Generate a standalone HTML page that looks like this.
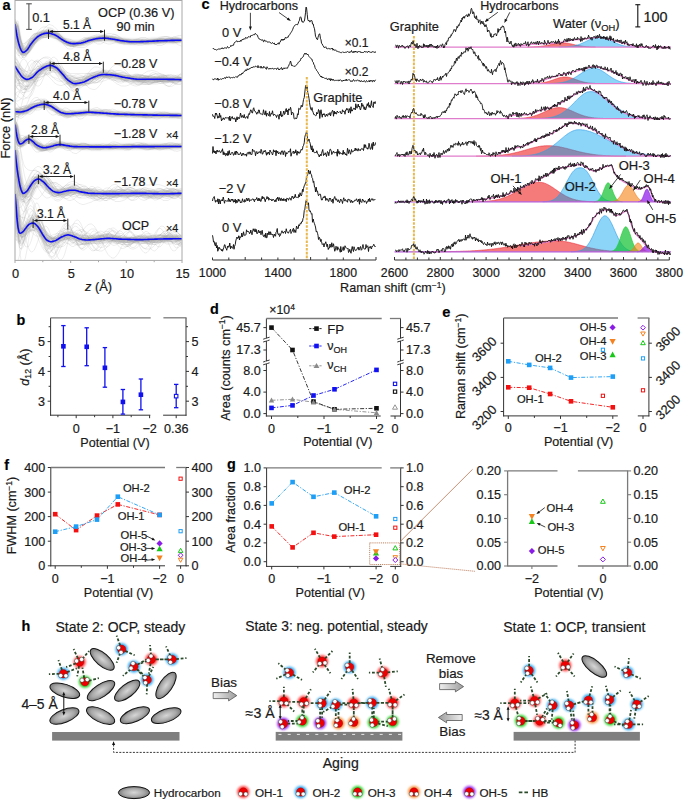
<!DOCTYPE html>
<html><head><meta charset="utf-8"><style>
html,body{margin:0;padding:0;background:#fff;}
svg{display:block;}
text{font-family:"Liberation Sans", sans-serif;stroke:#1a1a1a;stroke-width:0.2px;}
</style></head><body>
<svg width="685" height="802" viewBox="0 0 685 802">
<rect width="685" height="802" fill="#fff"/>
<clipPath id="clipA"><rect x="15.0" y="0.5" width="167.0" height="259.9"/></clipPath>
<filter id="blurA" x="-5%" y="-50%" width="110%" height="200%"><feGaussianBlur stdDeviation="1.2"/></filter>
<g clip-path="url(#clipA)"><g filter="url(#blurA)" fill="none" stroke="#cdcdcd" stroke-width="5" stroke-linejoin="round"><polyline points="15,24 18,40.6 21,49.8 24,52.2 27,50 30,45.4 33,41.5 36,38.2 39,35.9 42,34.2 45,33.4 48,33.1 51,33.6 54,34.6 57,36.1 60,38.2 63,40.1 66,41.8 69,42.9 72,43.5 75,43.6 78,43.4 81,43.1 84,42.2 87,41.2 90,40.2 93,39.4 96,38.8 99,38.4 102,38.2 105,38.1 108,38.4 111,38.9 114,39.3 117,39.9 120,40.5 123,40.9 126,41.3 129,41.6 132,41.8 135,41.8 138,41.7 141,41.6 144,41.5 147,41.4 150,41.3 153,41.1 156,41 159,40.8 162,40.7 165,40.6 168,40.5 171,40.4 174,40.4 177,40.3 180,40.2"/><polyline points="15,66 18,71 21,75.4 24,78.2 27,79.4 30,78.6 33,76.8 36,73.5 39,70.7 42,68.6 45,67 48,65.7 51,65.4 54,66.5 57,68.2 60,71.3 63,74.6 66,78.2 69,80.8 72,82.7 75,83.6 78,83.3 81,82.7 84,81.9 87,80.5 90,78.9 93,77.5 96,76.3 99,75.3 102,74.6 105,74.5 108,74.7 111,74.9 114,75.2 117,75.8 120,76.5 123,77.2 126,77.7 129,78.1 132,78.6 135,79 138,79.2 141,79.3 144,79.3 147,79.3 150,79.3 153,79.3 156,79.3 159,79.3 162,79.3 165,79.3 168,79.4 171,79.4 174,79.4 177,79.5 180,79.6"/><polyline points="15,111.5 18,111.9 21,112 24,111.4 27,110.4 30,108.9 33,107.3 36,105.9 39,105 42,104.4 45,104.2 48,105 51,106.3 54,108.2 57,110.1 60,112 63,113 66,113.7 69,113.8 72,113.6 75,113.4 78,113.2 81,112.9 84,112.6 87,112.3 90,112.3 93,112.4 96,112.6 99,112.8 102,113 105,113.2 108,113.5 111,113.7 114,113.9 117,114.1 120,114.2 123,114.3 126,114.4 129,114.5 132,114.6 135,114.7 138,114.7 141,114.8 144,114.9 147,114.9 150,115 153,115.1 156,115.1 159,115.2 162,115.2 165,115.3 168,115.3 171,115.4 174,115.4 177,115.4 180,115.5"/><polyline points="15,124.5 18,140.5 21,143.8 24,141.9 27,139.6 30,139.3 33,141.6 36,144.5 39,146.2 42,147.4 45,147.7 48,147.2 51,146.5 54,145.5 57,144.9 60,144.6 63,144.9 66,145.5 69,145.9 72,146.4 75,146.6 78,146.7 81,146.7 84,146.8 87,146.8 90,146.9 93,146.9 96,146.9 99,146.9 102,146.9 105,146.9 108,146.9 111,146.9 114,146.8 117,146.8 120,146.8 123,146.7 126,146.7 129,146.7 132,146.6 135,146.6 138,146.6 141,146.6 144,146.6 147,146.6 150,146.6 153,146.6 156,146.5 159,146.5 162,146.5 165,146.5 168,146.5 171,146.5 174,146.5 177,146.5 180,146.5"/><polyline points="15,150 18,174.9 21,189.5 24,193.2 27,191 30,186.5 33,182.3 36,179.7 39,179.1 42,180.8 45,183.4 48,186.8 51,189.6 54,191.6 57,192.4 60,192.5 63,191.8 66,191.1 69,190.4 72,190.3 75,190.3 78,191 81,191.9 84,192.4 87,192.9 90,193.3 93,193.4 96,193.5 99,193.5 102,193.6 105,193.6 108,193.6 111,193.6 114,193.6 117,193.6 120,193.5 123,193.5 126,193.5 129,193.5 132,193.4 135,193.4 138,193.4 141,193.4 144,193.4 147,193.5 150,193.5 153,193.6 156,193.6 159,193.7 162,193.7 165,193.7 168,193.7 171,193.6 174,193.6 177,193.5 180,193.4"/><polyline points="15,194 18,227.3 21,232.9 24,230.5 27,226.5 30,223.9 33,223 36,224.8 39,228.3 42,233.4 45,238 48,240.8 51,241.7 54,241.1 57,239.8 60,237.8 63,236.4 66,235.2 69,235 72,235.8 75,236.9 78,238.3 81,239.2 84,239.8 87,240 90,239.9 93,239.6 96,239.4 99,239.1 102,238.8 105,238.5 108,238.4 111,238.5 114,238.7 117,238.9 120,239.1 123,239.2 126,239.3 129,239.4 132,239.5 135,239.6 138,239.6 141,239.6 144,239.5 147,239.5 150,239.3 153,239.2 156,239.1 159,239 162,239 165,238.9 168,238.9 171,238.9 174,238.8 177,238.8 180,238.8"/></g></g>
<g clip-path="url(#clipA)"><g transform="scale(0.5)" fill="none" stroke="#a8a8a8" stroke-width="1.2" stroke-opacity="0.33"><path d="M30 52l3 17 3 12 3 10 3 6 3 3 3 0 3-2 3-3 3-4 3-4 3-4 3-3 3-3 3-3 3-2 3-1 3-2 3-1 3 0 3 0 3-1 3 1 3 0 3 1 3 1 3 2 3 1 3 2 3 2 3 2 3 2 3 2 3 1 3 2 3 1 3 0 3 1 3 0 3 0 3 0 3-1 3 0 3-1 3 0 3-1 3-2 3-1 3-1 3-1 3-1 3-1 3-1 3-1 3 0 3-1 3 0 3 0 3 0 3 0 3 0 3 0 3 1 3 0 3 1 3 1 3 1 3 0 3 1 3 1 3 1 3 0 3 1 3 0 3 1 3 0 3 1 3 0 3 0 3 0 3 0 3 0 3 0 3 0 3 0 3-1 3 0 3 0 3 0 3-1 3 0 3 0 3-1 3 0 3 0 3-1 3 0 3 0 3 0 3-1 3 0 3 0 3 0 3 0 3 0 3-1 3 0 3 0 3 0 3 0 3 0 3 0"/><path d="M30 64l3 14 3 10 3 6 3 4 3 1 3-1 3-3 3-3 3-4 3-4 3-3 3-2 3-2 3-1 3-1 3-1 3-1 3-1 3 0 3-1 3-1 3 0 3-1 3 0 3 0 3 0 3 0 3 1 3 1 3 2 3 1 3 2 3 2 3 2 3 2 3 2 3 2 3 1 3 1 3 1 3 1 3 1 3 0 3 0 3-1 3-1 3-2 3-2 3-2 3-1 3-2 3-2 3-2 3-1 3-1 3-1 3-1 3 0 3 0 3 1 3 1 3 1 3 1 3 1 3 2 3 1 3 1 3 2 3 0 3 1 3 1 3 0 3 0 3 0 3-1 3 0 3-1 3 0 3-1 3 0 3-1 3 0 3 0 3 0 3 0 3 1 3 0 3 1 3 0 3 1 3 0 3 0 3 1 3 0 3-1 3 0 3 0 3-1 3-1 3-1 3 0 3-1 3-1 3-1 3 0 3-1 3 0 3 0 3 0 3 1 3 0"/><path d="M30 38l3 17 3 17 3 14 3 10 3 8 3 3 3 2 3-1 3-2 3-4 3-4 3-4 3-5 3-5 3-6 3-5 3-5 3-5 3-4 3-4 3-2 3-3 3-1 3 1 3 1 3 2 3 3 3 3 3 5 3 5 3 4 3 5 3 4 3 4 3 3 3 2 3 1 3 1 3 0 3-1 3-2 3-1 3-2 3-2 3-2 3-3 3-2 3-1 3-2 3 0 3 0 3 0 3 1 3 2 3 1 3 2 3 1 3 2 3 1 3 1 3 1 3 1 3 0 3 0 3-1 3-1 3-1 3-1 3-2 3-1 3-1 3-1 3-1 3 0 3 0 3 0 3 1 3 1 3 1 3 1 3 2 3 1 3 1 3 1 3 0 3 1 3 0 3-1 3-1 3-1 3-1 3-2 3-2 3-1 3-2 3-2 3-1 3-1 3 0 3 0 3 0 3 0 3 1 3 2 3 1 3 1 3 2 3 1 3 2 3 1 3 1"/><path d="M30 56l3 0 3 7 3 16 3 11 3 7 3 4 3 0 3-3 3-3 3-4 3-5 3-4 3-2 3-3 3-1 3-2 3 0 3-1 3-1 3 0 3-1 3-1 3-1 3-1 3 0 3 0 3 0 3 1 3 1 3 2 3 2 3 2 3 3 3 2 3 2 3 2 3 2 3 2 3 0 3 1 3 0 3-1 3 0 3-1 3-1 3-2 3-2 3-1 3-2 3-1 3-1 3-1 3 0 3-1 3 1 3 0 3 0 3 0 3 1 3 0 3 0 3 0 3 1 3 0 3 0 3 0 3 0 3 0 3 0 3 0 3 1 3 0 3 1 3 0 3 1 3 1 3 0 3 1 3 0 3 1 3 0 3 0 3 0 3-1 3 0 3 0 3-1 3 0 3-1 3 0 3 0 3-1 3 0 3 0 3 0 3 0 3 0 3 1 3 0 3 0 3 0 3 0 3 0 3 0 3-1 3 0 3 0 3 0 3 0 3-1 3 0"/><path d="M30 48l3 5 3 20 3 15 3 12 3 7 3 4 3 0 3-3 3-3 3-6 3-5 3-5 3-5 3-5 3-4 3-4 3-2 3-3 3-1 3-2 3 0 3 0 3 0 3 1 3 2 3 2 3 1 3 2 3 3 3 2 3 3 3 2 3 2 3 1 3 2 3 0 3 1 3 0 3 0 3 0 3-1 3 0 3 0 3-1 3 0 3-1 3-1 3-1 3 0 3-1 3-1 3 0 3-1 3-1 3 0 3-1 3 0 3 0 3-1 3 0 3 1 3 0 3 0 3 1 3 0 3 1 3 1 3 0 3 1 3 1 3 0 3 1 3 0 3 0 3 0 3 0 3 0 3 0 3-1 3 0 3-1 3 0 3 0 3 0 3 0 3 0 3 0 3 0 3 1 3 0 3 1 3 0 3 1 3 0 3 1 3 0 3 0 3 0 3 0 3-1 3 0 3-1 3 0 3-1 3-1 3-1 3 0 3-1 3 0 3-1 3 0"/><path d="M30 92l3 5 3 2 3 0 3-3 3-4 3-3 3-4 3-4 3-2 3-2 3 0 3-1 3 0 3-1 3 0 3-1 3-1 3-2 3-2 3-1 3-2 3-1 3 0 3 0 3 2 3 1 3 3 3 3 3 4 3 3 3 3 3 3 3 2 3 2 3 0 3 0 3-1 3-1 3-1 3-2 3-1 3-1 3-1 3-1 3 0 3 0 3-1 3 0 3 0 3 0 3 0 3-1 3-1 3-1 3-1 3-2 3-1 3-1 3-1 3 0 3 0 3 1 3 1 3 2 3 1 3 2 3 2 3 1 3 2 3 1 3 0 3 0 3 0 3-1 3 0 3-1 3 0 3-1 3 0 3 1 3 0 3 1 3 1 3 1 3 0 3 1 3 0 3 0 3-1 3-1 3-1 3-1 3-2 3-1 3-1 3-1 3 0 3 0 3 0 3 1 3 1 3 1 3 0 3 1 3 0 3 0 3-1 3 0 3-1 3-1 3-1"/><path d="M30 47l3 1 3 2 3 20 3 16 3 11 3 7 3 4 3-1 3-2 3-4 3-6 3-5 3-5 3-4 3-5 3-3 3-3 3-2 3-1 3-1 3 0 3 0 3 0 3 0 3 2 3 1 3 1 3 1 3 2 3 2 3 1 3 2 3 1 3 2 3 1 3 1 3 1 3 1 3 0 3 1 3 0 3 0 3 0 3 0 3 0 3 0 3-1 3-1 3-1 3-1 3-1 3-1 3-1 3-1 3-1 3-1 3 0 3 0 3 0 3 0 3 0 3 1 3 1 3 0 3 1 3 1 3 0 3 1 3 1 3 0 3 0 3 0 3 0 3 0 3 0 3 0 3 1 3 0 3 0 3 0 3 0 3 0 3 0 3 0 3 1 3 0 3 0 3-1 3 0 3 0 3 0 3-1 3 0 3-1 3 0 3-1 3 0 3 0 3 0 3 0 3 0 3 0 3 1 3 0 3 0 3 0 3 0 3 0 3 0 3 0 3 0"/><path d="M30 56l3 13 3 15 3 11 3 7 3 4 3 0 3-2 3-3 3-5 3-5 3-5 3-4 3-3 3-3 3-3 3-2 3-2 3-2 3-1 3-1 3-1 3-1 3 0 3 1 3 1 3 1 3 2 3 2 3 2 3 3 3 3 3 3 3 3 3 2 3 2 3 2 3 1 3 1 3 0 3 0 3-1 3-1 3-1 3-1 3-2 3-2 3-2 3-2 3-2 3-2 3-1 3 0 3-1 3 0 3 0 3 0 3 1 3 0 3 1 3 1 3 0 3 1 3 1 3 1 3 0 3 1 3 0 3 1 3 0 3 1 3 0 3 0 3 0 3 0 3 0 3 1 3 0 3 0 3 0 3 0 3 0 3-1 3 0 3 0 3-1 3 0 3-1 3 0 3 0 3-1 3 0 3 0 3 0 3 0 3 0 3 1 3 0 3 1 3 0 3 1 3 0 3 1 3 0 3 0 3 0 3 0 3 0 3-1 3 0 3-1 3-1"/><path d="M30 48l3 13 3 10 3 8 3 6 3 2 3 0 3-1 3-2 3-2 3-2 3-2 3-2 3-1 3-1 3-1 3 0 3-1 3 0 3 0 3 0 3 0 3 0 3 1 3 0 3 1 3 1 3 2 3 1 3 2 3 2 3 2 3 2 3 1 3 2 3 1 3 0 3 1 3-1 3 0 3-1 3 0 3-1 3-2 3-1 3-2 3-1 3-2 3-2 3-2 3-2 3-1 3-1 3-1 3-1 3 0 3 0 3 0 3 0 3 1 3 1 3 1 3 2 3 1 3 2 3 1 3 2 3 2 3 1 3 1 3 2 3 0 3 1 3 1 3 0 3 0 3 0 3 0 3-1 3 0 3-1 3-1 3 0 3-1 3-1 3-1 3 0 3-1 3 0 3-1 3 0 3-1 3 0 3-1 3 0 3 0 3 0 3-1 3 0 3 0 3 0 3 0 3-1 3 0 3 0 3 0 3 0 3 0 3 0 3 0 3 1 3 0"/><path d="M30 93l3 5 3 4 3 0 3-2 3-3 3-4 3-4 3-5 3-4 3-4 3-3 3-3 3-2 3-1 3-1 3-1 3 0 3 1 3 0 3 1 3 1 3 1 3 1 3 2 3 1 3 2 3 1 3 2 3 2 3 2 3 1 3 2 3 1 3 0 3 0 3 1 3-1 3 0 3-1 3 0 3-1 3 0 3-1 3-1 3-1 3 0 3-1 3-1 3 0 3-1 3 0 3 0 3 0 3 0 3 0 3 1 3 0 3 0 3 0 3 1 3 0 3 1 3 0 3 0 3 0 3 0 3 0 3 1 3 0 3-1 3 0 3 0 3 0 3-1 3 0 3 0 3 0 3 0 3 0 3 0 3 0 3 0 3 0 3 1 3 0 3 1 3 0 3 1 3 0 3 0 3 1 3 0 3 0 3 0 3 1 3 0 3 0 3-1 3 0 3 0 3-1 3 0 3-1 3 0 3-1 3 0 3-1 3-1 3 0 3 0 3-1"/><path d="M30 54l3-1 3-2 3 18 3 13 3 9 3 6 3 3 3 0 3-2 3-3 3-4 3-3 3-3 3-2 3-3 3-2 3-2 3-2 3-2 3-2 3-1 3-2 3-2 3-1 3 0 3 0 3 1 3 1 3 3 3 2 3 4 3 3 3 3 3 3 3 2 3 2 3 1 3 1 3 0 3-1 3-1 3-1 3-1 3-1 3-1 3-1 3-1 3-1 3-1 3 0 3 0 3 0 3 0 3 0 3 0 3-1 3 0 3-1 3-1 3 0 3-1 3 0 3-1 3 0 3 0 3 1 3 1 3 1 3 1 3 1 3 2 3 1 3 1 3 1 3 0 3 1 3 0 3-1 3 0 3-1 3-1 3 0 3-1 3-1 3 0 3 0 3 0 3 1 3 0 3 1 3 0 3 0 3 1 3 0 3 0 3-1 3 0 3-1 3-1 3 0 3-1 3-1 3 0 3 0 3 0 3 0 3 1 3 0 3 1 3 0 3 1"/><path d="M30 73l3 15 3 11 3 7 3 4 3-1 3-3 3-4 3-6 3-6 3-5 3-5 3-4 3-3 3-2 3-1 3-1 3 0 3 0 3 1 3 1 3 1 3 1 3 0 3 1 3 1 3 1 3 0 3 1 3 1 3 1 3 1 3 0 3 1 3 1 3 1 3 0 3 1 3 1 3 0 3 0 3 1 3 0 3 0 3 0 3-1 3-1 3-1 3-1 3-2 3-1 3-1 3-2 3-1 3-1 3 0 3-1 3 0 3 0 3 1 3 1 3 1 3 1 3 1 3 1 3 1 3 1 3 1 3 0 3 1 3 0 3 0 3 0 3 0 3 0 3 0 3 0 3 0 3 0 3 0 3 0 3 1 3 0 3 1 3 1 3 0 3 0 3 1 3 0 3-1 3 0 3-1 3-1 3-1 3-1 3-1 3-1 3-1 3-1 3 0 3 0 3-1 3 0 3 1 3 0 3 1 3 0 3 1 3 1 3 0 3 1 3 0"/><path d="M30 48l3 17 3 16 3 13 3 8 3 6 3 1 3-1 3-3 3-4 3-5 3-5 3-4 3-4 3-4 3-3 3-3 3-3 3-2 3-1 3-2 3-1 3 0 3 0 3 0 3 1 3 1 3 1 3 2 3 2 3 3 3 2 3 3 3 2 3 2 3 2 3 1 3 1 3 1 3 1 3 0 3 0 3 0 3 0 3-1 3 0 3-1 3-2 3-1 3-1 3-2 3-1 3-1 3-1 3-1 3-1 3-1 3 0 3-1 3 0 3 0 3 0 3 1 3 0 3 1 3 1 3 1 3 0 3 1 3 1 3 1 3 1 3 1 3 0 3 1 3 1 3 0 3 0 3 0 3 0 3 0 3 0 3 0 3 0 3-1 3 0 3-1 3 0 3-1 3 0 3-1 3 0 3 0 3-1 3 0 3 0 3 0 3 0 3 0 3 0 3 0 3 0 3 0 3 1 3 0 3 0 3 0 3 1 3 0 3 0 3 0 3 0"/><path d="M30 45l3-2 3 17 3 13 3 10 3 7 3 5 3 0 3 0 3-1 3-3 3-3 3-3 3-3 3-2 3-3 3-3 3-3 3-3 3-2 3-3 3-1 3-2 3 0 3 0 3 1 3 2 3 2 3 3 3 4 3 4 3 4 3 3 3 3 3 3 3 2 3 1 3 1 3 0 3-1 3-1 3-1 3-1 3-1 3-1 3-1 3-1 3-1 3-1 3 0 3 0 3 0 3 0 3 0 3-1 3 0 3-1 3-1 3-1 3-1 3-1 3-2 3-1 3 0 3-1 3 0 3 0 3 0 3 1 3 1 3 2 3 1 3 1 3 1 3 1 3 1 3 1 3 0 3 0 3 0 3-1 3 0 3-1 3-1 3 0 3 0 3 0 3 0 3 0 3 1 3 1 3 0 3 1 3 1 3 1 3 1 3 0 3 0 3 0 3 0 3-1 3 0 3-1 3-1 3-1 3-1 3 0 3-1 3 0 3 0 3 1 3 0"/><path d="M30 58l3 18 3 13 3 9 3 5 3 2 3-2 3-4 3-5 3-5 3-5 3-4 3-2 3-2 3-1 3 0 3 0 3 0 3 0 3 0 3 0 3-1 3-1 3-1 3-1 3-1 3-1 3-1 3 1 3 0 3 2 3 2 3 2 3 3 3 2 3 3 3 2 3 2 3 1 3 1 3 0 3 0 3-1 3-1 3-1 3-2 3-1 3-2 3-1 3-1 3-1 3 0 3 0 3 1 3 0 3 1 3 1 3 0 3 0 3 0 3 0 3-1 3-1 3-1 3-1 3-1 3 0 3 0 3 0 3 0 3 1 3 1 3 1 3 2 3 1 3 1 3 1 3 1 3 1 3 0 3-1 3 0 3-1 3-1 3-1 3-1 3 0 3 0 3 0 3 0 3 1 3 1 3 0 3 1 3 1 3 1 3 0 3 0 3-1 3 0 3-2 3-1 3-1 3-1 3-2 3-1 3 0 3 0 3 0 3 0 3 1 3 1"/><path d="M30 49l3 13 3 18 3 14 3 10 3 6 3 2 3-1 3-3 3-5 3-7 3-6 3-5 3-6 3-5 3-4 3-3 3-3 3-2 3-1 3-1 3 0 3 1 3 1 3 2 3 2 3 3 3 2 3 3 3 3 3 3 3 2 3 2 3 2 3 1 3 1 3 0 3 0 3 0 3-1 3-1 3-1 3-1 3 0 3-1 3-1 3 0 3-1 3 0 3-1 3 0 3 0 3 0 3 1 3 0 3 0 3 0 3 0 3-1 3 0 3-1 3 0 3-1 3 0 3-1 3 0 3-1 3 0 3 0 3 0 3 0 3 1 3 0 3 1 3 1 3 1 3 1 3 2 3 1 3 1 3 0 3 1 3 0 3 1 3 0 3 0 3-1 3 0 3-1 3-1 3-1 3 0 3-1 3-1 3-1 3 0 3-1 3 0 3 0 3 1 3 0 3 0 3 1 3 1 3 0 3 1 3 0 3 0 3 1 3-1 3 0 3 0"/><path d="M30 58l3 7 3 19 3 13 3 9 3 4 3 1 3-4 3-5 3-6 3-7 3-7 3-6 3-5 3-3 3-2 3-1 3 0 3 0 3 2 3 1 3 2 3 2 3 2 3 1 3 1 3 1 3 0 3 0 3 0 3 0 3 0 3 0 3 0 3 0 3 1 3 0 3 1 3 1 3 2 3 1 3 2 3 1 3 2 3 2 3 0 3 1 3-1 3-1 3-1 3-2 3-2 3-2 3-3 3-2 3-2 3-2 3-1 3-1 3-1 3 0 3 1 3 1 3 2 3 2 3 2 3 2 3 2 3 2 3 2 3 1 3 0 3 0 3 0 3-1 3-1 3-1 3-2 3-1 3-1 3-1 3-1 3 0 3 0 3 1 3 0 3 2 3 1 3 1 3 2 3 1 3 1 3 0 3 1 3-1 3 0 3-1 3-1 3-2 3-2 3-1 3-2 3-1 3-1 3 0 3-1 3 1 3 0 3 1 3 1 3 2 3 1"/><path d="M30 71l3 15 3 11 3 7 3 5 3 0 3-1 3-3 3-4 3-6 3-4 3-5 3-4 3-4 3-3 3-3 3-2 3-2 3-2 3-1 3-1 3-1 3 0 3 0 3 1 3 1 3 1 3 2 3 2 3 3 3 2 3 3 3 2 3 3 3 2 3 2 3 1 3 1 3 1 3 1 3 0 3 0 3-1 3 0 3-1 3-1 3-2 3-1 3-2 3-2 3-1 3-2 3-1 3-1 3-1 3-1 3-1 3 0 3 0 3 0 3 0 3 1 3 1 3 1 3 1 3 1 3 1 3 1 3 1 3 1 3 1 3 1 3 0 3 1 3 0 3 0 3 0 3 0 3 0 3 0 3-1 3 0 3 0 3-1 3 0 3 0 3-1 3 0 3 0 3-1 3 0 3 0 3-1 3 0 3 0 3 0 3 0 3 0 3 0 3 0 3 0 3 1 3 0 3 0 3 1 3 0 3 0 3 1 3 0 3 0 3 0 3 0"/><path d="M30 47l3-3 3 12 3 15 3 11 3 8 3 6 3 2 3 0 3-1 3-3 3-3 3-2 3-2 3-3 3-2 3-2 3-2 3-2 3-3 3-2 3-2 3-2 3-2 3-1 3 0 3 0 3 0 3 1 3 2 3 3 3 3 3 3 3 3 3 3 3 3 3 2 3 2 3 2 3 1 3 0 3 0 3-1 3-1 3-1 3-2 3-2 3-2 3-2 3-2 3-2 3-1 3-1 3 0 3 0 3 0 3 1 3 0 3 1 3 1 3 0 3 1 3 1 3 0 3 1 3 0 3 0 3-1 3 0 3 0 3 0 3-1 3 0 3 0 3 0 3 1 3 0 3 1 3 1 3 1 3 1 3 0 3 1 3 1 3 0 3 0 3 0 3 0 3-1 3 0 3-1 3-1 3-1 3-1 3-1 3-1 3 0 3-1 3 0 3 1 3 0 3 1 3 0 3 1 3 1 3 0 3 1 3 1 3 0 3 0 3 0 3-1"/><path d="M30 79l3 12 3 9 3 6 3 2 3-1 3-2 3-3 3-4 3-6 3-4 3-4 3-4 3-3 3-3 3-2 3-2 3-2 3-1 3-1 3-1 3 0 3 0 3 0 3 1 3 0 3 1 3 2 3 2 3 2 3 2 3 2 3 2 3 2 3 2 3 1 3 1 3 2 3 0 3 1 3 0 3 0 3 0 3 0 3 0 3-1 3-1 3-1 3-1 3-1 3-1 3-1 3-1 3-1 3-1 3 0 3-1 3 0 3-1 3 0 3 0 3 0 3 1 3 0 3 1 3 0 3 0 3 1 3 0 3 1 3 0 3 0 3 1 3 0 3 0 3 0 3 0 3 1 3 0 3 0 3 0 3 0 3 1 3 0 3 0 3 0 3 1 3 0 3 0 3 1 3 0 3 0 3 0 3-1 3 0 3 0 3 0 3-1 3 0 3-1 3 0 3-1 3 0 3 0 3-1 3 0 3 0 3 0 3 0 3 0 3 0 3 0"/><path d="M30 49l3 2 3 2 3 11 3 18 3 14 3 9 3 5 3-1 3-3 3-5 3-6 3-7 3-5 3-5 3-5 3-3 3-2 3-2 3-1 3 0 3 1 3 1 3 0 3 2 3 1 3 2 3 1 3 1 3 2 3 1 3 1 3 2 3 0 3 1 3 1 3 0 3 1 3 0 3 0 3 1 3 0 3 1 3 0 3 1 3 1 3 0 3 0 3-1 3-1 3-1 3-1 3-1 3-1 3-2 3-1 3-1 3-2 3-1 3 0 3-1 3 0 3 1 3 0 3 1 3 2 3 1 3 1 3 2 3 1 3 1 3 1 3 0 3 1 3 0 3 0 3-1 3 0 3-1 3 0 3-1 3-1 3 0 3 0 3 0 3 0 3 0 3 1 3 0 3 1 3 1 3 0 3 0 3 1 3 0 3-1 3 0 3-1 3 0 3-1 3-1 3-1 3 0 3-1 3 0 3 0 3-1 3 1 3 0 3 0 3 1 3 1"/><path d="M30 50l3 1 3 1 3 20 3 15 3 11 3 7 3 3 3-1 3-2 3-3 3-5 3-4 3-4 3-3 3-3 3-2 3-2 3-2 3-1 3-1 3-1 3-1 3-1 3 0 3 0 3 0 3 1 3 1 3 1 3 2 3 2 3 2 3 2 3 2 3 2 3 1 3 0 3 1 3 0 3-1 3 0 3-1 3-1 3-1 3-1 3-1 3-1 3-2 3-1 3-1 3 0 3-1 3-1 3-1 3 0 3-1 3 0 3-1 3 0 3-1 3 0 3 0 3 0 3 1 3 0 3 1 3 1 3 1 3 1 3 1 3 1 3 1 3 1 3 0 3 1 3 0 3 0 3 1 3 0 3 0 3 0 3 0 3 0 3 1 3 0 3 1 3 0 3 0 3 1 3 0 3 0 3 0 3 0 3 0 3-1 3 0 3 0 3-1 3 0 3 0 3 0 3 0 3 0 3 0 3 0 3 0 3 0 3 0 3 0 3 0 3-1"/><path d="M30 47l3 20 3 17 3 13 3 9 3 6 3 0 3-2 3-3 3-6 3-6 3-7 3-5 3-6 3-5 3-3 3-3 3-2 3-2 3 0 3 0 3 1 3 1 3 2 3 2 3 2 3 2 3 2 3 2 3 2 3 2 3 1 3 1 3 1 3 1 3 1 3 0 3 1 3 0 3 0 3 0 3 0 3 1 3 0 3-1 3 0 3-1 3-1 3-2 3-1 3-1 3-1 3-2 3-1 3 0 3-1 3 0 3 0 3 1 3 0 3 1 3 1 3 1 3 1 3 1 3 0 3 0 3 1 3 0 3-1 3 0 3 0 3-1 3 0 3 0 3 0 3 0 3 0 3 1 3 1 3 0 3 1 3 1 3 1 3 0 3 1 3 0 3 0 3 0 3-1 3 0 3-1 3-1 3-1 3-1 3-1 3 0 3 0 3-1 3 0 3 1 3 0 3 0 3 1 3 0 3 0 3 0 3 0 3 0 3 0 3 0 3-1"/><path d="M30 51l3 16 3 12 3 9 3 6 3 4 3 0 3-1 3-1 3-2 3-3 3-2 3-2 3-2 3-3 3-3 3-2 3-3 3-3 3-3 3-2 3-2 3-2 3-1 3 0 3 1 3 2 3 2 3 3 3 4 3 4 3 3 3 3 3 3 3 3 3 1 3 1 3 0 3-1 3-1 3-2 3-1 3-2 3-1 3-1 3 0 3-1 3-1 3 0 3 0 3 1 3 0 3 0 3 0 3 0 3 0 3-1 3-1 3-1 3-1 3-1 3-1 3-1 3 0 3 0 3 0 3 1 3 2 3 1 3 2 3 2 3 1 3 1 3 1 3 1 3 1 3 0 3-1 3 0 3-1 3-1 3-1 3-1 3-1 3-1 3 0 3 0 3 0 3 1 3 1 3 1 3 0 3 1 3 0 3 1 3 0 3-1 3 0 3-1 3-1 3-1 3-1 3-1 3-1 3 0 3 0 3 0 3 1 3 0 3 1 3 1 3 1"/><path d="M30 43l3-1 3 0 3 19 3 16 3 13 3 9 3 6 3 2 3-1 3-3 3-4 3-5 3-5 3-5 3-5 3-5 3-3 3-3 3-3 3-1 3-1 3 0 3 1 3 1 3 2 3 2 3 3 3 1 3 3 3 2 3 1 3 2 3 0 3 1 3 1 3 0 3 0 3 0 3 1 3 0 3 1 3 0 3 1 3 1 3 1 3 0 3-1 3-1 3-1 3-1 3-2 3-2 3-1 3-2 3-2 3-1 3 0 3-1 3 1 3 0 3 1 3 1 3 2 3 1 3 1 3 1 3 1 3 0 3 0 3 0 3 0 3-1 3 0 3-1 3 0 3 0 3 0 3 1 3 1 3 0 3 1 3 1 3 1 3 1 3 0 3 0 3 0 3-1 3-1 3 0 3-2 3-1 3-1 3 0 3-1 3 0 3 0 3 1 3 0 3 1 3 1 3 0 3 1 3 0 3 0 3 0 3 0 3-1 3-1 3 0 3-1"/><path d="M30 59l3 13 3 10 3 8 3 6 3 4 3 1 3 0 3-1 3-2 3-2 3-3 3-3 3-3 3-4 3-4 3-4 3-4 3-4 3-3 3-2 3-2 3-1 3 0 3 2 3 2 3 3 3 3 3 3 3 4 3 3 3 3 3 2 3 2 3 1 3 0 3 0 3 0 3-1 3 0 3-1 3 0 3 0 3 0 3 1 3 0 3 0 3 0 3 0 3-1 3-1 3-1 3-2 3-2 3-2 3-2 3-2 3-1 3-1 3 0 3 0 3 1 3 2 3 1 3 2 3 2 3 2 3 2 3 1 3 1 3 0 3 0 3 0 3-1 3-1 3 0 3-1 3-1 3 0 3 0 3 1 3 0 3 1 3 1 3 0 3 1 3 0 3 0 3-1 3 0 3-1 3-2 3-1 3-1 3-1 3 0 3 0 3 0 3 1 3 1 3 1 3 1 3 1 3 2 3 0 3 1 3 0 3-1 3-1 3-1 3-1 3-2"/><path d="M30 51l3 16 3 19 3 14 3 9 3 6 3 1 3-2 3-4 3-6 3-7 3-6 3-6 3-5 3-5 3-4 3-2 3-2 3-2 3-1 3 0 3-1 3 1 3 0 3 1 3 1 3 1 3 1 3 2 3 2 3 2 3 3 3 2 3 2 3 3 3 2 3 2 3 1 3 1 3 1 3 0 3 0 3-1 3-1 3-1 3-2 3-1 3-2 3-2 3-1 3-1 3-1 3-1 3 0 3 0 3 0 3 0 3 0 3 0 3 0 3 0 3 0 3 0 3 0 3 0 3 0 3 0 3 1 3 0 3 1 3 1 3 1 3 1 3 1 3 0 3 1 3 0 3 1 3-1 3 0 3 0 3 0 3-1 3 0 3 0 3 0 3 0 3 1 3 0 3 0 3 0 3 0 3 0 3 0 3 0 3-1 3-1 3-1 3-1 3-1 3 0 3-1 3 0 3-1 3 1 3 0 3 0 3 1 3 1 3 0 3 1 3 0"/><path d="M30 38l3 19 3 15 3 13 3 9 3 6 3 2 3 1 3-1 3-3 3-3 3-3 3-3 3-4 3-3 3-3 3-3 3-3 3-3 3-2 3-2 3-2 3-1 3 0 3 0 3 1 3 1 3 1 3 2 3 3 3 3 3 2 3 3 3 2 3 2 3 2 3 1 3 0 3 1 3 0 3 0 3-1 3 0 3-1 3 0 3-1 3-1 3-1 3-1 3-1 3 0 3 0 3-1 3 0 3-1 3 0 3 0 3-1 3 0 3-1 3 0 3-1 3 0 3 0 3 0 3 0 3 0 3 0 3 1 3 0 3 1 3 1 3 1 3 1 3 1 3 2 3 1 3 1 3 1 3 0 3 0 3 0 3 0 3 0 3-1 3-1 3-1 3-1 3-1 3-1 3-1 3-1 3 0 3-1 3 0 3 0 3 0 3 1 3 0 3 1 3 1 3 0 3 1 3 1 3 0 3 1 3 0 3 0 3 0 3-1 3 0 3-1"/><path d="M30 77l3-1 3 4 3 16 3 11 3 6 3 3 3-2 3-5 3-6 3-7 3-8 3-8 3-6 3-6 3-4 3-4 3-3 3-2 3-1 3 0 3 0 3 1 3 1 3 1 3 2 3 3 3 2 3 2 3 3 3 3 3 3 3 3 3 3 3 3 3 2 3 2 3 2 3 1 3 2 3 1 3 0 3 1 3 0 3 0 3 0 3 0 3-1 3-2 3-2 3-1 3-2 3-2 3-3 3-2 3-2 3-2 3-2 3-2 3-2 3-1 3-1 3-1 3 0 3 0 3 1 3 0 3 2 3 1 3 2 3 2 3 1 3 2 3 2 3 2 3 1 3 2 3 1 3 1 3 1 3 1 3 0 3 1 3 0 3 0 3 0 3-1 3 0 3 0 3 0 3-1 3 0 3-1 3 0 3-1 3-1 3 0 3-1 3-1 3-1 3-1 3-2 3-1 3-1 3-1 3-1 3-2 3 0 3-1 3-1 3 0 3 0"/><path d="M30 54l3 6 3 17 3 12 3 8 3 4 3 1 3-3 3-4 3-4 3-5 3-4 3-2 3-2 3-1 3 0 3 0 3 0 3-1 3-1 3-1 3-1 3-3 3-2 3-2 3-1 3-1 3 0 3 0 3 2 3 4 3 3 3 4 3 4 3 4 3 3 3 3 3 2 3 0 3 0 3-1 3-2 3-2 3-3 3-2 3-2 3-2 3-1 3-1 3 0 3 1 3 0 3 1 3 1 3 1 3 0 3 1 3-1 3-1 3-1 3-1 3-1 3-1 3-1 3 0 3 0 3 0 3 1 3 1 3 2 3 1 3 2 3 1 3 1 3 1 3 0 3 0 3 0 3 0 3-1 3 0 3-1 3 0 3-1 3 0 3 0 3 0 3 1 3 0 3 0 3 0 3-1 3 0 3 0 3-1 3 0 3 0 3 0 3 0 3 0 3 1 3 0 3 0 3 1 3 0 3 0 3-1 3 0 3-1 3-1 3-1 3-1"/><path d="M30 100l3 6 3 5 3 0 3-2 3-3 3-4 3-6 3-5 3-5 3-5 3-4 3-4 3-4 3-2 3-2 3-2 3 0 3-1 3 0 3 1 3 1 3 1 3 2 3 2 3 2 3 2 3 2 3 3 3 2 3 2 3 2 3 2 3 1 3 1 3 0 3 0 3 0 3 0 3-1 3-1 3 0 3-1 3-1 3 0 3-1 3-1 3-1 3-1 3-1 3 0 3 0 3-1 3 0 3 0 3 0 3 0 3 0 3 0 3 0 3 0 3 0 3 0 3 0 3 0 3 0 3 0 3 1 3 0 3 0 3 0 3 1 3 0 3 0 3 1 3 1 3 0 3 1 3 0 3 1 3 0 3 1 3 0 3 0 3 0 3 0 3 0 3 0 3 0 3 0 3-1 3 0 3-1 3-1 3 0 3-1 3 0 3-1 3 0 3-1 3 0 3 0 3 0 3 0 3 0 3 0 3 1 3 0 3 0 3 1 3 0 3 0"/><path d="M30 58l3 15 3 11 3 9 3 6 3 3 3-1 3-1 3-2 3-4 3-3 3-4 3-3 3-3 3-2 3-3 3-2 3-2 3-2 3-1 3-1 3-1 3 0 3 0 3 1 3 1 3 1 3 1 3 3 3 2 3 2 3 3 3 1 3 2 3 2 3 1 3 1 3 0 3 0 3 0 3-1 3 0 3-1 3-1 3 0 3-1 3-2 3-1 3-1 3-1 3 0 3-1 3 0 3-1 3 0 3 0 3 0 3 0 3-1 3 0 3 0 3 0 3 0 3 0 3 1 3 0 3 0 3 1 3 1 3 0 3 1 3 1 3 1 3 0 3 1 3 1 3 0 3 1 3 0 3 0 3 0 3 0 3 0 3-1 3 0 3 0 3-1 3 0 3 0 3-1 3 0 3 0 3 0 3 0 3 0 3 1 3 0 3 0 3 0 3 0 3 0 3-1 3 0 3 0 3-1 3 0 3 0 3-1 3 0 3-1 3 0 3 0"/><path d="M30 47l3 18 3 13 3 11 3 6 3 4 3 0 3-2 3-2 3-4 3-5 3-3 3-3 3-3 3-2 3-2 3-1 3-2 3-1 3 0 3 0 3-1 3 0 3 0 3 1 3 0 3 1 3 1 3 1 3 2 3 1 3 2 3 2 3 2 3 1 3 2 3 1 3 1 3 1 3 1 3 0 3 1 3 0 3 0 3 0 3-1 3 0 3-2 3-1 3-1 3-2 3-1 3-1 3-1 3-2 3-1 3 0 3-1 3 0 3-1 3 0 3 1 3 0 3 1 3 0 3 1 3 1 3 1 3 0 3 1 3 1 3 1 3 0 3 1 3 0 3 0 3 0 3 0 3 0 3 0 3 0 3 0 3 0 3-1 3 0 3 0 3 0 3 0 3 0 3 0 3 0 3 0 3 0 3 0 3 0 3 1 3 0 3 0 3 0 3 0 3 0 3 0 3 0 3 0 3 0 3 0 3-1 3 0 3-1 3 0 3-1 3 0"/><path d="M30 68l3 16 3 11 3 9 3 5 3 1 3-2 3-3 3-4 3-6 3-5 3-5 3-4 3-5 3-3 3-3 3-2 3-2 3-2 3-1 3 0 3-1 3 0 3 1 3 1 3 1 3 2 3 2 3 2 3 2 3 3 3 2 3 2 3 2 3 2 3 2 3 1 3 1 3 0 3 0 3 0 3 0 3 0 3-1 3 0 3-1 3-1 3-1 3-1 3-1 3-1 3-1 3-1 3-1 3 0 3-1 3 0 3 0 3 0 3 0 3 0 3 0 3 0 3 1 3 0 3 1 3 0 3 1 3 1 3 0 3 1 3 0 3 0 3 0 3 1 3 0 3 0 3 0 3 0 3 0 3 0 3-1 3 0 3 0 3 0 3 0 3 0 3-1 3 0 3 0 3 0 3 0 3 0 3 0 3 0 3 0 3 0 3 0 3 0 3 1 3 0 3 0 3 0 3 0 3 0 3 0 3 0 3 0 3 0 3 0 3 0 3 0"/><path d="M30 63l3 16 3 14 3 10 3 4 3 1 3-4 3-7 3-6 3-7 3-7 3-5 3-3 3-1 3 0 3 0 3 2 3 2 3 2 3 1 3 0 3 0 3 0 3-2 3-1 3-1 3-1 3-1 3 1 3 1 3 2 3 3 3 3 3 3 3 3 3 3 3 1 3 1 3 1 3-1 3-2 3-2 3-3 3-2 3-2 3-2 3-2 3 0 3 0 3 1 3 2 3 2 3 2 3 3 3 1 3 2 3 0 3 0 3-1 3-2 3-3 3-2 3-3 3-3 3-2 3-2 3-1 3 0 3 1 3 2 3 2 3 2 3 3 3 2 3 3 3 2 3 1 3 1 3 0 3 0 3 0 3-1 3-1 3 0 3-1 3 0 3 0 3 0 3 0 3 0 3 0 3-1 3-1 3-1 3-1 3-2 3-1 3-2 3-1 3-1 3-1 3 0 3 1 3 2 3 2 3 2 3 3 3 3 3 2 3 2 3 1 3 1"/><path d="M30 47l3-2 3 15 3 12 3 9 3 7 3 4 3 1 3 1 3-1 3-1 3-2 3-2 3-2 3-3 3-3 3-3 3-4 3-3 3-4 3-4 3-3 3-2 3-1 3 0 3 1 3 2 3 3 3 4 3 5 3 6 3 5 3 5 3 4 3 3 3 3 3 1 3 0 3 0 3-2 3-3 3-2 3-3 3-3 3-2 3-2 3-2 3-1 3-1 3 0 3 1 3 1 3 1 3 1 3 0 3 1 3 0 3 0 3-1 3-1 3-1 3-1 3-2 3-1 3-1 3 0 3 0 3 0 3 2 3 1 3 2 3 1 3 2 3 1 3 1 3 1 3 0 3 0 3-1 3-1 3-2 3-2 3-1 3-2 3-1 3 0 3 0 3 0 3 2 3 1 3 3 3 2 3 2 3 2 3 2 3 2 3 0 3 0 3 0 3-2 3-1 3-3 3-2 3-2 3-2 3-2 3-1 3-1 3 0 3 1 3 1 3 1"/><path d="M30 46l3 15 3 15 3 11 3 8 3 5 3 0 3-1 3-2 3-4 3-4 3-3 3-4 3-2 3-3 3-2 3-2 3-1 3-1 3-1 3-1 3 0 3 0 3 0 3 0 3 1 3 1 3 0 3 2 3 1 3 2 3 2 3 1 3 2 3 1 3 1 3 1 3 1 3 0 3 1 3 0 3 0 3 0 3-1 3 0 3 0 3-1 3 0 3-1 3-1 3-1 3 0 3-1 3 0 3-1 3 0 3-1 3 0 3 0 3-1 3 0 3 0 3 0 3 0 3 0 3 0 3 1 3 0 3 0 3 1 3 0 3 1 3 0 3 1 3 0 3 1 3 0 3 1 3 0 3 1 3 0 3 0 3 1 3 0 3 0 3 0 3 0 3 0 3-1 3 0 3 0 3-1 3 0 3 0 3-1 3 0 3-1 3 0 3 0 3-1 3 0 3 0 3 0 3 0 3-1 3 0 3 1 3 0 3 0 3 0 3 0 3 0"/><path d="M30 85l3 11 3 8 3 4 3 1 3-3 3-4 3-5 3-6 3-6 3-5 3-4 3-3 3-3 3-2 3-1 3-1 3 0 3 0 3 1 3 1 3 1 3 1 3 1 3 1 3 1 3 1 3 1 3 2 3 1 3 1 3 1 3 1 3 1 3 1 3 0 3 1 3 0 3 0 3 1 3 0 3 0 3 1 3 0 3 0 3 0 3 0 3-1 3-1 3-1 3-1 3-1 3-1 3-1 3-1 3-1 3-1 3-1 3-1 3 0 3-1 3 0 3 1 3 1 3 0 3 1 3 2 3 1 3 2 3 1 3 1 3 1 3 1 3 1 3 0 3 1 3 0 3-1 3 0 3-1 3 0 3-1 3-1 3-1 3-1 3-1 3 0 3-1 3 0 3 0 3 0 3 1 3 0 3 1 3 1 3 0 3 1 3 1 3 0 3 1 3 0 3 0 3 0 3-1 3 0 3-1 3-1 3-1 3 0 3-1 3-1 3-1"/><path d="M30 54l3-2 3 10 3 15 3 12 3 8 3 6 3 1 3 0 3-2 3-3 3-4 3-4 3-3 3-3 3-4 3-3 3-3 3-3 3-3 3-2 3-2 3-2 3-1 3-1 3 0 3 0 3 2 3 1 3 2 3 3 3 3 3 3 3 3 3 3 3 2 3 2 3 1 3 1 3 0 3-1 3 0 3-1 3-1 3-1 3-1 3-1 3-1 3-1 3-1 3 0 3 0 3 0 3 0 3 0 3 1 3 0 3 1 3 0 3 0 3 0 3 1 3 0 3-1 3 0 3 0 3 0 3 0 3 0 3 1 3 0 3 1 3 0 3 1 3 1 3 1 3 1 3 0 3 1 3 0 3 1 3-1 3 0 3 0 3-1 3-1 3-1 3-1 3-1 3-1 3-1 3 0 3-1 3 0 3 0 3 0 3 0 3 1 3 0 3 0 3 1 3 0 3 0 3 0 3 0 3-1 3 0 3-1 3-1 3 0 3-1 3 0"/><path d="M30 45l3 1 3 3 3 20 3 16 3 11 3 8 3 3 3-1 3-3 3-4 3-6 3-5 3-5 3-4 3-4 3-3 3-2 3-1 3-1 3-1 3 0 3 0 3 1 3 0 3 1 3 1 3 1 3 0 3 2 3 1 3 2 3 2 3 1 3 2 3 2 3 1 3 1 3 2 3 0 3 1 3 0 3 0 3 0 3-1 3 0 3-1 3-2 3-1 3-2 3-1 3-1 3-1 3 0 3-1 3 0 3 0 3 0 3 0 3 0 3 0 3 0 3 1 3 0 3 0 3 0 3 0 3 0 3 1 3 0 3 1 3 0 3 1 3 1 3 0 3 1 3 1 3 0 3 0 3 0 3 0 3 0 3 0 3 0 3-1 3 0 3-1 3 0 3 0 3 0 3 0 3 0 3 0 3 0 3 0 3 0 3 0 3 0 3 0 3 0 3 0 3-1 3 0 3 0 3-1 3 0 3 0 3 0 3 0 3 0 3 0 3 1"/><path d="M30 76l3 17 3 13 3 8 3 3 3-2 3-5 3-6 3-9 3-8 3-8 3-5 3-5 3-2 3-1 3 1 3 1 3 2 3 2 3 2 3 1 3 0 3-1 3-1 3-2 3-2 3-1 3-1 3 0 3 1 3 3 3 3 3 3 3 4 3 4 3 4 3 2 3 2 3 0 3 0 3-2 3-2 3-2 3-3 3-2 3-2 3-2 3-1 3 0 3 1 3 1 3 1 3 1 3 1 3 1 3-1 3 0 3-2 3-1 3-2 3-2 3-2 3 0 3-1 3 1 3 1 3 2 3 2 3 3 3 2 3 2 3 1 3 1 3 0 3-1 3-1 3-1 3-2 3-1 3-2 3 0 3 0 3 0 3 1 3 2 3 2 3 1 3 1 3 1 3 0 3 0 3-1 3-2 3-2 3-1 3-2 3-1 3-1 3 0 3 0 3 1 3 2 3 2 3 1 3 1 3 1 3 0 3 0 3-1 3-1 3-2 3-2"/><path d="M30 44l3 10 3 16 3 13 3 8 3 6 3 2 3-1 3-2 3-3 3-5 3-4 3-4 3-3 3-3 3-3 3-2 3-1 3-2 3-1 3 0 3 0 3 0 3 0 3 1 3 1 3 2 3 1 3 2 3 2 3 3 3 2 3 2 3 2 3 2 3 2 3 1 3 1 3 1 3 0 3 0 3 0 3 0 3 0 3-1 3 0 3-1 3-2 3-1 3-1 3-1 3-1 3-1 3-1 3-1 3-1 3 0 3-1 3 0 3-1 3 0 3 0 3 0 3 0 3 1 3 0 3 0 3 1 3 0 3 1 3 0 3 0 3 1 3 0 3 0 3 1 3 0 3 0 3 0 3 1 3 0 3 0 3 0 3 0 3 0 3 0 3 0 3 0 3 0 3 0 3 0 3 0 3 0 3 0 3 0 3 0 3 0 3 0 3 0 3 0 3 0 3 0 3 1 3 0 3 0 3 0 3 0 3 0 3 0 3 0 3 0 3 0"/><path d="M30 50l3 9 3 18 3 14 3 9 3 6 3 2 3-1 3-3 3-5 3-6 3-5 3-5 3-4 3-4 3-3 3-3 3-2 3-1 3-1 3 0 3 0 3 0 3 1 3 1 3 2 3 1 3 1 3 2 3 2 3 2 3 2 3 2 3 1 3 2 3 1 3 1 3 0 3 1 3 0 3 0 3 0 3 0 3 0 3 0 3-1 3 0 3-2 3-1 3-1 3-1 3-1 3-1 3-2 3-1 3 0 3-1 3 0 3-1 3 0 3 0 3 1 3 1 3 0 3 1 3 1 3 1 3 1 3 1 3 1 3 1 3 0 3 1 3 0 3 0 3 0 3 0 3 0 3-1 3 0 3 0 3 0 3 0 3 0 3 0 3 0 3 0 3 0 3 0 3 0 3 0 3 0 3-1 3 0 3 0 3-1 3 0 3 0 3 0 3-1 3 0 3 0 3 0 3 0 3 1 3 0 3 0 3 1 3 0 3 0 3 0 3 0"/><path d="M30 50l3 18 3 14 3 11 3 8 3 5 3 0 3-2 3-2 3-4 3-5 3-4 3-3 3-4 3-3 3-3 3-3 3-2 3-2 3-2 3-1 3 0 3-1 3 0 3 1 3 1 3 1 3 2 3 2 3 2 3 2 3 2 3 2 3 2 3 2 3 1 3 0 3 1 3 0 3 0 3 0 3-1 3 0 3 0 3 0 3-1 3 0 3-1 3-1 3-1 3-1 3 0 3-1 3-1 3 0 3-1 3 0 3-1 3 0 3 0 3 0 3 0 3 1 3 1 3 0 3 1 3 1 3 1 3 1 3 0 3 1 3 0 3 1 3 0 3 0 3 0 3 0 3 0 3 0 3 0 3-1 3 0 3 0 3 0 3 0 3 0 3 0 3-1 3 0 3 0 3 0 3-1 3 0 3-1 3 0 3 0 3-1 3 0 3 0 3 0 3 0 3 1 3 0 3 0 3 0 3 1 3 0 3 0 3 1 3 0 3 0 3 0"/><path d="M30 118l3 1 3 4 3 4 3 5 3 5 3 5 3 4 3 4 3 3 3 2 3 1 3 0 3-1 3-3 3-3 3-2 3-3 3-3 3-3 3-3 3-3 3-2 3-1 3 0 3 1 3 2 3 3 3 3 3 3 3 5 3 4 3 5 3 4 3 3 3 3 3 2 3 2 3 0 3 1 3-1 3-1 3-2 3-1 3-1 3-1 3-1 3 0 3-1 3-1 3-1 3-1 3-1 3 0 3-2 3-1 3-1 3-2 3-1 3-1 3-1 3-1 3-1 3 0 3 0 3 0 3 0 3 1 3 1 3 2 3 1 3 2 3 1 3 1 3 1 3 0 3 1 3 0 3 0 3-1 3 0 3 0 3-1 3 0 3 0 3 0 3 0 3 1 3 0 3 1 3 1 3 1 3 1 3 1 3 1 3 0 3 0 3 0 3 0 3-1 3-1 3 0 3-1 3 0 3 0 3 0 3 0 3 1 3 0 3 1 3 1 3 1"/><path d="M30 132l3 1 3 2 3 2 3 3 3 1 3 1 3 1 3 0 3-1 3-1 3 0 3-1 3-1 3-1 3-1 3 0 3 0 3 1 3 1 3 1 3 0 3 1 3 0 3 1 3 1 3 1 3 1 3 1 3 2 3 2 3 2 3 2 3 2 3 2 3 1 3 2 3 0 3 1 3 1 3 0 3-1 3-1 3-1 3-1 3-1 3 0 3-2 3-1 3-1 3-2 3-1 3 0 3-1 3 0 3 0 3 0 3 1 3 0 3 1 3 2 3 1 3 1 3 1 3 0 3 1 3 0 3 0 3 0 3 0 3-1 3 0 3-1 3-1 3 0 3-1 3-1 3 0 3 0 3-1 3 0 3 1 3 0 3 0 3 0 3 1 3 0 3 1 3 0 3 1 3 1 3 0 3 1 3 0 3 1 3 1 3 0 3 1 3 1 3 0 3 1 3 0 3 1 3 0 3 0 3 0 3 0 3 0 3-1 3-1 3 0 3-1"/><path d="M30 169l3 5 3 4 3 2 3 1 3-1 3-2 3-3 3-4 3-5 3-4 3-5 3-6 3-4 3-4 3-3 3-3 3-1 3-2 3-1 3-1 3-1 3-1 3 0 3 1 3 1 3 0 3 2 3 2 3 3 3 3 3 3 3 4 3 3 3 4 3 3 3 3 3 2 3 2 3 2 3 0 3 0 3 0 3-1 3-1 3-1 3-1 3-2 3-1 3-2 3-1 3-1 3-1 3 0 3-1 3 0 3-1 3 0 3 0 3 0 3-1 3 0 3-1 3-1 3 0 3-1 3-1 3 0 3-1 3 0 3 1 3 0 3 1 3 1 3 1 3 1 3 1 3 1 3 1 3 1 3 1 3 0 3 0 3 1 3 0 3-1 3 0 3 0 3 1 3 0 3 0 3 0 3 1 3 0 3 1 3 0 3 0 3 1 3 0 3-1 3 0 3 0 3-1 3 0 3 0 3-1 3 0 3 0 3 0 3 0 3 0 3 0"/><path d="M30 148l3 5 3 4 3 3 3 2 3 0 3 0 3-1 3-1 3-2 3-3 3-2 3-3 3-4 3-3 3-3 3-3 3-3 3-2 3-2 3-2 3-1 3-1 3 0 3 1 3 2 3 2 3 4 3 3 3 5 3 5 3 5 3 4 3 4 3 4 3 2 3 1 3 1 3 0 3-1 3-2 3-2 3-2 3-2 3-1 3-1 3-1 3-1 3 0 3-1 3 0 3 0 3 0 3 1 3-1 3 0 3-1 3-1 3-1 3 0 3-1 3-1 3 0 3 0 3 0 3 0 3 0 3 1 3 1 3 1 3 1 3 1 3 1 3 0 3 0 3 0 3-1 3 0 3-1 3 0 3 0 3 0 3 0 3 0 3 1 3 2 3 1 3 2 3 1 3 2 3 1 3 1 3 1 3-1 3 0 3-1 3-2 3-2 3-2 3-2 3-2 3-1 3-1 3 0 3 0 3 0 3 2 3 1 3 2 3 2 3 2 3 1"/><path d="M30 148l3-2 3-3 3-1 3 3 3 2 3 3 3 1 3 1 3 0 3 0 3-2 3-2 3-2 3-2 3-3 3-3 3-2 3-1 3-1 3-1 3-1 3 0 3 0 3 0 3 0 3 1 3 2 3 2 3 1 3 3 3 3 3 3 3 3 3 3 3 3 3 2 3 2 3 2 3 1 3 1 3 0 3 0 3 0 3-1 3 0 3 0 3-1 3 0 3-1 3-1 3-2 3-1 3 0 3-1 3-1 3-1 3-1 3-1 3 0 3-1 3 0 3 0 3 0 3 0 3 0 3 0 3 0 3 0 3 1 3 1 3 1 3 0 3 1 3 1 3 1 3 0 3 1 3 1 3 0 3 0 3 1 3 0 3 0 3-1 3 0 3-1 3 0 3-1 3-1 3 0 3-1 3 0 3-1 3 0 3 0 3 0 3 0 3 0 3 1 3 0 3 1 3 1 3 1 3 0 3 1 3 1 3 1 3 0 3 1 3 0 3 1"/><path d="M30 131l3 5 3 4 3 4 3 3 3 3 3 1 3 2 3 0 3-1 3-1 3-1 3-2 3-2 3-2 3-3 3-1 3-1 3-1 3-1 3-1 3-1 3-1 3-1 3 0 3 1 3 1 3 1 3 2 3 2 3 4 3 3 3 3 3 4 3 4 3 3 3 3 3 2 3 2 3 2 3 0 3 0 3-1 3-1 3-1 3-1 3-2 3-2 3-2 3-2 3-2 3-2 3-1 3-1 3-1 3-1 3-1 3 0 3 0 3 0 3 0 3 0 3 0 3 0 3 0 3 0 3 0 3 0 3 0 3 1 3 0 3 1 3 1 3 1 3 1 3 1 3 2 3 1 3 1 3 1 3 0 3 1 3 0 3 0 3 0 3-1 3 0 3-1 3 0 3 0 3-1 3 0 3 1 3 0 3 0 3 1 3 0 3 1 3 0 3 0 3 0 3 0 3 0 3-1 3 0 3-1 3-1 3-1 3 0 3-1 3 0 3 0"/><path d="M30 143l3 1 3 2 3 2 3 2 3 1 3 1 3 1 3 0 3 0 3-1 3 0 3-2 3-2 3-2 3-1 3-2 3-1 3-1 3-1 3-1 3-1 3-2 3 0 3 0 3 0 3 0 3 1 3 1 3 2 3 3 3 2 3 3 3 3 3 3 3 2 3 3 3 1 3 2 3 2 3 1 3 0 3 0 3 0 3 0 3 0 3 0 3-1 3-1 3-1 3-1 3-2 3-1 3-1 3-2 3-1 3-2 3-1 3-1 3-1 3-1 3 0 3-1 3 0 3 0 3 0 3 0 3 1 3 1 3 1 3 1 3 1 3 1 3 2 3 1 3 1 3 1 3 1 3 1 3 1 3 0 3 1 3 0 3 0 3-1 3 0 3-1 3-1 3 0 3-1 3-1 3 0 3-1 3 0 3 0 3-1 3 0 3 1 3 0 3 0 3 1 3 0 3 1 3 1 3 0 3 1 3 1 3 0 3 1 3 0 3 0 3 0"/><path d="M30 204l3 3 3 4 3 4 3 2 3 1 3-2 3-3 3-5 3-7 3-8 3-8 3-8 3-8 3-8 3-6 3-4 3-3 3-2 3 1 3 1 3 2 3 2 3 3 3 3 3 3 3 4 3 2 3 2 3 1 3 1 3 0 3-1 3-1 3-1 3-2 3-2 3-3 3-1 3-2 3-1 3 0 3 0 3 1 3 2 3 3 3 3 3 3 3 3 3 3 3 2 3 1 3 1 3 0 3-1 3-2 3-4 3-3 3-5 3-5 3-4 3-5 3-5 3-5 3-4 3-3 3-2 3-2 3 0 3 1 3 1 3 2 3 3 3 3 3 3 3 3 3 3 3 3 3 2 3 2 3 1 3 1 3 0 3-1 3 0 3-2 3-1 3-1 3-1 3 0 3-1 3 1 3 1 3 1 3 2 3 2 3 3 3 3 3 2 3 3 3 2 3 1 3 2 3 0 3 0 3-1 3-2 3-2 3-2 3-3 3-3 3-2"/><path d="M30 158l3 6 3 4 3 5 3 3 3 2 3 1 3 0 3 0 3-2 3-3 3-2 3-3 3-4 3-4 3-4 3-3 3-3 3-3 3-3 3-3 3-3 3-2 3-2 3-2 3 0 3 0 3 0 3 1 3 2 3 2 3 3 3 3 3 3 3 3 3 3 3 1 3 2 3 1 3 1 3 0 3-1 3-1 3-1 3 0 3-1 3-1 3-1 3-1 3-1 3-1 3-1 3-1 3 0 3-1 3 0 3-1 3 0 3 0 3 0 3 0 3 1 3 1 3 1 3 1 3 1 3 1 3 1 3 2 3 1 3 2 3 1 3 1 3 1 3 1 3 1 3 0 3 1 3 1 3 0 3 1 3 0 3 0 3 1 3 0 3 0 3 0 3 0 3 0 3 0 3 0 3 0 3-1 3 0 3-1 3-1 3 0 3-1 3 0 3-1 3 0 3-1 3 0 3 0 3-1 3 0 3-1 3 0 3-1 3 0 3-1 3-1"/><path d="M30 202l3 0 3 0 3-2 3-2 3-4 3-5 3-5 3-7 3-6 3-6 3-5 3-6 3-5 3-3 3-3 3-1 3-2 3 0 3-1 3-1 3-1 3 0 3-1 3 0 3-1 3 0 3 1 3 0 3 2 3 2 3 3 3 3 3 4 3 4 3 3 3 4 3 3 3 3 3 2 3 2 3 0 3 0 3 0 3-1 3-2 3-2 3-2 3-3 3-2 3-3 3-2 3-1 3-1 3-1 3 0 3 0 3 1 3 1 3 1 3 0 3 1 3 0 3 0 3-1 3-1 3-1 3-1 3-1 3 0 3-1 3 1 3 0 3 1 3 1 3 1 3 2 3 2 3 2 3 1 3 1 3 0 3 0 3-1 3-1 3-1 3-2 3-1 3-2 3 0 3-1 3 0 3 1 3 1 3 2 3 2 3 2 3 1 3 2 3 1 3 0 3 0 3-1 3-1 3-2 3-1 3-2 3-1 3-1 3 0 3 0 3 1"/><path d="M30 152l3 4 3 4 3 5 3 5 3 4 3 3 3 2 3 0 3-1 3-3 3-4 3-5 3-6 3-7 3-6 3-6 3-4 3-4 3-3 3-2 3-2 3 0 3 0 3 1 3 2 3 3 3 3 3 3 3 3 3 4 3 4 3 4 3 3 3 4 3 3 3 2 3 2 3 2 3 2 3 0 3-1 3 0 3-2 3-1 3-2 3-2 3-2 3-2 3-3 3-2 3-2 3-2 3-1 3 0 3-1 3 0 3 0 3 1 3 0 3 1 3 1 3 1 3 1 3 0 3 0 3 0 3 1 3 0 3 1 3 0 3 0 3 1 3 0 3 0 3 0 3 0 3 0 3 0 3 0 3 0 3-1 3 0 3 0 3-1 3 1 3 0 3 1 3 1 3 1 3 1 3 1 3 1 3 1 3 1 3 0 3 0 3 0 3-1 3 0 3-1 3-1 3-1 3-1 3-1 3 0 3 0 3 0 3 0 3 0 3 1 3 0"/><path d="M30 125l3-1 3 3 3 3 3 3 3 3 3 3 3 2 3 3 3 1 3 2 3 1 3 1 3 0 3 0 3-1 3 0 3 0 3 0 3 0 3 0 3-1 3-2 3-1 3-1 3-1 3 0 3-1 3-1 3 1 3 0 3 1 3 1 3 2 3 1 3 2 3 1 3 2 3 1 3 2 3 2 3 1 3 1 3 1 3 2 3 1 3 2 3 1 3 1 3 0 3 1 3 0 3-1 3 0 3-1 3-1 3-2 3-2 3-2 3-2 3-1 3-3 3-2 3-2 3-2 3-2 3-1 3-1 3-1 3 0 3 0 3 1 3 1 3 1 3 2 3 2 3 2 3 2 3 3 3 2 3 3 3 2 3 2 3 2 3 1 3 1 3 1 3 0 3 0 3 0 3-1 3-1 3-2 3-1 3-2 3-2 3-2 3-2 3-1 3-2 3-1 3-1 3-1 3 0 3-1 3 1 3 0 3 1 3 1 3 1 3 2 3 1"/><path d="M30 150l3 6 3 3 3 0 3-3 3-5 3-7 3-7 3-6 3-6 3-3 3-2 3 1 3 2 3 3 3 4 3 5 3 5 3 3 3 3 3 0 3-2 3-3 3-4 3-3 3-4 3-2 3-2 3 0 3 3 3 4 3 5 3 7 3 7 3 7 3 6 3 5 3 3 3 3 3 0 3-1 3-2 3-3 3-3 3-2 3-2 3-2 3 0 3 0 3 1 3 1 3 1 3 1 3 1 3 0 3-1 3-2 3-2 3-4 3-4 3-3 3-4 3-3 3-2 3-1 3 0 3 1 3 3 3 3 3 3 3 4 3 3 3 3 3 1 3 1 3-1 3-1 3-2 3-2 3-2 3-3 3-1 3-1 3 0 3 0 3 1 3 2 3 2 3 2 3 2 3 1 3 1 3-1 3 0 3-2 3-1 3-2 3-2 3-1 3 0 3 1 3 1 3 2 3 2 3 3 3 3 3 3 3 2 3 1 3 0 3 0 3-2"/><path d="M30 170l3 0 3 1 3 0 3 2 3 1 3 0 3 0 3-1 3-1 3-2 3-2 3-3 3-3 3-4 3-4 3-3 3-3 3-2 3-3 3-3 3-2 3-3 3-1 3-2 3 0 3 0 3 1 3 1 3 2 3 2 3 3 3 3 3 4 3 3 3 3 3 3 3 2 3 3 3 1 3 1 3 1 3 0 3 0 3 0 3 0 3 0 3-1 3-1 3-2 3-1 3-1 3-1 3-1 3-1 3-1 3-1 3-1 3-1 3 0 3 0 3 0 3 0 3 0 3 0 3 0 3 0 3 0 3 1 3 0 3 1 3 0 3 1 3 0 3 0 3 1 3 0 3 1 3 0 3 1 3 0 3 1 3 0 3 0 3 0 3 0 3-1 3 0 3 0 3 0 3-1 3 0 3 0 3-1 3 0 3 0 3-1 3 0 3 0 3 0 3 0 3 0 3 1 3 0 3 1 3 0 3 1 3 1 3 0 3 1 3 1 3 0"/><path d="M30 135l3 5 3 5 3 5 3 4 3 2 3 2 3 1 3 0 3-1 3-2 3-2 3-4 3-3 3-4 3-2 3-3 3-2 3-2 3-2 3-2 3-1 3 0 3 1 3 1 3 2 3 2 3 3 3 3 3 4 3 4 3 3 3 4 3 3 3 3 3 2 3 2 3 1 3 1 3-1 3 0 3-1 3-2 3-1 3-1 3-1 3-1 3-1 3-2 3-1 3-1 3-1 3 0 3-1 3-1 3 0 3-1 3 0 3 0 3 0 3 0 3 0 3-1 3 0 3 0 3 0 3 0 3 1 3 0 3 0 3 1 3 1 3 0 3 1 3 1 3 1 3 1 3 0 3 1 3 1 3 0 3 1 3 0 3 0 3 0 3-1 3 0 3 0 3-1 3 0 3 0 3 0 3-1 3 0 3 0 3 0 3 1 3 0 3 0 3 1 3 0 3 0 3 1 3 0 3 0 3 1 3 0 3 0 3 0 3-1 3 0 3 0"/><path d="M30 171l3 4 3 4 3 3 3 2 3 1 3 0 3 0 3-2 3-3 3-4 3-4 3-5 3-5 3-5 3-4 3-4 3-4 3-3 3-3 3-2 3-3 3-1 3-1 3-1 3 0 3 1 3 0 3 2 3 1 3 2 3 2 3 2 3 2 3 1 3 1 3 1 3 1 3 0 3 0 3 0 3 0 3 0 3 0 3 0 3 0 3 0 3 0 3 0 3 0 3 0 3 1 3 0 3 0 3 0 3 0 3 0 3 0 3 0 3 0 3 1 3 0 3 1 3 0 3 1 3 0 3 1 3 1 3 2 3 1 3 1 3 2 3 1 3 1 3 2 3 1 3 1 3 1 3 1 3 1 3 0 3 1 3 0 3 0 3 0 3 0 3 0 3 0 3 0 3 0 3 0 3-1 3 0 3 0 3 0 3 0 3-1 3 0 3-1 3-1 3-1 3-1 3-1 3-2 3-1 3-2 3-1 3-1 3-2 3-1 3-1 3-1"/><path d="M30 150l3 5 3 4 3 5 3 4 3 2 3 2 3 0 3 0 3-2 3-3 3-2 3-4 3-4 3-5 3-4 3-3 3-3 3-3 3-2 3-2 3-2 3-1 3-1 3 1 3 1 3 1 3 2 3 2 3 3 3 3 3 4 3 3 3 3 3 4 3 2 3 2 3 2 3 1 3 1 3 0 3-1 3-1 3 0 3-1 3-1 3-1 3-1 3-1 3-1 3-1 3-1 3-1 3 0 3-1 3 0 3-1 3 0 3 0 3 0 3 0 3 0 3 0 3 0 3 0 3-1 3 0 3 0 3-1 3 0 3 0 3 0 3 0 3 0 3 0 3 0 3 0 3 1 3 1 3 0 3 1 3 1 3 1 3 1 3 1 3 2 3 0 3 1 3 1 3 1 3 0 3 1 3 0 3 0 3 0 3-1 3 0 3-1 3-1 3-1 3-1 3-1 3-1 3-1 3 0 3-1 3-1 3 0 3 0 3 0 3 0 3 1"/><path d="M30 144l3 1 3 2 3 2 3 1 3 0 3 1 3-1 3-1 3-1 3-2 3-2 3-2 3-3 3-3 3-3 3-1 3-2 3-1 3-1 3-1 3 0 3 0 3 0 3 1 3 1 3 2 3 3 3 2 3 4 3 4 3 4 3 3 3 4 3 4 3 3 3 2 3 2 3 2 3 1 3 0 3 0 3-1 3-1 3-1 3-1 3-1 3-2 3-2 3-1 3-2 3-2 3-1 3-1 3-1 3-1 3 0 3-1 3 0 3 0 3 0 3 1 3 0 3 1 3 0 3 1 3 0 3 1 3 0 3 1 3 1 3 1 3 0 3 1 3 0 3 0 3 1 3 0 3 0 3 0 3-1 3 0 3 0 3-1 3-1 3 0 3-1 3 0 3-1 3 0 3-1 3 0 3 0 3 0 3 0 3 0 3 0 3 1 3 0 3 1 3 0 3 1 3 0 3 1 3 1 3 0 3 1 3 1 3 1 3 0 3 1 3 1"/><path d="M30 147l3 1 3 1 3 5 3 4 3 3 3 2 3 1 3-1 3-1 3-3 3-3 3-3 3-4 3-4 3-4 3-3 3-2 3-2 3-1 3-1 3 0 3 0 3-1 3 0 3 1 3 1 3 1 3 1 3 2 3 2 3 2 3 3 3 2 3 3 3 3 3 3 3 2 3 2 3 3 3 1 3 2 3 1 3 1 3 0 3 1 3 0 3 0 3-1 3-1 3-1 3-2 3-2 3-2 3-2 3-2 3-3 3-1 3-2 3-1 3-1 3 0 3 0 3 0 3 0 3 1 3 1 3 1 3 1 3 1 3 1 3 1 3 1 3 1 3 0 3 0 3 0 3 0 3 0 3-1 3 0 3 0 3 0 3 0 3 0 3 0 3 0 3 1 3 1 3 1 3 1 3 1 3 0 3 1 3 1 3 1 3 0 3 0 3 0 3 0 3-1 3 0 3-1 3-1 3 0 3-1 3 0 3-1 3 0 3 0 3 0 3 0"/><path d="M30 115l3 5 3 6 3 6 3 7 3 6 3 6 3 6 3 4 3 3 3 1 3 1 3-1 3-3 3-3 3-5 3-4 3-4 3-5 3-4 3-5 3-4 3-3 3-2 3-1 3 1 3 1 3 3 3 3 3 4 3 6 3 5 3 6 3 5 3 5 3 4 3 3 3 3 3 1 3 1 3-1 3-1 3-2 3-2 3-2 3-3 3-2 3-2 3-2 3-2 3-2 3-1 3 0 3-1 3 0 3 1 3 0 3 0 3 1 3 1 3 0 3 1 3 0 3 0 3 0 3-1 3 0 3-1 3 0 3-1 3 0 3 0 3 0 3 0 3 1 3 0 3 1 3 1 3 1 3 1 3 2 3 1 3 1 3 0 3 1 3 0 3 0 3 0 3 0 3 0 3 0 3-1 3 0 3-1 3-1 3 0 3-1 3 0 3-1 3 0 3 0 3 0 3 0 3 1 3 0 3 1 3 0 3 1 3 0 3 1 3 1 3 0"/><path d="M30 124l3 1 3 5 3 5 3 4 3 5 3 4 3 4 3 3 3 2 3 1 3 1 3 1 3-1 3-1 3-2 3-1 3-1 3-1 3-1 3-1 3-2 3-1 3-2 3-1 3 0 3-1 3 0 3 0 3 0 3 2 3 1 3 1 3 2 3 1 3 2 3 1 3 0 3 1 3 1 3 0 3-1 3 0 3 0 3-1 3 0 3 0 3 0 3-1 3 0 3-1 3 0 3 0 3 0 3 0 3 0 3-1 3 0 3 0 3 0 3 1 3 0 3 0 3 0 3 0 3 0 3 0 3 0 3 1 3 0 3 0 3 1 3 0 3 0 3 1 3 0 3 1 3 1 3 1 3 1 3 1 3 1 3 1 3 0 3 1 3 1 3 1 3 0 3 1 3 0 3 0 3 0 3 0 3 0 3-1 3 0 3-1 3-1 3-1 3-1 3-2 3-1 3-1 3-1 3-2 3-1 3-1 3-1 3-1 3 0 3-1 3 0"/><path d="M30 120l3 17 3 16 3 15 3 11 3 6 3 1 3-3 3-7 3-11 3-11 3-10 3-10 3-7 3-4 3-1 3 3 3 4 3 6 3 6 3 5 3 3 3 1 3-2 3-3 3-4 3-5 3-5 3-4 3-1 3 1 3 3 3 6 3 8 3 8 3 9 3 8 3 7 3 4 3 3 3-1 3-3 3-5 3-6 3-6 3-5 3-5 3-4 3-1 3-1 3 2 3 3 3 3 3 3 3 3 3 2 3 0 3-1 3-3 3-3 3-4 3-3 3-4 3-2 3-2 3 1 3 2 3 3 3 4 3 4 3 4 3 3 3 3 3 0 3 0 3-2 3-3 3-3 3-3 3-3 3-2 3 0 3 0 3 2 3 3 3 4 3 4 3 3 3 3 3 2 3 0 3-1 3-2 3-3 3-4 3-3 3-4 3-2 3-1 3 0 3 2 3 2 3 3 3 4 3 3 3 3 3 1 3 1 3-1 3-2 3-3 3-3"/><path d="M30 112l3 4 3 6 3 6 3 6 3 6 3 5 3 4 3 3 3 2 3 0 3 0 3 0 3-2 3-3 3-3 3-3 3-3 3-2 3-3 3-2 3-2 3-2 3-1 3-1 3 1 3 1 3 2 3 3 3 4 3 4 3 5 3 5 3 6 3 5 3 5 3 3 3 4 3 2 3 2 3 1 3 0 3-1 3-2 3-2 3-2 3-2 3-3 3-4 3-3 3-3 3-3 3-3 3-2 3-2 3-1 3-1 3-1 3 0 3 0 3 1 3 1 3 2 3 1 3 1 3 1 3 1 3 0 3 1 3 0 3 1 3-1 3 0 3 0 3-1 3-1 3-1 3-1 3 0 3-1 3 0 3 0 3 0 3 1 3 0 3 1 3 1 3 1 3 1 3 1 3 2 3 1 3 1 3 1 3 1 3 1 3 0 3 1 3 0 3 0 3 0 3-1 3 0 3 0 3-1 3 0 3 0 3-1 3 0 3 0 3 0 3 1"/><path d="M30 186l3 4 3 3 3 2 3 2 3 1 3 0 3-1 3-2 3-3 3-4 3-5 3-4 3-6 3-6 3-6 3-5 3-4 3-5 3-4 3-3 3-4 3-3 3-3 3-2 3 0 3-1 3 0 3 1 3 1 3 3 3 2 3 2 3 3 3 3 3 3 3 2 3 2 3 2 3 1 3 1 3 1 3 0 3 0 3 0 3 0 3 0 3 0 3-1 3 0 3-1 3-1 3 0 3 0 3-1 3 0 3 0 3 0 3 0 3 0 3 1 3 0 3 1 3 1 3 0 3 1 3 1 3 1 3 1 3 0 3 1 3 1 3 1 3 1 3 0 3 1 3 0 3 1 3 0 3 0 3 0 3 0 3 0 3 0 3 0 3 0 3-1 3 0 3 0 3-1 3 0 3 0 3 0 3 0 3-1 3 0 3 0 3 0 3 0 3 0 3 0 3 1 3 0 3 0 3 0 3 0 3 0 3 0 3 0 3 0 3-1 3 0"/><path d="M30 124l3 3 3 4 3 5 3 5 3 5 3 4 3 4 3 3 3 2 3 1 3 0 3 0 3-3 3-3 3-4 3-3 3-4 3-3 3-3 3-2 3-2 3-1 3-1 3 0 3 2 3 2 3 2 3 3 3 3 3 4 3 3 3 3 3 3 3 3 3 2 3 1 3 1 3 1 3 0 3 0 3 0 3 0 3 0 3 0 3-1 3 0 3 0 3-1 3-2 3-1 3-2 3-2 3-2 3-1 3-2 3-2 3-2 3-1 3 0 3 0 3 0 3 1 3 1 3 1 3 2 3 1 3 1 3 1 3 1 3 1 3 1 3 0 3 0 3 0 3 0 3 0 3 1 3 0 3 1 3 0 3 1 3 1 3 1 3 0 3 1 3 0 3 0 3 0 3-1 3 0 3-1 3-1 3 0 3-1 3-1 3 0 3 0 3 0 3 0 3 1 3 0 3 1 3 1 3 0 3 0 3 0 3 0 3 0 3-1 3-1 3 0"/><path d="M30 164l3 2 3 1 3 0 3 0 3-1 3-2 3-2 3-4 3-4 3-5 3-4 3-6 3-5 3-5 3-4 3-3 3-3 3-2 3-2 3-1 3 0 3 0 3 1 3 2 3 3 3 3 3 4 3 4 3 5 3 6 3 5 3 5 3 4 3 5 3 3 3 3 3 2 3 2 3 0 3 0 3-1 3-2 3-1 3-2 3-2 3-3 3-2 3-3 3-3 3-2 3-2 3-1 3-2 3 0 3-1 3 0 3 1 3 1 3 1 3 2 3 3 3 2 3 2 3 3 3 2 3 2 3 3 3 2 3 1 3 2 3 1 3 0 3 0 3 0 3-1 3-1 3-2 3-1 3-3 3-2 3-2 3-3 3-3 3-2 3-3 3-2 3-2 3-2 3-1 3 0 3-1 3 0 3 1 3 1 3 1 3 2 3 2 3 2 3 2 3 2 3 3 3 2 3 2 3 2 3 2 3 1 3 1 3 1 3 0 3 0 3 0"/><path d="M30 255l3-8 3-10 3-11 3-12 3-12 3-13 3-13 3-12 3-11 3-9 3-9 3-7 3-5 3-2 3-1 3 1 3 2 3 3 3 4 3 3 3 5 3 4 3 4 3 4 3 4 3 3 3 2 3 2 3 1 3 1 3-1 3 0 3-1 3-1 3-2 3-2 3-1 3-2 3-1 3-2 3 0 3-1 3 1 3 1 3 1 3 2 3 2 3 1 3 2 3 1 3 2 3 1 3 1 3 1 3 0 3-1 3 0 3-1 3-1 3-1 3-1 3-2 3-1 3-2 3-2 3-1 3-1 3-1 3 0 3 0 3 0 3 0 3 0 3 0 3 1 3 0 3 1 3 1 3 0 3 1 3 0 3 1 3 0 3 1 3 0 3 0 3 1 3 0 3 1 3 0 3 1 3 0 3 1 3 0 3 1 3 0 3 0 3 0 3 0 3 0 3 0 3-1 3-1 3-1 3 0 3-1 3-1 3-1 3 0 3-1 3 0"/><path d="M30 135l3 7 3 5 3 6 3 4 3 3 3 2 3 1 3 0 3-2 3-2 3-2 3-3 3-3 3-4 3-3 3-3 3-2 3-2 3-2 3-1 3-2 3-2 3 0 3-1 3 1 3 1 3 1 3 2 3 3 3 4 3 3 3 4 3 4 3 4 3 4 3 3 3 2 3 2 3 1 3 1 3 0 3-1 3-1 3 0 3-1 3-1 3-2 3-1 3-2 3-2 3-1 3-1 3-2 3-1 3-1 3-2 3-1 3-1 3 0 3-1 3 0 3 0 3 1 3 0 3 0 3 1 3 1 3 1 3 1 3 1 3 1 3 1 3 1 3 0 3 1 3 0 3 1 3 0 3 1 3 0 3 0 3 1 3 0 3 0 3 0 3 0 3 0 3-1 3 0 3 0 3-1 3 0 3 0 3-1 3 0 3 0 3 0 3 0 3 0 3 0 3 0 3 1 3 0 3 1 3 0 3 0 3 0 3 1 3 0 3 0 3 0"/><path d="M30 146l3 5 3 5 3 3 3 2 3 0 3-1 3-2 3-3 3-4 3-4 3-3 3-3 3-3 3-3 3-2 3 0 3 0 3 0 3 1 3 0 3 0 3 0 3 1 3 0 3 1 3 1 3 1 3 1 3 2 3 3 3 3 3 3 3 4 3 4 3 3 3 3 3 3 3 2 3 2 3 0 3 0 3-1 3-2 3-2 3-2 3-2 3-3 3-3 3-2 3-2 3-2 3-1 3-1 3 0 3 0 3 1 3 0 3 1 3 1 3 1 3 0 3 1 3 0 3 0 3 0 3-1 3 0 3 1 3 0 3 1 3 0 3 1 3 1 3 1 3 1 3 1 3 0 3 1 3 0 3 0 3-1 3-1 3-1 3-1 3-1 3-1 3-1 3 0 3 0 3 0 3 1 3 1 3 1 3 1 3 2 3 1 3 1 3 1 3 0 3 0 3 0 3 0 3-1 3 0 3-1 3 0 3 0 3 0 3 0 3 0 3 0"/><path d="M30 142l3 10 3 9 3 8 3 5 3 4 3 1 3-1 3-2 3-4 3-5 3-5 3-6 3-6 3-6 3-5 3-3 3-2 3-2 3 0 3 0 3 0 3 1 3 1 3 2 3 1 3 2 3 2 3 1 3 2 3 2 3 1 3 1 3 1 3 1 3 1 3 0 3 1 3 1 3 2 3 1 3 1 3 1 3 2 3 2 3 2 3 1 3 2 3 0 3 0 3 0 3-1 3-1 3-1 3-2 3-3 3-2 3-3 3-2 3-2 3-1 3-1 3-1 3 0 3 0 3 0 3 1 3 1 3 2 3 1 3 2 3 1 3 1 3 1 3 0 3 0 3 0 3 0 3-1 3-1 3-1 3-1 3-1 3 0 3-1 3 0 3 1 3 0 3 1 3 2 3 1 3 2 3 2 3 2 3 2 3 1 3 1 3 1 3 0 3 0 3 0 3-1 3-1 3-2 3-1 3-2 3-1 3-2 3-1 3 0 3-1 3 0"/><path d="M30 133l3 5 3 5 3 5 3 4 3 3 3 1 3 0 3-1 3-3 3-3 3-5 3-4 3-6 3-5 3-4 3-4 3-2 3-2 3-1 3 0 3 0 3 1 3 2 3 3 3 3 3 4 3 4 3 4 3 4 3 5 3 4 3 4 3 4 3 3 3 3 3 1 3 2 3 2 3 1 3 0 3 0 3 0 3 0 3 0 3 1 3 0 3-1 3 0 3-1 3-1 3-2 3-1 3-2 3-2 3-2 3-2 3-2 3-2 3-2 3-1 3-1 3-1 3-1 3-1 3 0 3 0 3 1 3 0 3 1 3 1 3 1 3 1 3 1 3 0 3 1 3 0 3 0 3 0 3 0 3-1 3 0 3-1 3 0 3 0 3 0 3 0 3 0 3 1 3 1 3 1 3 1 3 2 3 1 3 2 3 1 3 1 3 1 3 1 3 0 3 0 3 0 3 0 3 0 3 0 3-1 3 0 3 0 3-1 3 0 3 1 3 0"/><path d="M30 150l3 7 3 6 3 5 3 4 3 3 3 2 3 0 3 0 3-2 3-3 3-3 3-3 3-5 3-5 3-4 3-4 3-3 3-3 3-2 3-3 3-2 3-1 3-1 3 0 3 1 3 1 3 2 3 2 3 3 3 3 3 4 3 3 3 4 3 3 3 3 3 2 3 2 3 1 3 1 3-1 3 0 3-1 3-2 3-1 3-2 3-2 3-2 3-2 3-3 3-2 3-2 3-2 3-1 3-2 3-1 3-1 3-1 3 0 3 0 3 1 3 1 3 1 3 1 3 1 3 1 3 2 3 2 3 1 3 2 3 2 3 2 3 1 3 2 3 1 3 1 3 2 3 0 3 1 3 1 3 0 3 1 3 0 3-1 3 0 3-1 3 0 3-1 3 0 3-1 3-1 3 0 3-1 3-1 3 0 3-1 3 0 3-1 3 0 3 0 3 0 3-1 3 0 3 0 3 1 3 0 3 0 3 0 3 0 3 0 3 0 3 0"/><path d="M30 132l3 5 3 6 3 6 3 4 3 4 3 3 3 1 3 0 3-1 3-2 3-2 3-3 3-4 3-4 3-4 3-3 3-2 3-2 3-1 3-1 3 0 3 0 3 0 3 1 3 2 3 2 3 2 3 2 3 3 3 3 3 3 3 3 3 2 3 3 3 2 3 1 3 1 3 0 3 1 3-1 3-1 3-1 3 0 3-1 3 0 3-1 3 0 3 0 3 0 3-1 3 0 3 1 3 0 3 0 3 0 3 0 3-1 3 0 3-1 3 0 3-1 3-1 3-1 3-1 3-1 3-2 3-1 3-1 3-1 3 0 3 0 3 0 3 0 3 1 3 1 3 2 3 1 3 2 3 2 3 2 3 3 3 2 3 1 3 2 3 1 3 1 3 0 3 0 3 0 3 0 3-1 3-2 3-1 3-2 3-2 3-2 3-1 3-2 3-2 3-1 3-1 3 0 3 0 3 0 3 1 3 1 3 1 3 1 3 2 3 2 3 2"/><path d="M30 191l3-6 3-2 3 1 3 2 3 3 3 3 3 3 3 1 3 0 3-2 3-3 3-6 3-8 3-8 3-8 3-8 3-7 3-6 3-4 3-4 3-1 3-1 3 2 3 3 3 3 3 4 3 3 3 4 3 3 3 3 3 2 3 1 3 0 3 0 3 0 3-1 3 0 3 1 3 0 3 2 3 1 3 2 3 2 3 2 3 3 3 1 3 0 3 0 3-2 3-3 3-3 3-3 3-4 3-4 3-4 3-3 3-2 3-1 3 0 3 0 3 2 3 2 3 2 3 3 3 2 3 2 3 1 3 1 3 0 3 0 3-1 3-1 3-1 3-1 3-1 3 0 3 0 3 1 3 2 3 1 3 2 3 2 3 2 3 2 3 1 3 0 3 0 3-1 3-2 3-2 3-2 3-2 3-2 3-2 3 0 3-1 3 1 3 1 3 2 3 2 3 2 3 2 3 2 3 1 3 1 3 0 3 0 3-1 3-1 3-2 3-2"/><path d="M30 161l3-3 3 2 3 3 3 3 3 4 3 2 3 1 3 0 3-1 3-3 3-3 3-4 3-4 3-5 3-4 3-4 3-3 3-2 3-2 3-1 3-1 3 0 3 0 3 0 3 1 3 1 3 1 3 1 3 1 3 2 3 2 3 2 3 2 3 3 3 3 3 2 3 3 3 2 3 3 3 2 3 1 3 1 3 1 3 0 3-1 3-1 3-1 3-3 3-3 3-3 3-2 3-3 3-2 3-2 3-1 3-1 3 0 3 0 3 1 3 2 3 1 3 1 3 1 3 1 3 0 3 0 3 0 3-1 3-1 3 0 3-1 3 0 3 0 3 0 3 1 3 1 3 1 3 2 3 2 3 1 3 2 3 1 3 0 3 1 3-1 3 0 3-1 3-2 3-1 3-1 3-1 3-1 3 0 3 0 3 0 3 1 3 1 3 1 3 1 3 2 3 0 3 1 3 0 3 0 3 0 3-1 3-1 3-1 3-1 3-1 3-1"/><path d="M30 164l3-2 3-1 3-1 3 0 3-1 3-1 3-1 3-1 3-2 3-2 3-2 3-2 3-3 3-3 3-2 3-2 3-2 3-1 3-1 3-1 3-1 3 0 3 0 3 1 3 2 3 2 3 3 3 3 3 4 3 4 3 4 3 4 3 4 3 3 3 3 3 2 3 1 3 1 3 0 3-1 3-1 3-2 3-3 3-2 3-3 3-2 3-3 3-3 3-3 3-2 3-2 3-1 3-1 3-1 3 0 3 0 3 1 3 2 3 1 3 3 3 2 3 2 3 2 3 1 3 2 3 1 3 1 3 1 3 0 3 1 3-1 3 0 3-1 3-2 3-1 3-1 3-2 3-1 3-1 3-1 3-1 3 0 3-1 3 0 3 0 3 1 3 1 3 0 3 2 3 1 3 1 3 1 3 2 3 1 3 1 3 1 3 1 3 0 3 1 3 0 3 0 3 0 3-1 3 0 3 0 3-1 3 0 3-1 3 0 3-1 3 0"/><path d="M30 168l3-16 3-11 3-10 3-8 3-4 3-1 3 2 3 5 3 8 3 9 3 9 3 8 3 7 3 5 3 1 3 0 3-3 3-6 3-7 3-8 3-9 3-8 3-8 3-5 3-3 3-1 3 2 3 3 3 6 3 7 3 8 3 8 3 8 3 6 3 6 3 4 3 2 3 1 3 0 3-1 3-3 3-3 3-2 3-3 3-3 3-2 3-2 3-1 3-2 3-1 3-1 3 0 3 0 3 1 3 0 3 0 3 1 3 1 3 1 3 1 3 0 3 0 3 0 3-1 3-1 3-2 3-2 3-2 3-1 3-1 3-1 3 0 3 1 3 1 3 3 3 3 3 3 3 4 3 4 3 3 3 2 3 1 3 0 3-1 3-2 3-4 3-3 3-4 3-4 3-3 3-3 3-1 3 1 3 1 3 3 3 3 3 5 3 4 3 4 3 3 3 2 3 1 3 0 3-2 3-3 3-4 3-4 3-4 3-4 3-3 3-2"/><path d="M30 124l3 4 3 3 3 4 3 3 3 3 3 3 3 3 3 2 3 2 3 2 3 2 3 0 3 0 3 0 3 0 3 0 3-1 3-1 3-1 3-2 3-2 3-2 3-2 3-2 3-1 3 0 3-1 3 1 3 2 3 2 3 2 3 3 3 3 3 2 3 3 3 1 3 2 3 1 3 0 3 0 3-1 3-1 3-2 3-2 3-1 3-2 3-2 3-2 3-1 3-2 3-1 3 0 3 0 3 1 3 0 3 1 3 2 3 1 3 2 3 2 3 2 3 1 3 2 3 1 3 0 3 1 3 0 3 1 3 0 3 0 3 0 3 0 3 0 3-1 3 0 3 0 3 1 3 0 3 0 3 0 3-1 3 0 3-1 3-1 3-1 3-1 3-2 3-1 3-1 3-2 3-1 3-1 3-1 3-1 3 0 3 0 3 0 3 1 3 1 3 1 3 2 3 1 3 2 3 1 3 2 3 2 3 1 3 1 3 1 3 1 3 0"/><path d="M30 122l3 5 3 10 3 9 3 10 3 9 3 8 3 5 3 4 3 1 3-1 3-3 3-5 3-6 3-8 3-8 3-8 3-6 3-6 3-4 3-3 3-2 3-1 3 0 3 1 3 3 3 3 3 3 3 4 3 3 3 4 3 3 3 3 3 3 3 2 3 3 3 1 3 1 3 1 3 2 3 1 3 1 3 1 3 1 3 1 3 1 3 1 3 0 3-1 3-1 3-2 3-2 3-3 3-3 3-4 3-3 3-3 3-3 3-2 3-2 3 0 3 0 3 1 3 1 3 2 3 2 3 2 3 2 3 3 3 2 3 1 3 2 3 0 3 1 3 0 3 0 3-1 3 0 3 0 3 0 3 1 3 0 3 1 3 1 3 1 3 1 3 1 3 1 3 0 3 0 3-1 3 0 3-2 3-1 3-2 3-2 3-2 3-1 3-2 3-1 3 0 3 0 3 0 3 1 3 2 3 1 3 2 3 2 3 1 3 1 3 1 3 1"/><path d="M30 202l3-5 3-6 3-6 3-7 3-8 3-8 3-8 3-8 3-7 3-6 3-5 3-3 3-2 3-1 3 1 3 3 3 4 3 4 3 4 3 4 3 3 3 3 3 2 3 2 3 2 3 1 3 1 3 1 3 1 3 2 3 3 3 2 3 4 3 3 3 3 3 3 3 2 3 2 3 0 3 0 3-2 3-2 3-4 3-4 3-4 3-5 3-5 3-5 3-5 3-4 3-4 3-2 3-2 3 0 3 0 3 1 3 1 3 2 3 3 3 2 3 3 3 2 3 1 3 2 3 0 3 1 3 1 3 1 3 1 3 1 3 1 3 1 3 2 3 2 3 2 3 2 3 2 3 2 3 1 3 1 3 0 3-1 3-1 3-2 3-2 3-3 3-3 3-3 3-2 3-3 3-1 3-2 3 0 3-1 3 1 3 0 3 1 3 2 3 1 3 1 3 1 3 0 3 1 3 0 3 0 3-1 3 0 3 0 3 0 3 0 3 1"/><path d="M30 132l3 7 3 7 3 7 3 6 3 5 3 4 3 3 3 2 3 0 3-1 3-2 3-3 3-4 3-5 3-4 3-4 3-3 3-3 3-3 3-2 3-2 3-2 3-1 3 0 3 1 3 1 3 2 3 1 3 3 3 2 3 3 3 2 3 3 3 2 3 2 3 2 3 1 3 1 3 1 3 0 3 0 3 0 3 0 3 0 3 0 3 0 3-1 3-1 3-1 3-1 3-2 3-1 3-1 3-2 3-1 3-1 3-2 3 0 3-1 3 0 3 1 3 0 3 1 3 0 3 1 3 1 3 1 3 1 3 0 3 1 3 1 3 0 3 1 3 0 3 0 3 0 3 1 3 0 3 1 3 0 3 1 3 1 3 0 3 1 3 1 3 1 3 0 3 1 3 1 3 0 3 0 3 0 3 0 3 0 3 0 3-1 3 0 3-1 3 0 3-1 3 0 3 0 3 0 3 0 3 0 3 0 3 0 3 0 3-1 3 0 3 0"/><path d="M30 145l3-4 3-1 3-2 3-1 3 1 3 1 3 3 3 3 3 4 3 4 3 4 3 4 3 2 3 0 3-1 3-1 3-2 3-3 3-4 3-4 3-4 3-4 3-3 3-2 3-1 3 0 3 1 3 1 3 3 3 2 3 3 3 2 3 2 3 1 3 2 3 0 3 1 3 1 3 1 3 1 3 1 3 1 3 2 3 2 3 3 3 2 3 1 3 0 3 0 3-2 3-2 3-3 3-3 3-4 3-3 3-4 3-2 3-2 3 0 3 0 3 2 3 2 3 3 3 3 3 4 3 3 3 3 3 2 3 1 3 1 3 0 3-1 3-2 3-2 3-3 3-2 3-1 3-2 3-1 3 0 3 0 3 0 3 1 3 1 3 1 3 0 3 1 3 0 3 0 3 0 3-1 3 0 3 0 3 0 3 0 3 1 3 0 3 1 3 1 3 1 3 1 3 1 3 0 3 0 3 0 3-1 3-1 3-1 3-1 3-1 3 0"/><path d="M30 180l3-6 3-5 3-3 3-3 3-2 3-1 3 0 3 0 3 0 3 0 3 0 3-1 3-2 3-3 3-2 3-3 3-3 3-2 3-3 3-2 3-1 3-1 3 0 3 2 3 2 3 3 3 3 3 4 3 4 3 4 3 3 3 2 3 2 3 2 3 0 3-1 3-1 3-1 3-1 3-2 3-2 3-1 3-1 3 0 3 0 3 0 3-1 3 0 3-1 3-1 3-1 3-2 3-1 3-1 3-2 3-1 3-1 3 0 3 0 3 1 3 2 3 1 3 2 3 2 3 1 3 2 3 1 3 1 3 0 3 0 3 0 3 0 3-1 3-1 3-1 3-1 3 0 3 0 3 1 3 0 3 1 3 1 3 1 3 0 3 1 3 0 3 0 3-1 3 0 3-1 3-1 3-1 3-1 3 0 3 0 3 0 3 0 3 1 3 1 3 0 3 1 3 1 3 1 3 0 3 1 3-1 3 0 3-1 3 0 3-1 3 0"/><path d="M30 137l3 1 3 4 3 6 3 4 3 4 3 3 3 2 3 0 3 0 3-2 3-3 3-3 3-3 3-3 3-4 3-3 3-3 3-1 3-1 3-1 3 0 3 0 3 0 3 0 3 2 3 2 3 2 3 2 3 2 3 3 3 3 3 2 3 3 3 2 3 3 3 1 3 1 3 1 3 0 3 0 3 0 3-1 3-1 3 0 3-1 3 0 3-1 3 0 3-1 3-1 3-1 3 0 3-1 3 0 3-1 3-1 3-1 3-1 3 0 3-1 3 0 3-1 3 0 3 0 3-1 3 0 3 0 3 0 3 1 3 1 3 1 3 1 3 1 3 1 3 1 3 2 3 1 3 1 3 1 3 1 3 1 3 0 3 1 3 0 3-1 3 0 3 0 3-1 3-1 3 0 3-1 3-1 3 0 3-1 3 0 3-1 3 0 3 0 3 1 3 0 3 0 3 1 3 0 3 1 3 1 3 0 3 0 3 1 3 0 3 0 3 0"/><path d="M30 225l3 0 3 1 3 1 3 0 3 0 3-1 3-1 3-1 3-2 3-1 3-3 3-1 3-2 3-2 3-1 3-1 3-1 3 0 3-1 3 0 3 1 3 0 3 2 3 1 3 1 3 2 3 2 3 2 3 1 3 2 3 1 3 1 3 1 3 0 3 0 3 0 3 0 3-1 3 0 3 0 3 0 3 0 3 0 3 0 3 0 3 0 3 0 3 0 3 0 3 0 3 1 3 0 3 0 3 1 3 0 3 0 3 0 3 0 3 0 3 0 3 0 3 0 3 0 3 0 3 0 3 1 3 0 3 0 3 1 3 0 3 0 3 0 3 0 3 1 3 0 3 0 3 0 3 0 3 0 3-1 3 0 3 0 3 0 3 0 3 0 3-1 3 0 3 0 3 0 3 0 3 0 3 1 3 0 3 0 3 0 3 1 3 0 3 0 3 1 3 0 3 0 3 1 3 0 3 0 3 0 3 0 3 0 3 0 3 0 3 0 3-1"/><path d="M30 229l3 0 3-1 3-1 3-2 3-2 3-2 3-2 3-3 3-2 3-2 3-2 3-1 3-1 3-1 3 0 3 0 3 1 3 0 3 1 3 0 3 2 3 1 3 1 3 1 3 2 3 1 3 2 3 1 3 2 3 1 3 1 3 1 3 1 3 1 3 1 3 0 3 1 3 0 3 1 3 0 3 0 3 0 3-1 3-1 3 0 3-1 3-1 3-1 3-1 3-1 3 0 3 0 3 0 3 0 3 0 3 1 3 0 3 0 3 1 3 0 3 1 3 0 3 1 3 0 3 0 3 0 3 0 3 0 3 0 3 1 3 0 3 0 3 1 3 0 3 1 3 0 3 1 3 1 3 0 3 0 3 1 3 0 3 0 3-1 3 0 3-1 3 0 3-1 3-1 3 0 3-1 3 0 3 0 3 0 3 0 3 0 3 0 3 1 3 0 3 1 3 0 3 1 3 0 3 0 3 0 3 0 3 0 3 0 3 0 3-1 3 0"/><path d="M30 234l3 0 3-2 3-3 3-4 3-4 3-3 3-3 3-1 3-1 3 1 3 1 3 2 3 1 3 2 3 0 3 0 3-1 3-2 3-3 3-3 3-3 3-2 3-2 3-1 3 1 3 2 3 3 3 4 3 4 3 5 3 4 3 3 3 3 3 1 3 1 3-1 3-1 3-2 3-2 3-2 3-2 3-1 3 0 3 0 3 1 3 1 3 1 3 2 3 2 3 1 3 0 3 0 3-1 3-1 3-2 3-2 3-2 3-2 3-1 3-1 3 0 3 1 3 2 3 2 3 2 3 2 3 2 3 2 3 1 3 0 3 0 3-1 3-1 3-2 3-1 3-1 3 0 3-1 3 1 3 1 3 1 3 2 3 1 3 2 3 1 3 0 3 0 3-1 3-1 3-2 3-2 3-2 3-2 3-1 3 0 3 0 3 0 3 2 3 1 3 2 3 2 3 2 3 1 3 1 3 0 3 0 3-1 3-1 3-1 3-2 3-1"/><path d="M30 217l3 0 3 0 3 1 3 0 3 0 3 0 3 0 3 0 3-1 3 0 3-1 3-1 3-1 3-1 3-1 3 0 3-1 3-1 3 0 3 0 3 0 3 1 3 0 3 1 3 2 3 2 3 2 3 1 3 2 3 2 3 2 3 1 3 1 3 1 3 1 3 0 3 0 3 1 3 0 3 0 3-1 3 0 3 0 3 0 3-1 3-1 3 0 3-1 3-1 3 0 3 0 3-1 3 0 3 0 3 0 3 0 3 0 3 0 3 0 3 1 3 0 3 0 3 1 3 0 3 1 3 0 3 1 3 0 3 0 3 0 3 1 3 0 3 0 3 0 3-1 3 0 3 0 3 0 3 0 3 0 3 0 3 0 3 0 3 0 3 0 3 1 3 0 3 0 3 1 3 0 3 1 3 0 3 1 3 0 3 0 3 0 3 1 3 0 3 0 3 0 3 0 3 0 3-1 3 0 3 0 3 0 3-1 3 0 3 0 3 0 3 0"/><path d="M30 224l3-1 3-2 3-1 3-1 3-1 3-2 3-1 3-1 3-2 3-1 3-2 3-1 3-1 3 0 3-1 3 0 3 0 3 0 3 1 3 1 3 1 3 2 3 1 3 2 3 2 3 3 3 2 3 2 3 2 3 2 3 1 3 1 3 1 3 0 3 0 3 0 3-1 3 0 3-1 3-1 3 0 3-1 3 0 3-1 3 0 3 0 3-1 3 0 3 0 3 0 3 0 3 0 3 0 3 0 3 1 3 0 3 0 3 0 3 1 3 0 3 0 3 0 3 0 3 0 3 0 3 1 3 0 3 0 3 0 3 0 3 0 3 1 3 0 3 0 3 0 3 1 3 0 3 1 3 0 3 0 3 1 3 0 3 1 3 0 3 0 3 1 3 0 3 0 3 0 3 0 3 0 3 0 3-1 3 0 3-1 3 0 3-1 3 0 3-1 3 0 3-1 3 0 3 0 3-1 3 0 3 0 3 0 3 0 3 0 3 0 3 1"/><path d="M30 219l3-4 3-1 3 0 3 1 3 3 3 2 3 4 3 2 3 2 3 1 3-2 3-2 3-4 3-4 3-5 3-5 3-4 3-3 3-2 3 0 3 1 3 3 3 5 3 4 3 5 3 5 3 4 3 4 3 2 3 0 3 0 3-1 3-2 3-2 3-2 3-2 3-1 3 0 3 1 3 1 3 2 3 1 3 2 3 1 3 1 3-1 3 0 3-2 3-1 3-2 3-1 3-1 3-1 3 1 3 0 3 2 3 1 3 2 3 2 3 1 3 1 3 1 3-1 3 0 3-2 3-1 3-2 3-2 3-1 3 0 3 0 3 1 3 1 3 2 3 2 3 2 3 2 3 1 3 1 3 0 3-1 3-1 3-1 3-2 3-2 3-1 3-1 3 0 3 0 3 1 3 1 3 1 3 1 3 2 3 0 3 1 3 0 3 0 3-1 3-1 3-1 3-1 3-1 3 0 3 0 3 1 3 1 3 1 3 1 3 1 3 1"/><path d="M30 228l3 0 3-1 3-1 3-1 3-2 3-1 3-1 3-2 3-2 3-1 3-2 3-1 3-1 3-2 3-1 3-1 3 0 3-1 3 0 3 0 3 0 3 2 3 1 3 2 3 2 3 3 3 2 3 3 3 2 3 2 3 1 3 2 3 0 3 1 3 0 3-1 3 0 3-1 3 0 3-1 3 0 3-1 3 0 3-1 3 0 3-1 3 0 3 0 3 0 3 0 3 0 3 0 3 0 3 0 3 0 3 1 3 0 3 0 3 1 3 0 3 1 3 0 3 1 3 0 3 1 3 0 3 1 3 0 3 0 3 0 3 0 3 0 3 0 3-1 3 0 3 0 3 0 3 0 3 0 3 0 3 0 3 0 3 0 3 0 3 0 3 0 3 0 3 0 3 0 3 0 3 0 3 0 3 1 3 0 3 0 3 1 3 0 3 1 3 0 3 0 3 0 3 0 3 0 3 0 3 0 3 0 3-1 3 0 3 0 3 0 3-1"/><path d="M30 226l3-3 3-2 3-3 3-2 3-2 3-1 3-1 3 0 3 0 3 0 3 0 3 1 3 0 3 1 3 0 3 1 3 0 3 0 3-1 3 0 3 0 3 0 3 0 3 0 3 0 3 1 3 2 3 1 3 1 3 2 3 1 3 1 3 1 3 1 3 1 3 1 3 0 3 0 3 1 3 0 3 0 3 0 3 0 3-1 3 0 3 0 3-1 3 0 3 0 3 0 3 0 3 0 3 0 3-1 3 0 3 0 3 0 3-1 3 0 3 0 3 0 3 0 3 1 3 0 3 1 3 1 3 1 3 1 3 1 3 1 3 0 3 1 3 0 3 0 3 0 3 0 3-1 3-1 3-1 3-1 3 0 3-1 3-1 3 0 3 0 3 0 3 0 3 1 3 1 3 1 3 1 3 1 3 1 3 1 3 1 3 0 3 0 3 0 3 0 3-1 3 0 3-1 3-1 3-1 3-1 3-1 3 0 3-1 3 0 3 0 3 1"/><path d="M30 229l3-1 3-1 3-1 3-1 3-2 3-2 3-3 3-2 3-3 3-3 3-3 3-2 3-2 3-2 3-1 3-1 3-1 3 0 3 1 3 1 3 1 3 2 3 2 3 3 3 3 3 3 3 3 3 3 3 3 3 3 3 2 3 1 3 2 3 0 3 1 3 0 3 0 3-1 3 0 3-1 3 0 3-1 3 0 3-1 3 0 3 0 3-1 3 0 3 0 3 0 3 0 3 0 3 1 3 0 3 0 3 0 3 1 3 0 3 0 3-1 3 0 3 0 3 0 3 0 3-1 3 0 3 0 3-1 3 0 3-1 3 0 3 0 3 0 3 0 3 0 3 0 3 0 3 0 3 0 3 1 3 0 3 0 3 1 3 0 3 0 3 1 3 0 3 0 3 1 3 0 3 0 3 0 3 1 3 0 3 0 3 1 3 0 3 0 3 1 3 0 3 1 3 0 3 1 3 0 3 1 3 0 3 0 3 1 3 0 3 0 3 0"/><path d="M30 224l3 0 3 0 3 0 3 0 3-1 3-1 3-1 3-1 3-1 3-1 3-2 3-2 3-1 3-2 3-1 3-1 3-1 3 0 3 0 3 0 3 0 3 1 3 2 3 1 3 2 3 2 3 2 3 2 3 2 3 2 3 2 3 1 3 0 3 1 3 0 3 0 3-1 3 0 3 0 3-1 3 0 3 0 3 0 3 0 3-1 3 0 3 0 3 0 3 0 3 0 3 0 3 0 3 0 3 1 3 0 3 0 3 0 3 0 3 0 3 0 3 0 3 0 3 1 3 0 3 0 3 0 3 0 3 1 3 0 3 0 3 0 3 0 3 0 3 1 3 0 3 0 3 0 3 0 3 1 3 0 3 0 3 0 3 0 3 1 3 0 3 0 3 0 3 0 3 0 3 0 3-1 3 0 3 0 3 0 3 0 3 0 3 0 3 0 3 0 3 0 3 0 3 0 3 0 3 0 3 1 3 0 3 0 3 0 3 0 3 0 3 0"/><path d="M30 224l3 0 3 0 3 0 3-1 3-1 3-1 3-1 3-1 3-1 3-2 3-1 3-1 3-2 3-1 3 0 3-1 3 0 3-1 3 0 3 1 3 0 3 1 3 2 3 1 3 2 3 1 3 2 3 2 3 1 3 2 3 1 3 0 3 1 3 1 3 0 3 0 3 0 3 0 3 0 3 0 3 0 3 0 3 0 3 0 3-1 3 0 3 0 3 0 3-1 3 0 3 0 3 0 3 0 3 0 3 0 3 0 3 0 3 0 3 0 3 1 3 0 3 0 3 0 3 1 3 0 3 1 3 0 3 0 3 1 3 0 3 0 3 0 3 0 3 1 3 0 3 0 3 0 3 0 3-1 3 0 3 0 3 0 3 0 3 0 3 0 3 0 3 0 3 0 3 1 3 0 3 0 3 0 3 0 3 0 3 0 3 1 3 0 3 0 3 0 3 0 3 0 3 0 3 0 3 0 3 0 3 0 3 0 3 0 3 0 3 0 3 0"/><path d="M30 219l3-1 3 0 3-1 3 0 3 0 3-1 3 0 3-1 3 0 3-1 3-1 3-1 3 0 3-1 3 0 3 0 3 1 3 0 3 0 3 1 3 1 3 1 3 1 3 1 3 2 3 1 3 2 3 1 3 1 3 1 3 1 3 0 3 0 3 0 3 0 3-1 3 0 3-1 3 0 3-1 3 0 3 0 3 0 3 0 3 0 3 0 3 0 3 0 3 1 3 1 3 0 3 1 3 0 3 1 3 1 3 0 3 0 3 1 3 0 3 0 3 0 3 0 3 0 3 0 3 0 3-1 3 0 3 0 3 0 3 0 3 0 3 0 3 0 3 0 3 0 3 0 3 0 3 0 3 0 3 1 3 0 3 0 3 0 3 0 3 1 3 0 3 0 3 0 3 0 3 0 3 0 3 0 3 0 3-1 3 0 3 1 3 0 3 0 3 0 3 0 3 0 3 0 3 1 3 0 3 0 3 1 3 0 3 1 3 0 3 0 3 0"/><path d="M30 216l3 1 3 2 3 1 3 1 3 0 3 0 3 0 3-1 3-2 3-2 3-2 3-2 3-2 3-2 3-2 3 0 3-1 3 0 3 0 3 1 3 1 3 2 3 2 3 3 3 3 3 3 3 3 3 2 3 3 3 2 3 1 3 1 3 0 3 0 3 0 3-1 3-1 3-1 3 0 3-1 3-1 3 0 3 0 3-1 3 0 3 0 3 0 3 0 3 0 3 1 3 0 3 0 3 0 3 0 3 0 3 0 3-1 3 0 3-1 3 0 3-1 3 0 3-1 3 0 3 0 3 0 3 0 3 1 3 0 3 1 3 1 3 0 3 1 3 1 3 0 3 1 3 0 3 0 3 0 3 0 3 0 3 0 3 0 3 0 3 0 3 0 3 0 3 0 3 0 3 0 3 1 3 0 3 1 3 0 3 1 3 1 3 0 3 1 3 0 3 1 3 0 3 0 3 0 3-1 3 0 3 0 3-1 3-1 3 0 3-1 3 0"/><path d="M30 227l3-3 3-2 3-2 3-1 3-1 3-1 3-1 3 0 3 0 3-1 3 0 3 0 3 0 3 0 3 0 3 0 3 0 3-1 3 0 3-1 3-1 3 0 3 0 3-1 3 1 3 0 3 1 3 1 3 1 3 2 3 1 3 2 3 1 3 2 3 2 3 1 3 2 3 1 3 1 3 1 3 1 3 0 3 1 3-1 3 0 3-1 3-1 3-2 3-1 3-2 3-1 3-1 3-1 3-1 3 0 3-1 3 0 3 1 3 0 3 1 3 2 3 1 3 1 3 2 3 1 3 1 3 1 3 1 3 0 3 0 3 0 3 0 3-1 3 0 3-1 3-1 3-1 3-1 3 0 3-1 3 0 3 0 3 0 3 1 3 0 3 1 3 1 3 1 3 1 3 1 3 1 3 0 3 1 3 0 3 0 3 0 3-1 3 0 3-1 3-1 3-1 3-1 3-1 3 0 3-1 3 0 3 0 3 0 3 0 3 1 3 1"/><path d="M30 226l3 1 3 0 3 1 3 0 3-1 3-1 3-2 3-2 3-2 3-3 3-2 3-3 3-2 3-2 3-1 3-1 3-1 3 0 3 0 3 1 3 2 3 1 3 2 3 2 3 3 3 2 3 3 3 2 3 2 3 1 3 1 3 1 3 0 3 0 3 0 3 0 3-1 3 0 3-1 3 0 3 0 3 0 3-1 3 0 3 0 3 0 3 0 3 0 3 0 3 1 3 0 3 0 3 0 3 0 3 0 3 0 3 0 3 0 3 0 3-1 3 0 3 0 3 1 3 0 3 0 3 0 3 1 3 0 3 1 3 0 3 1 3 0 3 1 3 0 3 0 3 0 3 1 3 0 3-1 3 0 3 0 3 0 3 0 3 0 3-1 3 0 3 0 3 0 3 0 3 0 3 1 3 0 3 0 3 0 3 0 3 1 3 0 3 0 3 0 3 0 3 0 3 0 3 0 3-1 3 0 3 0 3 0 3 0 3 0 3 0 3 0"/><path d="M30 219l3 0 3 1 3 0 3 0 3 1 3-1 3 0 3-1 3 0 3-1 3-2 3-1 3-1 3-1 3-1 3-1 3 0 3-1 3 0 3 0 3 1 3 0 3 2 3 1 3 1 3 2 3 2 3 2 3 2 3 2 3 1 3 1 3 1 3 0 3 0 3 0 3 0 3-1 3 0 3-1 3 0 3-1 3 0 3 0 3-1 3 0 3-1 3 0 3 0 3 0 3 0 3 0 3 0 3 1 3 0 3 1 3 0 3 1 3 0 3 1 3 0 3 1 3 0 3 0 3 1 3 0 3 1 3 0 3 0 3 0 3 0 3 0 3 0 3 0 3 0 3 0 3 0 3 0 3 0 3-1 3 0 3 0 3 0 3 0 3 0 3 0 3-1 3 0 3 0 3 0 3 1 3 0 3 0 3 0 3 0 3 0 3 1 3 0 3 0 3 0 3 0 3 1 3 0 3 0 3 0 3 0 3 1 3 0 3 0 3 0 3 0"/><path d="M30 234l3 0 3-1 3-2 3-3 3-3 3-4 3-3 3-4 3-2 3-3 3-1 3-1 3 0 3 0 3 1 3 0 3 1 3 0 3 0 3 0 3-1 3 0 3 0 3 0 3 0 3 2 3 2 3 3 3 3 3 3 3 4 3 3 3 3 3 2 3 1 3 1 3 0 3-1 3-1 3-2 3-2 3-2 3-2 3-1 3-1 3-1 3 0 3 1 3 1 3 2 3 1 3 2 3 1 3 1 3 1 3-1 3-1 3-1 3-2 3-2 3-2 3-2 3-2 3 0 3-1 3 1 3 1 3 2 3 2 3 2 3 2 3 3 3 1 3 1 3 1 3 0 3-1 3-1 3-2 3-1 3-2 3-1 3-1 3 0 3 0 3 1 3 1 3 2 3 2 3 2 3 2 3 1 3 1 3 1 3 0 3-1 3-1 3-2 3-1 3-2 3-1 3-2 3-1 3 0 3 0 3 1 3 0 3 1 3 1 3 1 3 1"/><path d="M30 231l3-6 3-4 3-3 3-3 3-2 3-1 3 0 3 1 3 1 3 0 3 0 3 0 3 0 3-1 3-1 3-2 3-2 3-2 3-2 3-1 3-1 3 0 3 1 3 2 3 2 3 4 3 4 3 4 3 5 3 4 3 3 3 2 3 2 3 1 3 0 3-1 3-2 3-2 3-1 3-2 3-1 3-2 3 0 3 0 3 0 3 0 3 1 3 0 3 1 3 0 3 0 3 0 3 0 3-1 3-1 3-2 3-1 3-2 3-1 3 0 3 0 3 0 3 1 3 2 3 2 3 1 3 2 3 2 3 2 3 1 3 1 3 0 3-1 3 0 3-1 3-1 3-1 3 0 3 0 3 0 3 0 3 1 3 1 3 1 3 2 3 1 3 1 3 0 3 0 3 0 3-1 3-2 3-2 3-1 3-2 3-2 3-1 3-1 3 0 3 0 3 1 3 1 3 1 3 1 3 2 3 1 3 1 3 0 3 0 3 0 3-1"/><path d="M30 226l3-2 3-2 3-1 3-1 3-1 3-1 3-1 3 0 3 0 3 0 3-1 3 0 3-1 3-1 3-1 3-1 3-2 3-1 3-1 3-1 3 0 3 1 3 1 3 2 3 2 3 3 3 3 3 3 3 3 3 2 3 1 3 1 3 0 3 0 3-1 3-1 3-1 3-1 3-1 3 0 3 0 3 0 3 0 3 0 3 1 3 0 3 1 3 0 3 0 3 0 3 0 3 0 3-1 3 0 3 0 3 0 3 0 3 0 3 0 3 1 3 1 3 1 3 1 3 0 3 1 3 0 3 0 3 0 3-1 3 0 3-1 3-1 3 0 3 0 3 0 3 0 3 0 3 1 3 0 3 1 3 1 3 0 3 1 3 0 3 0 3 0 3 0 3-1 3 0 3 0 3-1 3 0 3 0 3 1 3 0 3 1 3 0 3 1 3 0 3 0 3 0 3 0 3 0 3-1 3 0 3-1 3 0 3-1 3 0 3 0 3 0"/><path d="M30 224l3 0 3 1 3 0 3 0 3-1 3 0 3-1 3-1 3-2 3-2 3-1 3-1 3-2 3-1 3-1 3-1 3 0 3-1 3 0 3 0 3 1 3 1 3 1 3 1 3 2 3 2 3 1 3 2 3 2 3 1 3 1 3 1 3 1 3 0 3 0 3 0 3 0 3-1 3 0 3 0 3 0 3-1 3 0 3 0 3-1 3 0 3 0 3 0 3 0 3 0 3 0 3 0 3 0 3 1 3 0 3 0 3 0 3 1 3 0 3 0 3 1 3 0 3 0 3 0 3 1 3 0 3 0 3 1 3 0 3 0 3 0 3 0 3 0 3 1 3 0 3 0 3 0 3 0 3 0 3 0 3 0 3 0 3 0 3 0 3 0 3 0 3 0 3 0 3 0 3 0 3 0 3 0 3 0 3 0 3 0 3 0 3 0 3 0 3 0 3 0 3 0 3 0 3 0 3 0 3 0 3 0 3 0 3 0 3 0 3 0 3 0"/><path d="M30 221l3-1 3 0 3-1 3-1 3-2 3-2 3-1 3-2 3-2 3-2 3-2 3-2 3-1 3-1 3-1 3 0 3 0 3 0 3 1 3 1 3 2 3 2 3 2 3 2 3 2 3 3 3 3 3 2 3 3 3 2 3 2 3 1 3 1 3 0 3 1 3 0 3 0 3 0 3 0 3 0 3 0 3 0 3 0 3 1 3 0 3-1 3 0 3 0 3 0 3 0 3 0 3 0 3 0 3-1 3 0 3 0 3-1 3 0 3-1 3 0 3-1 3 0 3 0 3 0 3 0 3 0 3 0 3 0 3 0 3 1 3 0 3 0 3 0 3 1 3 0 3 0 3 0 3 0 3 0 3 0 3 0 3 0 3 0 3 0 3 0 3 0 3 0 3 0 3 0 3 0 3 0 3 0 3 1 3 0 3 0 3 1 3 0 3 0 3 1 3 0 3 0 3 0 3 0 3 0 3 0 3 0 3 0 3 0 3-1 3 0 3 0"/><path d="M30 227l3 0 3 0 3 0 3-1 3-2 3-1 3-2 3-2 3-2 3-2 3-1 3-2 3-1 3-1 3-1 3 0 3 0 3 0 3 0 3 0 3 1 3 1 3 1 3 1 3 2 3 2 3 2 3 2 3 2 3 1 3 2 3 1 3 1 3 0 3 1 3-1 3 0 3 0 3-1 3 0 3-1 3 0 3-1 3 0 3-1 3 0 3 0 3 0 3 0 3 0 3 1 3 0 3 1 3 0 3 1 3 0 3 0 3 0 3 0 3 0 3 0 3 0 3 0 3 0 3 0 3 0 3 0 3 1 3 0 3 0 3 0 3 1 3 0 3 0 3 0 3 0 3 0 3 0 3 0 3 0 3 0 3 0 3 0 3 1 3 0 3 0 3 0 3 0 3 0 3 1 3 0 3 0 3-1 3 0 3 0 3 0 3 0 3-1 3 0 3 0 3 0 3 1 3 0 3 0 3 1 3 0 3 0 3 1 3 0 3 0 3 0"/><path d="M30 221l3-1 3 0 3 0 3 0 3 0 3 0 3 0 3-1 3 0 3-1 3-1 3 0 3-1 3-1 3-1 3-1 3-1 3 0 3-1 3 0 3-1 3 1 3 1 3 0 3 2 3 1 3 2 3 2 3 2 3 2 3 1 3 1 3 0 3 1 3 0 3 0 3 0 3 0 3 0 3-1 3 0 3 0 3 1 3 0 3 0 3 0 3 0 3 0 3 0 3 0 3 1 3 0 3 0 3 0 3 0 3-1 3 0 3 0 3 0 3 0 3 0 3 0 3 0 3 0 3 1 3 0 3 0 3 0 3 0 3 0 3 1 3 0 3 0 3 0 3 0 3 0 3 1 3 0 3 1 3 0 3 0 3 1 3 0 3 0 3 0 3 0 3 0 3 0 3 0 3 0 3-1 3 0 3 0 3-1 3 0 3 0 3 0 3 0 3 0 3 0 3 1 3 0 3 0 3 0 3 0 3 0 3 1 3 0 3 0 3 0 3 0"/><path d="M30 226l3 0 3 0 3-1 3-1 3-1 3-1 3-2 3-2 3-2 3-2 3-1 3-1 3-2 3 0 3-1 3 0 3 0 3 0 3 0 3 1 3 1 3 1 3 1 3 2 3 2 3 1 3 2 3 2 3 1 3 1 3 1 3 1 3 0 3 1 3 0 3 0 3 0 3 0 3 0 3 0 3 0 3-1 3 0 3 0 3 0 3-1 3 0 3 0 3 0 3 0 3 0 3 0 3 0 3 0 3 1 3 0 3 0 3 1 3 0 3 0 3 0 3 1 3 0 3 0 3 0 3 0 3 0 3 0 3 0 3 0 3 0 3 0 3 0 3 0 3 0 3 0 3 0 3 0 3 1 3 0 3 1 3 0 3 0 3 1 3 0 3 0 3 0 3 0 3 0 3 0 3 0 3 0 3 0 3-1 3 0 3 0 3 0 3 0 3 0 3 0 3 0 3 0 3 0 3 0 3 0 3 0 3 0 3 1 3 0 3 0 3 0"/><path d="M30 228l3 1 3 1 3 0 3 0 3-1 3-1 3-1 3-1 3-2 3-2 3-2 3-2 3-2 3-2 3-2 3-1 3-1 3-1 3-1 3-1 3 1 3 0 3 1 3 1 3 2 3 2 3 1 3 2 3 2 3 2 3 1 3 1 3 1 3 1 3 0 3 0 3 1 3 0 3 0 3 0 3 0 3 0 3 0 3 0 3-1 3 0 3 0 3 0 3 0 3 0 3 0 3 0 3 0 3 0 3 0 3 0 3 1 3 0 3 0 3 0 3 0 3 0 3 1 3 0 3 0 3 1 3 0 3 0 3 1 3 0 3 0 3 1 3 0 3 0 3 1 3 0 3 0 3 0 3 1 3 0 3 0 3 0 3 0 3 0 3 0 3 0 3 0 3 0 3 0 3-1 3 0 3 0 3 0 3-1 3 0 3 0 3 0 3-1 3 0 3 0 3 0 3 0 3 0 3 0 3 0 3 0 3 0 3 0 3 0 3 0 3 0"/><path d="M30 232l3-2 3-2 3-2 3-3 3-2 3-3 3-2 3-2 3-2 3-2 3-1 3 0 3-1 3 1 3 0 3 1 3 1 3 0 3 1 3 1 3 1 3 1 3 1 3 0 3 2 3 1 3 0 3 1 3 1 3 1 3 0 3 1 3 1 3 0 3 1 3 0 3 1 3 1 3 0 3 1 3 0 3 1 3 0 3 0 3 0 3-1 3 0 3-1 3-1 3-1 3-1 3 0 3-1 3 0 3 0 3 0 3 0 3 0 3 1 3 1 3 1 3 1 3 1 3 1 3 1 3 1 3 0 3 0 3 0 3 0 3-1 3 0 3-1 3-1 3-1 3 0 3-1 3 0 3 0 3 0 3 1 3 0 3 1 3 1 3 1 3 1 3 1 3 1 3 0 3 0 3 0 3 0 3-1 3 0 3-1 3-1 3-1 3 0 3-1 3 0 3 0 3 0 3 0 3 1 3 0 3 1 3 1 3 1 3 1 3 0 3 1"/><path d="M30 226l3 0 3 0 3 1 3-1 3 0 3-1 3-1 3-2 3-1 3-2 3-2 3-1 3-1 3-2 3-1 3-1 3 0 3-1 3 0 3 0 3 0 3 0 3 1 3 1 3 1 3 2 3 2 3 1 3 2 3 2 3 2 3 1 3 1 3 1 3 0 3 0 3 0 3 0 3-1 3 0 3-1 3 0 3-1 3 0 3-1 3 0 3 0 3 0 3 0 3 0 3 0 3 0 3 1 3 0 3 0 3 1 3 0 3 0 3 0 3 0 3 0 3 1 3 0 3 0 3 1 3 0 3 1 3 0 3 1 3 0 3 1 3 0 3 0 3 0 3 1 3 0 3 0 3 0 3 0 3 0 3 0 3 0 3 0 3 1 3 0 3 0 3 0 3 0 3 1 3-1 3 0 3 0 3 0 3 0 3 0 3-1 3 0 3 0 3 0 3 0 3 0 3 0 3 0 3 0 3 0 3 0 3-1 3 0 3 0 3 0 3-1"/><path d="M30 221l3 1 3 0 3 0 3 0 3 0 3 0 3-1 3-1 3-1 3-2 3-1 3-1 3-1 3-2 3 0 3-1 3 0 3-1 3 0 3 0 3 1 3 1 3 1 3 1 3 2 3 2 3 2 3 2 3 1 3 2 3 1 3 1 3 0 3 1 3 0 3-1 3 0 3 0 3 0 3-1 3 0 3 0 3-1 3 0 3 0 3-1 3 0 3 0 3 0 3 0 3 0 3 0 3 1 3 0 3 0 3 0 3 0 3 1 3 0 3 0 3 0 3 1 3 0 3 0 3 0 3 1 3 0 3 0 3 0 3 0 3 1 3 0 3 0 3 0 3 0 3 0 3 0 3 1 3 0 3 0 3 0 3 0 3 0 3 0 3 0 3 0 3 0 3 0 3 1 3 0 3 0 3 0 3 0 3 0 3 0 3 0 3 0 3 0 3 0 3 0 3 0 3 0 3 0 3 0 3 0 3-1 3 0 3 0 3 0 3 0 3 0"/><path d="M30 230l3 3 3 2 3 1 3 1 3-2 3-2 3-3 3-5 3-4 3-5 3-5 3-4 3-4 3-2 3-1 3 0 3 1 3 2 3 2 3 3 3 3 3 3 3 3 3 2 3 2 3 2 3 1 3 0 3 0 3 0 3 0 3-1 3 0 3 0 3 0 3 0 3 1 3 1 3 1 3 1 3 2 3 0 3 1 3 0 3-1 3-1 3-1 3-2 3-1 3-2 3-1 3-1 3-1 3 0 3 1 3 1 3 1 3 2 3 2 3 2 3 2 3 2 3 1 3 1 3 0 3 0 3-1 3-1 3-2 3-1 3-2 3-1 3-1 3-1 3 0 3 0 3 1 3 1 3 1 3 1 3 1 3 1 3 1 3 0 3 0 3 0 3 0 3-1 3 0 3-1 3 0 3 0 3 0 3 0 3 1 3 1 3 0 3 1 3 1 3 1 3 0 3 0 3 0 3-1 3-1 3-1 3-1 3-1 3 0 3-1 3-1"/><path d="M30 225l3-1 3 0 3-1 3-1 3-2 3-1 3-1 3-1 3-2 3-1 3-1 3 0 3 0 3 0 3 0 3 0 3 1 3 1 3 1 3 0 3 1 3 1 3 1 3 1 3 1 3 1 3 1 3 1 3 0 3 1 3 0 3-1 3 0 3 0 3-1 3 0 3-1 3 0 3 0 3 0 3 0 3 0 3 0 3 0 3 1 3 0 3 0 3 0 3 1 3 0 3 1 3 0 3 1 3 0 3 1 3 0 3 0 3 0 3 1 3 0 3 0 3 0 3 0 3-1 3 0 3 0 3 0 3 0 3 0 3 0 3 0 3 1 3 0 3 0 3 1 3 1 3 0 3 1 3 1 3 0 3 1 3 1 3 0 3 0 3 0 3 0 3 0 3-1 3-1 3 0 3-1 3-1 3-1 3-1 3-1 3 0 3-1 3 0 3 0 3 0 3 0 3 0 3 1 3 0 3 1 3 1 3 0 3 1 3 1 3 0 3 1"/><path d="M30 224l3 0 3-1 3 0 3 0 3 0 3-1 3-1 3-1 3-1 3-1 3-2 3-1 3-1 3-2 3-1 3-1 3 0 3-1 3-1 3 0 3 0 3 1 3 1 3 1 3 2 3 2 3 2 3 2 3 2 3 2 3 2 3 1 3 1 3 1 3 1 3 0 3 0 3 0 3 0 3-1 3 0 3 0 3-1 3 0 3-1 3-1 3 0 3-1 3 0 3-1 3 0 3 0 3 0 3 0 3 0 3 1 3 0 3 0 3 1 3 1 3 0 3 1 3 1 3 0 3 1 3 1 3 0 3 0 3 1 3 0 3 0 3 0 3-1 3 0 3 0 3 0 3-1 3 0 3-1 3 0 3 0 3 0 3-1 3 0 3 1 3 0 3 0 3 0 3 0 3 1 3 0 3 1 3 0 3 1 3 0 3 0 3 1 3 0 3 0 3 0 3 0 3 0 3 0 3 0 3 0 3 0 3-1 3 0 3 0 3 0 3 0"/><path d="M30 226l3 1 3 0 3-1 3 0 3-1 3-1 3-1 3-1 3-2 3-2 3-2 3-1 3-2 3-1 3-1 3-1 3-1 3-1 3 0 3 0 3 1 3 0 3 1 3 2 3 1 3 2 3 2 3 2 3 2 3 1 3 1 3 1 3 1 3 1 3 0 3 0 3 0 3 0 3 0 3 0 3 0 3-1 3 0 3 0 3 0 3 0 3-1 3 0 3 0 3 0 3 0 3 1 3 0 3 0 3 1 3 0 3 0 3 0 3 1 3 0 3 1 3 0 3 0 3 0 3 1 3 0 3 0 3 0 3 1 3 0 3 0 3 0 3 0 3 0 3 0 3 0 3 0 3 0 3 0 3 0 3 0 3 0 3 0 3 0 3 0 3 0 3 0 3 0 3 0 3 0 3 0 3 0 3 0 3 0 3 0 3 0 3 0 3 0 3 0 3 0 3 0 3 0 3 0 3 0 3 0 3 0 3 0 3 0 3 0 3 0 3 0"/><path d="M30 218l3 1 3 2 3 2 3 1 3 1 3 1 3 0 3-1 3-2 3-2 3-2 3-3 3-2 3-3 3-2 3-1 3-2 3 0 3 0 3 0 3 1 3 2 3 2 3 3 3 2 3 3 3 2 3 2 3 2 3 1 3 1 3 0 3 0 3 0 3-1 3 0 3-1 3 0 3-1 3 0 3 1 3 0 3 0 3 1 3 0 3 0 3 0 3 0 3 0 3 0 3 0 3 0 3-1 3 0 3-1 3 0 3 0 3 0 3 0 3 1 3 0 3 1 3 1 3 1 3 1 3 0 3 1 3 1 3 0 3 0 3-1 3 0 3 0 3-1 3-1 3 0 3-1 3 0 3 0 3 0 3 1 3 0 3 1 3 0 3 1 3 0 3 1 3 0 3 0 3 0 3 0 3 0 3 0 3-1 3 0 3-1 3 0 3 0 3 0 3 0 3 0 3 1 3 0 3 1 3 1 3 0 3 1 3 0 3 0 3 0 3 0"/><path d="M30 222l3 1 3 0 3 1 3 0 3 0 3 0 3-1 3 0 3-2 3-1 3-2 3-1 3-2 3-1 3-1 3-1 3-1 3-1 3 0 3 0 3 0 3 1 3 1 3 1 3 2 3 2 3 2 3 2 3 1 3 2 3 1 3 1 3 1 3 0 3 0 3 0 3 0 3-1 3 0 3 0 3-1 3 0 3 0 3 0 3-1 3 0 3 0 3 0 3 0 3 0 3 0 3 0 3 1 3 0 3 0 3 1 3 0 3 0 3 1 3 0 3 0 3 1 3 0 3 0 3 0 3 0 3 1 3 0 3 0 3 0 3 0 3 0 3 0 3 0 3 1 3 0 3 0 3 0 3 0 3 0 3 0 3 0 3 0 3 0 3 0 3 0 3 0 3-1 3 0 3 0 3 0 3 0 3 0 3 0 3 0 3 0 3 1 3 0 3 0 3 0 3 0 3 0 3 0 3 0 3 1 3 0 3 0 3 0 3 0 3 0 3 0"/><path d="M30 218l3 2 3 3 3 2 3 1 3 2 3 0 3 0 3 0 3-2 3-3 3-2 3-4 3-3 3-3 3-3 3-2 3-2 3-2 3 0 3 0 3 2 3 2 3 3 3 3 3 3 3 4 3 3 3 3 3 3 3 1 3 1 3 0 3 0 3-1 3-1 3-1 3-1 3-1 3-1 3-1 3 0 3 0 3 1 3 0 3 1 3 0 3 1 3 0 3 0 3 1 3 0 3 0 3-1 3 0 3 0 3-1 3 0 3 0 3 0 3 0 3 1 3 0 3 1 3 1 3 0 3 1 3 0 3 1 3 0 3 0 3-1 3 0 3-1 3 0 3-1 3 0 3 0 3 0 3 0 3 1 3 0 3 1 3 1 3 1 3 1 3 1 3 0 3 0 3 0 3 0 3-1 3-1 3-1 3-1 3-1 3-1 3 0 3 0 3 0 3 0 3 1 3 1 3 1 3 1 3 1 3 1 3 1 3 0 3 1 3 0 3-1"/><path d="M30 220l3 0 3-1 3 1 3 0 3 0 3 1 3-1 3 0 3 0 3-2 3-1 3-2 3-1 3-2 3-2 3-1 3-1 3-1 3 0 3-1 3 1 3 0 3 2 3 1 3 2 3 2 3 3 3 2 3 2 3 2 3 1 3 1 3 1 3 1 3 0 3 0 3 0 3 0 3 0 3 0 3 0 3 0 3 0 3 1 3-1 3 0 3 0 3 0 3-1 3 0 3 0 3 0 3 0 3 0 3 0 3 0 3 0 3 0 3 1 3 0 3 1 3 0 3 0 3 1 3 0 3 0 3 0 3 0 3 0 3 0 3 0 3 0 3 0 3 0 3 0 3 0 3 0 3 0 3 0 3 0 3 0 3 0 3 0 3 0 3 0 3 0 3 0 3 0 3-1 3 0 3 0 3 1 3 0 3 0 3 0 3 1 3 0 3 0 3 0 3 0 3 0 3 0 3 0 3 0 3 0 3 0 3 0 3 0 3 0 3 0 3 0"/><path d="M30 220l3-2 3-1 3-2 3-1 3-1 3-1 3 0 3-1 3-1 3-1 3-1 3 0 3-1 3-1 3-1 3 0 3-1 3 0 3 0 3 0 3 1 3 2 3 2 3 2 3 2 3 4 3 3 3 3 3 3 3 2 3 2 3 2 3 1 3 1 3 0 3-1 3 0 3-1 3-1 3-1 3 0 3-1 3-1 3 0 3-1 3 0 3-1 3 0 3 0 3-1 3 0 3 0 3-1 3 0 3-1 3 0 3-1 3 0 3 0 3-1 3 0 3 1 3 0 3 0 3 1 3 1 3 1 3 0 3 1 3 1 3 1 3 0 3 1 3 0 3 0 3 0 3 1 3 0 3 0 3 1 3 0 3 1 3 0 3 1 3 1 3 0 3 1 3 0 3 0 3 0 3 0 3 0 3 0 3-1 3-1 3 0 3-1 3-1 3 0 3-1 3 0 3 0 3 0 3-1 3 0 3 0 3 0 3 0 3-1 3 0 3 0"/><path d="M30 228l3 0 3 0 3-1 3-1 3-1 3-1 3-2 3-2 3-2 3-2 3-2 3-2 3-1 3-2 3 0 3-1 3 0 3 0 3 1 3 1 3 1 3 2 3 2 3 2 3 2 3 3 3 2 3 2 3 1 3 2 3 0 3 1 3 0 3-1 3 0 3-1 3-1 3-1 3-1 3 0 3-1 3-1 3 0 3-1 3 0 3-1 3 0 3 1 3 0 3 0 3 1 3 1 3 0 3 1 3 0 3 1 3 0 3 1 3 0 3 0 3 1 3 0 3 0 3 0 3 0 3 0 3-1 3 0 3 0 3 0 3 0 3 0 3 0 3 0 3 1 3 0 3 0 3 1 3 0 3 1 3 0 3 1 3 0 3 1 3 0 3 1 3 0 3 0 3 0 3 0 3 0 3 0 3 0 3-1 3 0 3-1 3 0 3-1 3 0 3 0 3-1 3 0 3 0 3 0 3 0 3 0 3 0 3 0 3 0 3 1 3 0"/><path d="M30 220l3 0 3 1 3 0 3 0 3 0 3-1 3 0 3-1 3-1 3-1 3-1 3 0 3-1 3-1 3-1 3 0 3-1 3 0 3 0 3 0 3 0 3 1 3 0 3 1 3 2 3 1 3 2 3 1 3 2 3 1 3 1 3 1 3 1 3 0 3 0 3 0 3 0 3 0 3-1 3 0 3 0 3 0 3 0 3-1 3 0 3 0 3 0 3 0 3 1 3 0 3 1 3 0 3 1 3 0 3 0 3 1 3 0 3 0 3 0 3 0 3 0 3 0 3 0 3 0 3 0 3 0 3 0 3 0 3 0 3 0 3 0 3 0 3 0 3 0 3 0 3 0 3 0 3 0 3 0 3 0 3 0 3 0 3 0 3 1 3 0 3 0 3 1 3 0 3 0 3 1 3 0 3 0 3 1 3 0 3 0 3 0 3 0 3 0 3 0 3 0 3 0 3 0 3-1 3 0 3 0 3 0 3 0 3 0 3-1 3 0 3 0"/><path d="M30 222l3 1 3 2 3 1 3 0 3 0 3-1 3-1 3-1 3-3 3-2 3-2 3-2 3-2 3-2 3-1 3-1 3 0 3 0 3 0 3 1 3 1 3 1 3 2 3 1 3 2 3 2 3 2 3 2 3 1 3 1 3 1 3 0 3 0 3 1 3 0 3 0 3 0 3 0 3 0 3 1 3 0 3 0 3 1 3 0 3 0 3-1 3 0 3 0 3-1 3 0 3-1 3 0 3-1 3 0 3 0 3 0 3 0 3 0 3 0 3 1 3 1 3 0 3 1 3 1 3 1 3 0 3 1 3 0 3 0 3 0 3 0 3-1 3 0 3 0 3-1 3 0 3 0 3 0 3 0 3 0 3 1 3 0 3 0 3 1 3 0 3 0 3 1 3 0 3 0 3 0 3 0 3-1 3 0 3 0 3 0 3-1 3 0 3 0 3 1 3 0 3 0 3 1 3 0 3 0 3 1 3 0 3 0 3 0 3 0 3 0 3 0"/><path d="M30 223l3-1 3-1 3-2 3-1 3-1 3-1 3-1 3 0 3 0 3-1 3 0 3 0 3 1 3 0 3 0 3 0 3 1 3 0 3-1 3 0 3 0 3 0 3 0 3-1 3 1 3 0 3 1 3 1 3 1 3 1 3 1 3 1 3 1 3 1 3 1 3 1 3 1 3 0 3 1 3 0 3 0 3 0 3 0 3 0 3 0 3-1 3 0 3 0 3-1 3 0 3 1 3 0 3 0 3 1 3 0 3 0 3 1 3 0 3 0 3 0 3 0 3 0 3-1 3 0 3-1 3 0 3-1 3 0 3 0 3-1 3 1 3 0 3 1 3 0 3 1 3 1 3 1 3 2 3 1 3 0 3 1 3 1 3 0 3 0 3-1 3 0 3-1 3-1 3 0 3-1 3-1 3-1 3 0 3 0 3 0 3 0 3 0 3 0 3 1 3 0 3 1 3 1 3 0 3 0 3 1 3 0 3 0 3-1 3 0 3 0 3 0"/><path d="M30 229l3 0 3 0 3-1 3-1 3-2 3-2 3-3 3-2 3-3 3-2 3-2 3-1 3-1 3-1 3 0 3 0 3 0 3 0 3 0 3 0 3 1 3 1 3 1 3 1 3 2 3 2 3 2 3 2 3 2 3 3 3 1 3 2 3 1 3 1 3 1 3 0 3-1 3 0 3-1 3 0 3-1 3-1 3-1 3-1 3 0 3-1 3 0 3 0 3 0 3 0 3 0 3 1 3 0 3 0 3 0 3 0 3 0 3 0 3 0 3 0 3 0 3 0 3 0 3 1 3 1 3 1 3 0 3 1 3 1 3 0 3 1 3 0 3 0 3 0 3-1 3 0 3 0 3 0 3-1 3 0 3 0 3 1 3 0 3 0 3 0 3 0 3 0 3 0 3 0 3 0 3 0 3-1 3 0 3 0 3-1 3 0 3 0 3 0 3 1 3 0 3 1 3 0 3 1 3 0 3 1 3 0 3 0 3 0 3 0 3 0 3 0"/><path d="M30 225l3 1 3 0 3 0 3 0 3-1 3-1 3-1 3-2 3-2 3-2 3-2 3-2 3-2 3-1 3-1 3 0 3-1 3 0 3 0 3 1 3 1 3 1 3 1 3 2 3 2 3 1 3 2 3 2 3 1 3 2 3 1 3 1 3 0 3 1 3 0 3 0 3 0 3 0 3 0 3 0 3 0 3-1 3 0 3 0 3 0 3-1 3 0 3 0 3 0 3 0 3 0 3 0 3 0 3 0 3 1 3 0 3 0 3 0 3 0 3 0 3 0 3 1 3 0 3 0 3 0 3 1 3 0 3 0 3 1 3 0 3 0 3 0 3 0 3 0 3 0 3 0 3 0 3 0 3 0 3 0 3 0 3 0 3 0 3 0 3 0 3 1 3 0 3 0 3 0 3 1 3 0 3 0 3 0 3 0 3 0 3-1 3 0 3 0 3 0 3 0 3 0 3 0 3 0 3 0 3 0 3 1 3 0 3 0 3 0 3 0 3 0"/><path d="M30 230l3 3 3 1 3 0 3-1 3-2 3-4 3-4 3-5 3-6 3-5 3-5 3-4 3-2 3-1 3 0 3 2 3 4 3 4 3 4 3 5 3 5 3 4 3 3 3 3 3 1 3 0 3-1 3-2 3-2 3-3 3-2 3-2 3-2 3 0 3 1 3 2 3 2 3 3 3 4 3 3 3 3 3 3 3 1 3 0 3-1 3-2 3-3 3-3 3-3 3-4 3-3 3-2 3-1 3-1 3 0 3 2 3 1 3 3 3 2 3 3 3 2 3 2 3 2 3 1 3 0 3 0 3-1 3-1 3-1 3-2 3-1 3-1 3-1 3-1 3 0 3 0 3 1 3 1 3 1 3 1 3 1 3 1 3 1 3 1 3 1 3 1 3 1 3 0 3 0 3 0 3 0 3-1 3-1 3-1 3-1 3-1 3-2 3-1 3-1 3 0 3 0 3 0 3 1 3 1 3 1 3 2 3 2 3 2 3 1 3 1 3 0"/><path d="M30 249l3 2 3 18 3 11 3 5 3-1 3-2 3-3 3-3 3-2 3 0 3 1 3 2 3 3 3 3 3 3 3 2 3 2 3 2 3 1 3 1 3 0 3 0 3 0 3 0 3-1 3 0 3-1 3 0 3 0 3 0 3 0 3 0 3 1 3 1 3 0 3 1 3 0 3 0 3 0 3 0 3 0 3 0 3 0 3 0 3-1 3 0 3 0 3-1 3 0 3 0 3-1 3 0 3 0 3 0 3 0 3 0 3-1 3 0 3 0 3 0 3 1 3 0 3 0 3 0 3 0 3 0 3 1 3 0 3 0 3 1 3 0 3 0 3 0 3 1 3 0 3 0 3 0 3 0 3 0 3 0 3 0 3 0 3 0 3 0 3 0 3 0 3 0 3-1 3 0 3 0 3 0 3-1 3 0 3 0 3 0 3-1 3 0 3 0 3 0 3 0 3-1 3 0 3 0 3 0 3 0 3 0 3 0 3 0 3 1 3 0 3 0"/><path d="M30 259l3 7 3 14 3 7 3 1 3-3 3-4 3-5 3-3 3-3 3-1 3 1 3 2 3 3 3 4 3 3 3 2 3 3 3 2 3 2 3 2 3 1 3 1 3 1 3 0 3 0 3 0 3 0 3-1 3 0 3 0 3 0 3 0 3 0 3-1 3 0 3 0 3-1 3 0 3-1 3 0 3-1 3 0 3-1 3 0 3 0 3 0 3 0 3 1 3 0 3 0 3 1 3 1 3 0 3 1 3 1 3 0 3 1 3 0 3 1 3 0 3 0 3 0 3 0 3 0 3-1 3 0 3-1 3 0 3-1 3 0 3-1 3-1 3 0 3-1 3 0 3 0 3-1 3 0 3 0 3 0 3 1 3 0 3 0 3 1 3 0 3 1 3 1 3 0 3 1 3 0 3 0 3 1 3 0 3 0 3 0 3 0 3-1 3 0 3 0 3-1 3 0 3-1 3-1 3 0 3-1 3-1 3 0 3 0 3-1 3 0 3 0"/><path d="M30 284l3 6 3 0 3-2 3-3 3-4 3-3 3-2 3-1 3 0 3 1 3 2 3 3 3 2 3 3 3 2 3 2 3 2 3 1 3 1 3 0 3 1 3-1 3 0 3-1 3-1 3-1 3-1 3 0 3-1 3 1 3 0 3 1 3 1 3 0 3 1 3 1 3 1 3 0 3 1 3 0 3 0 3-1 3 0 3-1 3 0 3-1 3 0 3 0 3-1 3 0 3 1 3 0 3 0 3 0 3 1 3 0 3 1 3 0 3 0 3 0 3 0 3 0 3-1 3 0 3 0 3-1 3 0 3 0 3 0 3 0 3 0 3 0 3 0 3 0 3 1 3 0 3 0 3-1 3 0 3 0 3-1 3 0 3-1 3 0 3 0 3 0 3 0 3 0 3 0 3 1 3 0 3 1 3 0 3 1 3 0 3 0 3 1 3 0 3 0 3-1 3 0 3 0 3 0 3 0 3 0 3 0 3 0 3 0 3 1 3 0 3 0"/><path d="M30 273l3 11 3 5 3 0 3-2 3-2 3-3 3-2 3-1 3 0 3 2 3 2 3 2 3 3 3 2 3 1 3 2 3 1 3 0 3 0 3 0 3 0 3-1 3-1 3 0 3-1 3-1 3-1 3 0 3 0 3 0 3 0 3 1 3 0 3 1 3 0 3 1 3 1 3 0 3 0 3 1 3 0 3 0 3 0 3 0 3 0 3 0 3 0 3 0 3 0 3 0 3 0 3 0 3 0 3 0 3 0 3 0 3 0 3 0 3 0 3 0 3 0 3 0 3 0 3 0 3-1 3 0 3 0 3 0 3 0 3 0 3 0 3 0 3 0 3 0 3 0 3 0 3 0 3 0 3 0 3 0 3 0 3 0 3 0 3 0 3 0 3 0 3 0 3 0 3 0 3 0 3 0 3 0 3 0 3 1 3 0 3 0 3 0 3 0 3 0 3 0 3 0 3 0 3 0 3 0 3 0 3 0 3 0 3 0 3-1 3 0 3 0"/><path d="M30 268l3 16 3 8 3 2 3-4 3-5 3-6 3-5 3-3 3-1 3 1 3 4 3 4 3 5 3 5 3 5 3 3 3 3 3 1 3 0 3 0 3-2 3-3 3-2 3-3 3-2 3-2 3-1 3-1 3 0 3 1 3 2 3 1 3 2 3 2 3 1 3 1 3 0 3 1 3-1 3 0 3-1 3-1 3 0 3-1 3 0 3 0 3 0 3 0 3 1 3 0 3 0 3 1 3 0 3 0 3 0 3 0 3 0 3 0 3 0 3 0 3 0 3 0 3 0 3 0 3 0 3 0 3 0 3-1 3 0 3 0 3-1 3 0 3 0 3 0 3 0 3 1 3 0 3 1 3 0 3 1 3 0 3 0 3 0 3 0 3-1 3 0 3-1 3-1 3-1 3 0 3 0 3 0 3 0 3 1 3 1 3 0 3 1 3 1 3 1 3 0 3 0 3-1 3 0 3-1 3-1 3-1 3-1 3-1 3 0 3 0 3 0"/><path d="M30 234l3 20 3 14 3 8 3 4 3 2 3-1 3-2 3-2 3-2 3-2 3-1 3 0 3 1 3 2 3 2 3 3 3 4 3 4 3 5 3 4 3 3 3 2 3 2 3 0 3-2 3-2 3-3 3-3 3-2 3-2 3-1 3 1 3 1 3 3 3 2 3 3 3 3 3 3 3 1 3 1 3 0 3-2 3-2 3-2 3-3 3-2 3-2 3-2 3-1 3 0 3 1 3 1 3 2 3 1 3 2 3 0 3 0 3-1 3-1 3-2 3-2 3-3 3-2 3-2 3-1 3 0 3 0 3 1 3 1 3 2 3 2 3 1 3 1 3 1 3 0 3-1 3-1 3-2 3-2 3-1 3-1 3 0 3 0 3 1 3 2 3 2 3 2 3 2 3 2 3 2 3 0 3 1 3-1 3-1 3-1 3-1 3-2 3 0 3-1 3 1 3 1 3 1 3 2 3 2 3 1 3 2 3 0 3 1 3-1 3-1 3-2"/><path d="M30 247l3 13 3 7 3 3 3 1 3 0 3 1 3 2 3 3 3 4 3 5 3 6 3 5 3 4 3 3 3 0 3 0 3-2 3-3 3-3 3-4 3-4 3-3 3-2 3-2 3-1 3 1 3 1 3 2 3 3 3 3 3 3 3 3 3 3 3 1 3 1 3 0 3-1 3-1 3-3 3-2 3-3 3-2 3-2 3-1 3 0 3 0 3 1 3 1 3 2 3 2 3 3 3 2 3 1 3 2 3 0 3 0 3 0 3-2 3-1 3-2 3-2 3-2 3-1 3-1 3-1 3 0 3 1 3 1 3 1 3 2 3 2 3 1 3 1 3 1 3 1 3 0 3-1 3-1 3-2 3-1 3-2 3-2 3-1 3-1 3 0 3 0 3 0 3 1 3 2 3 1 3 2 3 2 3 1 3 1 3 1 3 0 3 0 3-1 3-2 3-1 3-2 3-2 3-2 3-1 3-1 3 0 3 0 3 0 3 2 3 1 3 2"/><path d="M30 273l3 7 3 2 3-1 3-3 3-2 3-2 3-1 3 0 3 2 3 4 3 4 3 5 3 4 3 3 3 3 3 2 3 2 3 1 3-1 3-1 3-1 3-2 3-2 3-3 3-2 3-3 3-2 3-2 3-1 3 0 3 0 3 1 3 1 3 2 3 1 3 2 3 2 3 2 3 1 3 1 3 1 3 1 3 0 3 0 3 0 3 0 3-1 3-1 3-1 3-1 3-1 3-1 3-1 3-1 3 0 3 0 3 1 3 0 3 1 3 1 3 1 3 1 3 1 3 0 3 1 3 0 3 0 3-1 3 0 3-1 3-1 3-1 3-1 3-1 3-1 3-1 3 0 3 0 3 1 3 0 3 1 3 1 3 1 3 2 3 1 3 1 3 1 3 1 3 0 3 0 3-1 3 0 3-2 3-1 3-1 3-2 3-1 3-2 3-1 3-1 3 0 3-1 3 1 3 0 3 1 3 2 3 1 3 2 3 1 3 2 3 1"/><path d="M30 265l3 12 3 5 3 1 3 0 3-1 3-2 3 0 3 1 3 1 3 4 3 3 3 3 3 4 3 2 3 1 3 1 3 1 3 0 3-1 3 0 3-2 3-1 3-1 3-1 3-2 3-1 3-1 3-2 3-1 3-1 3 0 3-1 3 0 3 0 3 0 3 0 3 0 3 1 3 1 3 1 3 1 3 1 3 1 3 1 3 1 3 1 3 0 3 0 3 1 3 0 3 0 3 0 3 0 3 0 3 0 3 0 3 1 3 0 3 1 3 0 3 0 3 0 3 0 3-1 3-1 3-1 3-1 3-1 3-1 3-1 3-1 3-1 3 0 3 0 3 0 3 0 3 1 3 0 3 1 3 0 3 1 3 0 3 0 3 0 3 0 3 0 3 0 3 0 3 1 3 0 3 0 3 1 3 1 3 1 3 0 3 1 3 0 3 1 3 0 3-1 3 0 3-1 3 0 3-1 3-1 3-1 3 0 3-1 3 0 3-1 3 0"/><path d="M30 245l3 18 3 14 3 7 3 1 3 0 3-2 3-1 3-1 3 0 3 1 3 2 3 3 3 2 3 2 3 2 3 0 3 1 3 0 3 0 3-1 3-1 3 0 3-1 3 0 3-1 3 0 3 0 3 0 3 0 3 0 3 1 3 1 3 1 3 0 3 0 3 1 3 0 3 0 3-1 3 0 3 0 3-1 3 0 3 0 3 0 3 0 3 0 3 0 3 1 3 0 3 1 3 0 3 1 3 0 3 0 3 1 3 0 3-1 3 0 3 0 3-1 3 0 3-1 3 0 3-1 3 0 3 0 3 0 3 0 3 1 3 0 3 1 3 0 3 0 3 0 3 0 3 0 3 0 3 0 3 0 3-1 3 0 3-1 3 0 3 0 3 0 3 0 3 1 3 0 3 1 3 0 3 0 3 0 3 0 3 0 3 0 3 0 3-1 3 0 3-1 3 0 3-1 3 0 3 0 3 0 3 1 3 0 3 1 3 1 3 0 3 1"/><path d="M30 274l3 9 3 3 3-2 3-3 3-4 3-3 3-2 3 0 3 2 3 4 3 5 3 5 3 4 3 3 3 2 3 1 3-1 3 0 3-2 3-2 3-2 3-1 3-2 3 0 3-1 3 1 3 1 3 1 3 1 3 1 3 1 3 1 3 0 3 0 3 0 3-1 3-1 3-1 3-1 3 0 3 0 3 0 3 1 3 1 3 2 3 1 3 1 3 1 3 1 3 0 3-1 3-1 3-1 3-1 3-1 3-1 3-1 3 0 3 0 3 0 3 1 3 1 3 2 3 1 3 1 3 0 3 0 3 0 3-1 3-1 3-1 3-2 3-1 3-1 3 0 3 0 3 0 3 1 3 1 3 1 3 1 3 1 3 1 3 0 3 0 3 0 3-1 3-2 3-1 3-1 3-1 3 0 3-1 3 1 3 0 3 1 3 2 3 1 3 1 3 1 3 0 3 0 3 0 3-1 3-1 3-1 3-2 3 0 3-1 3 0 3 0"/><path d="M30 267l3 16 3 9 3 2 3-1 3-3 3-4 3-3 3-3 3-2 3 0 3 2 3 2 3 2 3 2 3 2 3 2 3 2 3 1 3 1 3 1 3 1 3 0 3 0 3 0 3-1 3-1 3 0 3-1 3-1 3 0 3-1 3 0 3 0 3 0 3-1 3 0 3 0 3 0 3-1 3 0 3 0 3 1 3 0 3 0 3 1 3 1 3 1 3 0 3 1 3 1 3 0 3 0 3 1 3 0 3 0 3 0 3-1 3 0 3 0 3-1 3-1 3 0 3 0 3-1 3 0 3 0 3 0 3 0 3 0 3 0 3 1 3 0 3 1 3 0 3 1 3 0 3 1 3 0 3 0 3 0 3 0 3 0 3 0 3-1 3 0 3-1 3 0 3-1 3 0 3-1 3 0 3-1 3 0 3 0 3 0 3 0 3 0 3 1 3 0 3 0 3 1 3 0 3 1 3 0 3 0 3 0 3 0 3 0 3 0 3 0 3-1"/><path d="M30 269l3 13 3 8 3 1 3-1 3-2 3-3 3-2 3-2 3 0 3 1 3 2 3 2 3 2 3 2 3 1 3 1 3 1 3 0 3 0 3 0 3 0 3-1 3 0 3-1 3-1 3 0 3-1 3 0 3 0 3 0 3 1 3 1 3 1 3 0 3 1 3 0 3 1 3 0 3 1 3 0 3 0 3-1 3 0 3 0 3 0 3 0 3 0 3-1 3 0 3 0 3 0 3 0 3 0 3-1 3 0 3 0 3 0 3 1 3 0 3 0 3 0 3 0 3 1 3 0 3 0 3 0 3 1 3 0 3 0 3 0 3 0 3 0 3 0 3 0 3-1 3 0 3 0 3 0 3-1 3 0 3 0 3-1 3 0 3 0 3 0 3 0 3 0 3 0 3 0 3 0 3 0 3 0 3 1 3 0 3 0 3 0 3 0 3 1 3 0 3 0 3 0 3 0 3 0 3 0 3 0 3 0 3 0 3 0 3 0 3 0 3-1"/><path d="M30 253l3-2 3 9 3 15 3 7 3 2 3-1 3-2 3-2 3 0 3 1 3 3 3 4 3 4 3 5 3 4 3 2 3 1 3 0 3-1 3-1 3-3 3-2 3-3 3-2 3-2 3-1 3-1 3 0 3 0 3 1 3 2 3 1 3 2 3 2 3 1 3 0 3 0 3-1 3-1 3-1 3-2 3-1 3-1 3-1 3-1 3 0 3 0 3 1 3 1 3 1 3 1 3 1 3 1 3 1 3 0 3 1 3-1 3 0 3 0 3-1 3-1 3 0 3-1 3 0 3 0 3 0 3 0 3 1 3 0 3 1 3 1 3 0 3 1 3 0 3 0 3 0 3 0 3 1 3 0 3 0 3 0 3 0 3-1 3 0 3 0 3 0 3 0 3 0 3 0 3-1 3 0 3 0 3 0 3 0 3 0 3 0 3 0 3 0 3 1 3 0 3 0 3 0 3 0 3 0 3 0 3 0 3-1 3-1 3-1 3-1 3 0"/><path d="M30 248l3 1 3 19 3 12 3 5 3 0 3-2 3-3 3-3 3-2 3 0 3 1 3 2 3 3 3 3 3 3 3 2 3 1 3 2 3 1 3 1 3 0 3 0 3 0 3 0 3-1 3-1 3 0 3-1 3 0 3 0 3 0 3 0 3 1 3 0 3 1 3 0 3 0 3 1 3 0 3 0 3 0 3 1 3 0 3 0 3 0 3 0 3 0 3 0 3 0 3 0 3 0 3 0 3 0 3 0 3-1 3 0 3 0 3-1 3 0 3 0 3-1 3 0 3 0 3 0 3-1 3 0 3 0 3 0 3 1 3 0 3 0 3 0 3 0 3 1 3 0 3 0 3 0 3 0 3 0 3 0 3 0 3 0 3 0 3 0 3 0 3 0 3 0 3 0 3 0 3 0 3 0 3 0 3 1 3 0 3 0 3 1 3 0 3 0 3 0 3 0 3 0 3 0 3 0 3 0 3 0 3 0 3-1 3 0 3 0 3-1 3 0"/><path d="M30 247l3 9 3 20 3 13 3 5 3 0 3-2 3-4 3-4 3-3 3-1 3 0 3 1 3 1 3 3 3 2 3 2 3 2 3 1 3 2 3 0 3 1 3 0 3-1 3 0 3-1 3-1 3 0 3-1 3-1 3 0 3 0 3 1 3 0 3 1 3 0 3 0 3 0 3 1 3-1 3 0 3 0 3 0 3 0 3 0 3 0 3 0 3 1 3 0 3 1 3 1 3 0 3 1 3 0 3 0 3 0 3 0 3-1 3 0 3-1 3-1 3-1 3 0 3-1 3 0 3 0 3 0 3 1 3 0 3 1 3 1 3 1 3 0 3 1 3 0 3 0 3 0 3 0 3-1 3-1 3-1 3 0 3-1 3-1 3-1 3 0 3 0 3 0 3 1 3 0 3 1 3 1 3 1 3 1 3 1 3 0 3 1 3 0 3-1 3 0 3-1 3-1 3-2 3-1 3-1 3 0 3-1 3 0 3 0 3 1 3 1 3 1"/><path d="M30 273l3 12 3 6 3-1 3-2 3-4 3-3 3-3 3-2 3-1 3 2 3 2 3 3 3 3 3 3 3 3 3 2 3 2 3 2 3 1 3 0 3 0 3-1 3-1 3-1 3-2 3-1 3-1 3-2 3-1 3 0 3 0 3 0 3 1 3 1 3 0 3 1 3 1 3 1 3 1 3 0 3 1 3 0 3 0 3 0 3 0 3-1 3 0 3-1 3 0 3-1 3 0 3 0 3 0 3 0 3 0 3 0 3 1 3 0 3 1 3 0 3 1 3 0 3 0 3 0 3 0 3 0 3 0 3-1 3 0 3-1 3 0 3 0 3-1 3 0 3 0 3 0 3 0 3 1 3 0 3 1 3 0 3 0 3 1 3 0 3 0 3 0 3 0 3-1 3 0 3-1 3 0 3-1 3 0 3-1 3 0 3 0 3 0 3 0 3 1 3 0 3 1 3 0 3 1 3 0 3 0 3 0 3 0 3 0 3 0 3 0 3-1"/><path d="M30 252l3-1 3 11 3 14 3 8 3 0 3-1 3-4 3-3 3-2 3 0 3 1 3 3 3 3 3 4 3 5 3 3 3 2 3 2 3 1 3 1 3 0 3-1 3-1 3-1 3-1 3-2 3-2 3-1 3-1 3-1 3-1 3 1 3 0 3 1 3 1 3 1 3 1 3 1 3 1 3 1 3 0 3 0 3 0 3 0 3 0 3 0 3-1 3 0 3-1 3 0 3-1 3 0 3 0 3 0 3 0 3 0 3 0 3 0 3 1 3 0 3 0 3 1 3 0 3 1 3 0 3 0 3 0 3 0 3-1 3 0 3 0 3 0 3-1 3 0 3 0 3 0 3 0 3 0 3 0 3 0 3 0 3 0 3 1 3 0 3 0 3 0 3 0 3 0 3 1 3-1 3 0 3 0 3 0 3 0 3-1 3 0 3 0 3 0 3-1 3 0 3 0 3 0 3 0 3 0 3 0 3 1 3 0 3 0 3 0 3 0 3 0"/><path d="M30 255l3 16 3 10 3 4 3 1 3-2 3-2 3-2 3-1 3 0 3 1 3 2 3 3 3 2 3 3 3 1 3 2 3 1 3 1 3 0 3 1 3-1 3 0 3 0 3-1 3-1 3-1 3 0 3-1 3-1 3 0 3 0 3 0 3 1 3 0 3 0 3 0 3 1 3 0 3 0 3 0 3 1 3 0 3 0 3 0 3 0 3 0 3 0 3 0 3 0 3 0 3 0 3 0 3 0 3 0 3 0 3 0 3 0 3 1 3 0 3 0 3 0 3 0 3 1 3 0 3 0 3 0 3 0 3-1 3 0 3 0 3 0 3 0 3-1 3 0 3 0 3 0 3 0 3 0 3 0 3 0 3 0 3 0 3 0 3 0 3 0 3 0 3 0 3 0 3-1 3 0 3 0 3 0 3 0 3 0 3 0 3 1 3 0 3 0 3 0 3 0 3 0 3 1 3 0 3 0 3-1 3 0 3 0 3 0 3 0 3 0 3 0"/><path d="M30 245l3 16 3 11 3 5 3 1 3-1 3-1 3-1 3 0 3 1 3 3 3 4 3 3 3 4 3 3 3 2 3 1 3 1 3 0 3 0 3-1 3 0 3-1 3-1 3 0 3-1 3 0 3 0 3 1 3 0 3 1 3 1 3 1 3 0 3 0 3 0 3 0 3-1 3-1 3-1 3-2 3-1 3-1 3-1 3-1 3 0 3 0 3 0 3 1 3 0 3 1 3 1 3 1 3 1 3 1 3 0 3 0 3 0 3 0 3 0 3 0 3-1 3 0 3-1 3 0 3 0 3 0 3 0 3 1 3 0 3 1 3 1 3 0 3 1 3 0 3 0 3 0 3 0 3 0 3-1 3-1 3-1 3-1 3-1 3 0 3-1 3-1 3 0 3 0 3 1 3 0 3 1 3 1 3 1 3 0 3 1 3 1 3 1 3 0 3 0 3 0 3 0 3 0 3-1 3 0 3-1 3 0 3 0 3 0 3 0 3 0 3 0"/><path d="M30 261l3 17 3 11 3 4 3 0 3-2 3-3 3-3 3-3 3-2 3 0 3 0 3 1 3 2 3 2 3 2 3 1 3 2 3 2 3 2 3 1 3 1 3 1 3 1 3 0 3 0 3 0 3-1 3-1 3-1 3-1 3-2 3-1 3-1 3-1 3-1 3-1 3-1 3 0 3 0 3 0 3 0 3 1 3 2 3 1 3 2 3 2 3 1 3 2 3 1 3 1 3 1 3 0 3 0 3-1 3-1 3-1 3-1 3-2 3-1 3-1 3-1 3 0 3-1 3 0 3 1 3 0 3 1 3 1 3 1 3 1 3 0 3 1 3 0 3 0 3 0 3-1 3 0 3-1 3-2 3-1 3-1 3-1 3 0 3-1 3 0 3 1 3 0 3 1 3 1 3 2 3 1 3 2 3 1 3 1 3 1 3 1 3 0 3-1 3 0 3-1 3-2 3-1 3-2 3-1 3-2 3-1 3-1 3-1 3 0 3 0 3 0"/><path d="M30 273l3 13 3 7 3 1 3-1 3-3 3-3 3-3 3-2 3-2 3 1 3 0 3 2 3 1 3 2 3 1 3 1 3 1 3 2 3 1 3 1 3 0 3 1 3 0 3-1 3 0 3-2 3-1 3-1 3-1 3-1 3-1 3 0 3 0 3 1 3 1 3 1 3 1 3 2 3 1 3 2 3 1 3 1 3 1 3 0 3 0 3 0 3 0 3-1 3-1 3-1 3 0 3-1 3 0 3-1 3 0 3 1 3 0 3 0 3 0 3 0 3 0 3 0 3 0 3 0 3 0 3-1 3 0 3-1 3 0 3 0 3 0 3 0 3 0 3 0 3 0 3 0 3 0 3 0 3 0 3 0 3 0 3-1 3 0 3 1 3 0 3 0 3 1 3 0 3 1 3 1 3 0 3 1 3 0 3 0 3 0 3 0 3 0 3-1 3 0 3-1 3-1 3 0 3-1 3 0 3 0 3 0 3 1 3 0 3 1 3 0 3 1"/><path d="M30 276l3 9 3 3 3-1 3-3 3-4 3-3 3-2 3 0 3 1 3 3 3 4 3 4 3 3 3 3 3 2 3 1 3 1 3 0 3-1 3-1 3-1 3-2 3-1 3-1 3-1 3 0 3 0 3 0 3 1 3 0 3 1 3 1 3 1 3 0 3 0 3 0 3 0 3-1 3 0 3 0 3 0 3 0 3 0 3 0 3 1 3 1 3 0 3 1 3 0 3 0 3 0 3 0 3 0 3-1 3 0 3-1 3 0 3-1 3 0 3 0 3 1 3 0 3 1 3 0 3 1 3 0 3 0 3 0 3 0 3-1 3 0 3-1 3 0 3-1 3 0 3 0 3 0 3 0 3 1 3 0 3 1 3 0 3 0 3 1 3 0 3-1 3 0 3 0 3-1 3-1 3 0 3 0 3 0 3 0 3 0 3 0 3 1 3 0 3 1 3 0 3 1 3 0 3-1 3 0 3 0 3-1 3-1 3 0 3 0 3-1 3 0"/><path d="M30 256l3 17 3 12 3 4 3 0 3-2 3-3 3-3 3-2 3-1 3 0 3 2 3 2 3 2 3 3 3 1 3 2 3 1 3 1 3 0 3 1 3 0 3 0 3-1 3 0 3 0 3-1 3 0 3 0 3 0 3 0 3 1 3 0 3 1 3 1 3 0 3 0 3 1 3 0 3 0 3-1 3 0 3 0 3-1 3 0 3 0 3 0 3-1 3 0 3 0 3 0 3 0 3 0 3 1 3 0 3 0 3 0 3 1 3 0 3 0 3 0 3 1 3 0 3 0 3 0 3 0 3 0 3 0 3-1 3 0 3 0 3 0 3-1 3 0 3 0 3-1 3 0 3 0 3 0 3 0 3 0 3 0 3 0 3 0 3 0 3 0 3 0 3 1 3 0 3 0 3 0 3 1 3 0 3 0 3 0 3 0 3 0 3 0 3 0 3 0 3 0 3 0 3 0 3 0 3 0 3-1 3 0 3 0 3 0 3 0 3 0 3 0"/><path d="M30 248l3 12 3 16 3 10 3 3 3 0 3-2 3-2 3-2 3-1 3 0 3 2 3 2 3 2 3 3 3 1 3 1 3 0 3 0 3 0 3 0 3-1 3-1 3-1 3-1 3 0 3-1 3 0 3 0 3 0 3 1 3 1 3 1 3 2 3 1 3 1 3 0 3 1 3 0 3 0 3 0 3-1 3 0 3-1 3-1 3 0 3-1 3 0 3-1 3 0 3 0 3 0 3 0 3 1 3 0 3 0 3 1 3 0 3 1 3 0 3 1 3 0 3 0 3 0 3 0 3 0 3 0 3 0 3 0 3-1 3 0 3 0 3 0 3-1 3 0 3 0 3 0 3 0 3 0 3 0 3 0 3 0 3 0 3 0 3-1 3 0 3 0 3 0 3 0 3 0 3 0 3 0 3 0 3 1 3 0 3 0 3 1 3 0 3 0 3 1 3 0 3 0 3 0 3 0 3 0 3 0 3-1 3 0 3-1 3 0 3-1 3-1"/><path d="M30 246l3 18 3 14 3 7 3 2 3 0 3-1 3-2 3 0 3 0 3 1 3 3 3 2 3 3 3 2 3 1 3 0 3 0 3-1 3-1 3-1 3-1 3-2 3-1 3-1 3-1 3 0 3 0 3 0 3 0 3 1 3 0 3 1 3 1 3 1 3 0 3 1 3 0 3 0 3 1 3 0 3 0 3 1 3 0 3 1 3 1 3 0 3 1 3 0 3 0 3 0 3 0 3 0 3-1 3-1 3-1 3-1 3-1 3-1 3 0 3-1 3 0 3 0 3 0 3 1 3 0 3 1 3 0 3 1 3 0 3 1 3 0 3 0 3 0 3 0 3 0 3 0 3 0 3 0 3 0 3 0 3 0 3 1 3 0 3 0 3 1 3 0 3 0 3-1 3 0 3 0 3-1 3-1 3-1 3 0 3-1 3-1 3 0 3 0 3 0 3 0 3 0 3 1 3 0 3 1 3 1 3 0 3 1 3 0 3 0 3 0 3 0"/><path d="M30 275l3 11 3 5 3 1 3-1 3-2 3-3 3-2 3-1 3 0 3 1 3 1 3 3 3 2 3 2 3 2 3 2 3 2 3 1 3 1 3 1 3 0 3 0 3 0 3-1 3-1 3-2 3-1 3-2 3-2 3-1 3-1 3 0 3-1 3 0 3 0 3 0 3 0 3 1 3 0 3 1 3 0 3 1 3 0 3 1 3 0 3 0 3 0 3 0 3-1 3 0 3-1 3 0 3-1 3 0 3 0 3 0 3 0 3 0 3 1 3 0 3 1 3 1 3 0 3 1 3 0 3 0 3 0 3 0 3 0 3-1 3 0 3-1 3 0 3 0 3 0 3 0 3 0 3 0 3 1 3 1 3 0 3 1 3 1 3 1 3 0 3 1 3 0 3 0 3 0 3-1 3 0 3-1 3 0 3-1 3-1 3 0 3 0 3-1 3 0 3 0 3 1 3 0 3 0 3 0 3 0 3 0 3 0 3 0 3 0 3-1 3 0"/><path d="M30 254l3 10 3 15 3 9 3 1 3-2 3-3 3-4 3-4 3-2 3-1 3 1 3 2 3 2 3 3 3 3 3 2 3 2 3 2 3 2 3 1 3 1 3 1 3 0 3 0 3 0 3-1 3 0 3-1 3 0 3 0 3-1 3 1 3 0 3 0 3 0 3 1 3 0 3 0 3 0 3 1 3 0 3-1 3 0 3 0 3 0 3 0 3-1 3 0 3-1 3 0 3-1 3 0 3 0 3-1 3 0 3 0 3 0 3 1 3 0 3 0 3 1 3 1 3 0 3 1 3 1 3 0 3 1 3 0 3 0 3 1 3 0 3-1 3 0 3 0 3 0 3-1 3 0 3-1 3 0 3 0 3-1 3 0 3 0 3 0 3 0 3 0 3 0 3 0 3-1 3 0 3 0 3 0 3-1 3 0 3 0 3 0 3 0 3 0 3 0 3 0 3 0 3 0 3 1 3 0 3 1 3 0 3 1 3 1 3 0 3 1 3 0"/><path d="M30 267l3 13 3 6 3 2 3 1 3-1 3-1 3-1 3 0 3 1 3 2 3 2 3 1 3 2 3 0 3 0 3 0 3-1 3-1 3-1 3-1 3-2 3-1 3 0 3-1 3 0 3 0 3 0 3 1 3 1 3 2 3 1 3 2 3 2 3 1 3 1 3 1 3 0 3 0 3 0 3-1 3-1 3-1 3-1 3-1 3-1 3-1 3-1 3-1 3 0 3 0 3 0 3 0 3 1 3 1 3 1 3 1 3 1 3 1 3 1 3 0 3 1 3 1 3 0 3 0 3 0 3-1 3 0 3-1 3-1 3-1 3-1 3-1 3 0 3-1 3-1 3 0 3 0 3 0 3 0 3 1 3 0 3 1 3 0 3 1 3 1 3 0 3 1 3 0 3 1 3 0 3 0 3-1 3 0 3 0 3-1 3 0 3-1 3 0 3-1 3 0 3 0 3-1 3 0 3 0 3 1 3 0 3 0 3 0 3 1 3 0 3 0"/><path d="M30 243l3 17 3 16 3 9 3 2 3 1 3-2 3-2 3-1 3-1 3 1 3 2 3 3 3 3 3 3 3 2 3 1 3 2 3 1 3 0 3 0 3 0 3-1 3-1 3 0 3-2 3-1 3-1 3-1 3-1 3-1 3 0 3 0 3-1 3 0 3 0 3 0 3-1 3 0 3 0 3 0 3-1 3 0 3 0 3 0 3 1 3 0 3 0 3 1 3 0 3 1 3 0 3 1 3 0 3 1 3 0 3 1 3 0 3 0 3 1 3 0 3 0 3 0 3 1 3 0 3 0 3 0 3 0 3 1 3 0 3 0 3 0 3 0 3 0 3 0 3 0 3 0 3 0 3 0 3-1 3 0 3-1 3-1 3 0 3-1 3-1 3 0 3-1 3 0 3-1 3 0 3-1 3 0 3 0 3 0 3 0 3 0 3 0 3 0 3 1 3 0 3 0 3 1 3 0 3 0 3 0 3 1 3 0 3 0 3 1 3 0 3 0"/><path d="M30 246l3-1 3 8 3 16 3 9 3 2 3 0 3-1 3-1 3 0 3 1 3 3 3 4 3 5 3 4 3 3 3 2 3 0 3 0 3-1 3-2 3-3 3-2 3-3 3-3 3-2 3-1 3-1 3 0 3 1 3 1 3 1 3 2 3 2 3 2 3 2 3 1 3 1 3 1 3 0 3 1 3 0 3 0 3 0 3 0 3 0 3 0 3 0 3 0 3 0 3-1 3-1 3-1 3-1 3-1 3-1 3-1 3-1 3-1 3 0 3 1 3 0 3 1 3 2 3 1 3 1 3 2 3 1 3 1 3 0 3 0 3 0 3-1 3-1 3-1 3-2 3-1 3-1 3-1 3 0 3 0 3 0 3 0 3 0 3 1 3 0 3 1 3 0 3 1 3 0 3 1 3 0 3 0 3 0 3 1 3 0 3 1 3 0 3 1 3 0 3 0 3 1 3-1 3 0 3-1 3-1 3-1 3-2 3-1 3-2 3-1 3-1"/><path d="M30 252l3 16 3 10 3 5 3 0 3-1 3-2 3-1 3 0 3 0 3 2 3 3 3 4 3 3 3 3 3 2 3 1 3 1 3 0 3 0 3-1 3-1 3-2 3-2 3-1 3-2 3-2 3-1 3-1 3 0 3 0 3 1 3 2 3 1 3 2 3 1 3 2 3 1 3 1 3 1 3 0 3 0 3 0 3 0 3-1 3-1 3-1 3-1 3-1 3-1 3 0 3-1 3 0 3 0 3 0 3 1 3 0 3 1 3 1 3 1 3 1 3 1 3 0 3 1 3 0 3 0 3 0 3-1 3 0 3-1 3-1 3 0 3-1 3-1 3 0 3-1 3 0 3 0 3 0 3 0 3 0 3 1 3 0 3 1 3 0 3 1 3 0 3 1 3 0 3 0 3 0 3 0 3 0 3 0 3 0 3-1 3 0 3-1 3 0 3 0 3-1 3 0 3-1 3 0 3 0 3 0 3 0 3 0 3 0 3 1 3 0 3 1"/><path d="M30 246l3 13 3 18 3 11 3 4 3 0 3-2 3-3 3-3 3-3 3-2 3 0 3 1 3 1 3 2 3 2 3 2 3 2 3 2 3 2 3 2 3 1 3 1 3 0 3 0 3-1 3-1 3-1 3-1 3-2 3-1 3 0 3-1 3 0 3 0 3 1 3 0 3 1 3 0 3 1 3 0 3 1 3 0 3 0 3 0 3 0 3 0 3 0 3 0 3 0 3 0 3 1 3 0 3 0 3 1 3 0 3 0 3 0 3 0 3 0 3 0 3-1 3 0 3-1 3 0 3 0 3 0 3 0 3 0 3 0 3 0 3 1 3 0 3 0 3 0 3 0 3 0 3 0 3-1 3-1 3 0 3 0 3-1 3 0 3 0 3 1 3 1 3 0 3 1 3 1 3 1 3 0 3 0 3 0 3 0 3-1 3-1 3-1 3-1 3-1 3-1 3 0 3 0 3 0 3 0 3 1 3 1 3 1 3 1 3 0 3 1 3 0"/><path d="M30 250l3 20 3 14 3 7 3 1 3-1 3-2 3-3 3-2 3-2 3 0 3 1 3 1 3 2 3 2 3 1 3 0 3 1 3 1 3 1 3 0 3 0 3 0 3 0 3 0 3-1 3 0 3-1 3 0 3-1 3 0 3 0 3 0 3 0 3 1 3 0 3 1 3 0 3 1 3 1 3 0 3 1 3 1 3 0 3 1 3 0 3 0 3 0 3 0 3 0 3-1 3 0 3-1 3 0 3 0 3-1 3 0 3 0 3 0 3 0 3 0 3 1 3 0 3 0 3 0 3 0 3 0 3 0 3 0 3-1 3 0 3 0 3-1 3 0 3 0 3 0 3 0 3 0 3 0 3 1 3 0 3 0 3 1 3 0 3 0 3 0 3 0 3 0 3 0 3-1 3 0 3 0 3-1 3 0 3 0 3 0 3 0 3 0 3 1 3 0 3 0 3 1 3 0 3 0 3 0 3 0 3 0 3 0 3-1 3 0 3 0 3 0"/><path d="M30 268l3 13 3 8 3 1 3-1 3-2 3-3 3-2 3-2 3 0 3 1 3 2 3 3 3 2 3 2 3 2 3 1 3 1 3 1 3 0 3 0 3-1 3 0 3-1 3 0 3-1 3-1 3 0 3 0 3 0 3 0 3 1 3 1 3 0 3 1 3 1 3 1 3 0 3 1 3 0 3 0 3 0 3 0 3 0 3 0 3 0 3-1 3 0 3 0 3-1 3 0 3 0 3-1 3 0 3-1 3 0 3 0 3-1 3 0 3-1 3 0 3 0 3-1 3 0 3 0 3 0 3-1 3 0 3 0 3 1 3 0 3 0 3 0 3 0 3 1 3 0 3 0 3 0 3 1 3 0 3 0 3 1 3 0 3 0 3 1 3 0 3 0 3 1 3 0 3 0 3 0 3 0 3 0 3 0 3 0 3 0 3 0 3 0 3 0 3-1 3 0 3 0 3 0 3 0 3 0 3 0 3 0 3-1 3 0 3 0 3 0 3 0"/><path d="M30 258l3 0 3 19 3 12 3 5 3-2 3-3 3-5 3-3 3-3 3 0 3 2 3 3 3 4 3 4 3 4 3 3 3 2 3 1 3 0 3 0 3-1 3-2 3-3 3-2 3-2 3-3 3-1 3-1 3-1 3 0 3 1 3 2 3 1 3 2 3 1 3 1 3 0 3 1 3-1 3-1 3-1 3-1 3-1 3-1 3 0 3 0 3 0 3 1 3 1 3 1 3 2 3 2 3 1 3 2 3 1 3 0 3 0 3 0 3-1 3-2 3-1 3-1 3-2 3-1 3 0 3 0 3 0 3 1 3 2 3 1 3 2 3 1 3 2 3 0 3 0 3 0 3-1 3-2 3-1 3-3 3-2 3-2 3-1 3-2 3 0 3 0 3 1 3 1 3 2 3 2 3 2 3 1 3 2 3 0 3 0 3 0 3-1 3-2 3-2 3-2 3-2 3-2 3-1 3 0 3 0 3 1 3 2 3 2 3 3 3 2 3 3"/><path d="M30 252l3 17 3 11 3 5 3-1 3-1 3-2 3-2 3-1 3 0 3 2 3 3 3 3 3 4 3 3 3 2 3 1 3 2 3 0 3 0 3-1 3-1 3-2 3-2 3-1 3-2 3-1 3-1 3-1 3 0 3 0 3 1 3 1 3 2 3 1 3 1 3 1 3 1 3 1 3 1 3 0 3 0 3-1 3 0 3-1 3 0 3-1 3 0 3 0 3 0 3-1 3 1 3 0 3 0 3 0 3 0 3 1 3 0 3 0 3 0 3 0 3 0 3 0 3 0 3 0 3-1 3 0 3 0 3 0 3 0 3 0 3 0 3 0 3 0 3 0 3 1 3 0 3 0 3 0 3 0 3 1 3 0 3 0 3-1 3 0 3 0 3 0 3-1 3 0 3 0 3-1 3 0 3 0 3 0 3 0 3 0 3 0 3 0 3 0 3 0 3 1 3 0 3 0 3 1 3 0 3 0 3 0 3 1 3 0 3 0 3-1 3 0"/><path d="M30 249l3 14 3 14 3 7 3 1 3-2 3-3 3-3 3-2 3-1 3 0 3 3 3 2 3 4 3 3 3 3 3 2 3 2 3 1 3 2 3 0 3 0 3 0 3 0 3 0 3-1 3-1 3-1 3 0 3-1 3 0 3 0 3 0 3 0 3 0 3 0 3 0 3 0 3 0 3 0 3 0 3 0 3 0 3-1 3 0 3 0 3 0 3 0 3 0 3 1 3 0 3 0 3 0 3 1 3 0 3 1 3 0 3 0 3 1 3 0 3 0 3 0 3 1 3 0 3 0 3 0 3 0 3 0 3-1 3 0 3 0 3 0 3-1 3 0 3 0 3-1 3 0 3 0 3-1 3 0 3 0 3 0 3-1 3 0 3 0 3 0 3 0 3 1 3 0 3 0 3 0 3 1 3 0 3 0 3 0 3 1 3 0 3 0 3 0 3 1 3 0 3 0 3 0 3 0 3 0 3 0 3-1 3 0 3 0 3 0 3-1 3 0"/><path d="M30 253l3 16 3 11 3 4 3 0 3-1 3-2 3-2 3-2 3 0 3 1 3 2 3 2 3 3 3 2 3 2 3 2 3 1 3 1 3 1 3 0 3 0 3 0 3 0 3 0 3-1 3 0 3-1 3 0 3 0 3 0 3 0 3 1 3 0 3 1 3 0 3 0 3 0 3 0 3 0 3 0 3 0 3 0 3 0 3 0 3 0 3 0 3 0 3 0 3 0 3 0 3 0 3 0 3 0 3 0 3 0 3 0 3-1 3 0 3 0 3-1 3 0 3 0 3-1 3 0 3 0 3 0 3 0 3 0 3 1 3 0 3 0 3 0 3 1 3 0 3 0 3 0 3 0 3 0 3 0 3 0 3 0 3 0 3 0 3 0 3 0 3 0 3 0 3 0 3 0 3 1 3 0 3 0 3 1 3 0 3 0 3 0 3 0 3 0 3 0 3 0 3 0 3 0 3 0 3-1 3 0 3 0 3-1 3 0 3 0 3-1 3 0"/><path d="M30 242l3 2 3 11 3 19 3 11 3 5 3 1 3-1 3-2 3-3 3-2 3-1 3 0 3 1 3 1 3 1 3 1 3 1 3 1 3 2 3 2 3 1 3 1 3 1 3 1 3 1 3 0 3-1 3-1 3-1 3-2 3-1 3-2 3-1 3 0 3-1 3 0 3 1 3 0 3 2 3 1 3 2 3 1 3 2 3 1 3 1 3 0 3 0 3-1 3-1 3-1 3-1 3-2 3-1 3-1 3 0 3 0 3 0 3 1 3 1 3 1 3 1 3 2 3 1 3 0 3 1 3 0 3-1 3-1 3-1 3-1 3-1 3-2 3-1 3 0 3 0 3 0 3 0 3 1 3 1 3 1 3 2 3 1 3 0 3 1 3 0 3-1 3 0 3-1 3-1 3-1 3-2 3 0 3-1 3 0 3 0 3 0 3 1 3 1 3 1 3 1 3 1 3 1 3 0 3 0 3 0 3-1 3-1 3-1 3 0 3-1 3-1"/><path d="M30 236l3 12 3 15 3 9 3 3 3 2 3 0 3 1 3 1 3 1 3 2 3 4 3 3 3 3 3 3 3 1 3 0 3 0 3-1 3 0 3-1 3-1 3-1 3-1 3 0 3 0 3 0 3 0 3 1 3 0 3 1 3 0 3 0 3 0 3 0 3-1 3 0 3-1 3-1 3 0 3-1 3 0 3 0 3 1 3 1 3 2 3 1 3 1 3 2 3 1 3 0 3 1 3 0 3-1 3-1 3-1 3-1 3-1 3-2 3-1 3 0 3-1 3 0 3 0 3 1 3 0 3 1 3 1 3 1 3 0 3 1 3 0 3-1 3 0 3-1 3-1 3 0 3-1 3-1 3 0 3 0 3 1 3 0 3 1 3 1 3 1 3 2 3 1 3 0 3 1 3 0 3 0 3-1 3-1 3-1 3-1 3-1 3-1 3-1 3-1 3 0 3 0 3 0 3 0 3 1 3 1 3 1 3 1 3 1 3 0 3 0 3 0"/><path d="M30 282l3 11 3 4 3 0 3-2 3-3 3-4 3-4 3-3 3-2 3 0 3 0 3 0 3 2 3 1 3 2 3 2 3 2 3 3 3 2 3 2 3 2 3 1 3 1 3 0 3 0 3-1 3-1 3-1 3-2 3-2 3-1 3-1 3-2 3-1 3 0 3 0 3 0 3 1 3 0 3 1 3 2 3 1 3 1 3 1 3 1 3 1 3 0 3 0 3 0 3-1 3 0 3-1 3 0 3 0 3-1 3 0 3 0 3 1 3 0 3 1 3 0 3 1 3 0 3 1 3 0 3-1 3 0 3-1 3-1 3-1 3-2 3-1 3-1 3-1 3 0 3-1 3 1 3 0 3 1 3 2 3 1 3 2 3 2 3 1 3 1 3 1 3 1 3 0 3 0 3-1 3-1 3-1 3-2 3-1 3-2 3-1 3-2 3-1 3 0 3-1 3 1 3 0 3 1 3 1 3 1 3 1 3 1 3 1 3 0 3 1 3 0"/><path d="M30 248l3 13 3 14 3 7 3 1 3-2 3-3 3-3 3-2 3-1 3 1 3 2 3 4 3 3 3 4 3 3 3 3 3 2 3 2 3 1 3 1 3 1 3-1 3 0 3 0 3-1 3-1 3-1 3-1 3-1 3-1 3-1 3 0 3 0 3 0 3-1 3 0 3 0 3 0 3 0 3 0 3 0 3 0 3 0 3 0 3 1 3 0 3 0 3 1 3 1 3 0 3 1 3 0 3 1 3 1 3 0 3 0 3 1 3 0 3 0 3 0 3 0 3-1 3 0 3 0 3-1 3 0 3-1 3 0 3-1 3 0 3-1 3 0 3-1 3 0 3 0 3 0 3 0 3 0 3 0 3 0 3 0 3 1 3 0 3 1 3 0 3 0 3 1 3 0 3 1 3 0 3 0 3 1 3 0 3 0 3 0 3 0 3-1 3 0 3 0 3-1 3 0 3-1 3 0 3-1 3 0 3-1 3 0 3 0 3 0 3-1 3 0"/><path d="M30 262l3 15 3 9 3 3 3-1 3-2 3-3 3-2 3-1 3 0 3 2 3 3 3 3 3 4 3 3 3 2 3 2 3 1 3 1 3 0 3 0 3-1 3-1 3-1 3-2 3-1 3-2 3-1 3 0 3-1 3 0 3 1 3 0 3 1 3 0 3 0 3 0 3 0 3 0 3 0 3-1 3 0 3-1 3 0 3 0 3 0 3 0 3 0 3 0 3 0 3 0 3 0 3 1 3 0 3 0 3 0 3 0 3-1 3 0 3 0 3 0 3 0 3 0 3 0 3 1 3 0 3 0 3 1 3 0 3 1 3 0 3 0 3 0 3 0 3 0 3 0 3 0 3 0 3 0 3 0 3 0 3 0 3 1 3 0 3 0 3 0 3 1 3 0 3 0 3 0 3 0 3 0 3-1 3 0 3 0 3-1 3 0 3 0 3 0 3 0 3 0 3 0 3 0 3 0 3 0 3 0 3 0 3-1 3 0 3 0 3-1 3 0"/><path d="M30 314l3 19 3 24 3 18 3 13 3 7 3 1 3-3 3-5 3-6 3-6 3-7 3-6 3-5 3-4 3-2 3-2 3 1 3 1 3 3 3 3 3 4 3 4 3 4 3 4 3 4 3 3 3 2 3 2 3 2 3 1 3 1 3 0 3 0 3-1 3 0 3-1 3 0 3-1 3 0 3-1 3-1 3 0 3 0 3 0 3 0 3-1 3 0 3-1 3 0 3 0 3 0 3 0 3 0 3 0 3 0 3 1 3 1 3 0 3 1 3 1 3 1 3 1 3 1 3 1 3 0 3 1 3 0 3 0 3 1 3 0 3-1 3 0 3 0 3-1 3-1 3 0 3-1 3-1 3-1 3 0 3-1 3-1 3 0 3-1 3 0 3 0 3 0 3 0 3 0 3 1 3 0 3 1 3 0 3 1 3 1 3 0 3 1 3 1 3 0 3 1 3 0 3 1 3 0 3 0 3 0 3 0 3-1 3 0 3-1 3 0 3-1"/><path d="M30 281l3-5 3 26 3 25 3 23 3 18 3 14 3 8 3 4 3 1 3-2 3-6 3-7 3-8 3-9 3-6 3-6 3-2 3 0 3 3 3 5 3 6 3 8 3 7 3 7 3 5 3 3 3 0 3-1 3-3 3-4 3-4 3-4 3-4 3-2 3 0 3 1 3 3 3 4 3 5 3 4 3 3 3 3 3 1 3 0 3-3 3-3 3-4 3-4 3-4 3-3 3-1 3 0 3 2 3 4 3 4 3 5 3 5 3 4 3 3 3 1 3 0 3-2 3-4 3-5 3-5 3-4 3-4 3-3 3-1 3 1 3 2 3 4 3 4 3 5 3 5 3 3 3 3 3 0 3-1 3-2 3-3 3-5 3-4 3-4 3-4 3-2 3 0 3 1 3 2 3 4 3 3 3 4 3 4 3 3 3 1 3 0 3-1 3-2 3-3 3-3 3-3 3-3 3-2 3-1 3 1 3 1 3 2 3 2 3 3 3 2 3 2"/><path d="M30 291l3 6 3 28 3 23 3 18 3 12 3 6 3 1 3-1 3-2 3-4 3-4 3-4 3-3 3-3 3-1 3-1 3 1 3 1 3 2 3 2 3 3 3 3 3 3 3 2 3 2 3 2 3 1 3 0 3 0 3 0 3 0 3-1 3-1 3-1 3 0 3-1 3 0 3 0 3 0 3 1 3 0 3 2 3 1 3 1 3 1 3 1 3 1 3 0 3 1 3 0 3 0 3 0 3 0 3 0 3 0 3 0 3-1 3 0 3-1 3 0 3-1 3 0 3-1 3 0 3-1 3 0 3-1 3 0 3 0 3-1 3 0 3 0 3 0 3 0 3 1 3 0 3 0 3 1 3 0 3 1 3 0 3 1 3 1 3 0 3 1 3 1 3 0 3 1 3 0 3 1 3 0 3 1 3 0 3 0 3 0 3 0 3 0 3 0 3-1 3 0 3 0 3-1 3 0 3-1 3 0 3-1 3 0 3-1 3-1 3 0 3-1"/><path d="M30 317l3 27 3 23 3 18 3 12 3 6 3 1 3-1 3-4 3-5 3-6 3-7 3-6 3-5 3-4 3-3 3-1 3 0 3 2 3 2 3 4 3 4 3 4 3 4 3 4 3 4 3 2 3 1 3 1 3-1 3-1 3-2 3-3 3-3 3-3 3-3 3-2 3-2 3-2 3-1 3 0 3 0 3 1 3 2 3 2 3 3 3 2 3 2 3 2 3 3 3 1 3 1 3 1 3 1 3 0 3-1 3 0 3-1 3-1 3-1 3 0 3-1 3 0 3 0 3 0 3 1 3 1 3 1 3 1 3 0 3 1 3 1 3 0 3 0 3-1 3 0 3-1 3-2 3-2 3-1 3-2 3-2 3-1 3-1 3-1 3-1 3 0 3 1 3 1 3 1 3 1 3 2 3 1 3 1 3 2 3 1 3 1 3 0 3 1 3 0 3-1 3 0 3-1 3 0 3-1 3 0 3-1 3 0 3 0 3 1 3 0 3 1"/><path d="M30 342l3 19 3 20 3 14 3 8 3 2 3-3 3-6 3-7 3-6 3-7 3-4 3-4 3-1 3-1 3 1 3 1 3 2 3 2 3 2 3 1 3 1 3 1 3 0 3 1 3 0 3 1 3 1 3 1 3 2 3 1 3 2 3 1 3 1 3 0 3 0 3-1 3-2 3-1 3-2 3-2 3-1 3-1 3 0 3 1 3 1 3 2 3 2 3 2 3 2 3 2 3 1 3 1 3-1 3 0 3-2 3-1 3-2 3-1 3-2 3 0 3 0 3 1 3 1 3 1 3 2 3 1 3 2 3 0 3 0 3 0 3-1 3-1 3-2 3-2 3-1 3-1 3 0 3 0 3 1 3 1 3 2 3 1 3 2 3 1 3 0 3 0 3-1 3-1 3-1 3-2 3-1 3-2 3 0 3 0 3 0 3 1 3 2 3 2 3 2 3 1 3 1 3 0 3 0 3-1 3-2 3-2 3-2 3-1 3-2 3-1 3 0"/><path d="M30 251l3-5 3 12 3 24 3 21 3 16 3 11 3 5 3 3 3 2 3 1 3 0 3 0 3 0 3 1 3 1 3 1 3 2 3 3 3 2 3 2 3 3 3 3 3 2 3 2 3 2 3 2 3 2 3 1 3 2 3 2 3 2 3 2 3 2 3 3 3 3 3 3 3 3 3 3 3 3 3 2 3 3 3 2 3 2 3 1 3 1 3 0 3-1 3-1 3-1 3-1 3-1 3-2 3-1 3-1 3-1 3-1 3 0 3 0 3-1 3 0 3 0 3 0 3 0 3-1 3-1 3-1 3-1 3-1 3-2 3-2 3-2 3-2 3-2 3-2 3-2 3-1 3-2 3-1 3-1 3-1 3-1 3 0 3 0 3 0 3-1 3 0 3 0 3 0 3 0 3 0 3-1 3 0 3 0 3 0 3 0 3 0 3 1 3 1 3 1 3 1 3 2 3 2 3 3 3 2 3 3 3 2 3 3 3 2 3 2 3 2 3 2"/><path d="M30 405l3 13 3 8 3 5 3 0 3-3 3-3 3-5 3-7 3-7 3-7 3-8 3-6 3-6 3-6 3-3 3-2 3-1 3 0 3 1 3 3 3 3 3 3 3 4 3 3 3 2 3 2 3 1 3 1 3-1 3-1 3-3 3-2 3-2 3-3 3-2 3-1 3-1 3 0 3 0 3 1 3 2 3 2 3 3 3 2 3 3 3 2 3 1 3 1 3 1 3 0 3-1 3-1 3-1 3-1 3-1 3 0 3-1 3 0 3 0 3 1 3 1 3 1 3 1 3 1 3 1 3 1 3 0 3 1 3-1 3 0 3-1 3-2 3-1 3-2 3-1 3-1 3-1 3-1 3 0 3 0 3 1 3 1 3 0 3 1 3 1 3 1 3 0 3 0 3 0 3-1 3-1 3-1 3-1 3-1 3-1 3 0 3-1 3 0 3 1 3 0 3 1 3 2 3 1 3 1 3 1 3 1 3 1 3 0 3 0 3 0 3-1"/><path d="M30 348l3-7 3 0 3 19 3 13 3 8 3 3 3-2 3-5 3-4 3-3 3-3 3-1 3 1 3 3 3 4 3 5 3 4 3 5 3 4 3 2 3 2 3 0 3-1 3-2 3-3 3-2 3-3 3-3 3-2 3-1 3 0 3 0 3 1 3 1 3 1 3 2 3 0 3 1 3 0 3-1 3-1 3-1 3-1 3-1 3-1 3 0 3 1 3 1 3 3 3 3 3 3 3 3 3 4 3 2 3 2 3 1 3 0 3-1 3-2 3-3 3-4 3-4 3-4 3-4 3-3 3-2 3-1 3-1 3 1 3 1 3 2 3 2 3 2 3 2 3 2 3 1 3 0 3 0 3 0 3-1 3-1 3-1 3 0 3 0 3 0 3 2 3 1 3 3 3 2 3 3 3 2 3 2 3 2 3 0 3-1 3-1 3-2 3-3 3-4 3-3 3-3 3-3 3-2 3-1 3 0 3 0 3 2 3 2 3 2 3 3 3 2"/><path d="M30 320l3 9 3 23 3 20 3 15 3 11 3 6 3 1 3-1 3-2 3-4 3-6 3-6 3-6 3-6 3-5 3-5 3-2 3-2 3-1 3 1 3 2 3 3 3 3 3 3 3 3 3 2 3 2 3 1 3 1 3 0 3-1 3-1 3-1 3-1 3-1 3 0 3 0 3 1 3 1 3 1 3 2 3 2 3 2 3 2 3 1 3 1 3 0 3 1 3-1 3 0 3 0 3 0 3 0 3 0 3 1 3 1 3 2 3 1 3 2 3 1 3 1 3 0 3 0 3-1 3-1 3-2 3-2 3-2 3-2 3-2 3-2 3-1 3-1 3 0 3 0 3 1 3 1 3 1 3 1 3 1 3 0 3 0 3 0 3 0 3-1 3-1 3-1 3-2 3 0 3-1 3 0 3 0 3 1 3 1 3 1 3 2 3 1 3 1 3 1 3 1 3 1 3 0 3 1 3 0 3 0 3 0 3 0 3 0 3 0 3 1 3 0"/><path d="M30 332l3-1 3 8 3 20 3 13 3 6 3 1 3-5 3-6 3-6 3-5 3-3 3-1 3 1 3 2 3 4 3 4 3 5 3 4 3 3 3 2 3 1 3 0 3-1 3-1 3-2 3-1 3-1 3 0 3 1 3 2 3 2 3 2 3 3 3 3 3 2 3 1 3 1 3 0 3-1 3-2 3-2 3-2 3-2 3-2 3-1 3-1 3 1 3 1 3 2 3 2 3 3 3 3 3 2 3 2 3 1 3 0 3-1 3-2 3-2 3-2 3-3 3-2 3-1 3-1 3 0 3 1 3 1 3 3 3 2 3 3 3 2 3 2 3 1 3 0 3-1 3-1 3-2 3-3 3-3 3-3 3-2 3-1 3 0 3 0 3 2 3 2 3 3 3 3 3 2 3 3 3 1 3 1 3 0 3-2 3-2 3-3 3-3 3-3 3-3 3-2 3-1 3 0 3 1 3 2 3 3 3 3 3 3 3 4 3 2 3 2 3 0"/><path d="M30 316l3 28 3 21 3 14 3 8 3 1 3-4 3-6 3-6 3-6 3-6 3-4 3-2 3 0 3 2 3 3 3 4 3 6 3 5 3 4 3 4 3 3 3 2 3 0 3 0 3-1 3-2 3-3 3-1 3-2 3-1 3-1 3 0 3 1 3 1 3 1 3 2 3 2 3 1 3 0 3 0 3 0 3-1 3-1 3-1 3-1 3-2 3 0 3 0 3 0 3 2 3 2 3 2 3 3 3 3 3 3 3 2 3 1 3 1 3 0 3-1 3-1 3-2 3-3 3-2 3-3 3-1 3-2 3 0 3 0 3 1 3 1 3 2 3 1 3 2 3 1 3 1 3 0 3-1 3-1 3-2 3-2 3-2 3-2 3-2 3-1 3 0 3 0 3 2 3 2 3 2 3 3 3 3 3 2 3 2 3 2 3 0 3 0 3-1 3-1 3-2 3-2 3-2 3-2 3-2 3-1 3 0 3 1 3 1 3 1 3 2 3 1"/><path d="M30 280l3 4 3 32 3 26 3 22 3 15 3 10 3 4 3 1 3 0 3-3 3-4 3-5 3-4 3-5 3-3 3-4 3-2 3-1 3 0 3 0 3 1 3 2 3 3 3 2 3 3 3 3 3 2 3 3 3 3 3 2 3 1 3 2 3 1 3 0 3 1 3-1 3 0 3-1 3-1 3-1 3-2 3-1 3-1 3-2 3-1 3-1 3-1 3-1 3 0 3 0 3 0 3 1 3 1 3 1 3 2 3 1 3 2 3 2 3 1 3 1 3 1 3 0 3 0 3-1 3-1 3-1 3-1 3-2 3-2 3-1 3-2 3-1 3 0 3-1 3 0 3 1 3 1 3 1 3 2 3 1 3 2 3 2 3 2 3 2 3 2 3 1 3 1 3 0 3 0 3 0 3-1 3-1 3-2 3-1 3-1 3-2 3-1 3-1 3-1 3 0 3 0 3 0 3 1 3 1 3 1 3 2 3 1 3 1 3 1 3 1 3 1"/><path d="M30 303l3-1 3-1 3 6 3 28 3 22 3 16 3 10 3 3 3-2 3-4 3-5 3-6 3-6 3-5 3-4 3-2 3-1 3 1 3 3 3 4 3 4 3 5 3 5 3 5 3 3 3 3 3 2 3 0 3 0 3 0 3 0 3-1 3-1 3 0 3 0 3 0 3 0 3 1 3 1 3 0 3 0 3 0 3 0 3 0 3-2 3-1 3-2 3-2 3-1 3-1 3 0 3 0 3 1 3 1 3 2 3 3 3 2 3 2 3 2 3 2 3 1 3 1 3 0 3 0 3-1 3 0 3-1 3-1 3-1 3-1 3-1 3 0 3-1 3 0 3-1 3 0 3-1 3-1 3 0 3-1 3-1 3 0 3 0 3 0 3 0 3 1 3 1 3 1 3 2 3 1 3 2 3 1 3 0 3 1 3 0 3 0 3-1 3-1 3-1 3-1 3-1 3-1 3 0 3 0 3 0 3 1 3 1 3 0 3 1 3 0 3 0"/><path d="M30 311l3-1 3 27 3 21 3 18 3 11 3 6 3 1 3-1 3-3 3-3 3-4 3-3 3-3 3-2 3-1 3 0 3 0 3 2 3 2 3 3 3 2 3 3 3 3 3 1 3 2 3 0 3 0 3-1 3-1 3-1 3-2 3-3 3-2 3-2 3-2 3-2 3-1 3-1 3-1 3 0 3 0 3 1 3 1 3 1 3 1 3 1 3 1 3 1 3 1 3 2 3 1 3 1 3 0 3 1 3 1 3 1 3 1 3 0 3 1 3 0 3 1 3 0 3 0 3 1 3 0 3 0 3 0 3-1 3 0 3 0 3 0 3 0 3-1 3 0 3 0 3-1 3 0 3 0 3-1 3 0 3-1 3 0 3 0 3-1 3 0 3-1 3 0 3 0 3-1 3 0 3 0 3-1 3 0 3 0 3 0 3 0 3 0 3 0 3 1 3 0 3 0 3 1 3 0 3 1 3 0 3 1 3 0 3 1 3 0 3 1 3 0"/><path d="M30 320l3 21 3 17 3 14 3 9 3 5 3 2 3 1 3-2 3-4 3-4 3-5 3-6 3-5 3-5 3-4 3-2 3-2 3 0 3 0 3 2 3 4 3 3 3 5 3 4 3 5 3 5 3 4 3 4 3 3 3 2 3 1 3 1 3 0 3-1 3-2 3-2 3-2 3-2 3-2 3-2 3-1 3-1 3 0 3 1 3 1 3 1 3 2 3 2 3 3 3 3 3 2 3 2 3 2 3 1 3 0 3 0 3-1 3-2 3-2 3-2 3-2 3-3 3-3 3-2 3-1 3-2 3 0 3 0 3 1 3 1 3 2 3 1 3 2 3 2 3 2 3 2 3 1 3 0 3 0 3-1 3-1 3-2 3-2 3-2 3-2 3-2 3-2 3-1 3 0 3 0 3 1 3 1 3 2 3 3 3 2 3 3 3 2 3 2 3 2 3 1 3 1 3 0 3-1 3-1 3-2 3-2 3-2 3-2 3-2 3-2 3-1"/><path d="M30 316l3 25 3 20 3 15 3 10 3 5 3-1 3-4 3-4 3-5 3-5 3-5 3-4 3-3 3-1 3 0 3 1 3 2 3 2 3 3 3 3 3 4 3 3 3 2 3 3 3 2 3 1 3 1 3 1 3 0 3 0 3 0 3-1 3 0 3-1 3-1 3 0 3-1 3 0 3-1 3 0 3 0 3 0 3 0 3 0 3 0 3 1 3 0 3 1 3 0 3 1 3 0 3 1 3 0 3 0 3 0 3 0 3 0 3 0 3 0 3 0 3 0 3 0 3 0 3 1 3 0 3 1 3 0 3 1 3 0 3 0 3 1 3 0 3 0 3 0 3-1 3 0 3-1 3 0 3-1 3 0 3 0 3 0 3 0 3 0 3 0 3 0 3 0 3 0 3 0 3 0 3-1 3 0 3 0 3-1 3 0 3 0 3 0 3 0 3 0 3 0 3 1 3 0 3 1 3 0 3 1 3 0 3 0 3 0 3 0 3 0 3 0"/><path d="M30 327l3 1 3 23 3 17 3 13 3 6 3 2 3-4 3-5 3-5 3-6 3-5 3-5 3-3 3-2 3 0 3 0 3 2 3 3 3 3 3 4 3 4 3 4 3 3 3 3 3 3 3 2 3 1 3 1 3 0 3 1 3 0 3 0 3 0 3 0 3 0 3 0 3 0 3 1 3 0 3-1 3 0 3 0 3 0 3-1 3-1 3-2 3-1 3-1 3-1 3-2 3 0 3-1 3 0 3 0 3 0 3 1 3 1 3 1 3 1 3 2 3 1 3 1 3 1 3 1 3 1 3 0 3 1 3 0 3 0 3 0 3 1 3 0 3 0 3 1 3 0 3 1 3 0 3 0 3 1 3 0 3 0 3-1 3 0 3-1 3-2 3-1 3-2 3-1 3-2 3-2 3-1 3-1 3-1 3-1 3-1 3 0 3 1 3 0 3 1 3 1 3 2 3 1 3 1 3 2 3 1 3 1 3 1 3 1 3 0 3 1 3 0"/><path d="M30 292l3 13 3 22 3 17 3 14 3 9 3 4 3 1 3 0 3 0 3-1 3-1 3-2 3-2 3-1 3-1 3-1 3-1 3 0 3-1 3 0 3 0 3 1 3 2 3 1 3 3 3 3 3 3 3 3 3 4 3 4 3 4 3 3 3 4 3 2 3 2 3 1 3 0 3-1 3-1 3-3 3-2 3-3 3-3 3-3 3-2 3-3 3-1 3-2 3 0 3 1 3 1 3 1 3 2 3 2 3 2 3 1 3 2 3 1 3 1 3-1 3 0 3-1 3-1 3-2 3-2 3-1 3-1 3-1 3-1 3 0 3 0 3 1 3 1 3 2 3 1 3 1 3 1 3 1 3 0 3 0 3 0 3-1 3-1 3-1 3-1 3-1 3-1 3-1 3 1 3 0 3 1 3 2 3 2 3 3 3 2 3 3 3 2 3 2 3 2 3 0 3 0 3 0 3-2 3-2 3-2 3-3 3-3 3-3 3-3 3-2 3-2"/><path d="M30 287l3 24 3 24 3 19 3 17 3 10 3 8 3 7 3 3 3 1 3-1 3-3 3-5 3-5 3-6 3-7 3-6 3-4 3-5 3-3 3-1 3 0 3 1 3 2 3 4 3 4 3 5 3 5 3 5 3 5 3 4 3 4 3 2 3 2 3 0 3 0 3-2 3-2 3-3 3-3 3-3 3-3 3-3 3-2 3-2 3-1 3 0 3 0 3 2 3 2 3 2 3 3 3 3 3 3 3 3 3 3 3 1 3 2 3 0 3 0 3-1 3-1 3-2 3-3 3-2 3-2 3-3 3-1 3-2 3-1 3 0 3 0 3 1 3 2 3 1 3 2 3 2 3 2 3 1 3 1 3 1 3 1 3 0 3-1 3 0 3-1 3-2 3-1 3-1 3-1 3-2 3 0 3-1 3 0 3 0 3 1 3 0 3 1 3 1 3 1 3 1 3 0 3 1 3 0 3 0 3 0 3 0 3 0 3-1 3 0 3-1 3 0"/><path d="M30 308l3 22 3 21 3 16 3 10 3 5 3-1 3-3 3-3 3-4 3-4 3-3 3-2 3-1 3 0 3 2 3 2 3 3 3 3 3 2 3 3 3 3 3 2 3 1 3 0 3 1 3-1 3 0 3-1 3 0 3 0 3-1 3 1 3 0 3 1 3 1 3 0 3 2 3 0 3 1 3 0 3 0 3 0 3 0 3-1 3-1 3-1 3-1 3 0 3-1 3 0 3 1 3 0 3 1 3 1 3 1 3 1 3 1 3 1 3 0 3 1 3 0 3-1 3 0 3-1 3 0 3-1 3-1 3 0 3-1 3 0 3 0 3 0 3 1 3 0 3 1 3 0 3 1 3 1 3 0 3 0 3 1 3 0 3 0 3 0 3-1 3 0 3 0 3 0 3 0 3 0 3 0 3 0 3 0 3 0 3 0 3 0 3 0 3 0 3 0 3 0 3 0 3 0 3 0 3 0 3 1 3 0 3 0 3 0 3 0 3 0 3-1"/><path d="M30 259l3-8 3 10 3 25 3 23 3 20 3 17 3 13 3 10 3 9 3 8 3 5 3 4 3 2 3 1 3 0 3-2 3-3 3-4 3-4 3-5 3-4 3-4 3-3 3-2 3-2 3 0 3 0 3 1 3 2 3 3 3 2 3 2 3 3 3 1 3 2 3 0 3 1 3 0 3-1 3 0 3-1 3 0 3 0 3 1 3 1 3 2 3 2 3 2 3 3 3 3 3 3 3 2 3 1 3 1 3-1 3-1 3-2 3-3 3-3 3-5 3-4 3-4 3-3 3-3 3-2 3-1 3 0 3 1 3 3 3 3 3 4 3 4 3 4 3 4 3 4 3 2 3 2 3 1 3 0 3-1 3-1 3-3 3-2 3-3 3-2 3-2 3-2 3-1 3-1 3 0 3 0 3 1 3 0 3 1 3 1 3 0 3 0 3 0 3-1 3-2 3-1 3-1 3-2 3-1 3 0 3 0 3 1 3 2 3 2 3 3 3 4"/><path d="M30 327l3 24 3 19 3 13 3 9 3 3 3-2 3-4 3-4 3-6 3-6 3-6 3-5 3-3 3-3 3-1 3 0 3 1 3 3 3 2 3 4 3 4 3 4 3 3 3 4 3 3 3 2 3 2 3 1 3 1 3 0 3-1 3 0 3-1 3-1 3-1 3-1 3-1 3 0 3-1 3-1 3 0 3 0 3 1 3 0 3 0 3 0 3 0 3 0 3 1 3 0 3 1 3 0 3 1 3 0 3 1 3 1 3 0 3 1 3 1 3 0 3 1 3 0 3 0 3 0 3 0 3 0 3 0 3 0 3-1 3 0 3-1 3 0 3-1 3-1 3 0 3-1 3 0 3-1 3 0 3 0 3 0 3 0 3 0 3 0 3 1 3 0 3 1 3 0 3 1 3 1 3 0 3 1 3 0 3 1 3 0 3 0 3 0 3 0 3 0 3-1 3 0 3 0 3-1 3 0 3-1 3-1 3 0 3-1 3 0 3 0 3-1"/><path d="M30 318l3 1 3 15 3 24 3 18 3 12 3 6 3-1 3-4 3-5 3-7 3-6 3-6 3-4 3-3 3-1 3 0 3 2 3 4 3 4 3 4 3 5 3 5 3 4 3 2 3 2 3 0 3-1 3-2 3-2 3-3 3-4 3-3 3-2 3-2 3-1 3 0 3 1 3 3 3 2 3 3 3 3 3 3 3 3 3 2 3 1 3 0 3 0 3-2 3-2 3-3 3-2 3-3 3-2 3-1 3-1 3 1 3 1 3 3 3 3 3 3 3 4 3 3 3 3 3 2 3 2 3 0 3-1 3-2 3-2 3-3 3-3 3-3 3-3 3-2 3-1 3 0 3 0 3 2 3 3 3 3 3 3 3 4 3 3 3 2 3 1 3 1 3-1 3-1 3-3 3-3 3-3 3-4 3-3 3-3 3-2 3-1 3 0 3 1 3 2 3 3 3 3 3 3 3 3 3 2 3 2 3 1 3-1 3-1 3-2 3-3 3-4"/><path d="M30 309l3 24 3 29 3 21 3 13 3 6 3-2 3-6 3-9 3-9 3-9 3-8 3-6 3-4 3-1 3 1 3 2 3 5 3 5 3 5 3 6 3 5 3 4 3 2 3 2 3 1 3 0 3-1 3-1 3-1 3-1 3-1 3-1 3-1 3 0 3 0 3 0 3 1 3 1 3 0 3 1 3 0 3 1 3 1 3 1 3 1 3 0 3 1 3 0 3 0 3 0 3 0 3 0 3 0 3-1 3 0 3-1 3 0 3-1 3 0 3 0 3 1 3 1 3 1 3 1 3 1 3 1 3 1 3 1 3 0 3-1 3-1 3-1 3-2 3-2 3-1 3-2 3-1 3 0 3 0 3 1 3 1 3 2 3 3 3 2 3 2 3 2 3 1 3 0 3-1 3-2 3-2 3-3 3-2 3-3 3-2 3-1 3-1 3 1 3 1 3 3 3 3 3 3 3 3 3 3 3 2 3 0 3 0 3-1 3-3 3-3 3-3"/><path d="M30 301l3 4 3 5 3 25 3 28 3 22 3 16 3 9 3 1 3-3 3-5 3-7 3-8 3-8 3-8 3-7 3-6 3-5 3-3 3-1 3 0 3 1 3 3 3 3 3 4 3 5 3 4 3 4 3 4 3 4 3 3 3 3 3 1 3 1 3 1 3 0 3 0 3-1 3-1 3-1 3-2 3-2 3-1 3-1 3-1 3-1 3 0 3-1 3 1 3 0 3 1 3 1 3 1 3 2 3 1 3 2 3 1 3 2 3 1 3 1 3 1 3 0 3 0 3-1 3-1 3-1 3-1 3-2 3-2 3-2 3-1 3-2 3-1 3-1 3 0 3 0 3 0 3 1 3 1 3 2 3 1 3 2 3 2 3 1 3 2 3 1 3 1 3 1 3 0 3 0 3 0 3-1 3-1 3-1 3-1 3-2 3-1 3-1 3-1 3-1 3-1 3 0 3 0 3 0 3 0 3 1 3 1 3 1 3 1 3 1 3 0 3 1"/><path d="M30 320l3 28 3 21 3 17 3 9 3 4 3-2 3-6 3-6 3-9 3-8 3-8 3-7 3-5 3-3 3-2 3 1 3 2 3 4 3 5 3 5 3 6 3 6 3 5 3 5 3 4 3 2 3 2 3 1 3 0 3 0 3-1 3-1 3-2 3-1 3-1 3-1 3 0 3 0 3-1 3 0 3 0 3 1 3 0 3 0 3 0 3-1 3 0 3-1 3-1 3 0 3-1 3 0 3 0 3 0 3 1 3 1 3 1 3 1 3 2 3 1 3 2 3 2 3 1 3 1 3 1 3 0 3 0 3 0 3 0 3-1 3-1 3-2 3-1 3-1 3-2 3-1 3-1 3 0 3-1 3 0 3 0 3 0 3 0 3 0 3 1 3 0 3 0 3 1 3 0 3 0 3 0 3 0 3 0 3 1 3 0 3 1 3 1 3 1 3 1 3 1 3 1 3 1 3 0 3 1 3 0 3 0 3-1 3-1 3-2 3-1 3-2"/><path d="M30 340l3 16 3 19 3 14 3 8 3 3 3-3 3-6 3-6 3-7 3-7 3-6 3-4 3-4 3-1 3 0 3 1 3 3 3 4 3 4 3 5 3 5 3 4 3 4 3 3 3 2 3 1 3 0 3 0 3-2 3-2 3-2 3-3 3-3 3-2 3-2 3-2 3 0 3-1 3 1 3 1 3 1 3 2 3 3 3 2 3 2 3 2 3 2 3 2 3 1 3 1 3 0 3 0 3 0 3-1 3-1 3-2 3-1 3-2 3-1 3-1 3-1 3-1 3 0 3 0 3 0 3 1 3 1 3 1 3 1 3 1 3 2 3 1 3 1 3 0 3 1 3 0 3 0 3-1 3-1 3-1 3-1 3-1 3-1 3-2 3-1 3-1 3 0 3 0 3 0 3 0 3 1 3 1 3 1 3 1 3 2 3 1 3 2 3 1 3 1 3 0 3 0 3 0 3 0 3-1 3-1 3-2 3-1 3-2 3-1 3-2 3-1"/><path d="M30 325l3 24 3 19 3 13 3 9 3 3 3-1 3-3 3-4 3-6 3-6 3-5 3-6 3-4 3-3 3-2 3-1 3 1 3 2 3 3 3 4 3 4 3 5 3 4 3 4 3 4 3 2 3 2 3 2 3 0 3 0 3 0 3-2 3-1 3-1 3-2 3-1 3 0 3-1 3 0 3 0 3 0 3 1 3 1 3 1 3 0 3 1 3 0 3 0 3 0 3 0 3 0 3 0 3-1 3 0 3 0 3 0 3 0 3 1 3 0 3 1 3 1 3 1 3 1 3 1 3 1 3 0 3 0 3 0 3 0 3 0 3-1 3-1 3-1 3-1 3-1 3-1 3 0 3-1 3 0 3 0 3 0 3 0 3 1 3 0 3 1 3 0 3 0 3 1 3 0 3 0 3 0 3 0 3 0 3 0 3 0 3 0 3 1 3 0 3 0 3 1 3 0 3 1 3 0 3 0 3 0 3 0 3-1 3 0 3-1 3-1 3-1"/><path d="M30 395l3 12 3 6 3 3 3-2 3-4 3-6 3-7 3-8 3-8 3-8 3-7 3-6 3-4 3-4 3-2 3 0 3 2 3 1 3 4 3 4 3 4 3 5 3 4 3 5 3 3 3 3 3 3 3 2 3 1 3 1 3 0 3-1 3 0 3-1 3-1 3-1 3-1 3 0 3-1 3 0 3 0 3 0 3 0 3 1 3 0 3 0 3 0 3 0 3 0 3 0 3 0 3-1 3-1 3 0 3-1 3-1 3-1 3 0 3-1 3 0 3 0 3 0 3 0 3 1 3 1 3 1 3 1 3 2 3 1 3 1 3 1 3 1 3 1 3 0 3 1 3 0 3-1 3 0 3-1 3-1 3-1 3 0 3-1 3-1 3-1 3 0 3-1 3 0 3 0 3 0 3 0 3 0 3 1 3 0 3 0 3 0 3 0 3 0 3 0 3-1 3 0 3 0 3 0 3 0 3 0 3 0 3 1 3 0 3 1 3 1 3 0"/><path d="M30 332l3 17 3 27 3 22 3 15 3 9 3 2 3-4 3-5 3-8 3-9 3-9 3-9 3-8 3-6 3-5 3-3 3-1 3 1 3 2 3 3 3 4 3 4 3 4 3 3 3 3 3 2 3 1 3-1 3 0 3-2 3-3 3-3 3-2 3-3 3-3 3-2 3-1 3-1 3 0 3 1 3 1 3 2 3 2 3 2 3 2 3 2 3 1 3 2 3 1 3 1 3 0 3 1 3 0 3 1 3 0 3 1 3 1 3 2 3 1 3 2 3 2 3 3 3 2 3 2 3 2 3 1 3 2 3 0 3 0 3 0 3-1 3-1 3-1 3-2 3-2 3-1 3-2 3-1 3-1 3-1 3 0 3-1 3 0 3 1 3 0 3 0 3 1 3 0 3 0 3-1 3 0 3-1 3-1 3-2 3-1 3-2 3-1 3-2 3-1 3-1 3 0 3-1 3 0 3 0 3 1 3 0 3 0 3 0 3 1 3 0 3-1"/><path d="M30 298l3 3 3 17 3 31 3 24 3 19 3 11 3 4 3-1 3-4 3-7 3-9 3-9 3-9 3-7 3-5 3-4 3-1 3 1 3 3 3 4 3 5 3 6 3 5 3 5 3 5 3 3 3 2 3 1 3 0 3-1 3-1 3-2 3-2 3-2 3-2 3-2 3-1 3 0 3-1 3 0 3 1 3 1 3 1 3 2 3 1 3 2 3 1 3 2 3 1 3 1 3 1 3 0 3 0 3-1 3-1 3-1 3-1 3-1 3-2 3-1 3-1 3 0 3 0 3 1 3 1 3 1 3 2 3 2 3 2 3 1 3 1 3 0 3 0 3-1 3-2 3-1 3-3 3-2 3-2 3-1 3-1 3 0 3 1 3 1 3 2 3 2 3 2 3 2 3 2 3 1 3 1 3 0 3-1 3-1 3-2 3-2 3-2 3-2 3-2 3-1 3 0 3 0 3 1 3 2 3 1 3 2 3 2 3 1 3 1 3 1 3 0"/><path d="M30 310l3 24 3 21 3 16 3 12 3 8 3 3 3 2 3 0 3-2 3-4 3-5 3-6 3-6 3-6 3-5 3-5 3-3 3-2 3-1 3 1 3 3 3 3 3 5 3 5 3 6 3 5 3 5 3 4 3 4 3 2 3 1 3 0 3-1 3-2 3-2 3-3 3-2 3-3 3-2 3-2 3-1 3 0 3 1 3 1 3 1 3 1 3 1 3 1 3 1 3 1 3 1 3 0 3 0 3 0 3-1 3 1 3 0 3 1 3 1 3 1 3 1 3 1 3 2 3 1 3 0 3 1 3-1 3-1 3-2 3-2 3-2 3-3 3-3 3-2 3-2 3-1 3 0 3 1 3 1 3 2 3 3 3 3 3 3 3 3 3 3 3 1 3 2 3 0 3-1 3-1 3-2 3-3 3-2 3-3 3-2 3-2 3-1 3-1 3 0 3 0 3 1 3 1 3 2 3 1 3 1 3 1 3 1 3 0 3 0 3 0 3 0"/><path d="M30 356l3 18 3 14 3 8 3 4 3-1 3-2 3-4 3-5 3-6 3-7 3-6 3-5 3-4 3-3 3-2 3 0 3 1 3 2 3 3 3 4 3 4 3 4 3 5 3 4 3 3 3 3 3 2 3 1 3 0 3 0 3-1 3-2 3-2 3-2 3-2 3-2 3-1 3-2 3-1 3 0 3 1 3 1 3 1 3 2 3 1 3 2 3 2 3 1 3 2 3 1 3 1 3 0 3 0 3 0 3 0 3-1 3-1 3-1 3-2 3-1 3 0 3-1 3-1 3 0 3 0 3 1 3 1 3 0 3 1 3 1 3 1 3 1 3 1 3 0 3 0 3 0 3 0 3-1 3-1 3 0 3-1 3-1 3-1 3 0 3-1 3 0 3 0 3 1 3 0 3 1 3 0 3 1 3 1 3 1 3 0 3 0 3 1 3-1 3 0 3 0 3-1 3 0 3-1 3 0 3-1 3 0 3-1 3 0 3 0 3 0 3 1"/><path d="M30 315l3-5 3 14 3 21 3 16 3 11 3 8 3 2 3 0 3 0 3-2 3-2 3-1 3-2 3-1 3-1 3-1 3-1 3-1 3-1 3-1 3-1 3 0 3-1 3 0 3 0 3 0 3 0 3 1 3 2 3 1 3 2 3 3 3 2 3 3 3 2 3 2 3 2 3 2 3 1 3 1 3 1 3 0 3 0 3 0 3-1 3-1 3 0 3-1 3 0 3 0 3 0 3 0 3 0 3 0 3 1 3 0 3 0 3 0 3 0 3-1 3-1 3-1 3-2 3-1 3-1 3-1 3-1 3-1 3 0 3 0 3 0 3 1 3 2 3 1 3 2 3 2 3 1 3 2 3 1 3 1 3 1 3 0 3 0 3 0 3-1 3 0 3-1 3-1 3 0 3-1 3 0 3 0 3 0 3 0 3 0 3 1 3 0 3 0 3-1 3 0 3-1 3-1 3-2 3-1 3-2 3-1 3-2 3-1 3 0 3-1 3 0"/><path d="M30 334l3 23 3 18 3 12 3 7 3 0 3-3 3-5 3-6 3-6 3-6 3-6 3-4 3-3 3-1 3 1 3 2 3 3 3 4 3 4 3 5 3 5 3 5 3 4 3 3 3 2 3 0 3 0 3-1 3-2 3-2 3-3 3-4 3-3 3-3 3-2 3-2 3-2 3 0 3 0 3 1 3 1 3 3 3 2 3 3 3 3 3 3 3 3 3 2 3 3 3 1 3 2 3 1 3 0 3 0 3 0 3-1 3-1 3-1 3-2 3-1 3-2 3-1 3-2 3 0 3-1 3-1 3 0 3 1 3 0 3 1 3 1 3 1 3 1 3 0 3 1 3 1 3 0 3 0 3 0 3 0 3-1 3-1 3-1 3-1 3-1 3-2 3-1 3 0 3-1 3 0 3 0 3 0 3 1 3 1 3 1 3 1 3 2 3 1 3 2 3 1 3 2 3 1 3 0 3 1 3 0 3-1 3 0 3-1 3-2 3-1 3-2"/><path d="M30 325l3 23 3 18 3 13 3 8 3 1 3 0 3-2 3-4 3-5 3-4 3-5 3-4 3-3 3-2 3-1 3 0 3 1 3 2 3 2 3 3 3 4 3 3 3 3 3 4 3 2 3 2 3 2 3 2 3 1 3 0 3 0 3-1 3 0 3-1 3-1 3-1 3-1 3-1 3-1 3 0 3-1 3 0 3-1 3 0 3 0 3 0 3 0 3 0 3 0 3 1 3 0 3 1 3 1 3 1 3 1 3 2 3 1 3 1 3 1 3 1 3 0 3 1 3 0 3 0 3 0 3 0 3-1 3 0 3-1 3-1 3-1 3-1 3-1 3 0 3-1 3 0 3-1 3 0 3 0 3 0 3 0 3 1 3 0 3 1 3 0 3 1 3 0 3 1 3 0 3 0 3 1 3-1 3 0 3 0 3 0 3-1 3 0 3-1 3 0 3-1 3 0 3-1 3 0 3 0 3 1 3 0 3 0 3 1 3 1 3 0 3 1"/><path d="M30 307l3 23 3 19 3 16 3 11 3 7 3 2 3 0 3 0 3-2 3-4 3-3 3-3 3-4 3-2 3-2 3-1 3 0 3 1 3 1 3 3 3 3 3 3 3 3 3 2 3 3 3 1 3 1 3 1 3-1 3-1 3-1 3-2 3-1 3-1 3-1 3-1 3 0 3 1 3 1 3 2 3 2 3 2 3 3 3 2 3 1 3 1 3 0 3-1 3-1 3-1 3-2 3-2 3-2 3-2 3-1 3-1 3 0 3 1 3 1 3 2 3 2 3 2 3 3 3 2 3 1 3 2 3 0 3 0 3-1 3-1 3-2 3-2 3-2 3-2 3-2 3-2 3-1 3 0 3 0 3 1 3 1 3 1 3 2 3 2 3 1 3 2 3 1 3 1 3 0 3 0 3 0 3-1 3-1 3-1 3-1 3-1 3-1 3-1 3 0 3 0 3-1 3 0 3 1 3 0 3 0 3 0 3 1 3 0 3 0 3 1 3 0"/><path d="M30 330l3 25 3 21 3 15 3 9 3 3 3 0 3-2 3-5 3-8 3-7 3-9 3-8 3-6 3-6 3-4 3-1 3 0 3 2 3 4 3 6 3 6 3 7 3 6 3 7 3 5 3 5 3 3 3 1 3 0 3-1 3-2 3-4 3-4 3-4 3-4 3-4 3-3 3-2 3-1 3 0 3 1 3 2 3 3 3 4 3 4 3 3 3 4 3 3 3 2 3 1 3 0 3 0 3-2 3-2 3-3 3-3 3-3 3-2 3-3 3-2 3-1 3 0 3 0 3 2 3 2 3 2 3 3 3 3 3 3 3 2 3 2 3 1 3 0 3 0 3-1 3-2 3-3 3-3 3-2 3-3 3-2 3-2 3-1 3 0 3 0 3 2 3 2 3 2 3 3 3 3 3 3 3 2 3 2 3 1 3 1 3-1 3-1 3-2 3-2 3-3 3-3 3-2 3-3 3-1 3-2 3 0 3 1 3 1 3 1 3 3 3 2"/><path d="M30 310l3 12 3 26 3 21 3 15 3 9 3 3 3-2 3-3 3-5 3-5 3-6 3-6 3-5 3-3 3-2 3-1 3 0 3 2 3 2 3 2 3 4 3 4 3 3 3 4 3 3 3 2 3 1 3 2 3 0 3 0 3 0 3-1 3-1 3-1 3-1 3-1 3-1 3-1 3 0 3-1 3 1 3 0 3 1 3 1 3 0 3 1 3 1 3 1 3 1 3 1 3 0 3 1 3 1 3 0 3 0 3 0 3 1 3-1 3 0 3 0 3-1 3 0 3-1 3 0 3-1 3-1 3 0 3 0 3-1 3 0 3 0 3 1 3 0 3 0 3 1 3 1 3 0 3 1 3 0 3 1 3 0 3 1 3 0 3 0 3 0 3-1 3 0 3-1 3 0 3-1 3 0 3-1 3-1 3 0 3 0 3 0 3 0 3 0 3 0 3 0 3 1 3 0 3 1 3 0 3 1 3 0 3 1 3 0 3 0 3 0 3 0"/><path d="M30 313l3-1 3 26 3 21 3 16 3 10 3 4 3-1 3-3 3-3 3-5 3-4 3-3 3-3 3-1 3 1 3 1 3 2 3 3 3 3 3 3 3 2 3 2 3 2 3 0 3 0 3-1 3-1 3-1 3-1 3-1 3-1 3-1 3-1 3 0 3 0 3 0 3 1 3 1 3 0 3 1 3 1 3 1 3 1 3 1 3 0 3 1 3 1 3 1 3 0 3 1 3 1 3 0 3 1 3 0 3 0 3 0 3 0 3-1 3 0 3 0 3-1 3 0 3 0 3 0 3 0 3 0 3 0 3 0 3 0 3-1 3-1 3 0 3-1 3-1 3-1 3-1 3 0 3-1 3 1 3 0 3 1 3 1 3 1 3 2 3 2 3 1 3 1 3 1 3 1 3 0 3 0 3-1 3-1 3-1 3-1 3-1 3 0 3-1 3-1 3 0 3 0 3 0 3 0 3 0 3 0 3 0 3 0 3-1 3 0 3 0 3 0"/><path d="M30 305l3 13 3 26 3 21 3 16 3 9 3 4 3-1 3-2 3-4 3-5 3-6 3-5 3-4 3-4 3-3 3-1 3-1 3 1 3 1 3 2 3 2 3 3 3 3 3 2 3 2 3 2 3 1 3 1 3 1 3 1 3 0 3 0 3 0 3 0 3 0 3 1 3 0 3 1 3 1 3 1 3 1 3 2 3 1 3 1 3 1 3 1 3 0 3 0 3 0 3 0 3-1 3 0 3-1 3-1 3-1 3-1 3-1 3 0 3-1 3-1 3 0 3 0 3-1 3 0 3 0 3 1 3 0 3 0 3 1 3 0 3 1 3 1 3 0 3 1 3 1 3 0 3 1 3 0 3 1 3 0 3 0 3 0 3 0 3 0 3 0 3 0 3 0 3-1 3 0 3 0 3-1 3 0 3 0 3-1 3 0 3 0 3-1 3 0 3 0 3 0 3 0 3-1 3 0 3 0 3 0 3 0 3 0 3 0 3 0 3 0 3 0"/><path d="M30 316l3 12 3 21 3 15 3 11 3 6 3 1 3-3 3-4 3-4 3-5 3-4 3-4 3-3 3-1 3 0 3 2 3 2 3 4 3 4 3 4 3 5 3 5 3 4 3 3 3 4 3 2 3 1 3 1 3 0 3-1 3-1 3-1 3-2 3-2 3-2 3-1 3-1 3-1 3-1 3 0 3 0 3 0 3 1 3 1 3 1 3 1 3 1 3 1 3 1 3 1 3 1 3 1 3 1 3 0 3 0 3 1 3 0 3-1 3 0 3-1 3-1 3-1 3-2 3-1 3-2 3-2 3-1 3-2 3-1 3-2 3-1 3-1 3-1 3 0 3 0 3 0 3 1 3 1 3 1 3 1 3 2 3 2 3 1 3 2 3 2 3 2 3 2 3 1 3 1 3 1 3 1 3 1 3 0 3-1 3 0 3-1 3-1 3-1 3-1 3-1 3-1 3-2 3-1 3-1 3 0 3-1 3 0 3 0 3 0 3 0 3 1"/><path d="M30 370l3 12 3 7 3 2 3-3 3-6 3-6 3-7 3-7 3-7 3-6 3-5 3-3 3-1 3 0 3 2 3 3 3 5 3 5 3 7 3 6 3 7 3 6 3 6 3 5 3 4 3 3 3 2 3 1 3 0 3-1 3-2 3-3 3-3 3-3 3-4 3-3 3-3 3-3 3-3 3-2 3-2 3 0 3-1 3 0 3 1 3 1 3 1 3 2 3 3 3 2 3 3 3 3 3 3 3 3 3 2 3 3 3 1 3 2 3 1 3 1 3 0 3-1 3-1 3-2 3-1 3-3 3-2 3-3 3-2 3-3 3-2 3-2 3-1 3-2 3 0 3-1 3 0 3 1 3 1 3 2 3 1 3 2 3 2 3 3 3 2 3 2 3 2 3 1 3 1 3 1 3 1 3 0 3-1 3 0 3-1 3-2 3-1 3-2 3-2 3-1 3-2 3-2 3-1 3-1 3-1 3 0 3-1 3 1 3 0 3 1 3 1"/><path d="M30 309l3 17 3 20 3 15 3 9 3 5 3-1 3-5 3-5 3-6 3-6 3-6 3-5 3-4 3-2 3-2 3 0 3 2 3 3 3 4 3 4 3 5 3 5 3 5 3 5 3 5 3 4 3 3 3 3 3 2 3 2 3 2 3 1 3 1 3 1 3 0 3 1 3 1 3 0 3 1 3 0 3 1 3 1 3 1 3 0 3 0 3 0 3 0 3-1 3 0 3-1 3-1 3-1 3-1 3-1 3-1 3-1 3-1 3-1 3-1 3-1 3 0 3-1 3 0 3 0 3 0 3 0 3 0 3 0 3 0 3 1 3 0 3 0 3 1 3 0 3 1 3 0 3 1 3 0 3 1 3 0 3 0 3 1 3 0 3 0 3 0 3 0 3-1 3 0 3 0 3-1 3 0 3-1 3 0 3-1 3-1 3 0 3-1 3 0 3-1 3 0 3-1 3 0 3 0 3-1 3 0 3 0 3 1 3 0 3 0 3 1 3 0"/><path d="M30 397l3 4 3 36 3 29 3 10 3-1 3-2 3-3 3-4 3-4 3-2 3-2 3 0 3 0 3 2 3 3 3 4 3 5 3 6 3 5 3 5 3 4 3 3 3 1 3 1 3-1 3-1 3-2 3-2 3-3 3-3 3-3 3-3 3-2 3-3 3-2 3-1 3-1 3 0 3-1 3 0 3 1 3 1 3 0 3 0 3 1 3 0 3 0 3 0 3 0 3 0 3 0 3 0 3 0 3 0 3 0 3 0 3 0 3 0 3 0 3 0 3 0 3 0 3 1 3 0 3 1 3 0 3 1 3 1 3 0 3 1 3 1 3 0 3 1 3 1 3 1 3 1 3 1 3 0 3 1 3 1 3 0 3 1 3 0 3 1 3 0 3 0 3 0 3 0 3-1 3 0 3-1 3 0 3-1 3-1 3-1 3 0 3-1 3-1 3-1 3 0 3-1 3-1 3 0 3-1 3 0 3-1 3 0 3 0 3-1 3 0 3 0"/><path d="M30 357l3 5 3 36 3 39 3 19 3 4 3 0 3-2 3-5 3-6 3-6 3-5 3-3 3-1 3 1 3 5 3 6 3 9 3 11 3 12 3 11 3 10 3 7 3 6 3 3 3 0 3-2 3-3 3-5 3-6 3-6 3-6 3-4 3-4 3-3 3-1 3 0 3 2 3 2 3 2 3 1 3 1 3 1 3-1 3-2 3-3 3-3 3-4 3-3 3-4 3-2 3-2 3 0 3 0 3 2 3 2 3 3 3 3 3 3 3 3 3 2 3 1 3 0 3 0 3 0 3-1 3 0 3 0 3 0 3 0 3 2 3 2 3 3 3 3 3 3 3 3 3 3 3 2 3 1 3 0 3-1 3-1 3-3 3-3 3-3 3-4 3-3 3-2 3-2 3-1 3 0 3 0 3 1 3 0 3 1 3 0 3 0 3-1 3-2 3-2 3-2 3-3 3-2 3-3 3-1 3-1 3 0 3 1 3 2 3 3 3 3 3 3"/><path d="M30 395l3 27 3 31 3 12 3-1 3-5 3-7 3-7 3-6 3-6 3-2 3-1 3 2 3 4 3 6 3 8 3 9 3 10 3 10 3 9 3 8 3 5 3 2 3 1 3-3 3-4 3-6 3-6 3-8 3-8 3-7 3-6 3-5 3-3 3-1 3 2 3 3 3 5 3 6 3 7 3 7 3 7 3 6 3 5 3 3 3 2 3 0 3-2 3-3 3-4 3-5 3-5 3-5 3-5 3-4 3-2 3-2 3-1 3 1 3 1 3 3 3 3 3 4 3 3 3 3 3 3 3 2 3 2 3 0 3 0 3-1 3-2 3-2 3-2 3-2 3-1 3-2 3 0 3 0 3 0 3 1 3 1 3 2 3 1 3 1 3 1 3 1 3 0 3-1 3-1 3-1 3-2 3-2 3-2 3-1 3-1 3-1 3 0 3 1 3 1 3 1 3 2 3 3 3 2 3 2 3 2 3 2 3 1 3 0 3 0 3-2 3-1"/><path d="M30 441l3 11 3 2 3-3 3 2 3 6 3 9 3 9 3 10 3 9 3 6 3 2 3-1 3-4 3-7 3-8 3-9 3-9 3-7 3-5 3-2 3 1 3 3 3 7 3 9 3 10 3 11 3 10 3 8 3 6 3 3 3-1 3-3 3-7 3-10 3-11 3-11 3-11 3-10 3-8 3-5 3-3 3 0 3 3 3 5 3 7 3 8 3 9 3 8 3 7 3 6 3 5 3 2 3 1 3-1 3-3 3-3 3-4 3-3 3-4 3-3 3-2 3-1 3 0 3 0 3 0 3 0 3 0 3 0 3-2 3-2 3-2 3-3 3-3 3-2 3-2 3 0 3 1 3 2 3 4 3 5 3 6 3 6 3 7 3 6 3 4 3 3 3 1 3-1 3-3 3-4 3-7 3-7 3-8 3-8 3-6 3-6 3-3 3-1 3 1 3 3 3 5 3 6 3 7 3 6 3 7 3 4 3 4 3 1 3-1 3-3 3-4"/><path d="M30 374l3 30 3 26 3 12 3 3 3 4 3 3 3 3 3 2 3 2 3 2 3 1 3-1 3-1 3-1 3-2 3-1 3 0 3 1 3 1 3 3 3 3 3 4 3 4 3 5 3 5 3 5 3 4 3 3 3 1 3 0 3-1 3-4 3-4 3-6 3-6 3-6 3-6 3-4 3-4 3-2 3 1 3 2 3 3 3 5 3 6 3 7 3 7 3 6 3 5 3 4 3 3 3 1 3-1 3-3 3-4 3-6 3-6 3-6 3-6 3-6 3-4 3-2 3-1 3 1 3 2 3 4 3 5 3 5 3 5 3 5 3 4 3 3 3 2 3 1 3-1 3-2 3-3 3-3 3-4 3-3 3-4 3-2 3-2 3-1 3 0 3 2 3 1 3 3 3 2 3 3 3 2 3 2 3 0 3 1 3-1 3-1 3-2 3-3 3-2 3-2 3-2 3-1 3 0 3 1 3 1 3 2 3 2 3 3 3 3 3 2 3 2"/><path d="M30 422l3 26 3 9 3 1 3 0 3-2 3-1 3-2 3-1 3 0 3 0 3 0 3 2 3 2 3 2 3 2 3 4 3 3 3 3 3 3 3 2 3 2 3 1 3 0 3 0 3 0 3 0 3 0 3-1 3-1 3 0 3 0 3-1 3 0 3-1 3 0 3 0 3 0 3 1 3 0 3 0 3 0 3 0 3 0 3 0 3 1 3 0 3 1 3 0 3 1 3 0 3 1 3 1 3 1 3 0 3 0 3 0 3 0 3 0 3-1 3-1 3-1 3-1 3-1 3 0 3-1 3 0 3 0 3 0 3 0 3 1 3 0 3 1 3 1 3 1 3 1 3 1 3 0 3 1 3 0 3 0 3-1 3 0 3-1 3 0 3-1 3-1 3 0 3-1 3 0 3-1 3 0 3 0 3 1 3 0 3 1 3 0 3 1 3 0 3 0 3 1 3 0 3 0 3-1 3 0 3 0 3-1 3 0 3-1 3 0 3-1 3 0"/><path d="M30 351l3 26 3 17 3 6 3 3 3 5 3 4 3 6 3 5 3 7 3 6 3 7 3 5 3 6 3 6 3 4 3 4 3 4 3 4 3 2 3 1 3 1 3-1 3 0 3-1 3-1 3 0 3 1 3 0 3 1 3 1 3 2 3 2 3 1 3 1 3 1 3 1 3 0 3 0 3-2 3-3 3-3 3-3 3-5 3-5 3-5 3-4 3-4 3-3 3-2 3-1 3 0 3 2 3 3 3 5 3 6 3 6 3 7 3 7 3 7 3 7 3 6 3 5 3 3 3 3 3 1 3 0 3-2 3-4 3-4 3-6 3-6 3-7 3-6 3-7 3-6 3-5 3-4 3-3 3-2 3-1 3 1 3 1 3 2 3 3 3 3 3 4 3 3 3 4 3 2 3 2 3 2 3 1 3 0 3 0 3-1 3-1 3-1 3-2 3-1 3-1 3 0 3 0 3 1 3 1 3 2 3 3 3 3 3 3 3 3 3 2 3 2"/><path d="M30 407l3-5 3-4 3 25 3 32 3 14 3 1 3-1 3-2 3-3 3-3 3-2 3-1 3-1 3 0 3 1 3 2 3 2 3 3 3 4 3 4 3 3 3 3 3 2 3 1 3 0 3 0 3-1 3 0 3-2 3-1 3-2 3-1 3-1 3-1 3-1 3 0 3 0 3 1 3 0 3 1 3 1 3 0 3 1 3 1 3 0 3 1 3 0 3 0 3 1 3 0 3 1 3 0 3 1 3 0 3 0 3 0 3 0 3-1 3 0 3-1 3-2 3-1 3-1 3-1 3 0 3-1 3 1 3 0 3 1 3 1 3 1 3 2 3 1 3 2 3 1 3 1 3 0 3 0 3-1 3-1 3-2 3-1 3-2 3-1 3-1 3-1 3 0 3 0 3 1 3 1 3 1 3 2 3 1 3 2 3 1 3 0 3 0 3 0 3-1 3-2 3-1 3-2 3-2 3-1 3-1 3 0 3 0 3 0 3 2 3 1 3 2"/><path d="M30 525l3 4 3-8 3-10 3-11 3-12 3-12 3-11 3-8 3-6 3-4 3-1 3 1 3 3 3 5 3 6 3 8 3 7 3 5 3 5 3 4 3 1 3 0 3-1 3-2 3-2 3-3 3-2 3-2 3-2 3-1 3 0 3 0 3 0 3 0 3 1 3 1 3 1 3 0 3-1 3-1 3-1 3-1 3-1 3-1 3-1 3 0 3 0 3 0 3 2 3 1 3 2 3 2 3 2 3 2 3 1 3 0 3 0 3-1 3-1 3-2 3-1 3-2 3-1 3 0 3 0 3 0 3 1 3 1 3 1 3 1 3 1 3 1 3 0 3 0 3-1 3-1 3-2 3-2 3-1 3-2 3-1 3 0 3 0 3 1 3 1 3 2 3 2 3 2 3 2 3 2 3 1 3 1 3-1 3 0 3-2 3-1 3-2 3-2 3-1 3-2 3 0 3 0 3 0 3 1 3 1 3 1 3 1 3 1 3 0 3 0 3-1"/><path d="M30 417l3 21 3 36 3 21 3 3 3-6 3-9 3-12 3-12 3-11 3-10 3-6 3-5 3-1 3 2 3 5 3 7 3 9 3 11 3 11 3 10 3 8 3 6 3 4 3 2 3-1 3-3 3-3 3-6 3-6 3-6 3-6 3-5 3-4 3-3 3-1 3 1 3 2 3 3 3 4 3 4 3 5 3 5 3 3 3 3 3 2 3 1 3-1 3-1 3-2 3-2 3-3 3-3 3-2 3-3 3-1 3-1 3-1 3 1 3 0 3 2 3 1 3 2 3 2 3 2 3 1 3 2 3 0 3 1 3-1 3 0 3-1 3-2 3-1 3-1 3-2 3-1 3 0 3 0 3 0 3 0 3 1 3 1 3 1 3 1 3 1 3 1 3 0 3 1 3 0 3 0 3-1 3 0 3-1 3-1 3-1 3 0 3-1 3 0 3-1 3 0 3 0 3 0 3 0 3 1 3 0 3 0 3 0 3 1 3 0 3 0 3 0"/><path d="M30 400l3 32 3 26 3 7 3-3 3-3 3-6 3-5 3-5 3-4 3-2 3-2 3-1 3 1 3 3 3 3 3 4 3 6 3 5 3 5 3 5 3 4 3 3 3 2 3 1 3 0 3 1 3 0 3-1 3 0 3-1 3 0 3 1 3 0 3 0 3 1 3 2 3 2 3 2 3 2 3 1 3 2 3 1 3 1 3-1 3 0 3-1 3-1 3-2 3-2 3-2 3-1 3-2 3-2 3-2 3-1 3-1 3-1 3-1 3 0 3 0 3 0 3 0 3 1 3 1 3 0 3 1 3 1 3 0 3 1 3 0 3 0 3 0 3 0 3 0 3 0 3 0 3 1 3 0 3 1 3 1 3 1 3 1 3 1 3 1 3 2 3 1 3 1 3 2 3 0 3 1 3 0 3 0 3 0 3-1 3-1 3-1 3-2 3-2 3-2 3-2 3-2 3-1 3-2 3-1 3-1 3-1 3 0 3-1 3 1 3 0 3 1"/><path d="M30 382l3 2 3 29 3 35 3 17 3 1 3 0 3-3 3-3 3-3 3-2 3-1 3 0 3 0 3 3 3 3 3 4 3 5 3 5 3 6 3 4 3 4 3 3 3 1 3 1 3-1 3-1 3-1 3-2 3-2 3-3 3-2 3-1 3-2 3-2 3-1 3-1 3 0 3 0 3 0 3 1 3 0 3 1 3 0 3 0 3 0 3 0 3 0 3 0 3-1 3 0 3 0 3-1 3 0 3-1 3 0 3-1 3 0 3-1 3 0 3-1 3 0 3 0 3 0 3 0 3 0 3 1 3 1 3 0 3 1 3 1 3 1 3 0 3 1 3 1 3 0 3 1 3 0 3 1 3 0 3 1 3 0 3 1 3 0 3 1 3 0 3 1 3 0 3 1 3 0 3 0 3 1 3 0 3 0 3 0 3 0 3 0 3-1 3 0 3 0 3 0 3 0 3-1 3 0 3 0 3 0 3-1 3 0 3 0 3-1 3 0 3 0"/><path d="M30 400l3 22 3 8 3 3 3 1 3 1 3 0 3 1 3 2 3 3 3 4 3 4 3 5 3 6 3 7 3 6 3 8 3 7 3 6 3 5 3 4 3 1 3 1 3 0 3-2 3-3 3-3 3-4 3-4 3-4 3-4 3-4 3-3 3-3 3-3 3-1 3-1 3-1 3 0 3 0 3 1 3 1 3 1 3 0 3 1 3 0 3 1 3 0 3 1 3 0 3 1 3 0 3 1 3 1 3 1 3 1 3 1 3 1 3 1 3 1 3 1 3 1 3 0 3 1 3 1 3 0 3 0 3 0 3 0 3 0 3-1 3-1 3-1 3-1 3-1 3 0 3-1 3-1 3-1 3 0 3 0 3 0 3-1 3 1 3 0 3 0 3 0 3 0 3 1 3 0 3 1 3 0 3 0 3 1 3 0 3 1 3 0 3 1 3 0 3 0 3 1 3 0 3 1 3 0 3 0 3 0 3 0 3 0 3 0 3-1 3 0 3-1"/><path d="M30 379l3 25 3 37 3 22 3 8 3 2 3 0 3-2 3-2 3-4 3-2 3-3 3-4 3-2 3-2 3 0 3 0 3 1 3 2 3 3 3 3 3 3 3 2 3 3 3 2 3 2 3 2 3 2 3 1 3 1 3 1 3 0 3 0 3 0 3-1 3 0 3-1 3 0 3 0 3 0 3 0 3 0 3 0 3 1 3 0 3 0 3 0 3 1 3 0 3 0 3 0 3-1 3 0 3-1 3-1 3-1 3-1 3-1 3-1 3-2 3-1 3 0 3-1 3 1 3 0 3 2 3 1 3 2 3 3 3 2 3 2 3 2 3 2 3 2 3 1 3 0 3 0 3 0 3-1 3-2 3-2 3-2 3-2 3-2 3-2 3-2 3-2 3-1 3-1 3 0 3 0 3 1 3 1 3 1 3 2 3 1 3 1 3 2 3 1 3 0 3 1 3 0 3 0 3 0 3-1 3 0 3-1 3 0 3-1 3 0 3 0 3 0"/><path d="M30 409l3 10 3 35 3 26 3 7 3-1 3-3 3-5 3-5 3-5 3-4 3-3 3-2 3-2 3 0 3 2 3 2 3 3 3 3 3 4 3 3 3 2 3 1 3 1 3-1 3-1 3-2 3-1 3-3 3-2 3-3 3-2 3-1 3-2 3-1 3-1 3 1 3 0 3 2 3 1 3 2 3 2 3 2 3 2 3 2 3 2 3 1 3 2 3 1 3 1 3 1 3 1 3 0 3 1 3 1 3 1 3 0 3 0 3 1 3 0 3 0 3 0 3 1 3 0 3 0 3 0 3 0 3 0 3 0 3 0 3 0 3-1 3 0 3-1 3 0 3-1 3-1 3 0 3-1 3-1 3-1 3-1 3 0 3-1 3-1 3-1 3-1 3 0 3-1 3-1 3 0 3-1 3 0 3 0 3-1 3 0 3 0 3 0 3 0 3 1 3 0 3 0 3 1 3 0 3 1 3 1 3 0 3 1 3 1 3 0 3 1 3 1"/><path d="M30 376l3 32 3 31 3 18 3 11 3 11 3 8 3 6 3 1 3-1 3-5 3-8 3-11 3-10 3-9 3-7 3-4 3 0 3 4 3 7 3 10 3 11 3 11 3 10 3 8 3 5 3 2 3-2 3-4 3-8 3-9 3-10 3-9 3-8 3-5 3-2 3 1 3 4 3 6 3 8 3 8 3 8 3 7 3 4 3 2 3-1 3-4 3-5 3-6 3-7 3-6 3-4 3-3 3 0 3 2 3 3 3 6 3 5 3 6 3 5 3 3 3 2 3-1 3-2 3-5 3-5 3-6 3-5 3-5 3-3 3 0 3 1 3 3 3 5 3 6 3 6 3 5 3 5 3 2 3 0 3-1 3-4 3-5 3-6 3-6 3-5 3-3 3-2 3 0 3 2 3 4 3 5 3 6 3 6 3 4 3 3 3 1 3-1 3-3 3-4 3-6 3-6 3-5 3-4 3-3 3-1 3 2 3 3 3 5 3 6 3 6 3 5"/><path d="M30 407l3 0 3 27 3 32 3 11 3-4 3-5 3-7 3-7 3-6 3-3 3-2 3 1 3 1 3 4 3 6 3 6 3 6 3 7 3 6 3 4 3 4 3 2 3 0 3-2 3-2 3-2 3-3 3-3 3-3 3-3 3-1 3-2 3-1 3 0 3 0 3 0 3 1 3 1 3 2 3 1 3 1 3 1 3 1 3 0 3 1 3 0 3 0 3 0 3 0 3 0 3 0 3 0 3 0 3 0 3 0 3 0 3-1 3 0 3 0 3 0 3 1 3 0 3 1 3 1 3 1 3 1 3 1 3 1 3 1 3 0 3-1 3 0 3-1 3-1 3-1 3-1 3-1 3-1 3 0 3 0 3 1 3 0 3 1 3 2 3 1 3 1 3 0 3 0 3 0 3-1 3-1 3-2 3-2 3-2 3-2 3-1 3-1 3-1 3 0 3 0 3 2 3 1 3 2 3 1 3 2 3 1 3 2 3 0 3 0 3 0 3-1"/><path d="M30 387l3 0 3 33 3 27 3 6 3-6 3-8 3-8 3-7 3-5 3-2 3 1 3 4 3 6 3 9 3 10 3 10 3 11 3 10 3 8 3 6 3 4 3 2 3-1 3-3 3-4 3-4 3-4 3-3 3-2 3-1 3 0 3 2 3 2 3 3 3 3 3 3 3 2 3 2 3 0 3-2 3-2 3-4 3-4 3-4 3-4 3-4 3-2 3-1 3 0 3 2 3 2 3 3 3 4 3 3 3 2 3 1 3 0 3-2 3-3 3-4 3-5 3-5 3-4 3-3 3-1 3 0 3 2 3 3 3 5 3 5 3 6 3 5 3 5 3 3 3 2 3 0 3-1 3-3 3-4 3-4 3-4 3-3 3-1 3-1 3 2 3 3 3 4 3 5 3 6 3 4 3 4 3 2 3 1 3-2 3-3 3-5 3-6 3-6 3-5 3-5 3-3 3-2 3 1 3 1 3 4 3 4 3 4 3 4 3 3 3 2 3 0"/><path d="M30 457l3-7 3 15 3 17 3-3 3-18 3-19 3-18 3-14 3-9 3-3 3 3 3 7 3 11 3 14 3 15 3 14 3 14 3 11 3 8 3 4 3 2 3-2 3-5 3-5 3-6 3-6 3-4 3-2 3-1 3 0 3 2 3 3 3 2 3 2 3 2 3 0 3-1 3-2 3-3 3-4 3-4 3-4 3-3 3-1 3 0 3 1 3 4 3 5 3 6 3 6 3 7 3 5 3 5 3 3 3 0 3-1 3-3 3-5 3-5 3-7 3-6 3-5 3-5 3-3 3-1 3 1 3 2 3 3 3 4 3 4 3 3 3 4 3 2 3 2 3 0 3 0 3-1 3-2 3-2 3-1 3-1 3-1 3 1 3 1 3 1 3 2 3 2 3 2 3 1 3 1 3-1 3-1 3-3 3-3 3-4 3-4 3-3 3-3 3-2 3-1 3 0 3 2 3 2 3 4 3 4 3 4 3 4 3 4 3 3 3 1 3 1"/><path d="M30 428l3 9 3 28 3 18 3 2 3-5 3-6 3-6 3-6 3-5 3-3 3-2 3-1 3-1 3 1 3 2 3 2 3 3 3 4 3 3 3 3 3 2 3 2 3 1 3 1 3 0 3 1 3 1 3 0 3 1 3 0 3 1 3 0 3 1 3 0 3 0 3 1 3 0 3 1 3 0 3 0 3 1 3 0 3 0 3 0 3-1 3 0 3 0 3 0 3-1 3 0 3-1 3 0 3 0 3-1 3-1 3-1 3-1 3-1 3-1 3-1 3-1 3-1 3 0 3 0 3 0 3 1 3 1 3 2 3 1 3 2 3 2 3 2 3 1 3 2 3 1 3 0 3 1 3 0 3-1 3 0 3-1 3-1 3-1 3-1 3 0 3-1 3 0 3 0 3 0 3 0 3 0 3 0 3-1 3 0 3-1 3-1 3-1 3-1 3-1 3-1 3-1 3-1 3-1 3 0 3 1 3 0 3 1 3 2 3 1 3 2 3 1"/><path d="M30 358l3 42 3 58 3 42 3 20 3 7 3-2 3-10 3-15 3-20 3-20 3-19 3-16 3-13 3-6 3 0 3 6 3 11 3 15 3 16 3 18 3 16 3 13 3 9 3 5 3 1 3-3 3-7 3-9 3-11 3-11 3-10 3-8 3-6 3-4 3-1 3 3 3 4 3 7 3 7 3 8 3 7 3 7 3 4 3 3 3 1 3-1 3-3 3-4 3-4 3-5 3-5 3-4 3-3 3-2 3-1 3 0 3 1 3 2 3 3 3 4 3 4 3 3 3 3 3 3 3 2 3 1 3-1 3-1 3-3 3-3 3-4 3-4 3-4 3-3 3-3 3-1 3 0 3 1 3 3 3 4 3 5 3 5 3 5 3 4 3 4 3 2 3 0 3-2 3-3 3-5 3-6 3-6 3-7 3-5 3-4 3-2 3 0 3 2 3 5 3 6 3 7 3 7 3 7 3 6 3 4 3 1 3-1 3-4 3-6 3-7 3-9"/><path d="M30 420l3 32 3 26 3 6 3-6 3-7 3-8 3-9 3-7 3-7 3-3 3-2 3-1 3 2 3 4 3 6 3 7 3 8 3 8 3 7 3 7 3 5 3 3 3 2 3 0 3-1 3-3 3-3 3-3 3-5 3-4 3-4 3-3 3-3 3-2 3-1 3 1 3 1 3 3 3 2 3 4 3 3 3 4 3 3 3 3 3 2 3 2 3 1 3 0 3-1 3-1 3-1 3-2 3-3 3-2 3-3 3-2 3-2 3-2 3-1 3-1 3 0 3 0 3 1 3 1 3 2 3 2 3 2 3 2 3 1 3 2 3 1 3 1 3 0 3 0 3-1 3-1 3-1 3-1 3-1 3-2 3-1 3-1 3-1 3 0 3 0 3 0 3 1 3 0 3 2 3 1 3 1 3 2 3 1 3 2 3 0 3 1 3 0 3 0 3-1 3 0 3-2 3-1 3-2 3-2 3-1 3-2 3-1 3-1 3-1 3 0 3 0"/><path d="M30 386l3 24 3 18 3 5 3 0 3 3 3 3 3 4 3 5 3 5 3 6 3 5 3 3 3 3 3 2 3 0 3 0 3 0 3-1 3-1 3 0 3 0 3 1 3 1 3 2 3 3 3 4 3 4 3 3 3 3 3 1 3 1 3 0 3-2 3-3 3-4 3-5 3-5 3-4 3-4 3-3 3-2 3-1 3 1 3 1 3 3 3 3 3 4 3 4 3 3 3 3 3 1 3 1 3-1 3-1 3-3 3-3 3-4 3-4 3-3 3-2 3 0 3 0 3 2 3 3 3 5 3 4 3 6 3 4 3 5 3 3 3 2 3 0 3-1 3-2 3-3 3-3 3-4 3-4 3-3 3-3 3-1 3-1 3 1 3 2 3 2 3 3 3 3 3 3 3 1 3 1 3 0 3-1 3-3 3-3 3-4 3-4 3-4 3-3 3-3 3-1 3-1 3 2 3 2 3 3 3 4 3 5 3 4 3 3 3 3 3 2 3 0"/><path d="M30 441l3 30 3 15 3 0 3-4 3-7 3-9 3-8 3-7 3-6 3-5 3-3 3-1 3 1 3 3 3 3 3 5 3 6 3 6 3 6 3 4 3 4 3 2 3 0 3 0 3 0 3-1 3-2 3-1 3-2 3-1 3 0 3 0 3 1 3 1 3 2 3 3 3 3 3 3 3 2 3 2 3 2 3 1 3 1 3-1 3-1 3-1 3-1 3-2 3-2 3-2 3-2 3-1 3-1 3-1 3-1 3 0 3 0 3-1 3 0 3 0 3 0 3 0 3-1 3 0 3 0 3 0 3-1 3 0 3 1 3 0 3 0 3 1 3 2 3 1 3 2 3 2 3 2 3 1 3 2 3 1 3 1 3 1 3 0 3 0 3-1 3 0 3-2 3-1 3-1 3-2 3-1 3-1 3-1 3-1 3 0 3-1 3 0 3 0 3 0 3 0 3 0 3-1 3 0 3-1 3-1 3 0 3-1 3-1 3 0 3-1 3 0"/><path d="M30 404l3-2 3 16 3 34 3 20 3 4 3-2 3-3 3-4 3-4 3-4 3-3 3-1 3-2 3 0 3 1 3 2 3 3 3 3 3 4 3 3 3 4 3 2 3 1 3 1 3 0 3 0 3-1 3-1 3-1 3-2 3-1 3-1 3-2 3-1 3-1 3-1 3 0 3 0 3 1 3 1 3 1 3 1 3 2 3 1 3 1 3 2 3 1 3 1 3 1 3 0 3 1 3 0 3 0 3 0 3 0 3 0 3-1 3 0 3 0 3-1 3 0 3 1 3 0 3 1 3 1 3 1 3 1 3 1 3 1 3 0 3 1 3 0 3 0 3 0 3 0 3 0 3-1 3 0 3-1 3 0 3 0 3-1 3 0 3 0 3 0 3 0 3 0 3 0 3 0 3-1 3 0 3-1 3-1 3-1 3-1 3-1 3-1 3-1 3-1 3 0 3-1 3 0 3 0 3 0 3 0 3 1 3 0 3 0 3 1 3 0 3 0"/><path d="M30 462l3 17 3 4 3 1 3-4 3-6 3-10 3-10 3-10 3-9 3-8 3-5 3-1 3 3 3 5 3 9 3 12 3 13 3 13 3 12 3 9 3 6 3 4 3 0 3-3 3-5 3-7 3-8 3-8 3-7 3-5 3-4 3-3 3 0 3 1 3 3 3 4 3 5 3 3 3 4 3 2 3 2 3 0 3-1 3-1 3-1 3-1 3-1 3 1 3 0 3 2 3 2 3 3 3 2 3 2 3 1 3-1 3-1 3-3 3-3 3-4 3-4 3-4 3-4 3-2 3-1 3 1 3 2 3 4 3 4 3 4 3 5 3 4 3 4 3 2 3 1 3-1 3-2 3-3 3-3 3-4 3-3 3-3 3-2 3-1 3 0 3 1 3 2 3 2 3 2 3 1 3 1 3 1 3-1 3-1 3-1 3-2 3-2 3-1 3 0 3 0 3 1 3 2 3 3 3 3 3 3 3 2 3 2 3 0 3-1 3-1 3-3"/><path d="M30 395l3 27 3 30 3 11 3-1 3-3 3-4 3-4 3-4 3-3 3-1 3 1 3 1 3 2 3 5 3 4 3 5 3 5 3 6 3 4 3 4 3 3 3 1 3 1 3-1 3-1 3-2 3-2 3-1 3-3 3-1 3-2 3-1 3-1 3 0 3 0 3 0 3 1 3 1 3 1 3 1 3 1 3 2 3 0 3 1 3 0 3 0 3 1 3 0 3 0 3 0 3 0 3 0 3 0 3 0 3 0 3 0 3 0 3-1 3 0 3-1 3-1 3 0 3-1 3 0 3 0 3 0 3 0 3 1 3 1 3 0 3 1 3 1 3 1 3 1 3 0 3 1 3 0 3 0 3 0 3-1 3 0 3-1 3-1 3-1 3 0 3-1 3-1 3 0 3 0 3 0 3 0 3 1 3 1 3 1 3 1 3 1 3 0 3 1 3 0 3 0 3 0 3-1 3-1 3-1 3-1 3-1 3-2 3-1 3 0 3-1 3 0"/><path d="M30 477l3 4 3-4 3-3 3-5 3-4 3-3 3-3 3-1 3-1 3 0 3 1 3 2 3 2 3 2 3 3 3 3 3 2 3 2 3 2 3 1 3-1 3-1 3-1 3-2 3-2 3-1 3-1 3-1 3 0 3 0 3 1 3 1 3 2 3 3 3 2 3 3 3 4 3 2 3 2 3 2 3 1 3 1 3-1 3-1 3-2 3-2 3-3 3-3 3-3 3-3 3-2 3-2 3-1 3 0 3 0 3 1 3 1 3 1 3 2 3 2 3 1 3 2 3 2 3 1 3 0 3 1 3 0 3-1 3 0 3-1 3-1 3-1 3-1 3 0 3-1 3 1 3 0 3 1 3 2 3 1 3 1 3 2 3 1 3 1 3 0 3 0 3 0 3-1 3-1 3-2 3-2 3-2 3-2 3-2 3-2 3-2 3-1 3-1 3-1 3 0 3 1 3 1 3 1 3 2 3 2 3 2 3 2 3 2 3 2 3 2 3 2"/><path d="M30 387l3-6 3 2 3 35 3 27 3 11 3 2 3 3 3 1 3 0 3 0 3 0 3 0 3-2 3-1 3-1 3-1 3 1 3 1 3 3 3 2 3 4 3 4 3 3 3 4 3 2 3 2 3 2 3 0 3 0 3-2 3-3 3-3 3-3 3-3 3-2 3-2 3 0 3 1 3 1 3 2 3 3 3 3 3 2 3 2 3 1 3 1 3 0 3-1 3-2 3-2 3-1 3-2 3-1 3 0 3 0 3 1 3 2 3 1 3 2 3 2 3 1 3 0 3 0 3-1 3-1 3-2 3-2 3-2 3-2 3-1 3-1 3 1 3 1 3 1 3 3 3 2 3 2 3 2 3 2 3 1 3 0 3-1 3-2 3-1 3-3 3-2 3-2 3-1 3-1 3 0 3 1 3 1 3 1 3 2 3 2 3 1 3 1 3 0 3 0 3-1 3-1 3-2 3-1 3-1 3-1 3 0 3 0 3 1 3 1 3 1 3 1"/><path d="M30 456l3 18 3 0 3-12 3-13 3-13 3-13 3-11 3-8 3-5 3-3 3 1 3 4 3 6 3 9 3 11 3 13 3 14 3 13 3 13 3 12 3 9 3 8 3 5 3 3 3 2 3-1 3-2 3-5 3-5 3-7 3-7 3-7 3-8 3-7 3-7 3-5 3-4 3-4 3-2 3-1 3 0 3 1 3 3 3 3 3 3 3 5 3 4 3 5 3 6 3 5 3 5 3 4 3 4 3 3 3 2 3 2 3 0 3 0 3-2 3-2 3-3 3-4 3-4 3-4 3-5 3-4 3-4 3-4 3-3 3-3 3-2 3-1 3 0 3 1 3 1 3 2 3 3 3 4 3 3 3 5 3 4 3 4 3 4 3 3 3 3 3 2 3 2 3 0 3 0 3 0 3-2 3-2 3-3 3-4 3-3 3-4 3-4 3-4 3-3 3-3 3-3 3-2 3-1 3-1 3 1 3 1 3 1 3 3 3 2 3 3 3 4"/><path d="M30 388l3 9 3 41 3 38 3 14 3-2 3-6 3-10 3-11 3-12 3-9 3-7 3-3 3 0 3 4 3 8 3 9 3 10 3 11 3 9 3 7 3 4 3 1 3-2 3-4 3-6 3-6 3-5 3-4 3-3 3-2 3 1 3 3 3 4 3 4 3 4 3 4 3 3 3 1 3 0 3-1 3-2 3-3 3-3 3-3 3-2 3-1 3 0 3 2 3 2 3 3 3 3 3 3 3 3 3 1 3 0 3-2 3-2 3-4 3-3 3-4 3-3 3-2 3 0 3 1 3 2 3 3 3 4 3 4 3 4 3 2 3 2 3 0 3-2 3-2 3-3 3-3 3-4 3-3 3-2 3 0 3 0 3 2 3 3 3 3 3 3 3 3 3 2 3 2 3 0 3-2 3-2 3-3 3-3 3-4 3-2 3-2 3-1 3 1 3 1 3 3 3 3 3 3 3 2 3 2 3 1 3 0 3-1 3-2 3-3 3-3 3-2"/><path d="M30 412l3-3 3 10 3 31 3 21 3 3 3-5 3-6 3-7 3-7 3-6 3-5 3-3 3-3 3 0 3 2 3 2 3 4 3 6 3 6 3 6 3 6 3 6 3 3 3 4 3 2 3 1 3 1 3 1 3 0 3-1 3-1 3 0 3-1 3-1 3-1 3 0 3-1 3 1 3 0 3 0 3 0 3 0 3 0 3 0 3-1 3 0 3-1 3-1 3-1 3-1 3 0 3-1 3 0 3 0 3 0 3 0 3 1 3 0 3 1 3 1 3 1 3 2 3 1 3 2 3 1 3 2 3 1 3 2 3 1 3 1 3 1 3 0 3 0 3 0 3 0 3 0 3-1 3-1 3-1 3-1 3-1 3-1 3-2 3-1 3-2 3-1 3-1 3-2 3-1 3-1 3-1 3 0 3-1 3 0 3 0 3 0 3 0 3 1 3 1 3 0 3 1 3 1 3 1 3 1 3 1 3 1 3 1 3 1 3 0 3 1 3 0"/><path d="M30 428l3 30 3 13 3 1 3-1 3-4 3-4 3-4 3-4 3-3 3-1 3-2 3 0 3 2 3 2 3 3 3 4 3 5 3 5 3 4 3 4 3 3 3 2 3 1 3 0 3-1 3 0 3-1 3-2 3-2 3-2 3-1 3-2 3-1 3-1 3-1 3 0 3 1 3 1 3 0 3 1 3 1 3 1 3 1 3 0 3 0 3 1 3 0 3-1 3 0 3 0 3-1 3 0 3 0 3 0 3 0 3 0 3 0 3 0 3 0 3 1 3 0 3 1 3 1 3 1 3 0 3 1 3 1 3 1 3 1 3 1 3 0 3 0 3 1 3 0 3 0 3 0 3 0 3-1 3 0 3-1 3 0 3-1 3-1 3-1 3-1 3-1 3-1 3-1 3-1 3-1 3-1 3 0 3-1 3-1 3 0 3 0 3 0 3 0 3 0 3 0 3 1 3 0 3 1 3 1 3 1 3 0 3 1 3 1 3 1 3 1 3 1"/><path d="M30 403l3 26 3 38 3 22 3 3 3-4 3-8 3-10 3-10 3-11 3-8 3-7 3-4 3-1 3 2 3 5 3 6 3 9 3 10 3 9 3 9 3 7 3 5 3 3 3 1 3-1 3-3 3-3 3-4 3-5 3-5 3-3 3-4 3-2 3-1 3 0 3 1 3 2 3 2 3 3 3 2 3 3 3 2 3 2 3 1 3 0 3 0 3-1 3 0 3-1 3-1 3-1 3 0 3 0 3 0 3 0 3 0 3 1 3 0 3 0 3 0 3-1 3 0 3-1 3 0 3-1 3-1 3 0 3 0 3 0 3 1 3 0 3 1 3 1 3 2 3 1 3 1 3 1 3 0 3 0 3 0 3-1 3-1 3-1 3-2 3-1 3-1 3-1 3 0 3-1 3 1 3 0 3 1 3 1 3 1 3 2 3 1 3 0 3 1 3 0 3 0 3-1 3 0 3-1 3-1 3-1 3-1 3-1 3-1 3-1 3 0 3 0"/><path d="M30 394l3 14 3 35 3 24 3 7 3 0 3-3 3-4 3-4 3-5 3-4 3-3 3-2 3 0 3 1 3 2 3 4 3 5 3 5 3 6 3 6 3 5 3 4 3 2 3 2 3 0 3 0 3-2 3-2 3-3 3-4 3-3 3-4 3-4 3-3 3-2 3-1 3-1 3 1 3 1 3 2 3 2 3 3 3 3 3 3 3 3 3 2 3 2 3 2 3 1 3 1 3 0 3-1 3-1 3-1 3-1 3-2 3-2 3-2 3-2 3-1 3-1 3-1 3 0 3 0 3 0 3 1 3 1 3 1 3 1 3 0 3 1 3 0 3 1 3 0 3-1 3 0 3 0 3 0 3-1 3 0 3 0 3 1 3 0 3 1 3 1 3 1 3 0 3 1 3 1 3 1 3 0 3 0 3-1 3 0 3-1 3-2 3-1 3-2 3-2 3-1 3-2 3-1 3 0 3-1 3 0 3 1 3 1 3 1 3 2 3 2 3 2"/><path d="M30 390l3 33 3 31 3 13 3 1 3-1 3-3 3-3 3-3 3-3 3-1 3-1 3 0 3 1 3 2 3 3 3 3 3 4 3 5 3 3 3 4 3 2 3 1 3 1 3 0 3-1 3-1 3-1 3-2 3-2 3-2 3-1 3-1 3-2 3-1 3 0 3 0 3 1 3 1 3 0 3 1 3 2 3 1 3 1 3 0 3 1 3 0 3 1 3 0 3 0 3 0 3 1 3 0 3 0 3 0 3 0 3 1 3 0 3 0 3 0 3 0 3 0 3 0 3 0 3 0 3 1 3 0 3 0 3 0 3 0 3 0 3 0 3 0 3 0 3 0 3 0 3 0 3 0 3 0 3 0 3 0 3 0 3 0 3 0 3 0 3 0 3 0 3 0 3-1 3 0 3-1 3 0 3-1 3 0 3-1 3 0 3-1 3 0 3 0 3 0 3 0 3 0 3 0 3 0 3 0 3 1 3 0 3 0 3 1 3 0 3 0 3 0"/><path d="M30 407l3 37 3 32 3 12 3-1 3-3 3-5 3-6 3-7 3-7 3-5 3-5 3-4 3-2 3 0 3 0 3 3 3 3 3 5 3 5 3 5 3 4 3 3 3 3 3 2 3 1 3 0 3 1 3-1 3-1 3-1 3-1 3-1 3-1 3 0 3-1 3 1 3 1 3 1 3 2 3 2 3 2 3 2 3 2 3 2 3 1 3 1 3 0 3 0 3-1 3-1 3-2 3-1 3-2 3-2 3-2 3-2 3-2 3-2 3-2 3-1 3 0 3 0 3 0 3 1 3 1 3 1 3 2 3 1 3 2 3 1 3 2 3 1 3 1 3 0 3 1 3 0 3 0 3 1 3 0 3 0 3 0 3 0 3 0 3 0 3 0 3 1 3 0 3 0 3 0 3 0 3-1 3-1 3 0 3-1 3-2 3-1 3-2 3-1 3-1 3-2 3-1 3-1 3-1 3 0 3 0 3 1 3 0 3 1 3 1 3 2 3 1"/><path d="M30 418l3 18 3 35 3 23 3 5 3-3 3-5 3-8 3-9 3-9 3-8 3-8 3-7 3-4 3-3 3 0 3 2 3 4 3 6 3 7 3 7 3 8 3 6 3 6 3 5 3 4 3 2 3 2 3 1 3-1 3-2 3-2 3-3 3-3 3-3 3-3 3-2 3-2 3-2 3-1 3-1 3 0 3 0 3 0 3 0 3 1 3 0 3 1 3 1 3 1 3 2 3 1 3 1 3 1 3 2 3 0 3 1 3 0 3-1 3 0 3-1 3-1 3-2 3-1 3 0 3-1 3 0 3 0 3 1 3 1 3 1 3 2 3 1 3 2 3 2 3 1 3 1 3 0 3 0 3-1 3-2 3-2 3-2 3-3 3-2 3-3 3-2 3-2 3-1 3 0 3 0 3 1 3 1 3 2 3 2 3 3 3 2 3 3 3 2 3 2 3 1 3 2 3 0 3 0 3 0 3-1 3-1 3-1 3-2 3-2 3-2 3-2"/><path d="M30 403l3-4 3-1 3 36 3 27 3 7 3-2 3-4 3-6 3-6 3-6 3-4 3-4 3-2 3-1 3 2 3 3 3 4 3 5 3 6 3 6 3 6 3 4 3 3 3 3 3 1 3 0 3-1 3 0 3-2 3-2 3-1 3-1 3-1 3-1 3 1 3 1 3 1 3 2 3 3 3 2 3 3 3 2 3 2 3 1 3 1 3 1 3 0 3 0 3 0 3 0 3 0 3 0 3 0 3 0 3 0 3 0 3 0 3 0 3 0 3-1 3 0 3-1 3-1 3-1 3-1 3-1 3-1 3 0 3-1 3 0 3 0 3 0 3 0 3 0 3 0 3-1 3 0 3-1 3 0 3-1 3-1 3-1 3-1 3 0 3-1 3 0 3 0 3 0 3 0 3 1 3 0 3 1 3 0 3 0 3 0 3 0 3 0 3 0 3 0 3-1 3 0 3 0 3 0 3 1 3 1 3 0 3 1 3 1 3 1 3 0 3 1"/><path d="M30 388l3 1 3 34 3 33 3 13 3-1 3-3 3-4 3-5 3-5 3-4 3-3 3-1 3 0 3 2 3 4 3 4 3 6 3 6 3 7 3 6 3 5 3 3 3 2 3 1 3 0 3-2 3-2 3-2 3-4 3-3 3-3 3-3 3-3 3-1 3-2 3 0 3 1 3 2 3 1 3 3 3 2 3 2 3 3 3 2 3 1 3 1 3 0 3 1 3-1 3 0 3-1 3-1 3-1 3 0 3-1 3 0 3-1 3 0 3 0 3 0 3 1 3 0 3 1 3 0 3 1 3 0 3 0 3 0 3 0 3-1 3 0 3-1 3-1 3-1 3 0 3-1 3 0 3 0 3 0 3 0 3 1 3 1 3 1 3 1 3 1 3 1 3 0 3 1 3 0 3 0 3 0 3 0 3-1 3-1 3 0 3-1 3-1 3 0 3-1 3 0 3 0 3 0 3 0 3 0 3 0 3 1 3 0 3 1 3 0 3 0 3 0"/><path d="M30 456l3 11 3 0 3-1 3-2 3-3 3-4 3-3 3-2 3-1 3-1 3-1 3 1 3 2 3 2 3 4 3 4 3 3 3 4 3 3 3 2 3 2 3 1 3 1 3 0 3 0 3 0 3-1 3 0 3-1 3 0 3 0 3-1 3 0 3 0 3 1 3 0 3 1 3 0 3 1 3 0 3 1 3 0 3-1 3 0 3 0 3-1 3 0 3-1 3 0 3 0 3 0 3 0 3 1 3 0 3 1 3 0 3 1 3 0 3 1 3 0 3 0 3 0 3 0 3 0 3-1 3 0 3-1 3 0 3-1 3-1 3 0 3-1 3 0 3 0 3 0 3 0 3 1 3 0 3 1 3 1 3 1 3 1 3 1 3 0 3 1 3 1 3 0 3 0 3 0 3-1 3 0 3-1 3 0 3-1 3-1 3-1 3-1 3 0 3-1 3-1 3 0 3 0 3 0 3 0 3 0 3 0 3 1 3 0 3 1 3 1 3 0"/><path d="M30 361l3 17 3 32 3 22 3 8 3 5 3 4 3 3 3 3 3 2 3 2 3 1 3 1 3 0 3 1 3 1 3 2 3 2 3 3 3 3 3 3 3 3 3 1 3 1 3 0 3 0 3-2 3-1 3-3 3-3 3-2 3-2 3-2 3-1 3 0 3 1 3 2 3 3 3 3 3 4 3 3 3 3 3 3 3 1 3 0 3-1 3-2 3-2 3-3 3-3 3-3 3-2 3-2 3 0 3 0 3 1 3 1 3 2 3 1 3 2 3 2 3 1 3 1 3 1 3 0 3 0 3 0 3 0 3-1 3 0 3 0 3-1 3 0 3 0 3 0 3-1 3-1 3 0 3-2 3-1 3-1 3-1 3-1 3 0 3 0 3 1 3 2 3 2 3 2 3 3 3 3 3 2 3 2 3 0 3 0 3-1 3-1 3-3 3-3 3-4 3-3 3-3 3-3 3-1 3-1 3 1 3 1 3 2 3 2 3 3 3 3 3 3"/><path d="M30 431l3-10 3 7 3 22 3 8 3-7 3-11 3-10 3-9 3-6 3-4 3 1 3 3 3 6 3 7 3 10 3 9 3 10 3 10 3 9 3 7 3 6 3 3 3 2 3-1 3-1 3-2 3-2 3-2 3-2 3-2 3-1 3-1 3-1 3-1 3-1 3 0 3-1 3-2 3-1 3-2 3-3 3-1 3-2 3-2 3-1 3 0 3 1 3 2 3 3 3 3 3 4 3 4 3 5 3 4 3 3 3 3 3 1 3 0 3-1 3-2 3-3 3-3 3-4 3-4 3-4 3-3 3-2 3-2 3-1 3 1 3 0 3 2 3 2 3 2 3 3 3 2 3 1 3 2 3 1 3 0 3 0 3 0 3-1 3 0 3-1 3 0 3 0 3 0 3 1 3 1 3 1 3 1 3 1 3 0 3 0 3 0 3-1 3-2 3-2 3-3 3-3 3-3 3-3 3-2 3-2 3 0 3 0 3 1 3 2 3 3 3 3"/><path d="M30 390l3 20 3 36 3 22 3 6 3 0 3-3 3-4 3-6 3-5 3-4 3-4 3-3 3-1 3 0 3 1 3 2 3 3 3 5 3 4 3 5 3 4 3 3 3 2 3 2 3 1 3 1 3 1 3 0 3-1 3 0 3 0 3-1 3 0 3 0 3 0 3 1 3 2 3 1 3 2 3 1 3 2 3 2 3 1 3 0 3 1 3 0 3-1 3-1 3-1 3-2 3-1 3-2 3-2 3-2 3-2 3-2 3-2 3-1 3-1 3-1 3-1 3 0 3 1 3 0 3 1 3 1 3 1 3 2 3 1 3 1 3 2 3 1 3 1 3 0 3 1 3 1 3 0 3 1 3 0 3 0 3 0 3 0 3 0 3 0 3 0 3 0 3 0 3-1 3 0 3-1 3 0 3-1 3-1 3-1 3 0 3-1 3-1 3 0 3 0 3 0 3 0 3 0 3 1 3 0 3 1 3 1 3 1 3 1 3 1 3 1 3 1"/></g></g>
<g clip-path="url(#clipA)">
<polyline points="15,24 16,30.5 17,36 18,40.6 19,44.6 20,47.5 21,49.8 22,51.6 23,52.4 24,52.2 25,51.6 26,50.9 27,50 28,48.7 29,47.1 30,45.4 31,44 32,42.8 33,41.5 34,40.3 35,39.2 36,38.2 37,37.2 38,36.5 39,35.9 40,35.2 41,34.7 42,34.2 43,33.9 44,33.6 45,33.4 46,33.3 47,33.1 48,33.1 49,33.1 50,33.3 51,33.6 52,33.9 53,34.2 54,34.6 55,35 56,35.5 57,36.1 58,36.7 59,37.5 60,38.2 61,38.9 62,39.5 63,40.1 64,40.7 65,41.3 66,41.8 67,42.3 68,42.6 69,42.9 70,43.2 71,43.4 72,43.5 73,43.6 74,43.6 75,43.6 76,43.5 77,43.4 78,43.4 79,43.3 80,43.2 81,43.1 82,42.8 83,42.6 84,42.2 85,41.9 86,41.5 87,41.2 88,40.8 89,40.5 90,40.2 91,39.9 92,39.7 93,39.4 94,39.2 95,39 96,38.8 97,38.6 98,38.5 99,38.4 100,38.3 101,38.2 102,38.2 103,38.1 104,38.1 105,38.1 106,38.2 107,38.3 108,38.4 109,38.6 110,38.7 111,38.9 112,39 113,39.2 114,39.3 115,39.5 116,39.7 117,39.9 118,40.1 119,40.3 120,40.5 121,40.7 122,40.8 123,40.9 124,41 125,41.2 126,41.3 127,41.4 128,41.5 129,41.6 130,41.7 131,41.7 132,41.8 133,41.8 134,41.8 135,41.8 136,41.8 137,41.8 138,41.7 139,41.7 140,41.7 141,41.6 142,41.6 143,41.6 144,41.5 145,41.5 146,41.5 147,41.4 148,41.4 149,41.3 150,41.3 151,41.2 152,41.2 153,41.1 154,41.1 155,41 156,41 157,40.9 158,40.9 159,40.8 160,40.8 161,40.8 162,40.7 163,40.7 164,40.7 165,40.6 166,40.6 167,40.6 168,40.5 169,40.5 170,40.5 171,40.4 172,40.4 173,40.4 174,40.4 175,40.3 176,40.3 177,40.3 178,40.3 179,40.3 180,40.2 181,40.2 182,40.2" stroke="#0c0cf2" stroke-width="1.6" fill="none" stroke-linejoin="round"/>
</g>
<g clip-path="url(#clipA)">
<polyline points="15,66 16,67.8 17,69.4 18,71 19,72.5 20,73.9 21,75.4 22,76.6 23,77.5 24,78.2 25,78.8 26,79.2 27,79.4 28,79.3 29,79 30,78.6 31,78 32,77.5 33,76.8 34,75.8 35,74.7 36,73.5 37,72.4 38,71.5 39,70.7 40,70 41,69.3 42,68.6 43,68 44,67.5 45,67 46,66.5 47,66 48,65.7 49,65.4 50,65.3 51,65.4 52,65.6 53,66 54,66.5 55,67 56,67.5 57,68.2 58,69.1 59,70.1 60,71.3 61,72.4 62,73.5 63,74.6 64,75.8 65,77 66,78.2 67,79.2 68,80.1 69,80.8 70,81.5 71,82.1 72,82.7 73,83.2 74,83.5 75,83.6 76,83.6 77,83.5 78,83.3 79,83.2 80,82.9 81,82.7 82,82.5 83,82.2 84,81.9 85,81.5 86,81 87,80.5 88,80 89,79.4 90,78.9 91,78.4 92,77.9 93,77.5 94,77.1 95,76.7 96,76.3 97,76 98,75.6 99,75.3 100,75 101,74.7 102,74.6 103,74.5 104,74.5 105,74.5 106,74.6 107,74.6 108,74.7 109,74.8 110,74.8 111,74.9 112,75 113,75.1 114,75.2 115,75.4 116,75.6 117,75.8 118,76 119,76.3 120,76.5 121,76.7 122,76.9 123,77.2 124,77.3 125,77.5 126,77.7 127,77.8 128,78 129,78.1 130,78.3 131,78.5 132,78.6 133,78.7 134,78.9 135,79 136,79.1 137,79.2 138,79.2 139,79.3 140,79.3 141,79.3 142,79.3 143,79.3 144,79.3 145,79.3 146,79.3 147,79.3 148,79.3 149,79.3 150,79.3 151,79.3 152,79.3 153,79.3 154,79.3 155,79.3 156,79.3 157,79.3 158,79.3 159,79.3 160,79.3 161,79.3 162,79.3 163,79.3 164,79.3 165,79.3 166,79.3 167,79.3 168,79.4 169,79.4 170,79.4 171,79.4 172,79.4 173,79.4 174,79.4 175,79.5 176,79.5 177,79.5 178,79.5 179,79.5 180,79.6 181,79.6 182,79.6" stroke="#0c0cf2" stroke-width="1.6" fill="none" stroke-linejoin="round"/>
</g>
<g clip-path="url(#clipA)">
<polyline points="15,111.5 16,111.7 17,111.8 18,111.9 19,112 20,112 21,112 22,111.8 23,111.6 24,111.4 25,111.1 26,110.8 27,110.4 28,110 29,109.4 30,108.9 31,108.3 32,107.8 33,107.3 34,106.8 35,106.3 36,105.9 37,105.5 38,105.2 39,105 40,104.7 41,104.5 42,104.4 43,104.3 44,104.2 45,104.2 46,104.4 47,104.7 48,105 49,105.4 50,105.8 51,106.3 52,106.8 53,107.5 54,108.2 55,108.9 56,109.5 57,110.1 58,110.8 59,111.4 60,112 61,112.4 62,112.7 63,113 64,113.3 65,113.5 66,113.7 67,113.8 68,113.8 69,113.8 70,113.7 71,113.7 72,113.6 73,113.6 74,113.5 75,113.4 76,113.3 77,113.3 78,113.2 79,113.1 80,113 81,112.9 82,112.8 83,112.7 84,112.6 85,112.5 86,112.4 87,112.3 88,112.3 89,112.3 90,112.3 91,112.3 92,112.4 93,112.4 94,112.5 95,112.6 96,112.6 97,112.7 98,112.8 99,112.8 100,112.9 101,113 102,113 103,113.1 104,113.2 105,113.2 106,113.3 107,113.4 108,113.5 109,113.5 110,113.6 111,113.7 112,113.7 113,113.8 114,113.9 115,113.9 116,114 117,114.1 118,114.1 119,114.2 120,114.2 121,114.2 122,114.3 123,114.3 124,114.3 125,114.4 126,114.4 127,114.4 128,114.5 129,114.5 130,114.5 131,114.6 132,114.6 133,114.6 134,114.6 135,114.7 136,114.7 137,114.7 138,114.7 139,114.8 140,114.8 141,114.8 142,114.8 143,114.9 144,114.9 145,114.9 146,114.9 147,114.9 148,115 149,115 150,115 151,115 152,115 153,115.1 154,115.1 155,115.1 156,115.1 157,115.1 158,115.2 159,115.2 160,115.2 161,115.2 162,115.2 163,115.2 164,115.3 165,115.3 166,115.3 167,115.3 168,115.3 169,115.3 170,115.4 171,115.4 172,115.4 173,115.4 174,115.4 175,115.4 176,115.4 177,115.4 178,115.5 179,115.5 180,115.5 181,115.5 182,115.5" stroke="#0c0cf2" stroke-width="1.6" fill="none" stroke-linejoin="round"/>
</g>
<g clip-path="url(#clipA)">
<polyline points="15,124.5 16,131.2 17,136.5 18,140.5 19,142.9 20,144 21,143.8 22,143.4 23,142.9 24,141.9 25,140.9 26,140.2 27,139.6 28,139.2 29,139 30,139.3 31,140 32,140.8 33,141.6 34,142.5 35,143.6 36,144.5 37,145.2 38,145.7 39,146.2 40,146.7 41,147.1 42,147.4 43,147.6 44,147.7 45,147.7 46,147.6 47,147.4 48,147.2 49,147 50,146.8 51,146.5 52,146.2 53,145.9 54,145.5 55,145.3 56,145.1 57,144.9 58,144.8 59,144.6 60,144.6 61,144.6 62,144.8 63,144.9 64,145.1 65,145.3 66,145.5 67,145.6 68,145.8 69,145.9 70,146.1 71,146.2 72,146.4 73,146.5 74,146.6 75,146.6 76,146.6 77,146.6 78,146.7 79,146.7 80,146.7 81,146.7 82,146.7 83,146.8 84,146.8 85,146.8 86,146.8 87,146.8 88,146.8 89,146.8 90,146.9 91,146.9 92,146.9 93,146.9 94,146.9 95,146.9 96,146.9 97,146.9 98,146.9 99,146.9 100,146.9 101,146.9 102,146.9 103,146.9 104,146.9 105,146.9 106,146.9 107,146.9 108,146.9 109,146.9 110,146.9 111,146.9 112,146.8 113,146.8 114,146.8 115,146.8 116,146.8 117,146.8 118,146.8 119,146.8 120,146.8 121,146.8 122,146.7 123,146.7 124,146.7 125,146.7 126,146.7 127,146.7 128,146.7 129,146.7 130,146.7 131,146.7 132,146.6 133,146.6 134,146.6 135,146.6 136,146.6 137,146.6 138,146.6 139,146.6 140,146.6 141,146.6 142,146.6 143,146.6 144,146.6 145,146.6 146,146.6 147,146.6 148,146.6 149,146.6 150,146.6 151,146.6 152,146.6 153,146.6 154,146.6 155,146.5 156,146.5 157,146.5 158,146.5 159,146.5 160,146.5 161,146.5 162,146.5 163,146.5 164,146.5 165,146.5 166,146.5 167,146.5 168,146.5 169,146.5 170,146.5 171,146.5 172,146.5 173,146.5 174,146.5 175,146.5 176,146.5 177,146.5 178,146.5 179,146.5 180,146.5 181,146.5 182,146.5" stroke="#0c0cf2" stroke-width="1.6" fill="none" stroke-linejoin="round"/>
</g>
<g clip-path="url(#clipA)">
<polyline points="15,150 16,159.7 17,167.9 18,174.9 19,180.9 20,186.1 21,189.5 22,192.1 23,193.4 24,193.2 25,192.7 26,191.9 27,191 28,189.7 29,188.1 30,186.5 31,185 32,183.6 33,182.3 34,181.1 35,180.3 36,179.7 37,179.3 38,179 39,179.1 40,179.4 41,180 42,180.8 43,181.5 44,182.3 45,183.4 46,184.5 47,185.7 48,186.8 49,187.8 50,188.7 51,189.6 52,190.4 53,191.1 54,191.6 55,191.9 56,192.2 57,192.4 58,192.6 59,192.6 60,192.5 61,192.3 62,192.1 63,191.8 64,191.5 65,191.3 66,191.1 67,190.8 68,190.6 69,190.4 70,190.3 71,190.3 72,190.3 73,190.3 74,190.3 75,190.3 76,190.5 77,190.7 78,191 79,191.4 80,191.7 81,191.9 82,192.1 83,192.3 84,192.4 85,192.6 86,192.8 87,192.9 88,193.1 89,193.2 90,193.3 91,193.4 92,193.4 93,193.4 94,193.4 95,193.5 96,193.5 97,193.5 98,193.5 99,193.5 100,193.5 101,193.5 102,193.6 103,193.6 104,193.6 105,193.6 106,193.6 107,193.6 108,193.6 109,193.6 110,193.6 111,193.6 112,193.6 113,193.6 114,193.6 115,193.6 116,193.6 117,193.6 118,193.6 119,193.6 120,193.5 121,193.5 122,193.5 123,193.5 124,193.5 125,193.5 126,193.5 127,193.5 128,193.5 129,193.5 130,193.5 131,193.4 132,193.4 133,193.4 134,193.4 135,193.4 136,193.4 137,193.4 138,193.4 139,193.4 140,193.4 141,193.4 142,193.4 143,193.4 144,193.4 145,193.4 146,193.4 147,193.5 148,193.5 149,193.5 150,193.5 151,193.5 152,193.5 153,193.6 154,193.6 155,193.6 156,193.6 157,193.6 158,193.6 159,193.7 160,193.7 161,193.7 162,193.7 163,193.7 164,193.7 165,193.7 166,193.7 167,193.7 168,193.7 169,193.7 170,193.7 171,193.6 172,193.6 173,193.6 174,193.6 175,193.5 176,193.5 177,193.5 178,193.4 179,193.4 180,193.4 181,193.3 182,193.3" stroke="#0c0cf2" stroke-width="1.6" fill="none" stroke-linejoin="round"/>
</g>
<g clip-path="url(#clipA)">
<polyline points="15,194 16,205.4 17,218.7 18,227.3 19,232.2 20,233.2 21,232.9 22,232.5 23,231.7 24,230.5 25,229.1 26,227.9 27,226.5 28,225.3 29,224.4 30,223.9 31,223.4 32,223.1 33,223 34,223.2 35,223.8 36,224.8 37,225.8 38,226.9 39,228.3 40,229.9 41,231.7 42,233.4 43,235 44,236.5 45,238 46,239.3 47,240.2 48,240.8 49,241.3 50,241.6 51,241.7 52,241.6 53,241.4 54,241.1 55,240.8 56,240.4 57,239.8 58,239.2 59,238.5 60,237.8 61,237.3 62,236.8 63,236.4 64,235.9 65,235.5 66,235.2 67,235 68,234.9 69,235 70,235.2 71,235.5 72,235.8 73,236.2 74,236.5 75,236.9 76,237.3 77,237.8 78,238.3 79,238.7 80,239 81,239.2 82,239.5 83,239.7 84,239.8 85,239.9 86,240 87,240 88,240 89,239.9 90,239.9 91,239.8 92,239.7 93,239.6 94,239.6 95,239.5 96,239.4 97,239.3 98,239.2 99,239.1 100,239 101,238.9 102,238.8 103,238.7 104,238.6 105,238.5 106,238.5 107,238.4 108,238.4 109,238.4 110,238.4 111,238.5 112,238.5 113,238.6 114,238.7 115,238.8 116,238.8 117,238.9 118,239 119,239.1 120,239.1 121,239.1 122,239.2 123,239.2 124,239.2 125,239.3 126,239.3 127,239.3 128,239.4 129,239.4 130,239.4 131,239.5 132,239.5 133,239.5 134,239.5 135,239.6 136,239.6 137,239.6 138,239.6 139,239.6 140,239.6 141,239.6 142,239.6 143,239.6 144,239.5 145,239.5 146,239.5 147,239.5 148,239.4 149,239.4 150,239.3 151,239.3 152,239.3 153,239.2 154,239.2 155,239.1 156,239.1 157,239.1 158,239 159,239 160,239 161,239 162,239 163,239 164,238.9 165,238.9 166,238.9 167,238.9 168,238.9 169,238.9 170,238.9 171,238.9 172,238.9 173,238.8 174,238.8 175,238.8 176,238.8 177,238.8 178,238.8 179,238.8 180,238.8 181,238.8 182,238.8" stroke="#0c0cf2" stroke-width="1.6" fill="none" stroke-linejoin="round"/>
</g>
<rect x="15.0" y="0.5" width="167.0" height="259.9" fill="none" stroke="#a8a8a8" stroke-width="1"/>
<line x1="15" y1="260.4" x2="15" y2="263" stroke="#a8a8a8" stroke-width="1"/>
<text x="15.6" y="278.4" font-size="12.8" fill="#1a1a1a" text-anchor="middle">0</text>
<line x1="70.7" y1="260.4" x2="70.7" y2="263" stroke="#a8a8a8" stroke-width="1"/>
<text x="71.3" y="278.4" font-size="12.8" fill="#1a1a1a" text-anchor="middle">5</text>
<line x1="126.3" y1="260.4" x2="126.3" y2="263" stroke="#a8a8a8" stroke-width="1"/>
<text x="126.9" y="278.4" font-size="12.8" fill="#1a1a1a" text-anchor="middle">10</text>
<line x1="182" y1="260.4" x2="182" y2="263" stroke="#a8a8a8" stroke-width="1"/>
<text x="182.6" y="278.4" font-size="12.8" fill="#1a1a1a" text-anchor="middle">15</text>
<line x1="42.8" y1="260.4" x2="42.8" y2="262.2" stroke="#a8a8a8" stroke-width="1"/>
<line x1="98.5" y1="260.4" x2="98.5" y2="262.2" stroke="#a8a8a8" stroke-width="1"/>
<line x1="154.2" y1="260.4" x2="154.2" y2="262.2" stroke="#a8a8a8" stroke-width="1"/>
<text x="98.5" y="291.2" font-size="12.8" fill="#1a1a1a" text-anchor="middle"><tspan font-style="italic">z</tspan> (Å)</text>
<text x="10" y="128" font-size="12.8" fill="#1a1a1a" text-anchor="middle" transform="rotate(-90 10 128)">Force (nN)</text>
<text x="2.4" y="9.5" font-size="14.6" fill="#000" font-weight="bold">a</text>
<line x1="28.9" y1="3.8" x2="28.9" y2="29.4" stroke="#555" stroke-width="1.1"/>
<line x1="26.2" y1="3.8" x2="31.8" y2="3.8" stroke="#555" stroke-width="1.1"/>
<line x1="26.2" y1="29.4" x2="31.8" y2="29.4" stroke="#555" stroke-width="1.1"/>
<text x="32.2" y="21.6" font-size="12.8" fill="#1a1a1a">0.1</text>
<line x1="48.5" y1="29.7" x2="48.5" y2="39" stroke="#111" stroke-width="0.9"/>
<line x1="104.5" y1="29.7" x2="104.5" y2="40.7" stroke="#111" stroke-width="0.9"/>
<line x1="50.5" y1="31.5" x2="102.5" y2="31.5" stroke="#111" stroke-width="0.9"/>
<polygon points="49,31.5 52.8,30 52.8,33" stroke="none" stroke-width="1" fill="#111"/>
<polygon points="104,31.5 100.2,33 100.2,30" stroke="none" stroke-width="1" fill="#111"/>
<text x="77" y="28.9" font-size="12" fill="#1a1a1a" text-anchor="middle">5.1 Å</text>
<line x1="50.2" y1="61.7" x2="50.2" y2="71" stroke="#111" stroke-width="0.9"/>
<line x1="103.3" y1="61.7" x2="103.3" y2="72.7" stroke="#111" stroke-width="0.9"/>
<line x1="52.2" y1="63.5" x2="101.3" y2="63.5" stroke="#111" stroke-width="0.9"/>
<polygon points="50.7,63.5 54.5,62 54.5,65" stroke="none" stroke-width="1" fill="#111"/>
<polygon points="102.8,63.5 99,65 99,62" stroke="none" stroke-width="1" fill="#111"/>
<text x="77.2" y="60.9" font-size="12" fill="#1a1a1a" text-anchor="middle">4.8 Å</text>
<line x1="44.2" y1="100.7" x2="44.2" y2="110" stroke="#111" stroke-width="0.9"/>
<line x1="88.8" y1="100.7" x2="88.8" y2="111.7" stroke="#111" stroke-width="0.9"/>
<line x1="46.2" y1="102.5" x2="86.8" y2="102.5" stroke="#111" stroke-width="0.9"/>
<polygon points="44.7,102.5 48.5,101 48.5,104" stroke="none" stroke-width="1" fill="#111"/>
<polygon points="88.3,102.5 84.5,104 84.5,101" stroke="none" stroke-width="1" fill="#111"/>
<text x="67" y="99.9" font-size="12" fill="#1a1a1a" text-anchor="middle">4.0 Å</text>
<line x1="28.9" y1="134.7" x2="28.9" y2="144" stroke="#111" stroke-width="0.9"/>
<line x1="60" y1="134.7" x2="60" y2="145.7" stroke="#111" stroke-width="0.9"/>
<line x1="30.9" y1="136.5" x2="58" y2="136.5" stroke="#111" stroke-width="0.9"/>
<polygon points="29.4,136.5 33.2,135 33.2,138" stroke="none" stroke-width="1" fill="#111"/>
<polygon points="59.5,136.5 55.7,138 55.7,135" stroke="none" stroke-width="1" fill="#111"/>
<text x="45" y="133.9" font-size="12" fill="#1a1a1a" text-anchor="middle">2.8 Å</text>
<line x1="38.4" y1="174.7" x2="38.4" y2="184" stroke="#111" stroke-width="0.9"/>
<line x1="74.4" y1="174.7" x2="74.4" y2="185.7" stroke="#111" stroke-width="0.9"/>
<line x1="40.4" y1="176.5" x2="72.4" y2="176.5" stroke="#111" stroke-width="0.9"/>
<polygon points="38.9,176.5 42.7,175 42.7,178" stroke="none" stroke-width="1" fill="#111"/>
<polygon points="73.9,176.5 70.1,178 70.1,175" stroke="none" stroke-width="1" fill="#111"/>
<text x="56.9" y="173.9" font-size="12" fill="#1a1a1a" text-anchor="middle">3.2 Å</text>
<line x1="33.1" y1="218.7" x2="33.1" y2="228" stroke="#111" stroke-width="0.9"/>
<line x1="67.8" y1="218.7" x2="67.8" y2="229.7" stroke="#111" stroke-width="0.9"/>
<line x1="35.1" y1="220.5" x2="65.8" y2="220.5" stroke="#111" stroke-width="0.9"/>
<polygon points="33.6,220.5 37.4,219 37.4,222" stroke="none" stroke-width="1" fill="#111"/>
<polygon points="67.3,220.5 63.5,222 63.5,219" stroke="none" stroke-width="1" fill="#111"/>
<text x="51" y="217.9" font-size="12" fill="#1a1a1a" text-anchor="middle">3.1 Å</text>
<text x="174.6" y="16.6" font-size="12.8" fill="#1a1a1a" text-anchor="end">OCP (0.36 V)</text>
<text x="135.6" y="31.3" font-size="12.7" fill="#1a1a1a" text-anchor="middle">90 min</text>
<text x="157.3" y="68.3" font-size="12.5" fill="#1a1a1a" text-anchor="end">−0.28 V</text>
<text x="157.3" y="107.5" font-size="12.5" fill="#1a1a1a" text-anchor="end">−0.78 V</text>
<text x="157.3" y="138" font-size="12.5" fill="#1a1a1a" text-anchor="end">−1.28 V</text>
<text x="157.3" y="186.4" font-size="12.5" fill="#1a1a1a" text-anchor="end">−1.78 V</text>
<text x="149" y="229.8" font-size="12.5" fill="#1a1a1a" text-anchor="end">OCP</text>
<text x="178.3" y="139" font-size="10.8" fill="#1a1a1a" text-anchor="end">×4</text>
<text x="178.3" y="187.2" font-size="10.8" fill="#1a1a1a" text-anchor="end">×4</text>
<text x="178.3" y="231.6" font-size="10.8" fill="#1a1a1a" text-anchor="end">×4</text>
<text x="201.6" y="9" font-size="14.6" fill="#000" font-weight="bold">c</text>
<path d="M850 192l2 2 2 0 3 4 2-1 3 1 2 2 2 0 3-1 2-2 3-1 2-1 2 1 3 1 2-3 3-1 2 3 2-5 3 3 2 1 3-4 2 0 2 0 3 3 2-3 3-5 2 3 2 3 3-1 2-2 3-3 2-5 2 4 3-3 2-1 3 0 2-7 2-4 3-1 2-3 3-2 2-1 2 4 3-1 2-2 3 4 2-2 2-5 3 4 2-4 3-5 2 3 2-3 3-1 2 2 3-7 2 1 2 1 3 1 2-4 3-2 2-1 2 2 3 1 2-6 3-3 2 3 2-2 3-3 2 2 3-1 2-5 2 0 3 4 2 2 3 1 2 8 2 2 3 6 2-1 3 2 2 3 2-1 3 0 2-1 3 8 2-1 2-6 3 2 2 4 3-2 2 2 2 3 3-1 2 0 3 0 2 1 2 1 3 4 2-2 3-2 2 4 2 0 3-2 2 5 3 3 2-4 2 3 3-4 2 0 3-4 2 6 2-6 3-3 2-6 3-5 2 5 2-5 3 4 2-5 3 3 2-7 2-3 3 4 2-3 3-1 2 1 2-6 3-4 2-2 3-5 2-3 2-3 3-5 2-5 3-8 2-3 2-3 3-4 2 1 3-3 2 2 2 0 3-6 2-7 3-5 2-12 2-2 3 5 2 14 3-1 2 5 2-3 3-2 2-9 3-25 2-23 2 2 3 28 2 20 3 6 2-3 2 6 3 0 2-5 3 0 2 1 2 13 3 0 2 11 3 8 2 14 2 16 3 6 2 5 3 3 2-9 2-8 3-6 2-1 3 20 2 4 2 14 3 3 2 6 3 2 2 6 2 0 3-1 2-2 3 7 2 1 2 0 3-2 2 2 3 0 2-1 2 3 3-4 2 2 3-3 2 9 2-5 3 4 2 2 3-3 2 3 2 3 3 0 2 1 3 1 2 0 2 1 3 2 2 0 3 1 2-2 2-2 3 3 2-1 3 1 2-2 2 1 3 0 2 0 3-4 2 2 2 1 3 3 2-4 3 1 2-1 2-5 3 8 2-1 3 1 2-6 2 5 3-1 2-4 3 5 2-2 2 3 3-5 2 2 3 0 2-2 2 4 3 3 2-3 3 1 2 2 2-2 3-3 2-3 3 5 2-2 2 0 3 3 2-1 3-5 2 4 2-1 3 3 2-2 3 2 2-4 2 1 3 0 2 1 3 0 2 3 2-5" transform="scale(0.25)" stroke="#111" stroke-width="3.8" fill="none" stroke-linejoin="round"/>
<path d="M850 315l2 4 2 0 3-4 2 1 3-1 2 3 2-1 3 2 2-7 3 9 2-4 2 2 3-3 2-1 3 2 2 0 2-3 3 0 2 1 3-4 2-2 2 5 3-3 2-4 3 3 2 0 2-2 3-1 2 4 3 2 2-3 2-2 3 3 2 0 3-2 2 1 2 1 3-3 2-2 3 2 2 0 2 1 3-7 2 1 3-2 2-4 2 3 3-1 2-6 3 3 2-5 2-3 3-2 2 0 3-7 2 4 2-1 3-7 2 4 3-2 2 1 2-4 3-1 2 0 3-4 2 3 2-3 3 0 2-3 3 3 2-2 2-3 3 2 2 2 3 2 2-8 2 8 3-1 2-1 3-2 2 7 2-7 3 5 2 2 3-7 2 4 2-3 3 4 2 4 3 2 2-10 2 4 3 3 2 3 3-2 2-3 2 3 3 0 2-1 3-1 2 3 2 0 3-1 2 0 3-3 2 2 2 4 3-4 2-3 3 7 2-2 2 4 3-6 2-1 3-3 2 7 2 3 3-8 2 0 3 3 2-4 2 2 3-1 2 1 3 0 2-6 2-2 3-8 2-3 3-10 2 6 2 12 3-1 2 3 3 0 2 2 2-1 3 0 2-3 3-2 2-3 2-2 3-6 2-1 3-2 2-2 2-5 3-7 2 1 3-3 2-2 2-5 3-7 2-3 3 4 2-5 2 3 3 4 2-3 3 6 2 4 2 2 3 3 2 2 3 4 2 0 2 9 3 3 2 8 3 4 2 9 2 5 3 3 2 5 3 3 2 3 2 5 3 3 2 5 3 2 2 4 2-4 3 8 2-3 3 1 2 2 2 0 3 3 2-2 3 0 2 1 2 6 3-3 2-3 3 4 2-4 2 9 3-8 2 5 3 1 2-5 2 5 3 2 2-2 3 0 2 2 2-2 3 1 2-1 3 2 2-4 2 4 3-3 2-1 3 3 2 4 2-2 3-4 2 4 3-3 2 1 2 0 3-6 2 7 3-3 2 1 2-2 3-1 2 2 3 5 2 2 2-4 3 3 2-4 3-4 2 5 2 1 3-2 2 2 3 0 2-3 2-2 3 4 2 0 3-1 2 4 2 2 3-6 2 3 3 1 2-1 2 1 3-4 2 3 3 4 2-3 2-4 3 3 2 2 3-2 2-3 2 6 3-7 2 4 3-1 2-3 2 6 3-2 2-4 3 5 2-3 2-4" transform="scale(0.25)" stroke="#111" stroke-width="3.8" fill="none" stroke-linejoin="round"/>
<path d="M850 457l2 9 2-1 3 1 2 8 3-22 2 6 2-5 3 11 2 9 3-7 2 5 2-19 3 17 2-7 3 22 2-7 2 1 3-7 2 6 3 1 2-7 2-1 3 3 2-3 3 1 2 2 2-3 3 12 2-18 3 19 2-11 2 0 3-6 2 9 3-1 2 3 2-6 3 4 2 13 3-12 2-9 2 12 3-10 2 5 3 0 2-9 2-13 3 12 2 6 3-8 2 5 2 4 3-13 2 13 3 2 2-5 2-1 3-1 2 8 3-17 2-3 2 4 3-13 2-6 3 4 2 9 2 0 3-17 2-4 3 13 2 0 2 2 3 6 2 5 3-8 2 4 2-13 3 0 2 12 3 4 2 1 2-1 3 2 2 1 3-20 2 9 2 10 3 1 2-16 3 22 2-13 2 2 3 5 2 4 3-17 2 20 2-7 3-6 2 4 3-14 2 12 2 7 3-6 2 3 3 2 2 1 2 8 3-9 2-2 3 6 2 12 2-21 3 6 2-17 3 22 2-6 2 4 3-12 2-9 3 14 2-3 2-14 3-7 2 14 3-7 2 19 2-24 3 1 2 4 3-12 2 8 2 23 3-12 2 2 3 3 2 20 2 3 3-1 2-4 3 4 2-5 2-15 3 4 2-26 3 2 2 3 2-4 3-13 2 6 3-1 2-15 2-13 3-8 2-18 3-27 2-4 2 14 3-8 2 23 3 12 2 12 2 16 3 18 2 8 3 5 2-11 2 13 3 8 2 7 3 0 2 3 2 2 3-1 2-13 3 7 2-5 2-13 3 5 2 31 3-26 2-9 2 13 3 17 2-13 3 4 2-6 2 2 3 11 2-4 3-7 2 7 2 2 3-11 2 4 3 0 2-8 2 14 3-11 2-4 3-8 2 3 2 21 3-21 2 12 3-7 2 7 2 0 3-12 2 4 3 2 2 0 2-2 3-3 2 7 3 4 2-6 2-11 3 8 2-3 3 2 2 11 2-17 3 1 2-8 3 5 2-3 2 17 3-11 2-7 3 19 2-26 2 17 3 0 2-4 3-7 2 1 2-2 3 8 2-25 3 14 2 4 2-6 3-11 2 12 3-4 2 12 2 4 3-12 2-16 3 13 2-6 2 12 3 7 2-11 3 13 2-5 2-7 3-13 2 8 3-13 2 19 2-8 3 10 2-10 3-18 2 20 2 2 3 5 2-22 3 0 2 7 2-9" transform="scale(0.25)" stroke="#111" stroke-width="3.8" fill="none" stroke-linejoin="round"/>
<path d="M850 614l2-28 2 23 3-6 2 9 3-7 2 11 2-12 3-4 2 8 3-1 2-5 2 1 3 7 2 1 3-8 2 1 2-9 3 24 2-12 3 11 2-6 2 11 3-2 2-8 3 9 2-17 2 16 3-19 2 13 3 5 2-5 2-4 3-3 2 3 3 10 2-1 2-8 3-7 2 14 3-15 2 7 2-2 3 10 2-3 3 2 2-2 2-6 3 8 2 6 3-10 2 4 2-5 3 8 2-3 3 2 2-4 2 9 3-14 2 0 3-2 2 8 2-9 3 0 2 9 3 3 2-4 2-20 3 9 2-1 3-1 2 5 2 15 3-14 2-3 3 10 2-5 2 0 3-5 2 4 3 3 2-16 2 2 3 18 2-1 3-10 2-3 2 5 3-7 2 6 3 14 2-11 2 7 3-9 2 4 3 7 2-19 2 7 3 1 2 3 3 9 2-6 2-15 3 9 2-5 3 0 2 20 2-21 3 9 2-6 3 11 2-4 2-1 3-1 2 8 3-14 2 1 2-2 3 16 2-11 3-5 2 5 2 18 3-16 2 6 3-3 2-3 2-5 3 3 2 0 3-13 2 30 2-9 3-6 2-2 3-4 2 11 2-8 3 5 2-13 3 12 2 10 2-16 3 8 2-6 3 6 2-1 2-9 3-6 2 4 3-5 2-12 2-2 3-11 2-22 3-11 2-5 2-6 3 10 2 29 3-7 2-3 2 10 3 8 2 17 3 9 2-17 2 25 3-13 2 13 3 3 2 1 2-2 3 1 2-8 3 10 2 5 2 0 3 10 2-8 3-3 2 7 2-10 3-10 2-6 3 24 2-5 2 2 3-8 2 5 3 10 2-11 2-9 3 4 2 13 3-17 2-9 2 0 3 7 2 14 3-5 2-5 2-4 3 8 2 0 3-3 2 2 2-4 3 18 2-28 3 16 2-8 2 12 3-7 2 4 3 1 2-2 2 5 3-17 2 16 3-8 2 3 2 8 3-4 2 6 3-29 2 8 2 13 3-15 2 6 3 12 2-6 2-13 3 10 2 0 3-4 2-2 2 2 3-12 2 10 3-7 2 8 2 0 3-9 2 9 3-2 2-3 2 4 3-7 2-1 3 2 2-1 2 7 3-24 2 13 3-12 2 10 2 4 3-2 2 6 3-6 2-18 2 7 3 17 2 0 3-11 2-12 2 24 3-30 2 15 3-3 2 1 2-11" transform="scale(0.25)" stroke="#111" stroke-width="3.8" fill="none" stroke-linejoin="round"/>
<path d="M850 804l2-10 2-4 3-4 2 12 3 11 2-8 2 3 3 3 2-12 3 21 2-20 2 8 3 12 2-15 3 1 2-4 2 6 3-16 2 10 3 15 2-10 2-2 3 3 2 1 3-2 2 3 2-14 3 14 2-8 3 9 2-5 2-6 3 6 2-6 3 13 2-7 2 6 3-12 2 17 3-12 2 10 2-3 3-12 2 9 3-6 2 6 2 7 3-5 2 3 3-15 2 9 2 1 3 4 2-11 3 8 2-1 2-13 3 3 2 9 3-10 2-1 2 13 3-4 2-3 3 2 2-4 2-1 3 0 2 6 3 5 2-11 2 2 3-1 2-7 3 10 2 4 2-11 3 10 2-9 3 11 2 1 2-11 3-10 2 11 3-7 2 0 2 7 3 11 2-10 3-1 2-10 2 8 3-5 2 12 3-7 2 4 2 0 3-1 2 7 3-3 2-5 2 3 3 2 2 6 3-8 2 8 2-13 3 2 2-8 3 15 2-12 2 0 3 12 2-9 3-1 2 10 2-7 3 7 2-9 3 7 2 2 2-7 3 11 2-14 3 1 2 1 2 6 3-9 2-1 3 4 2 6 2-11 3-6 2 7 3 4 2-8 2 4 3-14 2 12 3 0 2 2 2-2 3 2 2-13 3 9 2-16 2 5 3 8 2-5 3-22 2 10 2-13 3-11 2-3 3-9 2 1 2-27 3-2 2-6 3-17 2 14 2 1 3-12 2 13 3 3 2 12 2 2 3 17 2-5 3 23 2 0 2 20 3-19 2 17 3-2 2 12 2 7 3-6 2 0 3 0 2 14 2 9 3 0 2-7 3-6 2 5 2-7 3 0 2 17 3-8 2 4 2-3 3 10 2 1 3-14 2 3 2-2 3 13 2 0 3-10 2 17 2-14 3-8 2-5 3 12 2 3 2-6 3 7 2 5 3-8 2 6 2 6 3-8 2-7 3 7 2 1 2 10 3-16 2-7 3 12 2 0 2-5 3 7 2-2 3 6 2-13 2 1 3 4 2-3 3 12 2-5 2-4 3 10 2-6 3 3 2-1 2-6 3 0 2 1 3-7 2 5 2 7 3-3 2-8 3 21 2-22 2 11 3 1 2 3 3-14 2 6 2-1 3 8 2-5 3 0 2 1 2 9 3-8 2 1 3-11 2 10 2-13 3 14 2-5 3-6 2-2 2 6 3 2 2-5 3 2 2 0 2-2" transform="scale(0.25)" stroke="#111" stroke-width="3.8" fill="none" stroke-linejoin="round"/>
<path d="M850 941l2 11 2 16 3-2 2 13 3 5 2-14 2 22 3-10 2 23 3-9 2-8 2 7 3 0 2 1 3 7 2-6 2 8 3-9 2-6 3-11 2 0 2 13 3 3 2 6 3-16 2 5 2-6 3 2 2-14 3 23 2-11 2 5 3 4 2-1 3-14 2 19 2-11 3-8 2-14 3-11 2-5 2 6 3-2 2-9 3 17 2-14 2 4 3-2 2-16 3 15 2-6 2-14 3 14 2 1 3-2 2-1 2-20 3 8 2-3 3 3 2 0 2 8 3-3 2-12 3 13 2 6 2-10 3-14 2 7 3 4 2-11 2 12 3-9 2 16 3 0 2-6 2-8 3 12 2-7 3 0 2 14 2-14 3-4 2 17 3 8 2-1 2-6 3 11 2-18 3 19 2 0 2-18 3 6 2-13 3 2 2 12 2-13 3 10 2 2 3-3 2 6 2 8 3-14 2 6 3 3 2-16 2-2 3-13 2 21 3 4 2-5 2 12 3-4 2-6 3-7 2-6 2 7 3 3 2-5 3-2 2 0 2 8 3-19 2 10 3 3 2 5 2-1 3-7 2-3 3-5 2 17 2-5 3-4 2-8 3-4 2 17 2-11 3 3 2 8 3-26 2 4 2 6 3 0 2-15 3 4 2-7 2-4 3 2 2-8 3 0 2-12 2-3 3-29 2-2 3-25 2-12 2-3 3 19 2 1 3-9 2 29 2 5 3-2 2 6 3 8 2-2 2 34 3-13 2 11 3 8 2 6 2 7 3 19 2-3 3 9 2 8 2 17 3-9 2 3 3 14 2-9 2 9 3 12 2-2 3-1 2 13 2-13 3-1 2-7 3 14 2 6 2-10 3 21 2-6 3 0 2-16 2 12 3 1 2-18 3 16 2-1 2-11 3 18 2 12 3-9 2-11 2 5 3 11 2-14 3 10 2-2 2 2 3 12 2-23 3 21 2-7 2-2 3-11 2 15 3-5 2-14 2 6 3 2 2 1 3 3 2-2 2 17 3-4 2-9 3 11 2 5 2-13 3-14 2 12 3 8 2-19 2 7 3 7 2 2 3-3 2-4 2-4 3-4 2 12 3-1 2-11 2-2 3 15 2-2 3-14 2-7 2 13 3 5 2 1 3-1 2-18 2 12 3-4 2-3 3 23 2-18 2 2 3-5 2 7 3 4 2-12 2 2 3-4 2-5 3 7 2 3 2-3" transform="scale(0.25)" stroke="#111" stroke-width="3.8" fill="none" stroke-linejoin="round"/>
<line x1="306.8" y1="77" x2="306.8" y2="260" stroke="#e8b446" stroke-width="2" stroke-dasharray="2.6,1.2" stroke-opacity="0.95"/>
<text x="222" y="36.8" font-size="12.8" fill="#1a1a1a">0 V</text>
<text x="214.2" y="65.7" font-size="12.8" fill="#1a1a1a">−0.4 V</text>
<text x="214.2" y="107.6" font-size="12.8" fill="#1a1a1a">−0.8 V</text>
<text x="214.2" y="142.5" font-size="12.8" fill="#1a1a1a">−1.2 V</text>
<text x="218.7" y="192.8" font-size="12.8" fill="#1a1a1a">−2 V</text>
<text x="222" y="232.3" font-size="12.8" fill="#1a1a1a">0 V</text>
<text x="368.5" y="47.3" font-size="12" fill="#1a1a1a" text-anchor="end">×0.1</text>
<text x="368.5" y="76.2" font-size="12" fill="#1a1a1a" text-anchor="end">×0.2</text>
<text x="313.3" y="102.3" font-size="12.8" fill="#1a1a1a">Graphite</text>
<text x="219.7" y="9.9" font-size="12.6" fill="#1a1a1a">Hydrocarbons</text>
<line x1="250.4" y1="12.8" x2="250.4" y2="27.3" stroke="#111" stroke-width="0.8"/>
<polygon points="250.4,30.5 248.9,26.5 251.9,26.5" stroke="none" stroke-width="1" fill="#111"/>
<line x1="279" y1="12.5" x2="288.3" y2="19.1" stroke="#111" stroke-width="0.8"/>
<polygon points="290.9,20.9 286.8,19.8 288.5,17.4" stroke="none" stroke-width="1" fill="#111"/>
<line x1="212.5" y1="260" x2="376" y2="260" stroke="#333" stroke-width="1"/>
<line x1="212.5" y1="260" x2="212.5" y2="257.5" stroke="#333" stroke-width="1"/>
<line x1="228.8" y1="260" x2="228.8" y2="257.5" stroke="#333" stroke-width="1"/>
<line x1="245.2" y1="260" x2="245.2" y2="257" stroke="#333" stroke-width="1"/>
<line x1="261.6" y1="260" x2="261.6" y2="257.5" stroke="#333" stroke-width="1"/>
<line x1="277.9" y1="260" x2="277.9" y2="257.5" stroke="#333" stroke-width="1"/>
<line x1="294.2" y1="260" x2="294.2" y2="257.5" stroke="#333" stroke-width="1"/>
<line x1="310.6" y1="260" x2="310.6" y2="257" stroke="#333" stroke-width="1"/>
<line x1="326.9" y1="260" x2="326.9" y2="257.5" stroke="#333" stroke-width="1"/>
<line x1="343.3" y1="260" x2="343.3" y2="257.5" stroke="#333" stroke-width="1"/>
<line x1="359.6" y1="260" x2="359.6" y2="257.5" stroke="#333" stroke-width="1"/>
<line x1="376" y1="260" x2="376" y2="257" stroke="#333" stroke-width="1"/>
<text x="212.5" y="277" font-size="12.3" fill="#1a1a1a" text-anchor="middle">1000</text>
<text x="277.9" y="277" font-size="12.3" fill="#1a1a1a" text-anchor="middle">1400</text>
<text x="343.3" y="277" font-size="12.3" fill="#1a1a1a" text-anchor="middle">1800</text>
<polygon points="527.1,47.1 527.1,47 527.7,47 528.3,47 528.9,47 529.5,47 530.1,47 530.7,47 531.3,47 531.9,46.9 532.5,46.9 533.1,46.9 533.7,46.9 534.3,46.8 534.9,46.8 535.5,46.8 536.1,46.7 536.7,46.7 537.3,46.7 537.9,46.6 538.5,46.6 539.1,46.5 539.7,46.4 540.3,46.4 540.9,46.3 541.5,46.2 542.1,46.2 542.7,46.1 543.3,46 543.9,45.9 544.5,45.8 545.1,45.7 545.7,45.6 546.3,45.5 546.9,45.4 547.5,45.2 548.1,45.1 548.7,45 549.3,44.9 549.9,44.7 550.5,44.6 551.1,44.5 551.7,44.4 552.3,44.2 552.9,44.1 553.5,44 554.1,43.9 554.7,43.8 555.3,43.6 555.9,43.5 556.5,43.4 557.1,43.3 557.7,43.3 558.3,43.2 558.9,43.1 559.5,43.1 560.1,43 560.7,43 561.3,42.9 561.9,42.9 562.5,42.9 563.1,42.9 563.7,42.9 564.3,42.9 564.9,43 565.5,43 566.1,43.1 566.7,43.2 567.3,43.2 567.9,43.3 568.5,43.4 569.1,43.5 569.7,43.7 570.3,43.8 570.9,43.9 571.5,44 572.1,44.2 572.7,44.3 573.3,44.4 573.9,44.6 574.5,44.7 575.1,44.9 575.7,45 576.3,45.1 576.9,45.3 577.5,45.4 578.1,45.5 578.7,45.6 579.3,45.7 579.9,45.8 580.5,45.9 581.1,46 581.7,46.1 582.3,46.2 582.9,46.3 583.5,46.4 584.1,46.5 584.7,46.5 585.3,46.6 585.9,46.6 586.5,46.7 587.1,46.7 587.7,46.8 588.3,46.8 588.9,46.8 589.5,46.9 590.1,46.9 590.7,46.9 591.3,47 591.9,47 592.5,47 593.1,47 593.7,47 594.3,47 594.9,47 595.5,47 595.5,47.1" stroke="none" stroke-width="1" fill="#eb0000" fill-opacity="0.52"/>
<polyline points="527.1,47 527.7,47 528.3,47 528.9,47 529.5,47 530.1,47 530.7,47 531.3,47 531.9,46.9 532.5,46.9 533.1,46.9 533.7,46.9 534.3,46.8 534.9,46.8 535.5,46.8 536.1,46.7 536.7,46.7 537.3,46.7 537.9,46.6 538.5,46.6 539.1,46.5 539.7,46.4 540.3,46.4 540.9,46.3 541.5,46.2 542.1,46.2 542.7,46.1 543.3,46 543.9,45.9 544.5,45.8 545.1,45.7 545.7,45.6 546.3,45.5 546.9,45.4 547.5,45.2 548.1,45.1 548.7,45 549.3,44.9 549.9,44.7 550.5,44.6 551.1,44.5 551.7,44.4 552.3,44.2 552.9,44.1 553.5,44 554.1,43.9 554.7,43.8 555.3,43.6 555.9,43.5 556.5,43.4 557.1,43.3 557.7,43.3 558.3,43.2 558.9,43.1 559.5,43.1 560.1,43 560.7,43 561.3,42.9 561.9,42.9 562.5,42.9 563.1,42.9 563.7,42.9 564.3,42.9 564.9,43 565.5,43 566.1,43.1 566.7,43.2 567.3,43.2 567.9,43.3 568.5,43.4 569.1,43.5 569.7,43.7 570.3,43.8 570.9,43.9 571.5,44 572.1,44.2 572.7,44.3 573.3,44.4 573.9,44.6 574.5,44.7 575.1,44.9 575.7,45 576.3,45.1 576.9,45.3 577.5,45.4 578.1,45.5 578.7,45.6 579.3,45.7 579.9,45.8 580.5,45.9 581.1,46 581.7,46.1 582.3,46.2 582.9,46.3 583.5,46.4 584.1,46.5 584.7,46.5 585.3,46.6 585.9,46.6 586.5,46.7 587.1,46.7 587.7,46.8 588.3,46.8 588.9,46.8 589.5,46.9 590.1,46.9 590.7,46.9 591.3,47 591.9,47 592.5,47 593.1,47 593.7,47 594.3,47 594.9,47 595.5,47" stroke="#e8303c" stroke-width="0.7" fill="none" stroke-opacity="0.9"/>
<polygon points="558.9,47.1 558.9,47 559.5,47 560.1,47 560.7,47 561.3,47 561.9,47 562.5,47 563.1,47 563.7,46.9 564.3,46.9 564.9,46.9 565.5,46.9 566.1,46.8 566.7,46.8 567.3,46.7 567.9,46.7 568.5,46.6 569.1,46.6 569.7,46.5 570.3,46.4 570.9,46.4 571.5,46.3 572.1,46.2 572.7,46.1 573.3,46 573.9,45.9 574.5,45.7 575.1,45.6 575.7,45.5 576.3,45.3 576.9,45.1 577.5,45 578.1,44.8 578.7,44.6 579.3,44.4 579.9,44.2 580.5,43.9 581.1,43.7 581.7,43.4 582.3,43.2 582.9,42.9 583.5,42.6 584.1,42.4 584.7,42.1 585.3,41.8 585.9,41.5 586.5,41.2 587.1,40.9 587.7,40.6 588.3,40.3 588.9,40 589.5,39.7 590.1,39.5 590.7,39.2 591.3,38.9 591.9,38.7 592.5,38.4 593.1,38.2 593.7,38 594.3,37.8 594.9,37.6 595.5,37.4 596.1,37.3 596.7,37.2 597.3,37.1 597.9,37 598.5,36.9 599.1,36.9 599.7,36.9 600.3,36.9 600.9,37 601.5,37 602.1,37.1 602.7,37.2 603.3,37.4 603.9,37.5 604.5,37.7 605.1,37.9 605.7,38.1 606.3,38.4 606.9,38.6 607.5,38.9 608.1,39.2 608.7,39.4 609.3,39.7 609.9,40 610.5,40.3 611.1,40.7 611.7,41 612.3,41.3 612.9,41.6 613.5,41.9 614.1,42.2 614.7,42.5 615.3,42.8 615.9,43 616.5,43.3 617.1,43.6 617.7,43.8 618.3,44.1 618.9,44.3 619.5,44.5 620.1,44.7 620.7,44.9 621.3,45.1 621.9,45.3 622.5,45.4 623.1,45.6 623.7,45.7 624.3,45.9 624.9,46 625.5,46.1 626.1,46.2 626.7,46.3 627.3,46.4 627.9,46.5 628.5,46.5 629.1,46.6 629.7,46.7 630.3,46.7 630.9,46.8 631.5,46.8 632.1,46.8 632.7,46.9 633.3,46.9 633.9,46.9 634.5,47 635.1,47 635.7,47 636.3,47 636.9,47 637.5,47 638.1,47 638.7,47 638.7,47.1" stroke="none" stroke-width="1" fill="#00a0f0" fill-opacity="0.45"/>
<polyline points="558.9,47 559.5,47 560.1,47 560.7,47 561.3,47 561.9,47 562.5,47 563.1,47 563.7,46.9 564.3,46.9 564.9,46.9 565.5,46.9 566.1,46.8 566.7,46.8 567.3,46.7 567.9,46.7 568.5,46.6 569.1,46.6 569.7,46.5 570.3,46.4 570.9,46.4 571.5,46.3 572.1,46.2 572.7,46.1 573.3,46 573.9,45.9 574.5,45.7 575.1,45.6 575.7,45.5 576.3,45.3 576.9,45.1 577.5,45 578.1,44.8 578.7,44.6 579.3,44.4 579.9,44.2 580.5,43.9 581.1,43.7 581.7,43.4 582.3,43.2 582.9,42.9 583.5,42.6 584.1,42.4 584.7,42.1 585.3,41.8 585.9,41.5 586.5,41.2 587.1,40.9 587.7,40.6 588.3,40.3 588.9,40 589.5,39.7 590.1,39.5 590.7,39.2 591.3,38.9 591.9,38.7 592.5,38.4 593.1,38.2 593.7,38 594.3,37.8 594.9,37.6 595.5,37.4 596.1,37.3 596.7,37.2 597.3,37.1 597.9,37 598.5,36.9 599.1,36.9 599.7,36.9 600.3,36.9 600.9,37 601.5,37 602.1,37.1 602.7,37.2 603.3,37.4 603.9,37.5 604.5,37.7 605.1,37.9 605.7,38.1 606.3,38.4 606.9,38.6 607.5,38.9 608.1,39.2 608.7,39.4 609.3,39.7 609.9,40 610.5,40.3 611.1,40.7 611.7,41 612.3,41.3 612.9,41.6 613.5,41.9 614.1,42.2 614.7,42.5 615.3,42.8 615.9,43 616.5,43.3 617.1,43.6 617.7,43.8 618.3,44.1 618.9,44.3 619.5,44.5 620.1,44.7 620.7,44.9 621.3,45.1 621.9,45.3 622.5,45.4 623.1,45.6 623.7,45.7 624.3,45.9 624.9,46 625.5,46.1 626.1,46.2 626.7,46.3 627.3,46.4 627.9,46.5 628.5,46.5 629.1,46.6 629.7,46.7 630.3,46.7 630.9,46.8 631.5,46.8 632.1,46.8 632.7,46.9 633.3,46.9 633.9,46.9 634.5,47 635.1,47 635.7,47 636.3,47 636.9,47 637.5,47 638.1,47 638.7,47" stroke="#2f9ee8" stroke-width="0.7" fill="none" stroke-opacity="0.9"/>
<line x1="394.5" y1="47.1" x2="671" y2="47.1" stroke="#e07ccc" stroke-width="1.3"/>
<polyline points="515.9,45.4 516.9,45.5 517.9,45.6 518.9,45.6 519.9,45.6 520.9,45.6 521.9,45.5 522.9,45.4 523.9,45.3 524.9,45.1 525.9,45 526.9,44.8 527.9,44.6 528.9,44.5 529.9,44.3 530.9,44.2 531.9,44.2 532.9,44.1 533.9,44.1 534.9,44 535.9,44 536.9,43.9 537.9,43.9 538.9,43.8 539.9,43.8 540.9,43.8 541.9,43.7 542.9,43.7 543.9,43.7 544.9,43.6 545.9,43.6 546.9,43.5 547.9,43.5 548.9,43.4 549.9,43.4 550.9,43.3 551.9,43.3 552.9,43.2 553.9,43.2 554.9,43.1 555.9,43 556.9,43 557.9,42.9 558.9,42.7 559.9,42.6 560.9,42.4 561.9,42.2 562.9,42 563.9,41.7 564.9,41.5 565.9,41.2 566.9,41 567.9,40.8 568.9,40.6 569.9,40.4 570.9,40.3 571.9,40.1 572.9,40 573.9,39.9 574.9,39.8 575.9,39.7 576.9,39.6 577.9,39.5 578.9,39.5 579.9,39.4 580.9,39.3 581.9,39.2 582.9,39.1 583.9,39 584.9,38.9 585.9,38.8 586.9,38.6 587.9,38.5 588.9,38.4 589.9,38.2 590.9,38.1 591.9,38 592.9,37.9 593.9,37.7 594.9,37.6 595.9,37.6 596.9,37.5 597.9,37.4 598.9,37.4 599.9,37.4 600.9,37.5 601.9,37.6 602.9,37.7 603.9,37.9 604.9,38.1 605.9,38.3 606.9,38.6 607.9,38.8 608.9,39 609.9,39.3 610.9,39.6 611.9,40 612.9,40.3 613.9,40.6 614.9,41 615.9,41.2 616.9,41.5 617.9,41.8 618.9,42 619.9,42.2 620.9,42.5 621.9,42.7 622.9,43 623.9,43.2 624.9,43.4 625.9,43.7 626.9,44 627.9,44.3 628.9,44.6 629.9,44.9 630.9,45.3 631.9,45.6 632.9,45.9 633.9,46.2 634.9,46.4 635.9,46.5 636.9,46.6 637.9,46.7 638.9,46.8 639.9,46.9 640.9,47 641.9,47 642.9,47.1 643.9,47.1 644.9,47.2 645.9,47.2 646.9,47.3 647.9,47.3 648.9,47.4 649.9,47.4 650.9,47.4 651.9,47.5 652.9,47.5 653.9,47.5 654.9,47.6 655.9,47.6 656.9,47.6 657.9,47.7 658.9,47.7 659.9,47.7 660.9,47.7 661.9,47.8 662.9,47.8 663.9,47.8 664.9,47.8 665.9,47.9 666.9,47.9 667.9,47.9 668.9,47.9 669.9,47.9" stroke="#e67ccc" stroke-width="1.3" fill="none"/>
<polygon points="530.7,83.6 530.7,83.5 531.3,83.5 531.9,83.5 532.5,83.5 533.1,83.5 533.7,83.5 534.3,83.5 534.9,83.4 535.5,83.4 536.1,83.4 536.7,83.4 537.3,83.3 537.9,83.3 538.5,83.2 539.1,83.2 539.7,83.1 540.3,83.1 540.9,83 541.5,82.9 542.1,82.8 542.7,82.8 543.3,82.7 543.9,82.6 544.5,82.4 545.1,82.3 545.7,82.2 546.3,82 546.9,81.9 547.5,81.7 548.1,81.6 548.7,81.4 549.3,81.2 549.9,81 550.5,80.8 551.1,80.6 551.7,80.4 552.3,80.2 552.9,80 553.5,79.8 554.1,79.6 554.7,79.3 555.3,79.1 555.9,78.9 556.5,78.7 557.1,78.5 557.7,78.3 558.3,78.1 558.9,77.9 559.5,77.8 560.1,77.6 560.7,77.5 561.3,77.4 561.9,77.3 562.5,77.2 563.1,77.1 563.7,77 564.3,77 564.9,77 565.5,77 566.1,77 566.7,77.1 567.3,77.1 567.9,77.2 568.5,77.3 569.1,77.4 569.7,77.6 570.3,77.7 570.9,77.9 571.5,78.1 572.1,78.2 572.7,78.4 573.3,78.6 573.9,78.8 574.5,79.1 575.1,79.3 575.7,79.5 576.3,79.7 576.9,79.9 577.5,80.1 578.1,80.4 578.7,80.6 579.3,80.8 579.9,81 580.5,81.2 581.1,81.3 581.7,81.5 582.3,81.7 582.9,81.8 583.5,82 584.1,82.1 584.7,82.3 585.3,82.4 585.9,82.5 586.5,82.6 587.1,82.7 587.7,82.8 588.3,82.9 588.9,83 589.5,83 590.1,83.1 590.7,83.2 591.3,83.2 591.9,83.3 592.5,83.3 593.1,83.3 593.7,83.4 594.3,83.4 594.9,83.4 595.5,83.5 596.1,83.5 596.7,83.5 597.3,83.5 597.9,83.5 598.5,83.5 599.1,83.5 599.1,83.6" stroke="none" stroke-width="1" fill="#eb0000" fill-opacity="0.52"/>
<polyline points="530.7,83.5 531.3,83.5 531.9,83.5 532.5,83.5 533.1,83.5 533.7,83.5 534.3,83.5 534.9,83.4 535.5,83.4 536.1,83.4 536.7,83.4 537.3,83.3 537.9,83.3 538.5,83.2 539.1,83.2 539.7,83.1 540.3,83.1 540.9,83 541.5,82.9 542.1,82.8 542.7,82.8 543.3,82.7 543.9,82.6 544.5,82.4 545.1,82.3 545.7,82.2 546.3,82 546.9,81.9 547.5,81.7 548.1,81.6 548.7,81.4 549.3,81.2 549.9,81 550.5,80.8 551.1,80.6 551.7,80.4 552.3,80.2 552.9,80 553.5,79.8 554.1,79.6 554.7,79.3 555.3,79.1 555.9,78.9 556.5,78.7 557.1,78.5 557.7,78.3 558.3,78.1 558.9,77.9 559.5,77.8 560.1,77.6 560.7,77.5 561.3,77.4 561.9,77.3 562.5,77.2 563.1,77.1 563.7,77 564.3,77 564.9,77 565.5,77 566.1,77 566.7,77.1 567.3,77.1 567.9,77.2 568.5,77.3 569.1,77.4 569.7,77.6 570.3,77.7 570.9,77.9 571.5,78.1 572.1,78.2 572.7,78.4 573.3,78.6 573.9,78.8 574.5,79.1 575.1,79.3 575.7,79.5 576.3,79.7 576.9,79.9 577.5,80.1 578.1,80.4 578.7,80.6 579.3,80.8 579.9,81 580.5,81.2 581.1,81.3 581.7,81.5 582.3,81.7 582.9,81.8 583.5,82 584.1,82.1 584.7,82.3 585.3,82.4 585.9,82.5 586.5,82.6 587.1,82.7 587.7,82.8 588.3,82.9 588.9,83 589.5,83 590.1,83.1 590.7,83.2 591.3,83.2 591.9,83.3 592.5,83.3 593.1,83.3 593.7,83.4 594.3,83.4 594.9,83.4 595.5,83.5 596.1,83.5 596.7,83.5 597.3,83.5 597.9,83.5 598.5,83.5 599.1,83.5" stroke="#e8303c" stroke-width="0.7" fill="none" stroke-opacity="0.9"/>
<polygon points="546.9,83.6 546.9,83.5 547.5,83.5 548.1,83.5 548.7,83.5 549.3,83.5 549.9,83.5 550.5,83.5 551.1,83.5 551.7,83.4 552.3,83.4 552.9,83.4 553.5,83.4 554.1,83.3 554.7,83.3 555.3,83.3 555.9,83.2 556.5,83.2 557.1,83.1 557.7,83.1 558.3,83 558.9,82.9 559.5,82.9 560.1,82.8 560.7,82.7 561.3,82.6 561.9,82.5 562.5,82.4 563.1,82.3 563.7,82.1 564.3,82 564.9,81.8 565.5,81.7 566.1,81.5 566.7,81.3 567.3,81.1 567.9,80.9 568.5,80.7 569.1,80.4 569.7,80.2 570.3,79.9 570.9,79.7 571.5,79.4 572.1,79.1 572.7,78.8 573.3,78.4 573.9,78.1 574.5,77.8 575.1,77.4 575.7,77 576.3,76.7 576.9,76.3 577.5,75.9 578.1,75.5 578.7,75.1 579.3,74.7 579.9,74.3 580.5,73.9 581.1,73.5 581.7,73.1 582.3,72.7 582.9,72.4 583.5,72 584.1,71.6 584.7,71.2 585.3,70.9 585.9,70.6 586.5,70.3 587.1,70 587.7,69.7 588.3,69.4 588.9,69.2 589.5,69 590.1,68.8 590.7,68.6 591.3,68.5 591.9,68.4 592.5,68.3 593.1,68.2 593.7,68.2 594.3,68.2 594.9,68.2 595.5,68.3 596.1,68.4 596.7,68.5 597.3,68.7 597.9,68.9 598.5,69.1 599.1,69.3 599.7,69.6 600.3,69.9 600.9,70.2 601.5,70.6 602.1,70.9 602.7,71.3 603.3,71.7 603.9,72.1 604.5,72.5 605.1,72.9 605.7,73.3 606.3,73.8 606.9,74.2 607.5,74.6 608.1,75 608.7,75.5 609.3,75.9 609.9,76.3 610.5,76.7 611.1,77.1 611.7,77.5 612.3,77.9 612.9,78.2 613.5,78.6 614.1,78.9 614.7,79.3 615.3,79.6 615.9,79.9 616.5,80.2 617.1,80.4 617.7,80.7 618.3,80.9 618.9,81.1 619.5,81.4 620.1,81.5 620.7,81.7 621.3,81.9 621.9,82.1 622.5,82.2 623.1,82.3 623.7,82.5 624.3,82.6 624.9,82.7 625.5,82.8 626.1,82.9 626.7,82.9 627.3,83 627.9,83.1 628.5,83.1 629.1,83.2 629.7,83.2 630.3,83.3 630.9,83.3 631.5,83.4 632.1,83.4 632.7,83.4 633.3,83.4 633.9,83.5 634.5,83.5 635.1,83.5 635.7,83.5 636.3,83.5 636.9,83.5 637.5,83.5 637.5,83.6" stroke="none" stroke-width="1" fill="#00a0f0" fill-opacity="0.45"/>
<polyline points="546.9,83.5 547.5,83.5 548.1,83.5 548.7,83.5 549.3,83.5 549.9,83.5 550.5,83.5 551.1,83.5 551.7,83.4 552.3,83.4 552.9,83.4 553.5,83.4 554.1,83.3 554.7,83.3 555.3,83.3 555.9,83.2 556.5,83.2 557.1,83.1 557.7,83.1 558.3,83 558.9,82.9 559.5,82.9 560.1,82.8 560.7,82.7 561.3,82.6 561.9,82.5 562.5,82.4 563.1,82.3 563.7,82.1 564.3,82 564.9,81.8 565.5,81.7 566.1,81.5 566.7,81.3 567.3,81.1 567.9,80.9 568.5,80.7 569.1,80.4 569.7,80.2 570.3,79.9 570.9,79.7 571.5,79.4 572.1,79.1 572.7,78.8 573.3,78.4 573.9,78.1 574.5,77.8 575.1,77.4 575.7,77 576.3,76.7 576.9,76.3 577.5,75.9 578.1,75.5 578.7,75.1 579.3,74.7 579.9,74.3 580.5,73.9 581.1,73.5 581.7,73.1 582.3,72.7 582.9,72.4 583.5,72 584.1,71.6 584.7,71.2 585.3,70.9 585.9,70.6 586.5,70.3 587.1,70 587.7,69.7 588.3,69.4 588.9,69.2 589.5,69 590.1,68.8 590.7,68.6 591.3,68.5 591.9,68.4 592.5,68.3 593.1,68.2 593.7,68.2 594.3,68.2 594.9,68.2 595.5,68.3 596.1,68.4 596.7,68.5 597.3,68.7 597.9,68.9 598.5,69.1 599.1,69.3 599.7,69.6 600.3,69.9 600.9,70.2 601.5,70.6 602.1,70.9 602.7,71.3 603.3,71.7 603.9,72.1 604.5,72.5 605.1,72.9 605.7,73.3 606.3,73.8 606.9,74.2 607.5,74.6 608.1,75 608.7,75.5 609.3,75.9 609.9,76.3 610.5,76.7 611.1,77.1 611.7,77.5 612.3,77.9 612.9,78.2 613.5,78.6 614.1,78.9 614.7,79.3 615.3,79.6 615.9,79.9 616.5,80.2 617.1,80.4 617.7,80.7 618.3,80.9 618.9,81.1 619.5,81.4 620.1,81.5 620.7,81.7 621.3,81.9 621.9,82.1 622.5,82.2 623.1,82.3 623.7,82.5 624.3,82.6 624.9,82.7 625.5,82.8 626.1,82.9 626.7,82.9 627.3,83 627.9,83.1 628.5,83.1 629.1,83.2 629.7,83.2 630.3,83.3 630.9,83.3 631.5,83.4 632.1,83.4 632.7,83.4 633.3,83.4 633.9,83.5 634.5,83.5 635.1,83.5 635.7,83.5 636.3,83.5 636.9,83.5 637.5,83.5" stroke="#2f9ee8" stroke-width="0.7" fill="none" stroke-opacity="0.9"/>
<line x1="394.5" y1="83.6" x2="671" y2="83.6" stroke="#e07ccc" stroke-width="1.3"/>
<polyline points="520.9,83.9 521.9,83.8 522.9,83.7 523.9,83.7 524.9,83.6 525.9,83.5 526.9,83.5 527.9,83.4 528.9,83.4 529.9,83.3 530.9,83.2 531.9,83.1 532.9,83 533.9,82.8 534.9,82.6 535.9,82.3 536.9,82 537.9,81.7 538.9,81.4 539.9,81.1 540.9,80.8 541.9,80.5 542.9,80.1 543.9,79.8 544.9,79.6 545.9,79.3 546.9,79 547.9,78.7 548.9,78.4 549.9,78.1 550.9,77.7 551.9,77.4 552.9,77.1 553.9,76.8 554.9,76.5 555.9,76.2 556.9,76 557.9,75.7 558.9,75.4 559.9,75.2 560.9,74.9 561.9,74.7 562.9,74.5 563.9,74.2 564.9,74 565.9,73.8 566.9,73.5 567.9,73.3 568.9,73 569.9,72.8 570.9,72.5 571.9,72.3 572.9,72 573.9,71.8 574.9,71.5 575.9,71.3 576.9,71 577.9,70.7 578.9,70.5 579.9,70.2 580.9,69.9 581.9,69.7 582.9,69.4 583.9,69.2 584.9,68.9 585.9,68.6 586.9,68.3 587.9,68 588.9,67.7 589.9,67.4 590.9,67.1 591.9,66.9 592.9,66.7 593.9,66.6 594.9,66.6 595.9,66.7 596.9,66.8 597.9,67 598.9,67.3 599.9,67.7 600.9,68 601.9,68.4 602.9,68.7 603.9,69.1 604.9,69.4 605.9,69.7 606.9,70 607.9,70.3 608.9,70.7 609.9,71 610.9,71.4 611.9,71.7 612.9,72.1 613.9,72.5 614.9,72.9 615.9,73.3 616.9,73.8 617.9,74.3 618.9,74.8 619.9,75.3 620.9,75.9 621.9,76.4 622.9,76.9 623.9,77.5 624.9,78 625.9,78.4 626.9,78.8 627.9,79.3 628.9,79.7 629.9,80.2 630.9,80.6 631.9,81 632.9,81.3 633.9,81.7 634.9,82 635.9,82.2 636.9,82.4 637.9,82.6 638.9,82.7 639.9,82.9 640.9,83 641.9,83.2 642.9,83.3 643.9,83.4 644.9,83.5 645.9,83.6 646.9,83.7 647.9,83.8 648.9,83.8 649.9,83.9 650.9,83.9 651.9,84 652.9,84 653.9,84.1 654.9,84.1 655.9,84.1 656.9,84.2 657.9,84.2 658.9,84.2 659.9,84.2 660.9,84.3 661.9,84.3 662.9,84.3 663.9,84.3 664.9,84.4 665.9,84.4 666.9,84.4 667.9,84.4 668.9,84.4 669.9,84.4" stroke="#e67ccc" stroke-width="1.3" fill="none"/>
<polygon points="511.5,118.6 511.5,118.5 512.1,118.5 512.7,118.5 513.3,118.5 513.9,118.5 514.5,118.5 515.1,118.5 515.7,118.5 516.3,118.5 516.9,118.4 517.5,118.4 518.1,118.4 518.7,118.4 519.3,118.3 519.9,118.3 520.5,118.3 521.1,118.2 521.7,118.2 522.3,118.2 522.9,118.1 523.5,118.1 524.1,118 524.7,117.9 525.3,117.9 525.9,117.8 526.5,117.7 527.1,117.6 527.7,117.5 528.3,117.4 528.9,117.3 529.5,117.2 530.1,117.1 530.7,117 531.3,116.8 531.9,116.7 532.5,116.5 533.1,116.4 533.7,116.2 534.3,116 534.9,115.8 535.5,115.6 536.1,115.4 536.7,115.2 537.3,115 537.9,114.8 538.5,114.6 539.1,114.3 539.7,114.1 540.3,113.8 540.9,113.6 541.5,113.3 542.1,113 542.7,112.8 543.3,112.5 543.9,112.2 544.5,111.9 545.1,111.7 545.7,111.4 546.3,111.1 546.9,110.8 547.5,110.6 548.1,110.3 548.7,110.1 549.3,109.8 549.9,109.6 550.5,109.3 551.1,109.1 551.7,108.9 552.3,108.7 552.9,108.5 553.5,108.4 554.1,108.2 554.7,108.1 555.3,108 555.9,107.8 556.5,107.8 557.1,107.7 557.7,107.6 558.3,107.6 558.9,107.6 559.5,107.6 560.1,107.6 560.7,107.7 561.3,107.7 561.9,107.8 562.5,107.9 563.1,108 563.7,108.1 564.3,108.3 564.9,108.4 565.5,108.6 566.1,108.8 566.7,109 567.3,109.2 567.9,109.4 568.5,109.6 569.1,109.8 569.7,110.1 570.3,110.3 570.9,110.6 571.5,110.8 572.1,111.1 572.7,111.4 573.3,111.6 573.9,111.9 574.5,112.2 575.1,112.4 575.7,112.7 576.3,112.9 576.9,113.2 577.5,113.5 578.1,113.7 578.7,114 579.3,114.2 579.9,114.4 580.5,114.7 581.1,114.9 581.7,115.1 582.3,115.3 582.9,115.5 583.5,115.7 584.1,115.9 584.7,116.1 585.3,116.2 585.9,116.4 586.5,116.6 587.1,116.7 587.7,116.8 588.3,117 588.9,117.1 589.5,117.2 590.1,117.3 590.7,117.4 591.3,117.5 591.9,117.6 592.5,117.7 593.1,117.8 593.7,117.8 594.3,117.9 594.9,118 595.5,118 596.1,118.1 596.7,118.1 597.3,118.2 597.9,118.2 598.5,118.3 599.1,118.3 599.7,118.3 600.3,118.4 600.9,118.4 601.5,118.4 602.1,118.4 602.7,118.4 603.3,118.5 603.9,118.5 604.5,118.5 605.1,118.5 605.7,118.5 606.3,118.5 606.9,118.5 607.5,118.5 608.1,118.5 608.1,118.6" stroke="none" stroke-width="1" fill="#eb0000" fill-opacity="0.52"/>
<polyline points="511.5,118.5 512.1,118.5 512.7,118.5 513.3,118.5 513.9,118.5 514.5,118.5 515.1,118.5 515.7,118.5 516.3,118.5 516.9,118.4 517.5,118.4 518.1,118.4 518.7,118.4 519.3,118.3 519.9,118.3 520.5,118.3 521.1,118.2 521.7,118.2 522.3,118.2 522.9,118.1 523.5,118.1 524.1,118 524.7,117.9 525.3,117.9 525.9,117.8 526.5,117.7 527.1,117.6 527.7,117.5 528.3,117.4 528.9,117.3 529.5,117.2 530.1,117.1 530.7,117 531.3,116.8 531.9,116.7 532.5,116.5 533.1,116.4 533.7,116.2 534.3,116 534.9,115.8 535.5,115.6 536.1,115.4 536.7,115.2 537.3,115 537.9,114.8 538.5,114.6 539.1,114.3 539.7,114.1 540.3,113.8 540.9,113.6 541.5,113.3 542.1,113 542.7,112.8 543.3,112.5 543.9,112.2 544.5,111.9 545.1,111.7 545.7,111.4 546.3,111.1 546.9,110.8 547.5,110.6 548.1,110.3 548.7,110.1 549.3,109.8 549.9,109.6 550.5,109.3 551.1,109.1 551.7,108.9 552.3,108.7 552.9,108.5 553.5,108.4 554.1,108.2 554.7,108.1 555.3,108 555.9,107.8 556.5,107.8 557.1,107.7 557.7,107.6 558.3,107.6 558.9,107.6 559.5,107.6 560.1,107.6 560.7,107.7 561.3,107.7 561.9,107.8 562.5,107.9 563.1,108 563.7,108.1 564.3,108.3 564.9,108.4 565.5,108.6 566.1,108.8 566.7,109 567.3,109.2 567.9,109.4 568.5,109.6 569.1,109.8 569.7,110.1 570.3,110.3 570.9,110.6 571.5,110.8 572.1,111.1 572.7,111.4 573.3,111.6 573.9,111.9 574.5,112.2 575.1,112.4 575.7,112.7 576.3,112.9 576.9,113.2 577.5,113.5 578.1,113.7 578.7,114 579.3,114.2 579.9,114.4 580.5,114.7 581.1,114.9 581.7,115.1 582.3,115.3 582.9,115.5 583.5,115.7 584.1,115.9 584.7,116.1 585.3,116.2 585.9,116.4 586.5,116.6 587.1,116.7 587.7,116.8 588.3,117 588.9,117.1 589.5,117.2 590.1,117.3 590.7,117.4 591.3,117.5 591.9,117.6 592.5,117.7 593.1,117.8 593.7,117.8 594.3,117.9 594.9,118 595.5,118 596.1,118.1 596.7,118.1 597.3,118.2 597.9,118.2 598.5,118.3 599.1,118.3 599.7,118.3 600.3,118.4 600.9,118.4 601.5,118.4 602.1,118.4 602.7,118.4 603.3,118.5 603.9,118.5 604.5,118.5 605.1,118.5 605.7,118.5 606.3,118.5 606.9,118.5 607.5,118.5 608.1,118.5" stroke="#e8303c" stroke-width="0.7" fill="none" stroke-opacity="0.9"/>
<polygon points="534.3,118.6 534.3,118.5 534.9,118.5 535.5,118.5 536.1,118.5 536.7,118.5 537.3,118.5 537.9,118.5 538.5,118.5 539.1,118.4 539.7,118.4 540.3,118.4 540.9,118.4 541.5,118.4 542.1,118.3 542.7,118.3 543.3,118.3 543.9,118.2 544.5,118.2 545.1,118.1 545.7,118.1 546.3,118 546.9,118 547.5,117.9 548.1,117.8 548.7,117.7 549.3,117.6 549.9,117.5 550.5,117.4 551.1,117.3 551.7,117.2 552.3,117.1 552.9,116.9 553.5,116.8 554.1,116.6 554.7,116.4 555.3,116.2 555.9,116 556.5,115.8 557.1,115.6 557.7,115.3 558.3,115.1 558.9,114.8 559.5,114.5 560.1,114.2 560.7,113.9 561.3,113.6 561.9,113.2 562.5,112.8 563.1,112.4 563.7,112 564.3,111.6 564.9,111.2 565.5,110.7 566.1,110.2 566.7,109.8 567.3,109.2 567.9,108.7 568.5,108.2 569.1,107.7 569.7,107.1 570.3,106.5 570.9,105.9 571.5,105.4 572.1,104.8 572.7,104.2 573.3,103.6 573.9,102.9 574.5,102.3 575.1,101.7 575.7,101.1 576.3,100.5 576.9,99.9 577.5,99.3 578.1,98.7 578.7,98.1 579.3,97.6 579.9,97 580.5,96.5 581.1,96 581.7,95.5 582.3,95 582.9,94.6 583.5,94.1 584.1,93.7 584.7,93.4 585.3,93 585.9,92.7 586.5,92.5 587.1,92.2 587.7,92 588.3,91.9 588.9,91.8 589.5,91.7 590.1,91.6 590.7,91.6 591.3,91.6 591.9,91.7 592.5,91.7 593.1,91.8 593.7,91.9 594.3,92.1 594.9,92.2 595.5,92.4 596.1,92.6 596.7,92.8 597.3,93.1 597.9,93.3 598.5,93.6 599.1,93.9 599.7,94.3 600.3,94.6 600.9,95 601.5,95.3 602.1,95.7 602.7,96.1 603.3,96.5 603.9,97 604.5,97.4 605.1,97.8 605.7,98.3 606.3,98.8 606.9,99.2 607.5,99.7 608.1,100.2 608.7,100.7 609.3,101.2 609.9,101.7 610.5,102.1 611.1,102.6 611.7,103.1 612.3,103.6 612.9,104.1 613.5,104.6 614.1,105.1 614.7,105.5 615.3,106 615.9,106.5 616.5,106.9 617.1,107.4 617.7,107.8 618.3,108.3 618.9,108.7 619.5,109.1 620.1,109.5 620.7,109.9 621.3,110.3 621.9,110.7 622.5,111 623.1,111.4 623.7,111.7 624.3,112.1 624.9,112.4 625.5,112.7 626.1,113 626.7,113.3 627.3,113.6 627.9,113.9 628.5,114.1 629.1,114.4 629.7,114.6 630.3,114.8 630.9,115.1 631.5,115.3 632.1,115.5 632.7,115.7 633.3,115.8 633.9,116 634.5,116.2 635.1,116.3 635.7,116.5 636.3,116.6 636.9,116.7 637.5,116.9 638.1,117 638.7,117.1 639.3,117.2 639.9,117.3 640.5,117.4 641.1,117.5 641.7,117.6 642.3,117.6 642.9,117.7 643.5,117.8 644.1,117.8 644.7,117.9 645.3,118 645.9,118 646.5,118.1 647.1,118.1 647.7,118.1 648.3,118.2 648.9,118.2 649.5,118.2 650.1,118.3 650.7,118.3 651.3,118.3 651.9,118.4 652.5,118.4 653.1,118.4 653.7,118.4 654.3,118.4 654.9,118.4 655.5,118.5 656.1,118.5 656.7,118.5 657.3,118.5 657.9,118.5 658.5,118.5 659.1,118.5 659.7,118.5 660.3,118.5 660.9,118.5 661.5,118.5 661.5,118.6" stroke="none" stroke-width="1" fill="#00a0f0" fill-opacity="0.45"/>
<polyline points="534.3,118.5 534.9,118.5 535.5,118.5 536.1,118.5 536.7,118.5 537.3,118.5 537.9,118.5 538.5,118.5 539.1,118.4 539.7,118.4 540.3,118.4 540.9,118.4 541.5,118.4 542.1,118.3 542.7,118.3 543.3,118.3 543.9,118.2 544.5,118.2 545.1,118.1 545.7,118.1 546.3,118 546.9,118 547.5,117.9 548.1,117.8 548.7,117.7 549.3,117.6 549.9,117.5 550.5,117.4 551.1,117.3 551.7,117.2 552.3,117.1 552.9,116.9 553.5,116.8 554.1,116.6 554.7,116.4 555.3,116.2 555.9,116 556.5,115.8 557.1,115.6 557.7,115.3 558.3,115.1 558.9,114.8 559.5,114.5 560.1,114.2 560.7,113.9 561.3,113.6 561.9,113.2 562.5,112.8 563.1,112.4 563.7,112 564.3,111.6 564.9,111.2 565.5,110.7 566.1,110.2 566.7,109.8 567.3,109.2 567.9,108.7 568.5,108.2 569.1,107.7 569.7,107.1 570.3,106.5 570.9,105.9 571.5,105.4 572.1,104.8 572.7,104.2 573.3,103.6 573.9,102.9 574.5,102.3 575.1,101.7 575.7,101.1 576.3,100.5 576.9,99.9 577.5,99.3 578.1,98.7 578.7,98.1 579.3,97.6 579.9,97 580.5,96.5 581.1,96 581.7,95.5 582.3,95 582.9,94.6 583.5,94.1 584.1,93.7 584.7,93.4 585.3,93 585.9,92.7 586.5,92.5 587.1,92.2 587.7,92 588.3,91.9 588.9,91.8 589.5,91.7 590.1,91.6 590.7,91.6 591.3,91.6 591.9,91.7 592.5,91.7 593.1,91.8 593.7,91.9 594.3,92.1 594.9,92.2 595.5,92.4 596.1,92.6 596.7,92.8 597.3,93.1 597.9,93.3 598.5,93.6 599.1,93.9 599.7,94.3 600.3,94.6 600.9,95 601.5,95.3 602.1,95.7 602.7,96.1 603.3,96.5 603.9,97 604.5,97.4 605.1,97.8 605.7,98.3 606.3,98.8 606.9,99.2 607.5,99.7 608.1,100.2 608.7,100.7 609.3,101.2 609.9,101.7 610.5,102.1 611.1,102.6 611.7,103.1 612.3,103.6 612.9,104.1 613.5,104.6 614.1,105.1 614.7,105.5 615.3,106 615.9,106.5 616.5,106.9 617.1,107.4 617.7,107.8 618.3,108.3 618.9,108.7 619.5,109.1 620.1,109.5 620.7,109.9 621.3,110.3 621.9,110.7 622.5,111 623.1,111.4 623.7,111.7 624.3,112.1 624.9,112.4 625.5,112.7 626.1,113 626.7,113.3 627.3,113.6 627.9,113.9 628.5,114.1 629.1,114.4 629.7,114.6 630.3,114.8 630.9,115.1 631.5,115.3 632.1,115.5 632.7,115.7 633.3,115.8 633.9,116 634.5,116.2 635.1,116.3 635.7,116.5 636.3,116.6 636.9,116.7 637.5,116.9 638.1,117 638.7,117.1 639.3,117.2 639.9,117.3 640.5,117.4 641.1,117.5 641.7,117.6 642.3,117.6 642.9,117.7 643.5,117.8 644.1,117.8 644.7,117.9 645.3,118 645.9,118 646.5,118.1 647.1,118.1 647.7,118.1 648.3,118.2 648.9,118.2 649.5,118.2 650.1,118.3 650.7,118.3 651.3,118.3 651.9,118.4 652.5,118.4 653.1,118.4 653.7,118.4 654.3,118.4 654.9,118.4 655.5,118.5 656.1,118.5 656.7,118.5 657.3,118.5 657.9,118.5 658.5,118.5 659.1,118.5 659.7,118.5 660.3,118.5 660.9,118.5 661.5,118.5" stroke="#2f9ee8" stroke-width="0.7" fill="none" stroke-opacity="0.9"/>
<line x1="394.5" y1="118.6" x2="671" y2="118.6" stroke="#e07ccc" stroke-width="1.3"/>
<polyline points="505.9,117.3 506.9,117.1 507.9,116.8 508.9,116.4 509.9,116.1 510.9,115.9 511.9,115.6 512.9,115.4 513.9,115.2 514.9,115.1 515.9,115.1 516.9,115 517.9,115 518.9,115 519.9,115 520.9,114.9 521.9,114.9 522.9,114.9 523.9,114.9 524.9,114.9 525.9,114.8 526.9,114.8 527.9,114.6 528.9,114.4 529.9,114.2 530.9,113.9 531.9,113.6 532.9,113.2 533.9,112.8 534.9,112.4 535.9,112 536.9,111.7 537.9,111.3 538.9,111 539.9,110.7 540.9,110.4 541.9,110.1 542.9,109.8 543.9,109.5 544.9,109.3 545.9,109 546.9,108.7 547.9,108.4 548.9,108.1 549.9,107.8 550.9,107.5 551.9,107.1 552.9,106.7 553.9,106.3 554.9,105.9 555.9,105.5 556.9,105 557.9,104.5 558.9,104 559.9,103.5 560.9,102.9 561.9,102.4 562.9,101.8 563.9,101.3 564.9,100.7 565.9,100.2 566.9,99.6 567.9,99 568.9,98.4 569.9,97.7 570.9,97 571.9,96.4 572.9,95.7 573.9,95.1 574.9,94.4 575.9,93.8 576.9,93.3 577.9,92.8 578.9,92.4 579.9,91.9 580.9,91.5 581.9,91 582.9,90.6 583.9,90.2 584.9,89.8 585.9,89.5 586.9,89.3 587.9,89.1 588.9,89 589.9,89 590.9,89.3 591.9,89.7 592.9,90.2 593.9,90.7 594.9,91.3 595.9,91.8 596.9,92.4 597.9,93.1 598.9,93.8 599.9,94.5 600.9,95.2 601.9,96 602.9,96.8 603.9,97.6 604.9,98.3 605.9,99.1 606.9,100 607.9,100.8 608.9,101.7 609.9,102.7 610.9,103.6 611.9,104.5 612.9,105.4 613.9,106.3 614.9,107.1 615.9,107.9 616.9,108.7 617.9,109.3 618.9,109.9 619.9,110.5 620.9,111 621.9,111.6 622.9,112.1 623.9,112.6 624.9,113.1 625.9,113.6 626.9,114 627.9,114.4 628.9,114.7 629.9,115.1 630.9,115.4 631.9,115.6 632.9,115.9 633.9,116.1 634.9,116.3 635.9,116.6 636.9,116.8 637.9,117 638.9,117.2 639.9,117.4 640.9,117.5 641.9,117.7 642.9,117.8 643.9,117.9 644.9,118 645.9,118.1 646.9,118.2 647.9,118.2 648.9,118.3 649.9,118.3 650.9,118.4 651.9,118.4 652.9,118.5 653.9,118.5 654.9,118.6 655.9,118.6 656.9,118.6 657.9,118.7 658.9,118.7 659.9,118.7 660.9,118.8 661.9,118.8 662.9,118.8 663.9,118.8 664.9,118.9 665.9,118.9 666.9,118.9 667.9,118.9 668.9,118.9 669.9,118.9" stroke="#e67ccc" stroke-width="1.3" fill="none"/>
<polygon points="476.1,156.2 476.1,156.1 476.7,156.1 477.3,156.1 477.9,156.1 478.5,156.1 479.1,156.1 479.7,156.1 480.3,156.1 480.9,156.1 481.5,156.1 482.1,156.1 482.7,156.1 483.3,156.1 483.9,156 484.5,156 485.1,156 485.7,156 486.3,156 486.9,156 487.5,156 488.1,155.9 488.7,155.9 489.3,155.9 489.9,155.9 490.5,155.9 491.1,155.8 491.7,155.8 492.3,155.8 492.9,155.7 493.5,155.7 494.1,155.7 494.7,155.6 495.3,155.6 495.9,155.6 496.5,155.5 497.1,155.5 497.7,155.4 498.3,155.4 498.9,155.3 499.5,155.3 500.1,155.2 500.7,155.2 501.3,155.1 501.9,155 502.5,155 503.1,154.9 503.7,154.8 504.3,154.7 504.9,154.7 505.5,154.6 506.1,154.5 506.7,154.4 507.3,154.3 507.9,154.2 508.5,154.1 509.1,154 509.7,153.9 510.3,153.8 510.9,153.7 511.5,153.5 512.1,153.4 512.7,153.3 513.3,153.2 513.9,153 514.5,152.9 515.1,152.8 515.7,152.6 516.3,152.5 516.9,152.3 517.5,152.2 518.1,152 518.7,151.9 519.3,151.7 519.9,151.6 520.5,151.4 521.1,151.2 521.7,151.1 522.3,150.9 522.9,150.7 523.5,150.6 524.1,150.4 524.7,150.2 525.3,150 525.9,149.9 526.5,149.7 527.1,149.5 527.7,149.3 528.3,149.2 528.9,149 529.5,148.8 530.1,148.7 530.7,148.5 531.3,148.3 531.9,148.2 532.5,148 533.1,147.9 533.7,147.7 534.3,147.6 534.9,147.4 535.5,147.3 536.1,147.1 536.7,147 537.3,146.9 537.9,146.8 538.5,146.6 539.1,146.5 539.7,146.4 540.3,146.3 540.9,146.2 541.5,146.1 542.1,146.1 542.7,146 543.3,145.9 543.9,145.9 544.5,145.8 545.1,145.8 545.7,145.8 546.3,145.7 546.9,145.7 547.5,145.7 548.1,145.7 548.7,145.7 549.3,145.7 549.9,145.7 550.5,145.8 551.1,145.8 551.7,145.8 552.3,145.9 552.9,145.9 553.5,146 554.1,146 554.7,146.1 555.3,146.2 555.9,146.3 556.5,146.3 557.1,146.4 557.7,146.5 558.3,146.6 558.9,146.7 559.5,146.8 560.1,147 560.7,147.1 561.3,147.2 561.9,147.3 562.5,147.5 563.1,147.6 563.7,147.7 564.3,147.9 564.9,148 565.5,148.2 566.1,148.3 566.7,148.4 567.3,148.6 567.9,148.8 568.5,148.9 569.1,149.1 569.7,149.2 570.3,149.4 570.9,149.5 571.5,149.7 572.1,149.9 572.7,150 573.3,150.2 573.9,150.3 574.5,150.5 575.1,150.6 575.7,150.8 576.3,151 576.9,151.1 577.5,151.3 578.1,151.4 578.7,151.6 579.3,151.7 579.9,151.9 580.5,152 581.1,152.1 581.7,152.3 582.3,152.4 582.9,152.6 583.5,152.7 584.1,152.8 584.7,152.9 585.3,153.1 585.9,153.2 586.5,153.3 587.1,153.4 587.7,153.5 588.3,153.6 588.9,153.7 589.5,153.8 590.1,153.9 590.7,154 591.3,154.1 591.9,154.2 592.5,154.3 593.1,154.4 593.7,154.5 594.3,154.6 594.9,154.6 595.5,154.7 596.1,154.8 596.7,154.9 597.3,154.9 597.9,155 598.5,155.1 599.1,155.1 599.7,155.2 600.3,155.2 600.9,155.3 601.5,155.3 602.1,155.4 602.7,155.4 603.3,155.5 603.9,155.5 604.5,155.5 605.1,155.6 605.7,155.6 606.3,155.7 606.9,155.7 607.5,155.7 608.1,155.7 608.7,155.8 609.3,155.8 609.9,155.8 610.5,155.8 611.1,155.9 611.7,155.9 612.3,155.9 612.9,155.9 613.5,155.9 614.1,156 614.7,156 615.3,156 615.9,156 616.5,156 617.1,156 617.7,156 618.3,156.1 618.9,156.1 619.5,156.1 620.1,156.1 620.7,156.1 621.3,156.1 621.9,156.1 622.5,156.1 623.1,156.1 623.7,156.1 624.3,156.1 624.9,156.1 625.5,156.1 626.1,156.1 626.1,156.2" stroke="none" stroke-width="1" fill="#eb0000" fill-opacity="0.52"/>
<polyline points="476.1,156.1 476.7,156.1 477.3,156.1 477.9,156.1 478.5,156.1 479.1,156.1 479.7,156.1 480.3,156.1 480.9,156.1 481.5,156.1 482.1,156.1 482.7,156.1 483.3,156.1 483.9,156 484.5,156 485.1,156 485.7,156 486.3,156 486.9,156 487.5,156 488.1,155.9 488.7,155.9 489.3,155.9 489.9,155.9 490.5,155.9 491.1,155.8 491.7,155.8 492.3,155.8 492.9,155.7 493.5,155.7 494.1,155.7 494.7,155.6 495.3,155.6 495.9,155.6 496.5,155.5 497.1,155.5 497.7,155.4 498.3,155.4 498.9,155.3 499.5,155.3 500.1,155.2 500.7,155.2 501.3,155.1 501.9,155 502.5,155 503.1,154.9 503.7,154.8 504.3,154.7 504.9,154.7 505.5,154.6 506.1,154.5 506.7,154.4 507.3,154.3 507.9,154.2 508.5,154.1 509.1,154 509.7,153.9 510.3,153.8 510.9,153.7 511.5,153.5 512.1,153.4 512.7,153.3 513.3,153.2 513.9,153 514.5,152.9 515.1,152.8 515.7,152.6 516.3,152.5 516.9,152.3 517.5,152.2 518.1,152 518.7,151.9 519.3,151.7 519.9,151.6 520.5,151.4 521.1,151.2 521.7,151.1 522.3,150.9 522.9,150.7 523.5,150.6 524.1,150.4 524.7,150.2 525.3,150 525.9,149.9 526.5,149.7 527.1,149.5 527.7,149.3 528.3,149.2 528.9,149 529.5,148.8 530.1,148.7 530.7,148.5 531.3,148.3 531.9,148.2 532.5,148 533.1,147.9 533.7,147.7 534.3,147.6 534.9,147.4 535.5,147.3 536.1,147.1 536.7,147 537.3,146.9 537.9,146.8 538.5,146.6 539.1,146.5 539.7,146.4 540.3,146.3 540.9,146.2 541.5,146.1 542.1,146.1 542.7,146 543.3,145.9 543.9,145.9 544.5,145.8 545.1,145.8 545.7,145.8 546.3,145.7 546.9,145.7 547.5,145.7 548.1,145.7 548.7,145.7 549.3,145.7 549.9,145.7 550.5,145.8 551.1,145.8 551.7,145.8 552.3,145.9 552.9,145.9 553.5,146 554.1,146 554.7,146.1 555.3,146.2 555.9,146.3 556.5,146.3 557.1,146.4 557.7,146.5 558.3,146.6 558.9,146.7 559.5,146.8 560.1,147 560.7,147.1 561.3,147.2 561.9,147.3 562.5,147.5 563.1,147.6 563.7,147.7 564.3,147.9 564.9,148 565.5,148.2 566.1,148.3 566.7,148.4 567.3,148.6 567.9,148.8 568.5,148.9 569.1,149.1 569.7,149.2 570.3,149.4 570.9,149.5 571.5,149.7 572.1,149.9 572.7,150 573.3,150.2 573.9,150.3 574.5,150.5 575.1,150.6 575.7,150.8 576.3,151 576.9,151.1 577.5,151.3 578.1,151.4 578.7,151.6 579.3,151.7 579.9,151.9 580.5,152 581.1,152.1 581.7,152.3 582.3,152.4 582.9,152.6 583.5,152.7 584.1,152.8 584.7,152.9 585.3,153.1 585.9,153.2 586.5,153.3 587.1,153.4 587.7,153.5 588.3,153.6 588.9,153.7 589.5,153.8 590.1,153.9 590.7,154 591.3,154.1 591.9,154.2 592.5,154.3 593.1,154.4 593.7,154.5 594.3,154.6 594.9,154.6 595.5,154.7 596.1,154.8 596.7,154.9 597.3,154.9 597.9,155 598.5,155.1 599.1,155.1 599.7,155.2 600.3,155.2 600.9,155.3 601.5,155.3 602.1,155.4 602.7,155.4 603.3,155.5 603.9,155.5 604.5,155.5 605.1,155.6 605.7,155.6 606.3,155.7 606.9,155.7 607.5,155.7 608.1,155.7 608.7,155.8 609.3,155.8 609.9,155.8 610.5,155.8 611.1,155.9 611.7,155.9 612.3,155.9 612.9,155.9 613.5,155.9 614.1,156 614.7,156 615.3,156 615.9,156 616.5,156 617.1,156 617.7,156 618.3,156.1 618.9,156.1 619.5,156.1 620.1,156.1 620.7,156.1 621.3,156.1 621.9,156.1 622.5,156.1 623.1,156.1 623.7,156.1 624.3,156.1 624.9,156.1 625.5,156.1 626.1,156.1" stroke="#e8303c" stroke-width="0.7" fill="none" stroke-opacity="0.9"/>
<polygon points="512.1,156.2 512.1,156.1 512.7,156.1 513.3,156.1 513.9,156.1 514.5,156.1 515.1,156.1 515.7,156.1 516.3,156.1 516.9,156.1 517.5,156.1 518.1,156 518.7,156 519.3,156 519.9,156 520.5,156 521.1,155.9 521.7,155.9 522.3,155.9 522.9,155.9 523.5,155.8 524.1,155.8 524.7,155.7 525.3,155.7 525.9,155.7 526.5,155.6 527.1,155.5 527.7,155.5 528.3,155.4 528.9,155.4 529.5,155.3 530.1,155.2 530.7,155.1 531.3,155 531.9,154.9 532.5,154.8 533.1,154.7 533.7,154.6 534.3,154.5 534.9,154.4 535.5,154.2 536.1,154.1 536.7,153.9 537.3,153.8 537.9,153.6 538.5,153.4 539.1,153.2 539.7,153 540.3,152.8 540.9,152.6 541.5,152.3 542.1,152.1 542.7,151.8 543.3,151.6 543.9,151.3 544.5,151 545.1,150.7 545.7,150.4 546.3,150.1 546.9,149.7 547.5,149.4 548.1,149 548.7,148.6 549.3,148.3 549.9,147.9 550.5,147.5 551.1,147 551.7,146.6 552.3,146.2 552.9,145.7 553.5,145.3 554.1,144.8 554.7,144.3 555.3,143.9 555.9,143.4 556.5,142.9 557.1,142.4 557.7,141.9 558.3,141.4 558.9,140.9 559.5,140.4 560.1,139.9 560.7,139.4 561.3,138.9 561.9,138.4 562.5,137.9 563.1,137.4 563.7,136.9 564.3,136.4 564.9,135.9 565.5,135.5 566.1,135 566.7,134.6 567.3,134.1 567.9,133.7 568.5,133.3 569.1,132.9 569.7,132.6 570.3,132.2 570.9,131.9 571.5,131.6 572.1,131.3 572.7,131 573.3,130.8 573.9,130.6 574.5,130.4 575.1,130.2 575.7,130.1 576.3,129.9 576.9,129.8 577.5,129.8 578.1,129.7 578.7,129.7 579.3,129.7 579.9,129.7 580.5,129.7 581.1,129.8 581.7,129.8 582.3,129.9 582.9,130 583.5,130 584.1,130.1 584.7,130.2 585.3,130.4 585.9,130.5 586.5,130.6 587.1,130.8 587.7,130.9 588.3,131.1 588.9,131.3 589.5,131.4 590.1,131.6 590.7,131.8 591.3,132.1 591.9,132.3 592.5,132.5 593.1,132.7 593.7,133 594.3,133.2 594.9,133.5 595.5,133.7 596.1,134 596.7,134.3 597.3,134.6 597.9,134.9 598.5,135.2 599.1,135.5 599.7,135.8 600.3,136.1 600.9,136.4 601.5,136.7 602.1,137 602.7,137.3 603.3,137.7 603.9,138 604.5,138.3 605.1,138.6 605.7,139 606.3,139.3 606.9,139.6 607.5,140 608.1,140.3 608.7,140.6 609.3,141 609.9,141.3 610.5,141.6 611.1,141.9 611.7,142.3 612.3,142.6 612.9,142.9 613.5,143.2 614.1,143.6 614.7,143.9 615.3,144.2 615.9,144.5 616.5,144.8 617.1,145.1 617.7,145.4 618.3,145.7 618.9,146 619.5,146.3 620.1,146.6 620.7,146.9 621.3,147.1 621.9,147.4 622.5,147.7 623.1,147.9 623.7,148.2 624.3,148.5 624.9,148.7 625.5,149 626.1,149.2 626.7,149.4 627.3,149.7 627.9,149.9 628.5,150.1 629.1,150.3 629.7,150.5 630.3,150.7 630.9,150.9 631.5,151.1 632.1,151.3 632.7,151.5 633.3,151.7 633.9,151.8 634.5,152 635.1,152.2 635.7,152.3 636.3,152.5 636.9,152.6 637.5,152.8 638.1,152.9 638.7,153.1 639.3,153.2 639.9,153.3 640.5,153.4 641.1,153.6 641.7,153.7 642.3,153.8 642.9,153.9 643.5,154 644.1,154.1 644.7,154.2 645.3,154.3 645.9,154.4 646.5,154.5 647.1,154.5 647.7,154.6 648.3,154.7 648.9,154.8 649.5,154.8 650.1,154.9 650.7,155 651.3,155 651.9,155.1 652.5,155.2 653.1,155.2 653.7,155.3 654.3,155.3 654.9,155.4 655.5,155.4 656.1,155.4 656.7,155.5 657.3,155.5 657.9,155.6 658.5,155.6 659.1,155.6 659.7,155.7 660.3,155.7 660.9,155.7 661.5,155.7 662.1,155.8 662.7,155.8 663.3,155.8 663.9,155.8 664.5,155.9 665.1,155.9 665.7,155.9 666.3,155.9 666.9,155.9 667.5,156 668.1,156 668.7,156 669.3,156 669.9,156 670.5,156 670.5,156.2" stroke="none" stroke-width="1" fill="#00a0f0" fill-opacity="0.45"/>
<polyline points="512.1,156.1 512.7,156.1 513.3,156.1 513.9,156.1 514.5,156.1 515.1,156.1 515.7,156.1 516.3,156.1 516.9,156.1 517.5,156.1 518.1,156 518.7,156 519.3,156 519.9,156 520.5,156 521.1,155.9 521.7,155.9 522.3,155.9 522.9,155.9 523.5,155.8 524.1,155.8 524.7,155.7 525.3,155.7 525.9,155.7 526.5,155.6 527.1,155.5 527.7,155.5 528.3,155.4 528.9,155.4 529.5,155.3 530.1,155.2 530.7,155.1 531.3,155 531.9,154.9 532.5,154.8 533.1,154.7 533.7,154.6 534.3,154.5 534.9,154.4 535.5,154.2 536.1,154.1 536.7,153.9 537.3,153.8 537.9,153.6 538.5,153.4 539.1,153.2 539.7,153 540.3,152.8 540.9,152.6 541.5,152.3 542.1,152.1 542.7,151.8 543.3,151.6 543.9,151.3 544.5,151 545.1,150.7 545.7,150.4 546.3,150.1 546.9,149.7 547.5,149.4 548.1,149 548.7,148.6 549.3,148.3 549.9,147.9 550.5,147.5 551.1,147 551.7,146.6 552.3,146.2 552.9,145.7 553.5,145.3 554.1,144.8 554.7,144.3 555.3,143.9 555.9,143.4 556.5,142.9 557.1,142.4 557.7,141.9 558.3,141.4 558.9,140.9 559.5,140.4 560.1,139.9 560.7,139.4 561.3,138.9 561.9,138.4 562.5,137.9 563.1,137.4 563.7,136.9 564.3,136.4 564.9,135.9 565.5,135.5 566.1,135 566.7,134.6 567.3,134.1 567.9,133.7 568.5,133.3 569.1,132.9 569.7,132.6 570.3,132.2 570.9,131.9 571.5,131.6 572.1,131.3 572.7,131 573.3,130.8 573.9,130.6 574.5,130.4 575.1,130.2 575.7,130.1 576.3,129.9 576.9,129.8 577.5,129.8 578.1,129.7 578.7,129.7 579.3,129.7 579.9,129.7 580.5,129.7 581.1,129.8 581.7,129.8 582.3,129.9 582.9,130 583.5,130 584.1,130.1 584.7,130.2 585.3,130.4 585.9,130.5 586.5,130.6 587.1,130.8 587.7,130.9 588.3,131.1 588.9,131.3 589.5,131.4 590.1,131.6 590.7,131.8 591.3,132.1 591.9,132.3 592.5,132.5 593.1,132.7 593.7,133 594.3,133.2 594.9,133.5 595.5,133.7 596.1,134 596.7,134.3 597.3,134.6 597.9,134.9 598.5,135.2 599.1,135.5 599.7,135.8 600.3,136.1 600.9,136.4 601.5,136.7 602.1,137 602.7,137.3 603.3,137.7 603.9,138 604.5,138.3 605.1,138.6 605.7,139 606.3,139.3 606.9,139.6 607.5,140 608.1,140.3 608.7,140.6 609.3,141 609.9,141.3 610.5,141.6 611.1,141.9 611.7,142.3 612.3,142.6 612.9,142.9 613.5,143.2 614.1,143.6 614.7,143.9 615.3,144.2 615.9,144.5 616.5,144.8 617.1,145.1 617.7,145.4 618.3,145.7 618.9,146 619.5,146.3 620.1,146.6 620.7,146.9 621.3,147.1 621.9,147.4 622.5,147.7 623.1,147.9 623.7,148.2 624.3,148.5 624.9,148.7 625.5,149 626.1,149.2 626.7,149.4 627.3,149.7 627.9,149.9 628.5,150.1 629.1,150.3 629.7,150.5 630.3,150.7 630.9,150.9 631.5,151.1 632.1,151.3 632.7,151.5 633.3,151.7 633.9,151.8 634.5,152 635.1,152.2 635.7,152.3 636.3,152.5 636.9,152.6 637.5,152.8 638.1,152.9 638.7,153.1 639.3,153.2 639.9,153.3 640.5,153.4 641.1,153.6 641.7,153.7 642.3,153.8 642.9,153.9 643.5,154 644.1,154.1 644.7,154.2 645.3,154.3 645.9,154.4 646.5,154.5 647.1,154.5 647.7,154.6 648.3,154.7 648.9,154.8 649.5,154.8 650.1,154.9 650.7,155 651.3,155 651.9,155.1 652.5,155.2 653.1,155.2 653.7,155.3 654.3,155.3 654.9,155.4 655.5,155.4 656.1,155.4 656.7,155.5 657.3,155.5 657.9,155.6 658.5,155.6 659.1,155.6 659.7,155.7 660.3,155.7 660.9,155.7 661.5,155.7 662.1,155.8 662.7,155.8 663.3,155.8 663.9,155.8 664.5,155.9 665.1,155.9 665.7,155.9 666.3,155.9 666.9,155.9 667.5,156 668.1,156 668.7,156 669.3,156 669.9,156 670.5,156" stroke="#2f9ee8" stroke-width="0.7" fill="none" stroke-opacity="0.9"/>
<line x1="394.5" y1="156.2" x2="671" y2="156.2" stroke="#e07ccc" stroke-width="1.3"/>
<polyline points="497.9,154 498.9,153.6 499.9,153.1 500.9,152.8 501.9,152.4 502.9,152.1 503.9,151.7 504.9,151.3 505.9,151 506.9,150.6 507.9,150.3 508.9,149.9 509.9,149.6 510.9,149.3 511.9,148.9 512.9,148.6 513.9,148.3 514.9,148.1 515.9,147.8 516.9,147.5 517.9,147.3 518.9,147.1 519.9,146.8 520.9,146.6 521.9,146.3 522.9,146.1 523.9,145.8 524.9,145.5 525.9,145.1 526.9,144.8 527.9,144.4 528.9,143.9 529.9,143.4 530.9,142.9 531.9,142.4 532.9,141.8 533.9,141.3 534.9,140.7 535.9,140.2 536.9,139.6 537.9,139.1 538.9,138.6 539.9,138.2 540.9,137.8 541.9,137.3 542.9,137 543.9,136.6 544.9,136.2 545.9,135.8 546.9,135.4 547.9,135.1 548.9,134.7 549.9,134.3 550.9,133.8 551.9,133.4 552.9,132.9 553.9,132.4 554.9,131.8 555.9,131.2 556.9,130.6 557.9,130 558.9,129.3 559.9,128.7 560.9,128 561.9,127.4 562.9,126.8 563.9,126.2 564.9,125.7 565.9,125.2 566.9,124.7 567.9,124.1 568.9,123.7 569.9,123.3 570.9,123.2 571.9,123.2 572.9,123.3 573.9,123.3 574.9,123.5 575.9,123.6 576.9,123.7 577.9,123.9 578.9,124 579.9,124.2 580.9,124.4 581.9,124.7 582.9,125.1 583.9,125.4 584.9,125.9 585.9,126.3 586.9,126.7 587.9,127.2 588.9,127.7 589.9,128.2 590.9,128.7 591.9,129.2 592.9,129.6 593.9,130.2 594.9,130.7 595.9,131.3 596.9,131.9 597.9,132.5 598.9,133.2 599.9,133.8 600.9,134.5 601.9,135.1 602.9,135.7 603.9,136.4 604.9,137 605.9,137.6 606.9,138.2 607.9,138.8 608.9,139.4 609.9,140.1 610.9,140.7 611.9,141.3 612.9,141.9 613.9,142.5 614.9,143.1 615.9,143.7 616.9,144.3 617.9,144.8 618.9,145.4 619.9,145.9 620.9,146.5 621.9,147 622.9,147.6 623.9,148.1 624.9,148.6 625.9,149.1 626.9,149.6 627.9,150.1 628.9,150.5 629.9,150.9 630.9,151.3 631.9,151.7 632.9,152 633.9,152.3 634.9,152.7 635.9,153 636.9,153.3 637.9,153.6 638.9,153.9 639.9,154.2 640.9,154.5 641.9,154.7 642.9,154.9 643.9,155.1 644.9,155.3 645.9,155.4 646.9,155.5 647.9,155.6 648.9,155.6 649.9,155.7 650.9,155.8 651.9,155.8 652.9,155.9 653.9,155.9 654.9,156 655.9,156 656.9,156.1 657.9,156.1 658.9,156.2 659.9,156.2 660.9,156.2 661.9,156.3 662.9,156.3 663.9,156.3 664.9,156.3 665.9,156.4 666.9,156.4 667.9,156.4 668.9,156.4 669.9,156.4" stroke="#e67ccc" stroke-width="1.3" fill="none"/>
<polygon points="470.7,201.8 470.7,201.7 471.3,201.7 471.9,201.7 472.5,201.7 473.1,201.7 473.7,201.7 474.3,201.7 474.9,201.7 475.5,201.7 476.1,201.7 476.7,201.7 477.3,201.6 477.9,201.6 478.5,201.6 479.1,201.6 479.7,201.6 480.3,201.5 480.9,201.5 481.5,201.5 482.1,201.5 482.7,201.4 483.3,201.4 483.9,201.4 484.5,201.3 485.1,201.3 485.7,201.3 486.3,201.2 486.9,201.2 487.5,201.1 488.1,201.1 488.7,201 489.3,200.9 489.9,200.9 490.5,200.8 491.1,200.7 491.7,200.7 492.3,200.6 492.9,200.5 493.5,200.4 494.1,200.3 494.7,200.2 495.3,200.1 495.9,199.9 496.5,199.8 497.1,199.7 497.7,199.6 498.3,199.4 498.9,199.3 499.5,199.1 500.1,198.9 500.7,198.8 501.3,198.6 501.9,198.4 502.5,198.2 503.1,198 503.7,197.8 504.3,197.6 504.9,197.4 505.5,197.1 506.1,196.9 506.7,196.6 507.3,196.4 507.9,196.1 508.5,195.8 509.1,195.6 509.7,195.3 510.3,195 510.9,194.7 511.5,194.4 512.1,194.1 512.7,193.7 513.3,193.4 513.9,193.1 514.5,192.8 515.1,192.4 515.7,192.1 516.3,191.7 516.9,191.4 517.5,191 518.1,190.7 518.7,190.3 519.3,190 519.9,189.6 520.5,189.3 521.1,188.9 521.7,188.6 522.3,188.2 522.9,187.9 523.5,187.5 524.1,187.2 524.7,186.9 525.3,186.5 525.9,186.2 526.5,185.9 527.1,185.6 527.7,185.3 528.3,185 528.9,184.8 529.5,184.5 530.1,184.3 530.7,184 531.3,183.8 531.9,183.6 532.5,183.4 533.1,183.2 533.7,183 534.3,182.9 534.9,182.8 535.5,182.6 536.1,182.5 536.7,182.5 537.3,182.4 537.9,182.3 538.5,182.3 539.1,182.3 539.7,182.3 540.3,182.3 540.9,182.4 541.5,182.5 542.1,182.6 542.7,182.7 543.3,182.8 543.9,183 544.5,183.2 545.1,183.4 545.7,183.6 546.3,183.9 546.9,184.2 547.5,184.4 548.1,184.7 548.7,185.1 549.3,185.4 549.9,185.7 550.5,186.1 551.1,186.5 551.7,186.9 552.3,187.2 552.9,187.6 553.5,188 554.1,188.5 554.7,188.9 555.3,189.3 555.9,189.7 556.5,190.1 557.1,190.5 557.7,190.9 558.3,191.4 558.9,191.8 559.5,192.2 560.1,192.6 560.7,193 561.3,193.4 561.9,193.7 562.5,194.1 563.1,194.5 563.7,194.8 564.3,195.2 564.9,195.5 565.5,195.9 566.1,196.2 566.7,196.5 567.3,196.8 567.9,197.1 568.5,197.3 569.1,197.6 569.7,197.9 570.3,198.1 570.9,198.3 571.5,198.6 572.1,198.8 572.7,199 573.3,199.2 573.9,199.3 574.5,199.5 575.1,199.7 575.7,199.8 576.3,200 576.9,200.1 577.5,200.2 578.1,200.4 578.7,200.5 579.3,200.6 579.9,200.7 580.5,200.8 581.1,200.9 581.7,200.9 582.3,201 582.9,201.1 583.5,201.1 584.1,201.2 584.7,201.2 585.3,201.3 585.9,201.3 586.5,201.4 587.1,201.4 587.7,201.5 588.3,201.5 588.9,201.5 589.5,201.6 590.1,201.6 590.7,201.6 591.3,201.6 591.9,201.6 592.5,201.7 593.1,201.7 593.7,201.7 594.3,201.7 594.9,201.7 595.5,201.7 596.1,201.7 596.7,201.7 597.3,201.7 597.9,201.7 597.9,201.8" stroke="none" stroke-width="1" fill="#eb0000" fill-opacity="0.52"/>
<polyline points="470.7,201.7 471.3,201.7 471.9,201.7 472.5,201.7 473.1,201.7 473.7,201.7 474.3,201.7 474.9,201.7 475.5,201.7 476.1,201.7 476.7,201.7 477.3,201.6 477.9,201.6 478.5,201.6 479.1,201.6 479.7,201.6 480.3,201.5 480.9,201.5 481.5,201.5 482.1,201.5 482.7,201.4 483.3,201.4 483.9,201.4 484.5,201.3 485.1,201.3 485.7,201.3 486.3,201.2 486.9,201.2 487.5,201.1 488.1,201.1 488.7,201 489.3,200.9 489.9,200.9 490.5,200.8 491.1,200.7 491.7,200.7 492.3,200.6 492.9,200.5 493.5,200.4 494.1,200.3 494.7,200.2 495.3,200.1 495.9,199.9 496.5,199.8 497.1,199.7 497.7,199.6 498.3,199.4 498.9,199.3 499.5,199.1 500.1,198.9 500.7,198.8 501.3,198.6 501.9,198.4 502.5,198.2 503.1,198 503.7,197.8 504.3,197.6 504.9,197.4 505.5,197.1 506.1,196.9 506.7,196.6 507.3,196.4 507.9,196.1 508.5,195.8 509.1,195.6 509.7,195.3 510.3,195 510.9,194.7 511.5,194.4 512.1,194.1 512.7,193.7 513.3,193.4 513.9,193.1 514.5,192.8 515.1,192.4 515.7,192.1 516.3,191.7 516.9,191.4 517.5,191 518.1,190.7 518.7,190.3 519.3,190 519.9,189.6 520.5,189.3 521.1,188.9 521.7,188.6 522.3,188.2 522.9,187.9 523.5,187.5 524.1,187.2 524.7,186.9 525.3,186.5 525.9,186.2 526.5,185.9 527.1,185.6 527.7,185.3 528.3,185 528.9,184.8 529.5,184.5 530.1,184.3 530.7,184 531.3,183.8 531.9,183.6 532.5,183.4 533.1,183.2 533.7,183 534.3,182.9 534.9,182.8 535.5,182.6 536.1,182.5 536.7,182.5 537.3,182.4 537.9,182.3 538.5,182.3 539.1,182.3 539.7,182.3 540.3,182.3 540.9,182.4 541.5,182.5 542.1,182.6 542.7,182.7 543.3,182.8 543.9,183 544.5,183.2 545.1,183.4 545.7,183.6 546.3,183.9 546.9,184.2 547.5,184.4 548.1,184.7 548.7,185.1 549.3,185.4 549.9,185.7 550.5,186.1 551.1,186.5 551.7,186.9 552.3,187.2 552.9,187.6 553.5,188 554.1,188.5 554.7,188.9 555.3,189.3 555.9,189.7 556.5,190.1 557.1,190.5 557.7,190.9 558.3,191.4 558.9,191.8 559.5,192.2 560.1,192.6 560.7,193 561.3,193.4 561.9,193.7 562.5,194.1 563.1,194.5 563.7,194.8 564.3,195.2 564.9,195.5 565.5,195.9 566.1,196.2 566.7,196.5 567.3,196.8 567.9,197.1 568.5,197.3 569.1,197.6 569.7,197.9 570.3,198.1 570.9,198.3 571.5,198.6 572.1,198.8 572.7,199 573.3,199.2 573.9,199.3 574.5,199.5 575.1,199.7 575.7,199.8 576.3,200 576.9,200.1 577.5,200.2 578.1,200.4 578.7,200.5 579.3,200.6 579.9,200.7 580.5,200.8 581.1,200.9 581.7,200.9 582.3,201 582.9,201.1 583.5,201.1 584.1,201.2 584.7,201.2 585.3,201.3 585.9,201.3 586.5,201.4 587.1,201.4 587.7,201.5 588.3,201.5 588.9,201.5 589.5,201.6 590.1,201.6 590.7,201.6 591.3,201.6 591.9,201.6 592.5,201.7 593.1,201.7 593.7,201.7 594.3,201.7 594.9,201.7 595.5,201.7 596.1,201.7 596.7,201.7 597.3,201.7 597.9,201.7" stroke="#e8303c" stroke-width="0.7" fill="none" stroke-opacity="0.9"/>
<polygon points="542.7,201.8 542.7,201.7 543.3,201.7 543.9,201.7 544.5,201.7 545.1,201.6 545.7,201.6 546.3,201.6 546.9,201.5 547.5,201.4 548.1,201.4 548.7,201.3 549.3,201.2 549.9,201 550.5,200.9 551.1,200.7 551.7,200.5 552.3,200.3 552.9,200 553.5,199.7 554.1,199.4 554.7,199 555.3,198.6 555.9,198.1 556.5,197.6 557.1,197 557.7,196.4 558.3,195.8 558.9,195.1 559.5,194.3 560.1,193.5 560.7,192.6 561.3,191.7 561.9,190.7 562.5,189.7 563.1,188.7 563.7,187.6 564.3,186.5 564.9,185.4 565.5,184.2 566.1,183.1 566.7,181.9 567.3,180.8 567.9,179.7 568.5,178.6 569.1,177.5 569.7,176.4 570.3,175.4 570.9,174.5 571.5,173.6 572.1,172.7 572.7,171.9 573.3,171.2 573.9,170.6 574.5,170 575.1,169.5 575.7,169 576.3,168.7 576.9,168.4 577.5,168.2 578.1,168 578.7,167.9 579.3,167.8 579.9,167.8 580.5,167.8 581.1,167.8 581.7,167.9 582.3,168.1 582.9,168.3 583.5,168.5 584.1,168.9 584.7,169.3 585.3,169.8 585.9,170.4 586.5,171 587.1,171.8 587.7,172.6 588.3,173.5 588.9,174.4 589.5,175.4 590.1,176.4 590.7,177.5 591.3,178.6 591.9,179.8 592.5,181 593.1,182.2 593.7,183.4 594.3,184.6 594.9,185.7 595.5,186.9 596.1,188 596.7,189.1 597.3,190.2 597.9,191.2 598.5,192.2 599.1,193.1 599.7,194 600.3,194.8 600.9,195.6 601.5,196.3 602.1,196.9 602.7,197.5 603.3,198.1 603.9,198.5 604.5,199 605.1,199.4 605.7,199.7 606.3,200 606.9,200.3 607.5,200.5 608.1,200.7 608.7,200.9 609.3,201.1 609.9,201.2 610.5,201.3 611.1,201.4 611.7,201.5 612.3,201.5 612.9,201.6 613.5,201.6 614.1,201.7 614.7,201.7 615.3,201.7 615.9,201.7 616.5,201.7 616.5,201.8" stroke="none" stroke-width="1" fill="#00a0f0" fill-opacity="0.45"/>
<polyline points="542.7,201.7 543.3,201.7 543.9,201.7 544.5,201.7 545.1,201.6 545.7,201.6 546.3,201.6 546.9,201.5 547.5,201.4 548.1,201.4 548.7,201.3 549.3,201.2 549.9,201 550.5,200.9 551.1,200.7 551.7,200.5 552.3,200.3 552.9,200 553.5,199.7 554.1,199.4 554.7,199 555.3,198.6 555.9,198.1 556.5,197.6 557.1,197 557.7,196.4 558.3,195.8 558.9,195.1 559.5,194.3 560.1,193.5 560.7,192.6 561.3,191.7 561.9,190.7 562.5,189.7 563.1,188.7 563.7,187.6 564.3,186.5 564.9,185.4 565.5,184.2 566.1,183.1 566.7,181.9 567.3,180.8 567.9,179.7 568.5,178.6 569.1,177.5 569.7,176.4 570.3,175.4 570.9,174.5 571.5,173.6 572.1,172.7 572.7,171.9 573.3,171.2 573.9,170.6 574.5,170 575.1,169.5 575.7,169 576.3,168.7 576.9,168.4 577.5,168.2 578.1,168 578.7,167.9 579.3,167.8 579.9,167.8 580.5,167.8 581.1,167.8 581.7,167.9 582.3,168.1 582.9,168.3 583.5,168.5 584.1,168.9 584.7,169.3 585.3,169.8 585.9,170.4 586.5,171 587.1,171.8 587.7,172.6 588.3,173.5 588.9,174.4 589.5,175.4 590.1,176.4 590.7,177.5 591.3,178.6 591.9,179.8 592.5,181 593.1,182.2 593.7,183.4 594.3,184.6 594.9,185.7 595.5,186.9 596.1,188 596.7,189.1 597.3,190.2 597.9,191.2 598.5,192.2 599.1,193.1 599.7,194 600.3,194.8 600.9,195.6 601.5,196.3 602.1,196.9 602.7,197.5 603.3,198.1 603.9,198.5 604.5,199 605.1,199.4 605.7,199.7 606.3,200 606.9,200.3 607.5,200.5 608.1,200.7 608.7,200.9 609.3,201.1 609.9,201.2 610.5,201.3 611.1,201.4 611.7,201.5 612.3,201.5 612.9,201.6 613.5,201.6 614.1,201.7 614.7,201.7 615.3,201.7 615.9,201.7 616.5,201.7" stroke="#2f9ee8" stroke-width="0.7" fill="none" stroke-opacity="0.9"/>
<polygon points="593.7,201.8 593.7,201.7 594.3,201.7 594.9,201.6 595.5,201.5 596.1,201.4 596.7,201.2 597.3,201 597.9,200.7 598.5,200.2 599.1,199.7 599.7,199 600.3,198.1 600.9,197.1 601.5,195.9 602.1,194.6 602.7,193.2 603.3,191.6 603.9,190 604.5,188.4 605.1,186.9 605.7,185.5 606.3,184.4 606.9,183.5 607.5,183 608.1,182.8 608.7,183 609.3,183.5 609.9,184.4 610.5,185.5 611.1,186.9 611.7,188.4 612.3,190 612.9,191.6 613.5,193.2 614.1,194.6 614.7,195.9 615.3,197.1 615.9,198.1 616.5,199 617.1,199.7 617.7,200.2 618.3,200.7 618.9,201 619.5,201.2 620.1,201.4 620.7,201.5 621.3,201.6 621.9,201.7 622.5,201.7 622.5,201.8" stroke="none" stroke-width="1" fill="#10c030" fill-opacity="0.7"/>
<polyline points="593.7,201.7 594.3,201.7 594.9,201.6 595.5,201.5 596.1,201.4 596.7,201.2 597.3,201 597.9,200.7 598.5,200.2 599.1,199.7 599.7,199 600.3,198.1 600.9,197.1 601.5,195.9 602.1,194.6 602.7,193.2 603.3,191.6 603.9,190 604.5,188.4 605.1,186.9 605.7,185.5 606.3,184.4 606.9,183.5 607.5,183 608.1,182.8 608.7,183 609.3,183.5 609.9,184.4 610.5,185.5 611.1,186.9 611.7,188.4 612.3,190 612.9,191.6 613.5,193.2 614.1,194.6 614.7,195.9 615.3,197.1 615.9,198.1 616.5,199 617.1,199.7 617.7,200.2 618.3,200.7 618.9,201 619.5,201.2 620.1,201.4 620.7,201.5 621.3,201.6 621.9,201.7 622.5,201.7" stroke="#1ccc2c" stroke-width="0.7" fill="none" stroke-opacity="0.9"/>
<polygon points="609.9,201.8 609.9,201.7 610.5,201.7 611.1,201.7 611.7,201.6 612.3,201.5 612.9,201.5 613.5,201.3 614.1,201.2 614.7,201 615.3,200.8 615.9,200.5 616.5,200.1 617.1,199.7 617.7,199.2 618.3,198.6 618.9,198 619.5,197.2 620.1,196.4 620.7,195.5 621.3,194.5 621.9,193.5 622.5,192.4 623.1,191.4 623.7,190.3 624.3,189.3 624.9,188.3 625.5,187.4 626.1,186.7 626.7,186 627.3,185.6 627.9,185.3 628.5,185.2 629.1,185.3 629.7,185.6 630.3,186 630.9,186.7 631.5,187.4 632.1,188.3 632.7,189.3 633.3,190.3 633.9,191.4 634.5,192.4 635.1,193.5 635.7,194.5 636.3,195.5 636.9,196.4 637.5,197.2 638.1,198 638.7,198.6 639.3,199.2 639.9,199.7 640.5,200.1 641.1,200.5 641.7,200.8 642.3,201 642.9,201.2 643.5,201.3 644.1,201.5 644.7,201.5 645.3,201.6 645.9,201.7 646.5,201.7 647.1,201.7 647.1,201.8" stroke="none" stroke-width="1" fill="#f58214" fill-opacity="0.6"/>
<polyline points="609.9,201.7 610.5,201.7 611.1,201.7 611.7,201.6 612.3,201.5 612.9,201.5 613.5,201.3 614.1,201.2 614.7,201 615.3,200.8 615.9,200.5 616.5,200.1 617.1,199.7 617.7,199.2 618.3,198.6 618.9,198 619.5,197.2 620.1,196.4 620.7,195.5 621.3,194.5 621.9,193.5 622.5,192.4 623.1,191.4 623.7,190.3 624.3,189.3 624.9,188.3 625.5,187.4 626.1,186.7 626.7,186 627.3,185.6 627.9,185.3 628.5,185.2 629.1,185.3 629.7,185.6 630.3,186 630.9,186.7 631.5,187.4 632.1,188.3 632.7,189.3 633.3,190.3 633.9,191.4 634.5,192.4 635.1,193.5 635.7,194.5 636.3,195.5 636.9,196.4 637.5,197.2 638.1,198 638.7,198.6 639.3,199.2 639.9,199.7 640.5,200.1 641.1,200.5 641.7,200.8 642.3,201 642.9,201.2 643.5,201.3 644.1,201.5 644.7,201.5 645.3,201.6 645.9,201.7 646.5,201.7 647.1,201.7" stroke="#f07c18" stroke-width="0.7" fill="none" stroke-opacity="0.9"/>
<polygon points="638.1,201.8 638.1,201.7 638.7,201.6 639.3,201.5 639.9,201.2 640.5,200.9 641.1,200.3 641.7,199.5 642.3,198.5 642.9,197.2 643.5,195.7 644.1,194.1 644.7,192.5 645.3,191 645.9,189.9 646.5,189.2 647.1,189.1 647.7,189.6 648.3,190.6 648.9,192 649.5,193.5 650.1,195.2 650.7,196.7 651.3,198.1 651.9,199.2 652.5,200.1 653.1,200.7 653.7,201.1 654.3,201.4 654.9,201.6 655.5,201.7 656.1,201.7 656.1,201.8" stroke="none" stroke-width="1" fill="#8c14eb" fill-opacity="0.7"/>
<polyline points="638.1,201.7 638.7,201.6 639.3,201.5 639.9,201.2 640.5,200.9 641.1,200.3 641.7,199.5 642.3,198.5 642.9,197.2 643.5,195.7 644.1,194.1 644.7,192.5 645.3,191 645.9,189.9 646.5,189.2 647.1,189.1 647.7,189.6 648.3,190.6 648.9,192 649.5,193.5 650.1,195.2 650.7,196.7 651.3,198.1 651.9,199.2 652.5,200.1 653.1,200.7 653.7,201.1 654.3,201.4 654.9,201.6 655.5,201.7 656.1,201.7" stroke="#8424e0" stroke-width="0.7" fill="none" stroke-opacity="0.9"/>
<line x1="394.5" y1="201.8" x2="671" y2="201.8" stroke="#b45ad8" stroke-width="1.3"/>
<polyline points="470.9,201.2 471.9,201.1 472.9,200.9 473.9,200.8 474.9,200.6 475.9,200.5 476.9,200.3 477.9,200.2 478.9,200.1 479.9,199.9 480.9,199.8 481.9,199.6 482.9,199.5 483.9,199.3 484.9,199.1 485.9,199 486.9,198.8 487.9,198.6 488.9,198.5 489.9,198.3 490.9,198.1 491.9,198 492.9,197.8 493.9,197.6 494.9,197.4 495.9,197.2 496.9,197.1 497.9,196.9 498.9,196.7 499.9,196.4 500.9,196.2 501.9,196 502.9,195.7 503.9,195.5 504.9,195.2 505.9,194.9 506.9,194.5 507.9,194.2 508.9,193.8 509.9,193.4 510.9,192.9 511.9,192.5 512.9,192 513.9,191.6 514.9,191.1 515.9,190.6 516.9,190.2 517.9,189.7 518.9,189.2 519.9,188.8 520.9,188.3 521.9,187.8 522.9,187.4 523.9,186.9 524.9,186.4 525.9,185.9 526.9,185.4 527.9,184.9 528.9,184.4 529.9,183.9 530.9,183.4 531.9,182.9 532.9,182.4 533.9,181.9 534.9,181.3 535.9,180.8 536.9,180.3 537.9,179.8 538.9,179.3 539.9,178.8 540.9,178.3 541.9,177.8 542.9,177.3 543.9,176.8 544.9,176.3 545.9,175.8 546.9,175.3 547.9,174.7 548.9,174.3 549.9,173.7 550.9,173.2 551.9,172.7 552.9,172.1 553.9,171.5 554.9,171 555.9,170.5 556.9,169.9 557.9,169.5 558.9,169 559.9,168.6 560.9,168.2 561.9,167.9 562.9,167.7 563.9,167.4 564.9,167.2 565.9,167 566.9,166.8 567.9,166.6 568.9,166.5 569.9,166.3 570.9,166.1 571.9,165.9 572.9,165.7 573.9,165.5 574.9,165.3 575.9,165 576.9,164.8 577.9,164.7 578.9,164.6 579.9,164.5 580.9,164.6 581.9,164.9 582.9,165.3 583.9,165.9 584.9,166.6 585.9,167.2 586.9,167.9 587.9,168.4 588.9,168.9 589.9,169.4 590.9,169.9 591.9,170.4 592.9,170.8 593.9,171 594.9,171 595.9,170.8 596.9,170.4 597.9,169.9 598.9,169.4 599.9,168.9 600.9,168.4 601.9,168 602.9,167.6 603.9,167.3 604.9,167 605.9,166.7 606.9,166.4 607.9,166.1 608.9,165.9 609.9,165.7 610.9,165.5 611.9,166.1 612.9,169.4 613.9,171.6 614.9,173.3 615.9,174.8 616.9,176 617.9,177.2 618.9,178.2 619.9,179.1 620.9,179.9 621.9,180.6 622.9,181.3 623.9,181.9 624.9,182.5 625.9,183 626.9,183.5 627.9,184 628.9,184.4 629.9,184.9 630.9,185.4 631.9,186 632.9,186.6 633.9,187.3 634.9,187.9 635.9,188.4 636.9,188.8 637.9,189.1 638.9,189.1 639.9,188.9 640.9,188.7 641.9,188.3 642.9,188 643.9,187.7 644.9,187.3 645.9,186.9 646.9,186.6 647.9,186.6 648.9,187.6 649.9,189.3 650.9,191.6 651.9,195.2 652.9,197.8 653.9,199.2 654.9,200.4 655.9,201.2 656.9,201.6 657.9,201.8 658.9,201.9 659.9,202 660.9,202.1 661.9,202.2 662.9,202.3 663.9,202.4 664.9,202.5 665.9,202.5 666.9,202.5 667.9,202.6 668.9,202.6 669.9,202.6" stroke="#e67ccc" stroke-width="1.3" fill="none"/>
<polygon points="431.7,251.8 431.7,251.7 432.3,251.7 432.9,251.7 433.5,251.7 434.1,251.7 434.7,251.7 435.3,251.7 435.9,251.7 436.5,251.7 437.1,251.7 437.7,251.7 438.3,251.7 438.9,251.7 439.5,251.7 440.1,251.7 440.7,251.7 441.3,251.7 441.9,251.7 442.5,251.7 443.1,251.7 443.7,251.7 444.3,251.7 444.9,251.6 445.5,251.6 446.1,251.6 446.7,251.6 447.3,251.6 447.9,251.6 448.5,251.6 449.1,251.6 449.7,251.6 450.3,251.6 450.9,251.6 451.5,251.5 452.1,251.5 452.7,251.5 453.3,251.5 453.9,251.5 454.5,251.5 455.1,251.5 455.7,251.5 456.3,251.4 456.9,251.4 457.5,251.4 458.1,251.4 458.7,251.4 459.3,251.4 459.9,251.4 460.5,251.3 461.1,251.3 461.7,251.3 462.3,251.3 462.9,251.3 463.5,251.2 464.1,251.2 464.7,251.2 465.3,251.2 465.9,251.1 466.5,251.1 467.1,251.1 467.7,251.1 468.3,251 468.9,251 469.5,251 470.1,250.9 470.7,250.9 471.3,250.9 471.9,250.8 472.5,250.8 473.1,250.8 473.7,250.7 474.3,250.7 474.9,250.7 475.5,250.6 476.1,250.6 476.7,250.6 477.3,250.5 477.9,250.5 478.5,250.4 479.1,250.4 479.7,250.3 480.3,250.3 480.9,250.2 481.5,250.2 482.1,250.1 482.7,250.1 483.3,250 483.9,250 484.5,249.9 485.1,249.9 485.7,249.8 486.3,249.8 486.9,249.7 487.5,249.6 488.1,249.6 488.7,249.5 489.3,249.4 489.9,249.4 490.5,249.3 491.1,249.2 491.7,249.2 492.3,249.1 492.9,249 493.5,249 494.1,248.9 494.7,248.8 495.3,248.7 495.9,248.7 496.5,248.6 497.1,248.5 497.7,248.4 498.3,248.3 498.9,248.2 499.5,248.2 500.1,248.1 500.7,248 501.3,247.9 501.9,247.8 502.5,247.7 503.1,247.6 503.7,247.5 504.3,247.4 504.9,247.3 505.5,247.3 506.1,247.2 506.7,247.1 507.3,247 507.9,246.9 508.5,246.8 509.1,246.7 509.7,246.6 510.3,246.5 510.9,246.4 511.5,246.3 512.1,246.2 512.7,246.1 513.3,245.9 513.9,245.8 514.5,245.7 515.1,245.6 515.7,245.5 516.3,245.4 516.9,245.3 517.5,245.2 518.1,245.1 518.7,245 519.3,244.9 519.9,244.8 520.5,244.7 521.1,244.6 521.7,244.5 522.3,244.4 522.9,244.3 523.5,244.2 524.1,244.1 524.7,244 525.3,243.9 525.9,243.8 526.5,243.7 527.1,243.6 527.7,243.5 528.3,243.4 528.9,243.3 529.5,243.2 530.1,243.1 530.7,243 531.3,242.9 531.9,242.8 532.5,242.7 533.1,242.6 533.7,242.5 534.3,242.5 534.9,242.4 535.5,242.3 536.1,242.2 536.7,242.1 537.3,242.1 537.9,242 538.5,241.9 539.1,241.8 539.7,241.8 540.3,241.7 540.9,241.6 541.5,241.6 542.1,241.5 542.7,241.5 543.3,241.4 543.9,241.3 544.5,241.3 545.1,241.2 545.7,241.2 546.3,241.2 546.9,241.1 547.5,241.1 548.1,241 548.7,241 549.3,241 549.9,240.9 550.5,240.9 551.1,240.9 551.7,240.9 552.3,240.9 552.9,240.8 553.5,240.8 554.1,240.8 554.7,240.8 555.3,240.8 555.9,240.8 556.5,240.8 557.1,240.8 557.7,240.8 558.3,240.9 558.9,240.9 559.5,240.9 560.1,241 560.7,241 561.3,241.1 561.9,241.1 562.5,241.2 563.1,241.3 563.7,241.4 564.3,241.4 564.9,241.5 565.5,241.6 566.1,241.7 566.7,241.8 567.3,242 567.9,242.1 568.5,242.2 569.1,242.3 569.7,242.5 570.3,242.6 570.9,242.7 571.5,242.9 572.1,243 572.7,243.2 573.3,243.3 573.9,243.5 574.5,243.6 575.1,243.8 575.7,243.9 576.3,244.1 576.9,244.3 577.5,244.4 578.1,244.6 578.7,244.8 579.3,244.9 579.9,245.1 580.5,245.3 581.1,245.4 581.7,245.6 582.3,245.8 582.9,245.9 583.5,246.1 584.1,246.3 584.7,246.4 585.3,246.6 585.9,246.7 586.5,246.9 587.1,247 587.7,247.2 588.3,247.4 588.9,247.5 589.5,247.6 590.1,247.8 590.7,247.9 591.3,248.1 591.9,248.2 592.5,248.3 593.1,248.5 593.7,248.6 594.3,248.7 594.9,248.8 595.5,249 596.1,249.1 596.7,249.2 597.3,249.3 597.9,249.4 598.5,249.5 599.1,249.6 599.7,249.7 600.3,249.8 600.9,249.9 601.5,250 602.1,250.1 602.7,250.1 603.3,250.2 603.9,250.3 604.5,250.4 605.1,250.4 605.7,250.5 606.3,250.6 606.9,250.6 607.5,250.7 608.1,250.8 608.7,250.8 609.3,250.9 609.9,250.9 610.5,251 611.1,251 611.7,251.1 612.3,251.1 612.9,251.1 613.5,251.2 614.1,251.2 614.7,251.2 615.3,251.3 615.9,251.3 616.5,251.3 617.1,251.4 617.7,251.4 618.3,251.4 618.9,251.4 619.5,251.5 620.1,251.5 620.7,251.5 621.3,251.5 621.9,251.5 622.5,251.6 623.1,251.6 623.7,251.6 624.3,251.6 624.9,251.6 625.5,251.6 626.1,251.6 626.7,251.7 627.3,251.7 627.9,251.7 628.5,251.7 629.1,251.7 629.7,251.7 630.3,251.7 630.9,251.7 631.5,251.7 632.1,251.7 632.7,251.7 633.3,251.7 633.9,251.7 634.5,251.7 634.5,251.8" stroke="none" stroke-width="1" fill="#eb0000" fill-opacity="0.52"/>
<polyline points="431.7,251.7 432.3,251.7 432.9,251.7 433.5,251.7 434.1,251.7 434.7,251.7 435.3,251.7 435.9,251.7 436.5,251.7 437.1,251.7 437.7,251.7 438.3,251.7 438.9,251.7 439.5,251.7 440.1,251.7 440.7,251.7 441.3,251.7 441.9,251.7 442.5,251.7 443.1,251.7 443.7,251.7 444.3,251.7 444.9,251.6 445.5,251.6 446.1,251.6 446.7,251.6 447.3,251.6 447.9,251.6 448.5,251.6 449.1,251.6 449.7,251.6 450.3,251.6 450.9,251.6 451.5,251.5 452.1,251.5 452.7,251.5 453.3,251.5 453.9,251.5 454.5,251.5 455.1,251.5 455.7,251.5 456.3,251.4 456.9,251.4 457.5,251.4 458.1,251.4 458.7,251.4 459.3,251.4 459.9,251.4 460.5,251.3 461.1,251.3 461.7,251.3 462.3,251.3 462.9,251.3 463.5,251.2 464.1,251.2 464.7,251.2 465.3,251.2 465.9,251.1 466.5,251.1 467.1,251.1 467.7,251.1 468.3,251 468.9,251 469.5,251 470.1,250.9 470.7,250.9 471.3,250.9 471.9,250.8 472.5,250.8 473.1,250.8 473.7,250.7 474.3,250.7 474.9,250.7 475.5,250.6 476.1,250.6 476.7,250.6 477.3,250.5 477.9,250.5 478.5,250.4 479.1,250.4 479.7,250.3 480.3,250.3 480.9,250.2 481.5,250.2 482.1,250.1 482.7,250.1 483.3,250 483.9,250 484.5,249.9 485.1,249.9 485.7,249.8 486.3,249.8 486.9,249.7 487.5,249.6 488.1,249.6 488.7,249.5 489.3,249.4 489.9,249.4 490.5,249.3 491.1,249.2 491.7,249.2 492.3,249.1 492.9,249 493.5,249 494.1,248.9 494.7,248.8 495.3,248.7 495.9,248.7 496.5,248.6 497.1,248.5 497.7,248.4 498.3,248.3 498.9,248.2 499.5,248.2 500.1,248.1 500.7,248 501.3,247.9 501.9,247.8 502.5,247.7 503.1,247.6 503.7,247.5 504.3,247.4 504.9,247.3 505.5,247.3 506.1,247.2 506.7,247.1 507.3,247 507.9,246.9 508.5,246.8 509.1,246.7 509.7,246.6 510.3,246.5 510.9,246.4 511.5,246.3 512.1,246.2 512.7,246.1 513.3,245.9 513.9,245.8 514.5,245.7 515.1,245.6 515.7,245.5 516.3,245.4 516.9,245.3 517.5,245.2 518.1,245.1 518.7,245 519.3,244.9 519.9,244.8 520.5,244.7 521.1,244.6 521.7,244.5 522.3,244.4 522.9,244.3 523.5,244.2 524.1,244.1 524.7,244 525.3,243.9 525.9,243.8 526.5,243.7 527.1,243.6 527.7,243.5 528.3,243.4 528.9,243.3 529.5,243.2 530.1,243.1 530.7,243 531.3,242.9 531.9,242.8 532.5,242.7 533.1,242.6 533.7,242.5 534.3,242.5 534.9,242.4 535.5,242.3 536.1,242.2 536.7,242.1 537.3,242.1 537.9,242 538.5,241.9 539.1,241.8 539.7,241.8 540.3,241.7 540.9,241.6 541.5,241.6 542.1,241.5 542.7,241.5 543.3,241.4 543.9,241.3 544.5,241.3 545.1,241.2 545.7,241.2 546.3,241.2 546.9,241.1 547.5,241.1 548.1,241 548.7,241 549.3,241 549.9,240.9 550.5,240.9 551.1,240.9 551.7,240.9 552.3,240.9 552.9,240.8 553.5,240.8 554.1,240.8 554.7,240.8 555.3,240.8 555.9,240.8 556.5,240.8 557.1,240.8 557.7,240.8 558.3,240.9 558.9,240.9 559.5,240.9 560.1,241 560.7,241 561.3,241.1 561.9,241.1 562.5,241.2 563.1,241.3 563.7,241.4 564.3,241.4 564.9,241.5 565.5,241.6 566.1,241.7 566.7,241.8 567.3,242 567.9,242.1 568.5,242.2 569.1,242.3 569.7,242.5 570.3,242.6 570.9,242.7 571.5,242.9 572.1,243 572.7,243.2 573.3,243.3 573.9,243.5 574.5,243.6 575.1,243.8 575.7,243.9 576.3,244.1 576.9,244.3 577.5,244.4 578.1,244.6 578.7,244.8 579.3,244.9 579.9,245.1 580.5,245.3 581.1,245.4 581.7,245.6 582.3,245.8 582.9,245.9 583.5,246.1 584.1,246.3 584.7,246.4 585.3,246.6 585.9,246.7 586.5,246.9 587.1,247 587.7,247.2 588.3,247.4 588.9,247.5 589.5,247.6 590.1,247.8 590.7,247.9 591.3,248.1 591.9,248.2 592.5,248.3 593.1,248.5 593.7,248.6 594.3,248.7 594.9,248.8 595.5,249 596.1,249.1 596.7,249.2 597.3,249.3 597.9,249.4 598.5,249.5 599.1,249.6 599.7,249.7 600.3,249.8 600.9,249.9 601.5,250 602.1,250.1 602.7,250.1 603.3,250.2 603.9,250.3 604.5,250.4 605.1,250.4 605.7,250.5 606.3,250.6 606.9,250.6 607.5,250.7 608.1,250.8 608.7,250.8 609.3,250.9 609.9,250.9 610.5,251 611.1,251 611.7,251.1 612.3,251.1 612.9,251.1 613.5,251.2 614.1,251.2 614.7,251.2 615.3,251.3 615.9,251.3 616.5,251.3 617.1,251.4 617.7,251.4 618.3,251.4 618.9,251.4 619.5,251.5 620.1,251.5 620.7,251.5 621.3,251.5 621.9,251.5 622.5,251.6 623.1,251.6 623.7,251.6 624.3,251.6 624.9,251.6 625.5,251.6 626.1,251.6 626.7,251.7 627.3,251.7 627.9,251.7 628.5,251.7 629.1,251.7 629.7,251.7 630.3,251.7 630.9,251.7 631.5,251.7 632.1,251.7 632.7,251.7 633.3,251.7 633.9,251.7 634.5,251.7" stroke="#e8303c" stroke-width="0.7" fill="none" stroke-opacity="0.9"/>
<polygon points="570.9,251.8 570.9,251.7 571.5,251.7 572.1,251.7 572.7,251.7 573.3,251.7 573.9,251.6 574.5,251.6 575.1,251.5 575.7,251.5 576.3,251.4 576.9,251.3 577.5,251.3 578.1,251.1 578.7,251 579.3,250.9 579.9,250.7 580.5,250.5 581.1,250.3 581.7,250 582.3,249.7 582.9,249.4 583.5,249 584.1,248.6 584.7,248.1 585.3,247.6 585.9,247 586.5,246.4 587.1,245.7 587.7,244.9 588.3,244.1 588.9,243.2 589.5,242.3 590.1,241.3 590.7,240.2 591.3,239.1 591.9,237.9 592.5,236.7 593.1,235.4 593.7,234.1 594.3,232.7 594.9,231.3 595.5,230 596.1,228.6 596.7,227.2 597.3,225.9 597.9,224.6 598.5,223.3 599.1,222.1 599.7,221 600.3,219.9 600.9,219 601.5,218.2 602.1,217.4 602.7,216.8 603.3,216.4 603.9,216 604.5,215.8 605.1,215.8 605.7,215.9 606.3,216.1 606.9,216.5 607.5,217 608.1,217.7 608.7,218.4 609.3,219.3 609.9,220.3 610.5,221.4 611.1,222.5 611.7,223.7 612.3,225 612.9,226.3 613.5,227.7 614.1,229 614.7,230.4 615.3,231.8 615.9,233.2 616.5,234.5 617.1,235.8 617.7,237.1 618.3,238.3 618.9,239.5 619.5,240.6 620.1,241.6 620.7,242.6 621.3,243.5 621.9,244.4 622.5,245.2 623.1,245.9 623.7,246.6 624.3,247.2 624.9,247.8 625.5,248.3 626.1,248.7 626.7,249.1 627.3,249.5 627.9,249.8 628.5,250.1 629.1,250.4 629.7,250.6 630.3,250.8 630.9,250.9 631.5,251.1 632.1,251.2 632.7,251.3 633.3,251.4 633.9,251.4 634.5,251.5 635.1,251.6 635.7,251.6 636.3,251.6 636.9,251.7 637.5,251.7 638.1,251.7 638.7,251.7 639.3,251.7 639.3,251.8" stroke="none" stroke-width="1" fill="#00a0f0" fill-opacity="0.45"/>
<polyline points="570.9,251.7 571.5,251.7 572.1,251.7 572.7,251.7 573.3,251.7 573.9,251.6 574.5,251.6 575.1,251.5 575.7,251.5 576.3,251.4 576.9,251.3 577.5,251.3 578.1,251.1 578.7,251 579.3,250.9 579.9,250.7 580.5,250.5 581.1,250.3 581.7,250 582.3,249.7 582.9,249.4 583.5,249 584.1,248.6 584.7,248.1 585.3,247.6 585.9,247 586.5,246.4 587.1,245.7 587.7,244.9 588.3,244.1 588.9,243.2 589.5,242.3 590.1,241.3 590.7,240.2 591.3,239.1 591.9,237.9 592.5,236.7 593.1,235.4 593.7,234.1 594.3,232.7 594.9,231.3 595.5,230 596.1,228.6 596.7,227.2 597.3,225.9 597.9,224.6 598.5,223.3 599.1,222.1 599.7,221 600.3,219.9 600.9,219 601.5,218.2 602.1,217.4 602.7,216.8 603.3,216.4 603.9,216 604.5,215.8 605.1,215.8 605.7,215.9 606.3,216.1 606.9,216.5 607.5,217 608.1,217.7 608.7,218.4 609.3,219.3 609.9,220.3 610.5,221.4 611.1,222.5 611.7,223.7 612.3,225 612.9,226.3 613.5,227.7 614.1,229 614.7,230.4 615.3,231.8 615.9,233.2 616.5,234.5 617.1,235.8 617.7,237.1 618.3,238.3 618.9,239.5 619.5,240.6 620.1,241.6 620.7,242.6 621.3,243.5 621.9,244.4 622.5,245.2 623.1,245.9 623.7,246.6 624.3,247.2 624.9,247.8 625.5,248.3 626.1,248.7 626.7,249.1 627.3,249.5 627.9,249.8 628.5,250.1 629.1,250.4 629.7,250.6 630.3,250.8 630.9,250.9 631.5,251.1 632.1,251.2 632.7,251.3 633.3,251.4 633.9,251.4 634.5,251.5 635.1,251.6 635.7,251.6 636.3,251.6 636.9,251.7 637.5,251.7 638.1,251.7 638.7,251.7 639.3,251.7" stroke="#2f9ee8" stroke-width="0.7" fill="none" stroke-opacity="0.9"/>
<polygon points="608.7,251.8 608.7,251.7 609.3,251.7 609.9,251.6 610.5,251.6 611.1,251.5 611.7,251.3 612.3,251.1 612.9,250.9 613.5,250.6 614.1,250.2 614.7,249.7 615.3,249 615.9,248.3 616.5,247.4 617.1,246.3 617.7,245.1 618.3,243.7 618.9,242.2 619.5,240.5 620.1,238.7 620.7,236.9 621.3,235.1 621.9,233.4 622.5,231.7 623.1,230.2 623.7,228.9 624.3,227.9 624.9,227.2 625.5,226.8 626.1,226.8 626.7,227.2 627.3,227.9 627.9,228.9 628.5,230.2 629.1,231.7 629.7,233.4 630.3,235.1 630.9,236.9 631.5,238.7 632.1,240.5 632.7,242.2 633.3,243.7 633.9,245.1 634.5,246.3 635.1,247.4 635.7,248.3 636.3,249 636.9,249.7 637.5,250.2 638.1,250.6 638.7,250.9 639.3,251.1 639.9,251.3 640.5,251.5 641.1,251.6 641.7,251.6 642.3,251.7 642.9,251.7 642.9,251.8" stroke="none" stroke-width="1" fill="#10c030" fill-opacity="0.7"/>
<polyline points="608.7,251.7 609.3,251.7 609.9,251.6 610.5,251.6 611.1,251.5 611.7,251.3 612.3,251.1 612.9,250.9 613.5,250.6 614.1,250.2 614.7,249.7 615.3,249 615.9,248.3 616.5,247.4 617.1,246.3 617.7,245.1 618.3,243.7 618.9,242.2 619.5,240.5 620.1,238.7 620.7,236.9 621.3,235.1 621.9,233.4 622.5,231.7 623.1,230.2 623.7,228.9 624.3,227.9 624.9,227.2 625.5,226.8 626.1,226.8 626.7,227.2 627.3,227.9 627.9,228.9 628.5,230.2 629.1,231.7 629.7,233.4 630.3,235.1 630.9,236.9 631.5,238.7 632.1,240.5 632.7,242.2 633.3,243.7 633.9,245.1 634.5,246.3 635.1,247.4 635.7,248.3 636.3,249 636.9,249.7 637.5,250.2 638.1,250.6 638.7,250.9 639.3,251.1 639.9,251.3 640.5,251.5 641.1,251.6 641.7,251.6 642.3,251.7 642.9,251.7" stroke="#1ccc2c" stroke-width="0.7" fill="none" stroke-opacity="0.9"/>
<polygon points="627.3,251.8 627.3,251.7 627.9,251.7 628.5,251.6 629.1,251.5 629.7,251.3 630.3,251.1 630.9,250.7 631.5,250.3 632.1,249.8 632.7,249.1 633.3,248.4 633.9,247.5 634.5,246.6 635.1,245.7 635.7,244.8 636.3,244.1 636.9,243.5 637.5,243.1 638.1,243 638.7,243.1 639.3,243.5 639.9,244.1 640.5,244.8 641.1,245.7 641.7,246.6 642.3,247.5 642.9,248.4 643.5,249.1 644.1,249.8 644.7,250.3 645.3,250.7 645.9,251.1 646.5,251.3 647.1,251.5 647.7,251.6 648.3,251.7 648.9,251.7 648.9,251.8" stroke="none" stroke-width="1" fill="#f58214" fill-opacity="0.6"/>
<polyline points="627.3,251.7 627.9,251.7 628.5,251.6 629.1,251.5 629.7,251.3 630.3,251.1 630.9,250.7 631.5,250.3 632.1,249.8 632.7,249.1 633.3,248.4 633.9,247.5 634.5,246.6 635.1,245.7 635.7,244.8 636.3,244.1 636.9,243.5 637.5,243.1 638.1,243 638.7,243.1 639.3,243.5 639.9,244.1 640.5,244.8 641.1,245.7 641.7,246.6 642.3,247.5 642.9,248.4 643.5,249.1 644.1,249.8 644.7,250.3 645.3,250.7 645.9,251.1 646.5,251.3 647.1,251.5 647.7,251.6 648.3,251.7 648.9,251.7" stroke="#f07c18" stroke-width="0.7" fill="none" stroke-opacity="0.9"/>
<polygon points="636.9,251.8 636.9,251.7 637.5,251.7 638.1,251.6 638.7,251.5 639.3,251.3 639.9,251 640.5,250.6 641.1,250.1 641.7,249.5 642.3,248.9 642.9,248.2 643.5,247.4 644.1,246.8 644.7,246.3 645.3,245.9 645.9,245.8 646.5,245.9 647.1,246.3 647.7,246.8 648.3,247.4 648.9,248.2 649.5,248.9 650.1,249.5 650.7,250.1 651.3,250.6 651.9,251 652.5,251.3 653.1,251.5 653.7,251.6 654.3,251.7 654.9,251.7 654.9,251.8" stroke="none" stroke-width="1" fill="#8c14eb" fill-opacity="0.7"/>
<polyline points="636.9,251.7 637.5,251.7 638.1,251.6 638.7,251.5 639.3,251.3 639.9,251 640.5,250.6 641.1,250.1 641.7,249.5 642.3,248.9 642.9,248.2 643.5,247.4 644.1,246.8 644.7,246.3 645.3,245.9 645.9,245.8 646.5,245.9 647.1,246.3 647.7,246.8 648.3,247.4 648.9,248.2 649.5,248.9 650.1,249.5 650.7,250.1 651.3,250.6 651.9,251 652.5,251.3 653.1,251.5 653.7,251.6 654.3,251.7 654.9,251.7" stroke="#8424e0" stroke-width="0.7" fill="none" stroke-opacity="0.9"/>
<line x1="394.5" y1="251.8" x2="671" y2="251.8" stroke="#b45ad8" stroke-width="1.3"/>
<polyline points="520.9,245.8 521.9,245.7 522.9,245.6 523.9,245.4 524.9,245.3 525.9,245.2 526.9,245.1 527.9,244.9 528.9,244.8 529.9,244.7 530.9,244.6 531.9,244.4 532.9,244.3 533.9,244.1 534.9,244 535.9,243.8 536.9,243.7 537.9,243.5 538.9,243.4 539.9,243.2 540.9,243.1 541.9,242.9 542.9,242.8 543.9,242.6 544.9,242.4 545.9,242.3 546.9,242.1 547.9,241.9 548.9,241.7 549.9,241.5 550.9,241.3 551.9,241.2 552.9,241 553.9,240.8 554.9,240.6 555.9,240.4 556.9,240.2 557.9,240 558.9,239.8 559.9,239.6 560.9,239.4 561.9,239.2 562.9,239 563.9,238.9 564.9,238.7 565.9,238.5 566.9,238.3 567.9,238.1 568.9,237.9 569.9,237.7 570.9,237.4 571.9,237.2 572.9,236.9 573.9,236.5 574.9,236.2 575.9,235.8 576.9,235.4 577.9,234.9 578.9,234.5 579.9,233.9 580.9,233.4 581.9,232.8 582.9,232.1 583.9,231.3 584.9,230.5 585.9,229.6 586.9,228.6 587.9,227.5 588.9,226.4 589.9,225.1 590.9,223.4 591.9,221.5 592.9,219.6 593.9,217.8 594.9,216.4 595.9,215.2 596.9,214.2 597.9,213.2 598.9,212.3 599.9,211.6 600.9,211.1 601.9,210.7 602.9,210.3 603.9,210.1 604.9,209.9 605.9,209.9 606.9,209.9 607.9,210 608.9,210.1 609.9,210.2 610.9,210.4 611.9,211.4 612.9,212.8 613.9,214.3 614.9,215.3 615.9,215.6 616.9,215.4 617.9,215.1 618.9,214.7 619.9,214.3 620.9,213.9 621.9,213.4 622.9,212.8 623.9,212.1 624.9,211.5 625.9,211.1 626.9,210.9 627.9,212.6 628.9,216.4 629.9,220.1 630.9,223.1 631.9,226.2 632.9,229 633.9,231.2 634.9,232.8 635.9,234.1 636.9,235.2 637.9,236.2 638.9,237.2 639.9,238.3 640.9,239.4 641.9,240.7 642.9,241.9 643.9,243.1 644.9,244.2 645.9,245.3 646.9,246.3 647.9,247.3 648.9,248.3 649.9,249.2 650.9,249.9 651.9,250.6 652.9,251 653.9,251.4 654.9,251.8 655.9,252.1 656.9,252.4 657.9,252.7 658.9,252.9 659.9,253.1 660.9,253.3 661.9,253.4 662.9,253.4 663.9,253.5 664.9,253.5 665.9,253.5 666.9,253.6 667.9,253.6 668.9,253.6 669.9,253.6" stroke="#e67ccc" stroke-width="1.3" fill="none"/>
<line x1="413.9" y1="36" x2="413.9" y2="260" stroke="#e8b446" stroke-width="2" stroke-dasharray="2.6,1.2" stroke-opacity="0.95"/>
<path d="M1580 180l2 0 2 2 2 8 2-9 2 0 2 3 2 9 2-12 2 1 2 5 2 0 2 1 2-5 2-1 2-2 2 8 2-2 2 3 2-2 2 7 2-4 2-3 2 0 2-3 2 0 2 0 2 9 2-9 2-3 2 4 2 2 2-11 2-7 2 7 2 0 2-13 2 9 2 4 2 6 2-5 2 3 2 11 2-3 2-15 2 18 2 4 2-11 2 6 2-9 2 5 2 0 2-3 2 8 2-2 2 0 2 2 2-16 2 13 2-10 2 6 2 2 2-5 2 6 2-7 2 4 2 7 2-10 2 6 2-9 2 9 2-10 2 4 2-4 2 10 2-6 2 2 2 4 2 3 2-2 2-4 2 8 2-3 2-5 2 10 2-14 2 4 2 7 2-3 2-2 2-4 2-3 2 2 2 5 2-6 2-5 2 5 2 12 2-7 2 5 2-12 2-3 2-5 2 9 2-16 2 1 2 1 2-13 2 1 2-5 2 1 2 0 2-10 2 3 2-8 2 0 2-4 2-6 2-6 2 3 2-3 2 9 2-7 2-3 2-12 2 6 2-5 2-7 2 4 2-8 2-3 2-5 2-7 2 8 2-16 2 6 2-10 2 4 2-7 2 8 2-8 2-1 2-3 2-1 2-1 2 9 2-6 2-7 2 10 2-7 2-1 2-5 2-16 2-3 2 7 2 14 2 2 2-9 2 5 2 18 2-4 2 7 2 3 2-13 2 16 2-3 2 2 2 13 2-8 2-2 2-2 2 18 2-4 2-9 2 9 2 2 2-10 2 13 2-4 2 12 2-6 2 6 2-8 2 10 2 2 2 18 2-8 2 5 2-3 2 4 2 6 2 14 2-12 2 15 2 1 2-6 2 2 2 1 2-11 2 2 2-4 2 1 2 3 2 6 2-9 2-4 2-17 2 15 2-12 2 4 2-3 2 2 2-12 2 2 2-4 2-3 2 6 2-4 2 6 2 11 2 10 2-8 2 22 2 6 2 16 2-19 2 15 2 3 2-1 2 10 2-4 2 1 2-9 2 14 2 2 2 6 2-7 2 9 2 1 2-14 2 10 2-12 2-1 2 12 2-1 2-4 2-4 2-2 2 8 2-4 2 8 2 0 2-11 2 4 2-2 2 3 2-2 2-4 2 0 2 1 2 2 2-10 2 8 2 8 2-3 2-6 2-6 2 18 2-6 2 2 2-6 2-1 2-6 2-1 2 6 2 3 2-2 2-5 2-1 2 6 2 2 2-5 2-4 2 10 2-2 2-11 2 4 2 11 2-7 2-7 2 7 2 2 2 1 2-5 2 0 2 1 2 3 2-2 2 6 2-17 2 6 2 5 2 1 2 6 2-6 2-3 2-9 2 10 2-1 2 6 2-7 2 1 2-4 2 0 2 5 2-3 2-3 2 1 2 4 2 0 2 4 2-11 2 9 2 3 2-9 2 0 2 8 2-17 2 10 2-3 2 14 2-4 2-2 2-1 2-1 2 2 2-4 2 0 2-7 2-4 2-1 2 9 2-2 2 3 2-12 2 12 2-8 2-5 2 12 2-7 2-5 2 9 2-1 2-5 2 4 2 3 2-8 2 7 2-7 2-5 2 6 2 4 2-2 2-3 2 5 2-11 2 4 2 3 2-1 2 1 2 0 2 10 2-20 2 8 2 11 2-12 2 1 2 4 2-5 2 4 2-7 2 3 2 3 2 0 2-2 2-4 2 3 2-13 2 8 2 1 2 1 2 7 2-8 2 1 2 11 2-7 2-6 2-1 2-2 2 1 2 4 2 4 2-11 2 3 2 8 2-13 2 4 2 6 2-8 2-6 2 13 2-4 2 10 2-9 2 5 2-4 2 7 2-10 2 9 2-7 2 1 2 10 2-10 2 10 2-12 2 12 2 3 2 0 2-10 2 4 2-12 2 19 2-16 2 13 2-2 2-1 2 5 2-8 2 15 2 4 2-7 2-2 2-4 2 6 2 0 2-7 2 10 2-6 2 2 2-3 2 10 2-10 2 1 2-1 2 15 2-7 2 0 2 3 2-7 2 12 2-6 2-11 2 11 2-1 2-3 2 14 2-7 2 7 2 3 2-2 2-4 2 2 2-2 2 2 2-4 2 8 2-10 2 4 2 7 2-1 2-3 2 6 2-2 2-10 2 15 2-8 2 10 2-12 2 2 2-5 2 9 2-1 2-11 2 8 2-7 2 12 2-2 2 2 2 3 2 2 2-3 2-1 2-6 2 0 2 6 2 2 2-5 2 7 2 3 2-4 2 1 2 1 2 0 2-4 2-2 2 0 2-3 2-4 2 8 2-1 2 4 2-13 2 11 2-2 2 13 2-15 2 11 2-14 2 8 2-5 2 3 2-5 2 1 2 7 2 3 2-1 2-4 2 5 2-2 2-8 2 11 2-8 2 3 2 1 2-1 2 2 2-4 2-3 2 10 2-8 2 10 2-1" transform="scale(0.25)" stroke="#111" stroke-width="3.5" fill="none" stroke-linejoin="round"/>
<path d="M1580 322l2 8 2-2 2 3 2-9 2 12 2-4 2-7 2-1 2 1 2 3 2 9 2-1 2-8 2 0 2 12 2-5 2-9 2 3 2-2 2 3 2 3 2-5 2 3 2 1 2 1 2-7 2 1 2 11 2-11 2 1 2 1 2-8 2-3 2 5 2-9 2-19 2 7 2-2 2 4 2 10 2 10 2-6 2 10 2-11 2 6 2 1 2 0 2 5 2-2 2-5 2-4 2 5 2 3 2-3 2-4 2-1 2 13 2-3 2-4 2 6 2 0 2-3 2-1 2 8 2-1 2 2 2-2 2-3 2-4 2 0 2-1 2 3 2 0 2 5 2 0 2-7 2 1 2-8 2 2 2-2 2 5 2-4 2-1 2 3 2-10 2 8 2 2 2 4 2-13 2 3 2-9 2 16 2-9 2 1 2-9 2 5 2-3 2-5 2-1 2 0 2-1 2-7 2 14 2-9 2-2 2-2 2-5 2-2 2 0 2-7 2 4 2-10 2 3 2-13 2 2 2-1 2-1 2-3 2-14 2-2 2 9 2-13 2-8 2 11 2-5 2-11 2 0 2 7 2-10 2-3 2-1 2 6 2-17 2 8 2-4 2 0 2 0 2-6 2 2 2-3 2 3 2-18 2 8 2 1 2-8 2 13 2-4 2-12 2 5 2 2 2-6 2-3 2 9 2 2 2-2 2 6 2 10 2 3 2-8 2 4 2 12 2-1 2 0 2 1 2 6 2 6 2-13 2 19 2-6 2 1 2 6 2 1 2 3 2 7 2 0 2 9 2-10 2 13 2-7 2 8 2 0 2 8 2-8 2 8 2 10 2 0 2-6 2 7 2 3 2-1 2 4 2 1 2-15 2 14 2 8 2-13 2-1 2 0 2-6 2 1 2-2 2 9 2-14 2 1 2-7 2-6 2-2 2-6 2 10 2-12 2-9 2 6 2 10 2-8 2 0 2 3 2 1 2 6 2 20 2-9 2 17 2 6 2 11 2 5 2 14 2 5 2-4 2-6 2 4 2 3 2-2 2-1 2 16 2-3 2-9 2 1 2 5 2-3 2 6 2 2 2-4 2-5 2 4 2-7 2 6 2 11 2-12 2 6 2 3 2 2 2-15 2 5 2-2 2 10 2-2 2-11 2 3 2 4 2 8 2-12 2 8 2-10 2-2 2 10 2-8 2-4 2 14 2-4 2-9 2 10 2-2 2 0 2-8 2 3 2-9 2 0 2 14 2-7 2 3 2-2 2-2 2-1 2 5 2-4 2-8 2 13 2 1 2-4 2 3 2-7 2-2 2 5 2-3 2-10 2 5 2 1 2 9 2-11 2-4 2-3 2 4 2-3 2 2 2-5 2-3 2 6 2 2 2-1 2-9 2 5 2 5 2-3 2-5 2 0 2-1 2 3 2-3 2 3 2-2 2-1 2 3 2 0 2-7 2 0 2 5 2-6 2-5 2 2 2-3 2 5 2 0 2 6 2-5 2 0 2 4 2-4 2-9 2 4 2-3 2 1 2 7 2 5 2-8 2-3 2-5 2 4 2 6 2-12 2 5 2 2 2 0 2 6 2-12 2 1 2-7 2 2 2-2 2 4 2 1 2 1 2 0 2-7 2-3 2-1 2 4 2-2 2-4 2 7 2-8 2 5 2-3 2 4 2 0 2-7 2 6 2 7 2-8 2-8 2 16 2-16 2 7 2-9 2 8 2-5 2 3 2-2 2-9 2-2 2 4 2 7 2-3 2 4 2 0 2 2 2-14 2-1 2 0 2 12 2-9 2 4 2 8 2-12 2-1 2-1 2 10 2 1 2-4 2-2 2 2 2 3 2 4 2-9 2 2 2 9 2 0 2-3 2 0 2 6 2-4 2-8 2 3 2 10 2-4 2 4 2-10 2 15 2-4 2-2 2 2 2-1 2 1 2-9 2 7 2 11 2-6 2-2 2 7 2 6 2-7 2 5 2-6 2-5 2 17 2-10 2 9 2 2 2 4 2-10 2 9 2-9 2-1 2 0 2 10 2-7 2 20 2-5 2 1 2-3 2 4 2-6 2-2 2 2 2 8 2-2 2 3 2-8 2 12 2 3 2-4 2-12 2 9 2 4 2 6 2-3 2 3 2-8 2 2 2 1 2 11 2-15 2 7 2-7 2 18 2-4 2-7 2 8 2 0 2-5 2 4 2-3 2 0 2-7 2 4 2 9 2-3 2 11 2-4 2-4 2-12 2 6 2 5 2 9 2-7 2-10 2 12 2 1 2 1 2 1 2-11 2 4 2 3 2 2 2-8 2 9 2-1 2-16 2 15 2-2 2-4 2 1 2 4 2 7 2-6 2-10 2 5 2 3 2-12 2 12 2-4 2 1 2-3 2 7 2-7 2 0 2 6 2 4 2-7 2 1 2 6 2-2 2-2 2 5 2-1 2-9 2-1 2 15 2-13 2-6 2 8 2 2 2 4" transform="scale(0.25)" stroke="#111" stroke-width="3.5" fill="none" stroke-linejoin="round"/>
<path d="M1580 473l2-7 2 9 2 0 2-14 2 3 2 6 2-2 2 1 2-4 2 8 2-1 2-3 2 5 2-4 2-7 2 6 2-7 2 9 2-5 2-1 2-3 2 10 2-8 2-1 2 0 2 4 2-1 2 0 2-1 2 8 2-14 2-4 2-6 2 3 2-4 2-12 2-2 2 5 2 12 2 2 2 1 2-4 2 6 2 0 2 2 2 4 2-3 2 3 2-2 2 1 2 2 2-10 2 7 2 0 2-1 2 3 2 10 2-11 2 10 2-13 2 8 2 3 2 3 2 1 2 1 2-5 2 0 2 6 2-5 2-5 2 1 2 1 2 7 2-2 2 3 2-6 2 3 2 2 2-4 2 3 2-5 2 1 2 0 2-5 2 7 2-6 2 1 2 1 2-1 2 0 2-6 2-2 2 0 2-10 2 0 2-1 2 0 2 5 2-8 2 1 2 6 2-10 2 3 2-11 2 1 2-7 2 0 2 3 2-17 2 8 2-5 2-8 2-9 2 3 2-7 2-1 2-5 2 4 2-12 2-6 2 4 2-1 2 5 2-4 2-3 2 4 2-14 2 2 2-2 2 2 2-5 2 9 2-5 2-6 2 2 2 6 2 2 2 6 2 1 2-10 2-7 2-6 2 11 2-5 2 1 2-1 2 3 2 6 2-5 2-1 2-5 2-3 2 6 2 3 2 9 2-8 2 6 2-6 2-1 2 4 2 4 2 17 2-11 2 13 2-5 2 13 2 1 2 1 2 4 2 0 2 9 2-1 2-1 2 4 2 11 2 12 2-3 2 3 2 5 2 8 2-3 2-2 2 8 2-2 2 6 2-6 2-7 2 0 2 15 2 1 2-10 2-1 2 9 2-13 2 2 2 7 2-5 2 2 2-1 2 3 2 5 2-7 2 2 2-14 2 10 2-5 2-2 2 1 2 2 2 6 2-11 2 8 2-1 2 2 2 9 2-1 2 6 2-5 2 0 2 4 2 3 2 0 2-7 2 5 2 0 2 10 2-3 2-14 2 2 2-6 2 4 2 4 2 4 2-11 2 0 2-8 2 10 2-5 2 3 2-2 2 3 2-8 2 1 2 18 2-17 2 1 2 15 2 2 2-17 2 4 2 3 2 7 2-14 2 4 2 5 2-2 2-4 2 1 2-6 2 6 2 0 2 2 2-4 2 5 2 2 2-4 2 1 2-2 2-1 2-4 2 4 2-2 2 10 2-3 2-7 2-6 2-3 2 11 2-6 2 1 2-12 2 12 2-3 2-8 2 2 2 3 2-2 2-2 2 0 2-1 2 1 2 6 2-19 2 10 2 1 2 0 2-4 2-7 2 10 2 6 2-17 2 12 2-7 2 1 2-5 2 3 2 7 2-4 2 5 2-3 2-5 2 6 2-7 2 1 2-6 2 1 2-5 2 8 2-12 2 9 2-6 2 6 2-3 2 5 2-7 2-12 2 6 2-6 2 2 2 9 2-5 2-8 2-3 2 4 2-7 2 2 2 3 2 4 2-4 2-16 2 12 2-2 2 0 2 5 2-19 2 6 2 4 2-12 2 14 2-7 2 1 2-8 2 5 2 0 2-5 2-1 2-2 2-6 2 2 2-1 2 1 2 2 2-11 2 3 2 7 2-12 2-1 2 4 2 2 2-5 2 6 2-3 2-1 2-2 2 7 2-13 2-10 2 17 2-11 2 3 2 5 2-15 2 1 2-2 2 3 2 6 2 0 2-1 2-8 2-5 2 12 2-2 2 6 2 2 2-2 2 4 2-1 2 2 2-5 2 4 2 3 2 4 2-5 2 6 2-3 2 2 2 6 2-12 2 5 2 0 2-2 2 9 2 9 2-4 2 4 2 6 2 3 2-5 2 8 2-5 2-3 2 3 2-3 2 5 2 4 2 8 2 6 2-13 2 10 2-5 2 9 2-1 2-6 2 15 2-6 2 3 2-1 2 4 2 7 2-2 2 4 2 2 2 6 2-6 2-5 2 14 2-6 2 9 2-3 2-1 2 3 2 10 2 1 2-9 2 2 2 5 2-8 2 7 2-1 2 3 2-5 2-3 2-2 2 6 2 4 2 2 2 12 2-4 2-10 2 8 2-4 2 2 2 3 2 2 2-4 2 7 2-10 2 6 2 12 2-10 2 7 2-7 2 3 2-3 2 0 2-2 2 6 2-6 2 8 2 2 2-3 2-3 2 4 2-3 2 6 2-13 2 7 2-8 2 3 2 15 2-3 2-8 2-3 2-4 2 9 2 14 2-9 2-5 2 5 2-10 2 7 2 2 2-1 2 4 2-2 2 2 2-7 2 8 2 4 2-13 2 1 2 11 2-8 2 8 2-9 2 10 2-7 2 1 2 6 2-9 2-3 2 2 2 5 2-10 2 11 2-6 2 9 2-18 2 8 2-4 2 4 2 5 2-2 2 0 2 0 2 2 2-6 2 9 2 0 2-2 2 1" transform="scale(0.25)" stroke="#111" stroke-width="3.5" fill="none" stroke-linejoin="round"/>
<path d="M1580 621l2 2 2-6 2-2 2-5 2 15 2-5 2 1 2-5 2 10 2-1 2-6 2-2 2 1 2-2 2 4 2-4 2 6 2-5 2 0 2 9 2-12 2-4 2 9 2-12 2 11 2 3 2-5 2 0 2-11 2 12 2-2 2-11 2 11 2-20 2-8 2-6 2 10 2 7 2 6 2-2 2 1 2 10 2-7 2 0 2 14 2-5 2 2 2 1 2-5 2 0 2 6 2-8 2 2 2-6 2-8 2 6 2-13 2 14 2 6 2 8 2-11 2 4 2 3 2 2 2 4 2-2 2-1 2 6 2 5 2-17 2 7 2 4 2-3 2 7 2-9 2-3 2 9 2-15 2 9 2 14 2-11 2 1 2-6 2 5 2-1 2 10 2-14 2-7 2 14 2 6 2-12 2-6 2 2 2 6 2-6 2 1 2-13 2 7 2 5 2-7 2-5 2 8 2-1 2-9 2-4 2 9 2-11 2 0 2 9 2-10 2-5 2-8 2 9 2-2 2-4 2 7 2-12 2-3 2 3 2 3 2-8 2 1 2 1 2 3 2-4 2 8 2-16 2 12 2-5 2 5 2 7 2-10 2 1 2 3 2-11 2 10 2 1 2-5 2 3 2-2 2-5 2-3 2 11 2 4 2-14 2 6 2-9 2 3 2 0 2-4 2 5 2 4 2-2 2-6 2 9 2-6 2 9 2-15 2 20 2-12 2-3 2 3 2 12 2 2 2 3 2 1 2-6 2 8 2-8 2 10 2 10 2-10 2 23 2-4 2-11 2 11 2 1 2-2 2 5 2-3 2 2 2 3 2 1 2-1 2 1 2 3 2-1 2-9 2 2 2 11 2 1 2-5 2-4 2 6 2-1 2-11 2 8 2-7 2 5 2 2 2 8 2-19 2 8 2 4 2-1 2 0 2-10 2 3 2-2 2 8 2-8 2 0 2 0 2-8 2 8 2-9 2 6 2-5 2 9 2-7 2 9 2-22 2 18 2-4 2-3 2 9 2-19 2 7 2 5 2-4 2-6 2 5 2-6 2 0 2-3 2 8 2-4 2 9 2-7 2-13 2 11 2-10 2 4 2 1 2-6 2 2 2-1 2 4 2-2 2-1 2 9 2-6 2-1 2 2 2 4 2-3 2-13 2 7 2 1 2 0 2-6 2 1 2-6 2 2 2-5 2 11 2-9 2-3 2 5 2-2 2-5 2 4 2-6 2 5 2-4 2 0 2-4 2-3 2 4 2-10 2 13 2-10 2 12 2-9 2-4 2-4 2 5 2-2 2-1 2 2 2-5 2 4 2-10 2 2 2 3 2-7 2 3 2 7 2-8 2-4 2 7 2-12 2 3 2 7 2-10 2 4 2-2 2 7 2-16 2 4 2 0 2 3 2 0 2-2 2 4 2-4 2-11 2-2 2 3 2-1 2-1 2 7 2-10 2 8 2-2 2-6 2-4 2 7 2-12 2 6 2-3 2 4 2-6 2-3 2 4 2-8 2 3 2-3 2-1 2-9 2 6 2-6 2 7 2 8 2-14 2 5 2-1 2-11 2 8 2-6 2-1 2 7 2-7 2 0 2 6 2 3 2-6 2 3 2-10 2 7 2 3 2-6 2 7 2-1 2 0 2 5 2 1 2-12 2 3 2 6 2-4 2 12 2-4 2-9 2 1 2-1 2 8 2-4 2 1 2-2 2 11 2-7 2 0 2-4 2 13 2 0 2 3 2 5 2-6 2-1 2-6 2 10 2 2 2 0 2-10 2 17 2-2 2-4 2 2 2-7 2 12 2-2 2-3 2 17 2-1 2-3 2-2 2-5 2 7 2 4 2-1 2 1 2 3 2-6 2 11 2 3 2-6 2 0 2 15 2-4 2-16 2 12 2-3 2 2 2 2 2 5 2 0 2-4 2 2 2-3 2 11 2 3 2 4 2 2 2-3 2-2 2 14 2-14 2-1 2 6 2 4 2 7 2-8 2-4 2 13 2-5 2-2 2 2 2 6 2-9 2 18 2-7 2 2 2 6 2-8 2 5 2 1 2 3 2 11 2-16 2 6 2 12 2-14 2 13 2-7 2 6 2-1 2-1 2-5 2 5 2 5 2-5 2-3 2 1 2 13 2 2 2-11 2 4 2 7 2-4 2-1 2 4 2-8 2 2 2 8 2-2 2 2 2-1 2-7 2 10 2 4 2-3 2 2 2-8 2 4 2-1 2 0 2 0 2 6 2 0 2 2 2 5 2-8 2 2 2-1 2-9 2 3 2 7 2-4 2 2 2-7 2 9 2-3 2 3 2 0 2-9 2 14 2-12 2 5 2-1 2 8 2-5 2 5 2-4 2-1 2-4 2 2 2 2 2 2 2-5 2 11 2-6 2-7 2 13 2-16 2 11 2-5 2 11 2-4 2-10 2 11 2-15 2 14 2-4 2-4 2 9 2-1 2-3 2 1 2 0 2-4" transform="scale(0.25)" stroke="#111" stroke-width="3.5" fill="none" stroke-linejoin="round"/>
<path d="M1580 814l2-6 2 1 2 4 2-2 2-1 2-5 2-3 2 7 2-4 2 6 2-3 2-5 2 6 2 2 2-3 2-5 2 6 2 0 2 2 2 0 2-8 2 2 2 5 2-11 2 12 2-8 2 2 2 9 2-8 2-1 2 2 2-5 2-5 2 1 2 6 2-11 2-6 2 0 2 9 2 5 2-6 2 9 2 0 2 9 2-9 2 8 2-12 2 8 2-5 2-1 2 8 2-8 2 4 2-3 2 6 2-1 2-12 2 14 2-6 2 13 2-6 2 1 2-16 2 20 2-9 2-6 2 8 2 5 2-15 2 14 2-7 2-1 2 0 2-2 2 5 2 0 2 4 2 2 2-8 2 6 2-11 2 9 2-8 2 2 2 6 2-7 2 6 2-9 2 3 2 6 2 5 2-13 2 13 2-6 2 10 2-13 2-1 2 4 2-7 2 6 2-1 2 7 2-5 2-8 2 0 2 2 2-6 2 0 2 20 2-14 2 10 2-10 2 2 2-6 2 14 2-8 2 10 2-12 2 10 2 1 2-15 2 10 2-7 2-1 2 6 2 4 2 2 2-8 2 6 2-2 2-3 2-4 2 5 2 11 2-16 2 4 2-4 2 11 2 2 2-2 2 3 2-10 2 8 2-13 2 12 2-1 2-10 2 7 2-10 2-2 2 0 2 1 2-1 2 5 2 9 2-10 2-3 2 7 2-5 2 1 2 2 2 0 2-6 2 2 2 5 2-7 2 1 2 2 2 1 2-4 2 4 2-4 2-6 2 9 2-8 2 16 2-11 2-3 2 6 2 2 2 0 2-6 2 3 2-2 2-3 2-8 2 7 2-12 2 7 2 11 2-7 2-1 2-5 2 0 2 1 2-4 2-5 2 16 2 3 2-12 2 7 2-11 2 8 2-9 2 11 2-5 2-7 2 9 2 5 2-9 2 0 2-1 2 1 2 5 2-1 2-17 2 16 2-8 2 9 2-6 2 2 2-8 2-5 2 7 2 3 2-2 2-1 2-3 2 1 2-8 2 2 2-8 2 7 2-2 2 1 2 4 2-6 2-13 2 18 2-7 2 2 2-9 2 7 2 3 2-17 2 13 2-11 2 0 2 3 2 9 2-20 2 5 2 2 2 2 2-5 2 2 2-8 2 8 2 0 2-11 2 0 2 5 2-1 2 0 2-10 2 3 2-1 2 8 2-8 2-4 2-3 2 4 2 5 2-15 2 8 2 1 2 6 2-8 2 3 2-8 2-8 2-1 2 2 2 4 2-4 2-2 2 11 2-22 2 5 2 16 2-11 2-6 2-3 2 9 2-2 2 0 2-12 2 6 2-3 2 3 2-12 2 11 2 3 2-15 2 10 2 3 2-5 2-6 2 0 2-4 2 3 2-8 2 5 2-6 2-4 2 14 2-19 2 18 2-21 2 14 2-5 2-10 2 5 2-4 2 0 2 8 2-11 2-5 2 14 2-4 2-3 2-2 2 4 2-2 2-3 2-3 2 8 2 2 2-6 2 9 2-11 2 0 2 6 2-7 2 0 2-4 2 4 2-11 2 4 2-2 2-6 2 17 2-8 2-3 2 6 2-9 2 11 2 2 2-15 2 13 2-6 2 5 2-6 2-5 2-4 2 2 2 2 2 8 2-2 2-2 2 6 2-16 2 3 2 1 2 7 2-8 2 7 2 11 2 0 2 4 2-10 2-1 2 8 2-5 2 6 2 1 2 4 2 5 2 1 2-1 2-5 2 6 2-5 2-1 2-3 2 6 2 6 2 1 2-3 2 3 2-7 2 11 2-8 2-3 2 4 2-5 2 1 2 5 2-13 2 2 2-1 2 1 2 8 2-6 2 2 2-19 2 13 2-1 2 0 2-3 2-4 2 6 2-5 2 0 2-3 2 1 2 4 2 1 2-5 2 0 2-2 2 5 2-6 2 3 2 8 2 4 2 9 2 11 2-5 2 10 2 1 2-1 2 5 2 6 2-9 2 10 2 5 2-8 2 12 2-1 2-6 2 8 2-8 2 2 2 0 2 10 2-2 2 0 2 2 2 3 2 0 2 0 2 5 2-5 2 3 2 9 2-3 2-10 2 18 2-11 2 14 2-7 2 5 2-12 2 6 2 2 2 2 2 0 2 2 2 4 2-2 2 4 2 3 2-10 2 8 2-3 2 5 2 3 2-10 2 4 2 6 2 1 2-9 2 6 2-3 2-2 2-3 2 3 2 1 2-7 2 4 2-9 2 0 2 8 2-4 2-3 2 7 2 4 2 0 2 11 2-7 2 6 2 15 2-3 2 15 2-7 2 6 2 7 2 1 2 12 2-11 2 6 2 2 2 0 2 6 2-8 2 0 2-2 2 10 2-3 2 0 2 0 2-6 2 8 2-1 2 6 2-5 2-6 2 3 2 10 2-14 2-1 2 8 2 6 2-7 2-6 2 17 2-15 2 8 2 3 2-6" transform="scale(0.25)" stroke="#111" stroke-width="3.5" fill="none" stroke-linejoin="round"/>
<path d="M1580 1001l2-1 2 3 2 4 2-5 2 2 2 1 2 1 2-8 2 7 2-3 2-2 2-1 2 2 2-4 2-2 2 8 2 3 2-5 2 5 2-6 2-3 2-3 2 4 2 11 2-9 2-8 2 9 2-2 2-1 2-1 2-2 2-1 2-12 2-1 2 0 2 0 2-6 2 9 2 3 2-9 2 15 2 4 2-1 2-9 2 9 2 0 2 7 2 5 2-2 2-7 2 10 2-4 2 6 2-6 2 4 2-1 2 0 2 9 2-3 2-2 2-8 2 3 2 4 2 3 2-12 2 13 2-10 2 0 2 11 2-9 2 5 2 3 2-2 2-9 2 2 2-1 2 5 2-1 2 4 2-4 2 2 2-6 2-1 2-7 2 4 2-5 2 3 2 12 2-7 2-1 2-2 2-2 2 1 2 5 2-11 2 1 2-2 2 3 2 12 2-3 2 0 2-17 2-2 2 11 2-10 2 5 2-9 2 12 2-8 2-2 2 12 2-11 2-8 2-1 2 10 2-13 2 11 2-15 2 5 2-8 2 10 2-1 2-5 2-5 2-3 2 1 2-6 2 1 2 9 2-10 2 2 2 6 2-6 2-3 2 5 2-4 2-2 2-1 2 5 2 1 2-21 2 21 2-7 2-6 2 5 2-13 2 9 2 4 2-8 2-10 2 11 2-1 2 8 2-2 2 6 2-8 2 4 2 0 2-5 2 6 2 10 2-13 2 7 2-2 2 6 2-7 2 13 2-7 2 1 2-1 2 6 2-6 2 10 2-6 2 3 2 8 2 2 2-5 2-3 2 4 2 5 2-3 2 3 2 4 2-15 2 10 2 0 2-3 2 6 2-7 2 2 2 0 2 11 2-15 2 5 2 5 2-2 2-10 2 6 2-9 2 12 2-1 2-6 2-3 2 6 2-5 2-1 2 5 2 4 2-7 2-3 2 0 2 11 2-11 2 0 2 9 2-2 2 6 2-3 2-4 2 11 2-12 2 11 2-4 2 9 2-6 2 3 2-3 2 3 2 1 2-5 2 1 2 9 2-8 2 12 2-12 2-7 2-2 2 16 2-10 2-3 2 14 2-10 2-2 2 6 2-4 2 2 2-2 2-4 2-2 2 9 2-2 2-4 2-10 2 7 2 3 2 7 2-5 2 7 2-20 2 7 2 4 2-8 2 7 2 1 2 1 2 1 2-13 2 2 2 5 2 2 2-7 2 2 2 1 2 5 2-2 2 3 2-3 2 9 2-13 2 1 2 0 2 7 2 4 2-11 2 0 2 5 2-9 2 0 2-10 2 13 2-5 2 7 2-5 2-6 2 5 2-1 2 0 2 0 2 1 2 0 2-2 2 2 2-2 2 0 2-1 2-3 2-2 2 4 2-3 2 8 2-4 2-9 2 9 2-4 2 3 2-6 2 3 2 1 2-8 2 9 2-7 2-2 2 3 2 2 2-9 2 15 2-4 2-8 2 3 2 7 2-10 2 1 2 8 2-3 2-11 2 8 2 2 2-4 2 2 2-8 2 14 2-13 2-3 2 5 2-10 2 4 2-2 2 9 2 5 2-7 2 2 2-9 2 6 2-4 2 12 2-6 2-10 2 2 2-11 2 14 2 4 2-9 2 2 2-8 2 5 2-5 2 5 2-11 2 3 2-3 2 6 2-16 2 20 2-1 2-14 2-8 2 17 2-10 2-5 2-1 2-1 2 5 2-9 2-2 2 0 2-3 2-9 2 4 2-10 2 7 2-11 2-1 2-1 2-16 2 1 2-1 2-2 2 0 2-2 2 1 2-6 2-3 2-7 2 3 2 1 2-5 2 1 2 6 2-22 2 6 2 4 2 8 2-19 2 5 2 4 2 1 2-16 2 6 2 4 2-7 2 2 2 16 2-11 2 3 2-4 2 5 2-8 2 6 2 10 2-13 2 12 2-13 2 17 2-9 2 8 2 1 2 9 2-4 2-4 2-4 2 16 2-14 2 2 2 1 2-1 2 3 2 1 2-6 2 10 2-6 2 2 2-7 2 0 2-3 2-7 2 0 2 1 2 5 2-3 2-3 2 5 2-8 2-2 2 9 2 9 2 3 2 3 2 11 2 17 2-11 2 14 2-6 2 14 2 9 2 7 2 4 2 7 2-12 2 15 2 8 2-4 2-3 2-1 2 4 2 10 2-3 2 3 2 9 2-10 2 15 2 0 2-1 2-5 2 10 2 6 2-9 2 11 2 2 2-8 2 8 2 10 2-2 2 11 2 1 2-11 2 0 2 15 2-2 2 5 2 1 2-1 2-4 2 9 2 7 2-13 2 14 2-9 2 3 2-4 2-1 2 11 2-11 2 8 2-2 2 12 2-12 2 0 2 11 2-9 2-2 2 8 2-1 2-2 2-3 2 4 2 4 2-5 2 9 2-13 2-7 2 16 2 2 2-6 2 6 2-14 2 10 2-4 2-1 2 11 2-6" transform="scale(0.25)" stroke="#111" stroke-width="3.5" fill="none" stroke-linejoin="round"/>
<text x="389.8" y="30.7" font-size="12.8" fill="#1a1a1a">Graphite</text>
<text x="480.2" y="9.9" font-size="12.6" fill="#1a1a1a">Hydrocarbons</text>
<line x1="497.8" y1="12.3" x2="487.2" y2="20" stroke="#111" stroke-width="0.8"/>
<polygon points="484.6,21.9 487,18.3 488.7,20.8" stroke="none" stroke-width="1" fill="#111"/>
<line x1="509.8" y1="12.3" x2="505.8" y2="20.2" stroke="#111" stroke-width="0.8"/>
<polygon points="504.3,23 504.8,18.8 507.5,20.1" stroke="none" stroke-width="1" fill="#111"/>
<text x="553" y="28" font-size="12.9" fill="#1a1a1a">Water (ν<tspan font-size="9.4" dy="2.8">OH</tspan><tspan dy="-2.8">)</tspan></text>
<line x1="637.8" y1="4.7" x2="637.8" y2="26.9" stroke="#111" stroke-width="1.1"/>
<line x1="635.3" y1="4.7" x2="640.3" y2="4.7" stroke="#111" stroke-width="1.1"/>
<line x1="635.3" y1="26.9" x2="640.3" y2="26.9" stroke="#111" stroke-width="1.1"/>
<text x="643.6" y="21.5" font-size="14.4" fill="#1a1a1a">100</text>
<text x="490.5" y="182.9" font-size="13" fill="#1a1a1a">OH-1</text>
<line x1="512.9" y1="185.9" x2="519.6" y2="192.6" stroke="#111" stroke-width="0.8"/>
<polygon points="521.9,194.9 518,193.1 520.1,191" stroke="none" stroke-width="1" fill="#111"/>
<text x="564.7" y="191.3" font-size="13" fill="#1a1a1a">OH-2</text>
<text x="618.7" y="169.5" font-size="13" fill="#1a1a1a">OH-3</text>
<line x1="620.6" y1="174.4" x2="611.2" y2="186.4" stroke="#111" stroke-width="0.8"/>
<polygon points="609.2,188.9 610.5,184.8 612.9,186.7" stroke="none" stroke-width="1" fill="#111"/>
<text x="643.6" y="182.6" font-size="13" fill="#1a1a1a">OH-4</text>
<line x1="640.3" y1="180" x2="634.9" y2="188" stroke="#111" stroke-width="0.8"/>
<polygon points="633.1,190.7 634.1,186.5 636.6,188.2" stroke="none" stroke-width="1" fill="#111"/>
<text x="645.2" y="223.3" font-size="13" fill="#1a1a1a">OH-5</text>
<line x1="652.8" y1="209.9" x2="648.5" y2="202.7" stroke="#111" stroke-width="0.8"/>
<polygon points="646.9,199.9 650.2,202.6 647.6,204.1" stroke="none" stroke-width="1" fill="#111"/>
<line x1="394.5" y1="260" x2="669.5" y2="260" stroke="#333" stroke-width="1"/>
<line x1="394.5" y1="260" x2="394.5" y2="257" stroke="#333" stroke-width="1"/>
<line x1="405.9" y1="260" x2="405.9" y2="257.5" stroke="#333" stroke-width="1"/>
<line x1="417.4" y1="260" x2="417.4" y2="257.5" stroke="#333" stroke-width="1"/>
<line x1="428.9" y1="260" x2="428.9" y2="257.5" stroke="#333" stroke-width="1"/>
<line x1="440.3" y1="260" x2="440.3" y2="257" stroke="#333" stroke-width="1"/>
<line x1="451.8" y1="260" x2="451.8" y2="257.5" stroke="#333" stroke-width="1"/>
<line x1="463.2" y1="260" x2="463.2" y2="257.5" stroke="#333" stroke-width="1"/>
<line x1="474.6" y1="260" x2="474.6" y2="257.5" stroke="#333" stroke-width="1"/>
<line x1="486.1" y1="260" x2="486.1" y2="257" stroke="#333" stroke-width="1"/>
<line x1="497.6" y1="260" x2="497.6" y2="257.5" stroke="#333" stroke-width="1"/>
<line x1="509" y1="260" x2="509" y2="257.5" stroke="#333" stroke-width="1"/>
<line x1="520.5" y1="260" x2="520.5" y2="257.5" stroke="#333" stroke-width="1"/>
<line x1="531.9" y1="260" x2="531.9" y2="257" stroke="#333" stroke-width="1"/>
<line x1="543.4" y1="260" x2="543.4" y2="257.5" stroke="#333" stroke-width="1"/>
<line x1="554.8" y1="260" x2="554.8" y2="257.5" stroke="#333" stroke-width="1"/>
<line x1="566.2" y1="260" x2="566.2" y2="257.5" stroke="#333" stroke-width="1"/>
<line x1="577.7" y1="260" x2="577.7" y2="257" stroke="#333" stroke-width="1"/>
<line x1="589.1" y1="260" x2="589.1" y2="257.5" stroke="#333" stroke-width="1"/>
<line x1="600.6" y1="260" x2="600.6" y2="257.5" stroke="#333" stroke-width="1"/>
<line x1="612" y1="260" x2="612" y2="257.5" stroke="#333" stroke-width="1"/>
<line x1="623.5" y1="260" x2="623.5" y2="257" stroke="#333" stroke-width="1"/>
<line x1="635" y1="260" x2="635" y2="257.5" stroke="#333" stroke-width="1"/>
<line x1="646.4" y1="260" x2="646.4" y2="257.5" stroke="#333" stroke-width="1"/>
<line x1="657.9" y1="260" x2="657.9" y2="257.5" stroke="#333" stroke-width="1"/>
<line x1="669.3" y1="260" x2="669.3" y2="257" stroke="#333" stroke-width="1"/>
<text x="394.5" y="277" font-size="12.3" fill="#1a1a1a" text-anchor="middle">2600</text>
<text x="440.3" y="277" font-size="12.3" fill="#1a1a1a" text-anchor="middle">2800</text>
<text x="486.1" y="277" font-size="12.3" fill="#1a1a1a" text-anchor="middle">3000</text>
<text x="531.9" y="277" font-size="12.3" fill="#1a1a1a" text-anchor="middle">3200</text>
<text x="577.7" y="277" font-size="12.3" fill="#1a1a1a" text-anchor="middle">3400</text>
<text x="623.5" y="277" font-size="12.3" fill="#1a1a1a" text-anchor="middle">3600</text>
<text x="669.3" y="277" font-size="12.3" fill="#1a1a1a" text-anchor="middle">3800</text>
<text x="392.9" y="292.2" font-size="12.6" fill="#1a1a1a" text-anchor="middle">Raman shift (cm<tspan font-size="8.5" dy="-4.5">−1</tspan><tspan dy="4.5">)</tspan></text>
<line x1="50.6" y1="317.8" x2="50.6" y2="415.7" stroke="#333" stroke-width="1"/>
<line x1="50.1" y1="415.2" x2="150.3" y2="415.2" stroke="#333" stroke-width="1"/>
<line x1="163.1" y1="415.2" x2="186.5" y2="415.2" stroke="#333" stroke-width="1"/>
<line x1="186" y1="317.8" x2="186" y2="415.7" stroke="#333" stroke-width="1"/>
<line x1="50.6" y1="317.8" x2="150.7" y2="317.8" stroke="#7a7a7a" stroke-width="1.3"/>
<line x1="163.4" y1="317.8" x2="186.5" y2="317.8" stroke="#7a7a7a" stroke-width="1.3"/>
<line x1="47.6" y1="401.2" x2="50.6" y2="401.2" stroke="#333" stroke-width="1"/>
<line x1="186" y1="401.2" x2="189" y2="401.2" stroke="#333" stroke-width="1"/>
<text x="45" y="405.5" font-size="12.6" fill="#1a1a1a" text-anchor="end">3</text>
<text x="191.4" y="405.5" font-size="12.6" fill="#1a1a1a">3</text>
<line x1="47.6" y1="371.4" x2="50.6" y2="371.4" stroke="#333" stroke-width="1"/>
<line x1="186" y1="371.4" x2="189" y2="371.4" stroke="#333" stroke-width="1"/>
<text x="45" y="375.7" font-size="12.6" fill="#1a1a1a" text-anchor="end">4</text>
<text x="191.4" y="375.7" font-size="12.6" fill="#1a1a1a">4</text>
<line x1="47.6" y1="341.6" x2="50.6" y2="341.6" stroke="#333" stroke-width="1"/>
<line x1="186" y1="341.6" x2="189" y2="341.6" stroke="#333" stroke-width="1"/>
<text x="45" y="345.9" font-size="12.6" fill="#1a1a1a" text-anchor="end">5</text>
<text x="191.4" y="345.9" font-size="12.6" fill="#1a1a1a">5</text>
<line x1="48.6" y1="386.3" x2="50.6" y2="386.3" stroke="#333" stroke-width="1"/>
<line x1="186" y1="386.3" x2="188" y2="386.3" stroke="#333" stroke-width="1"/>
<line x1="48.6" y1="356.5" x2="50.6" y2="356.5" stroke="#333" stroke-width="1"/>
<line x1="186" y1="356.5" x2="188" y2="356.5" stroke="#333" stroke-width="1"/>
<line x1="48.6" y1="326.7" x2="50.6" y2="326.7" stroke="#333" stroke-width="1"/>
<line x1="186" y1="326.7" x2="188" y2="326.7" stroke="#333" stroke-width="1"/>
<line x1="76.2" y1="415.2" x2="76.2" y2="418.2" stroke="#333" stroke-width="1"/>
<text x="76.2" y="432.6" font-size="12.6" fill="#1a1a1a" text-anchor="middle">0</text>
<line x1="112.9" y1="415.2" x2="112.9" y2="418.2" stroke="#333" stroke-width="1"/>
<text x="112.9" y="432.6" font-size="12.6" fill="#1a1a1a" text-anchor="middle">−1</text>
<line x1="149.6" y1="415.2" x2="149.6" y2="418.2" stroke="#333" stroke-width="1"/>
<text x="149.6" y="432.6" font-size="12.6" fill="#1a1a1a" text-anchor="middle">−2</text>
<line x1="176.2" y1="415.2" x2="176.2" y2="418.2" stroke="#333" stroke-width="1"/>
<text x="176.2" y="432.6" font-size="12.6" fill="#1a1a1a" text-anchor="middle">0.36</text>
<line x1="57.9" y1="415.2" x2="57.9" y2="417.2" stroke="#333" stroke-width="1"/>
<line x1="94.6" y1="415.2" x2="94.6" y2="417.2" stroke="#333" stroke-width="1"/>
<line x1="131.2" y1="415.2" x2="131.2" y2="417.2" stroke="#333" stroke-width="1"/>
<line x1="63.4" y1="325.6" x2="63.4" y2="366.5" stroke="#1010f0" stroke-width="1.3"/>
<line x1="61.2" y1="325.6" x2="65.6" y2="325.6" stroke="#1010f0" stroke-width="1.3"/>
<line x1="61.2" y1="366.5" x2="65.6" y2="366.5" stroke="#1010f0" stroke-width="1.3"/>
<rect x="61.1" y="344" width="4.6" height="4.6" fill="#1010f0" stroke="none" stroke-width="1"/>
<line x1="86.7" y1="327.8" x2="86.7" y2="365.7" stroke="#1010f0" stroke-width="1.3"/>
<line x1="84.5" y1="327.8" x2="88.9" y2="327.8" stroke="#1010f0" stroke-width="1.3"/>
<line x1="84.5" y1="365.7" x2="88.9" y2="365.7" stroke="#1010f0" stroke-width="1.3"/>
<rect x="84.4" y="344.5" width="4.6" height="4.6" fill="#1010f0" stroke="none" stroke-width="1"/>
<line x1="104.9" y1="347.6" x2="104.9" y2="387.2" stroke="#1010f0" stroke-width="1.3"/>
<line x1="102.7" y1="347.6" x2="107.1" y2="347.6" stroke="#1010f0" stroke-width="1.3"/>
<line x1="102.7" y1="387.2" x2="107.1" y2="387.2" stroke="#1010f0" stroke-width="1.3"/>
<rect x="102.6" y="365.5" width="4.6" height="4.6" fill="#1010f0" stroke="none" stroke-width="1"/>
<line x1="122.9" y1="389.5" x2="122.9" y2="414.1" stroke="#1010f0" stroke-width="1.3"/>
<line x1="120.7" y1="389.5" x2="125.1" y2="389.5" stroke="#1010f0" stroke-width="1.3"/>
<line x1="120.7" y1="414.1" x2="125.1" y2="414.1" stroke="#1010f0" stroke-width="1.3"/>
<rect x="120.6" y="399.6" width="4.6" height="4.6" fill="#1010f0" stroke="none" stroke-width="1"/>
<line x1="140.9" y1="379" x2="140.9" y2="409.8" stroke="#1010f0" stroke-width="1.3"/>
<line x1="138.7" y1="379" x2="143.1" y2="379" stroke="#1010f0" stroke-width="1.3"/>
<line x1="138.7" y1="409.8" x2="143.1" y2="409.8" stroke="#1010f0" stroke-width="1.3"/>
<rect x="138.6" y="392.4" width="4.6" height="4.6" fill="#1010f0" stroke="none" stroke-width="1"/>
<line x1="176.2" y1="384.4" x2="176.2" y2="407.7" stroke="#1010f0" stroke-width="1.3"/>
<line x1="174" y1="384.4" x2="178.4" y2="384.4" stroke="#1010f0" stroke-width="1.3"/>
<line x1="174" y1="407.7" x2="178.4" y2="407.7" stroke="#1010f0" stroke-width="1.3"/>
<rect x="174.4" y="394.4" width="3.5" height="3.5" fill="white" stroke="#1010f0" stroke-width="1.1"/>
<text x="16.6" y="324.9" font-size="14.4" fill="#000" font-weight="bold">b</text>
<text x="28.9" y="367.2" font-size="12.6" fill="#1a1a1a" text-anchor="middle" transform="rotate(-90 28.9 367.2)"><tspan font-style="italic">d</tspan><tspan font-size="8.8" dy="2.5">12</tspan><tspan dy="-2.5"> (Å)</tspan></text>
<text x="115" y="447.3" font-size="12.6" fill="#1a1a1a" text-anchor="middle">Potential (V)</text>
<line x1="266.4" y1="318.5" x2="266.4" y2="416.5" stroke="#333" stroke-width="1"/>
<line x1="265.9" y1="416" x2="380.7" y2="416" stroke="#333" stroke-width="1"/>
<line x1="390.5" y1="416" x2="401" y2="416" stroke="#333" stroke-width="1"/>
<line x1="400.5" y1="318.5" x2="400.5" y2="416.5" stroke="#333" stroke-width="1"/>
<line x1="266.4" y1="318.5" x2="381.7" y2="318.5" stroke="#7a7a7a" stroke-width="1.3"/>
<line x1="389.9" y1="318.5" x2="401" y2="318.5" stroke="#7a7a7a" stroke-width="1.3"/>
<line x1="263.4" y1="327.6" x2="266.4" y2="327.6" stroke="#333" stroke-width="1"/>
<line x1="400.5" y1="327.6" x2="403.5" y2="327.6" stroke="#333" stroke-width="1"/>
<text x="260.8" y="331.9" font-size="12.6" fill="#1a1a1a" text-anchor="end">45.7</text>
<text x="405.9" y="331.9" font-size="12.6" fill="#1a1a1a">45.7</text>
<line x1="263.4" y1="350" x2="266.4" y2="350" stroke="#333" stroke-width="1"/>
<line x1="400.5" y1="350" x2="403.5" y2="350" stroke="#333" stroke-width="1"/>
<text x="260.8" y="354.3" font-size="12.6" fill="#1a1a1a" text-anchor="end">17.3</text>
<text x="405.9" y="354.3" font-size="12.6" fill="#1a1a1a">17.3</text>
<line x1="263.4" y1="370.5" x2="266.4" y2="370.5" stroke="#333" stroke-width="1"/>
<line x1="400.5" y1="370.5" x2="403.5" y2="370.5" stroke="#333" stroke-width="1"/>
<text x="260.8" y="374.8" font-size="12.6" fill="#1a1a1a" text-anchor="end">8.0</text>
<text x="405.9" y="374.8" font-size="12.6" fill="#1a1a1a">8.0</text>
<line x1="263.4" y1="392.1" x2="266.4" y2="392.1" stroke="#333" stroke-width="1"/>
<line x1="400.5" y1="392.1" x2="403.5" y2="392.1" stroke="#333" stroke-width="1"/>
<text x="260.8" y="396.4" font-size="12.6" fill="#1a1a1a" text-anchor="end">4.0</text>
<text x="405.9" y="396.4" font-size="12.6" fill="#1a1a1a">4.0</text>
<line x1="263.4" y1="413.6" x2="266.4" y2="413.6" stroke="#333" stroke-width="1"/>
<line x1="400.5" y1="413.6" x2="403.5" y2="413.6" stroke="#333" stroke-width="1"/>
<text x="260.8" y="417.9" font-size="12.6" fill="#1a1a1a" text-anchor="end">0.0</text>
<text x="405.9" y="417.9" font-size="12.6" fill="#1a1a1a">0.0</text>
<line x1="263.2" y1="339.2" x2="269.6" y2="337.2" stroke="#333" stroke-width="1"/>
<line x1="263.2" y1="342" x2="269.6" y2="340" stroke="#333" stroke-width="1"/>
<rect x="265.2" y="338.7" width="2.4" height="1.8" fill="#fff" stroke="none" stroke-width="1"/>
<line x1="397.3" y1="339.2" x2="403.7" y2="337.2" stroke="#333" stroke-width="1"/>
<line x1="397.3" y1="342" x2="403.7" y2="340" stroke="#333" stroke-width="1"/>
<rect x="399.3" y="338.7" width="2.4" height="1.8" fill="#fff" stroke="none" stroke-width="1"/>
<line x1="263.2" y1="362" x2="269.6" y2="360" stroke="#333" stroke-width="1"/>
<line x1="263.2" y1="364.8" x2="269.6" y2="362.8" stroke="#333" stroke-width="1"/>
<rect x="265.2" y="361.5" width="2.4" height="1.8" fill="#fff" stroke="none" stroke-width="1"/>
<line x1="397.3" y1="362" x2="403.7" y2="360" stroke="#333" stroke-width="1"/>
<line x1="397.3" y1="364.8" x2="403.7" y2="362.8" stroke="#333" stroke-width="1"/>
<rect x="399.3" y="361.5" width="2.4" height="1.8" fill="#fff" stroke="none" stroke-width="1"/>
<line x1="271.5" y1="416" x2="271.5" y2="419" stroke="#333" stroke-width="1"/>
<text x="271.5" y="433.4" font-size="12.6" fill="#1a1a1a" text-anchor="middle">0</text>
<line x1="324" y1="416" x2="324" y2="419" stroke="#333" stroke-width="1"/>
<text x="324" y="433.4" font-size="12.6" fill="#1a1a1a" text-anchor="middle">−1</text>
<line x1="376.5" y1="416" x2="376.5" y2="419" stroke="#333" stroke-width="1"/>
<text x="376.5" y="433.4" font-size="12.6" fill="#1a1a1a" text-anchor="middle">−2</text>
<line x1="395" y1="416" x2="395" y2="419" stroke="#333" stroke-width="1"/>
<text x="395" y="433.4" font-size="12.6" fill="#1a1a1a" text-anchor="middle">0</text>
<line x1="297.8" y1="416" x2="297.8" y2="418" stroke="#333" stroke-width="1"/>
<line x1="350.2" y1="416" x2="350.2" y2="418" stroke="#333" stroke-width="1"/>
<polyline points="271.5,400.3 292.5,399.3 313.5,402.2 334.5,409.3 376.5,412.8" stroke="#8a8a8a" stroke-width="0.9" fill="none" stroke-dasharray="4,1.6,1.2,1.6"/>
<polyline points="271.5,327.6 292.5,350 313.5,401.6 334.5,409.3 376.5,408.3" stroke="#222" stroke-width="0.9" fill="none" stroke-dasharray="4,1.6,1.2,1.6"/>
<polyline points="271.5,407.9 292.5,405.4 313.5,395.5 334.5,389.3 376.5,369.9" stroke="#1010f0" stroke-width="0.9" fill="none" stroke-dasharray="4,1.6,1.2,1.6"/>
<rect x="269.2" y="325.3" width="4.6" height="4.6" fill="#111" stroke="none" stroke-width="1"/>
<rect x="290.2" y="347.7" width="4.6" height="4.6" fill="#111" stroke="none" stroke-width="1"/>
<rect x="311.2" y="399.3" width="4.6" height="4.6" fill="#111" stroke="none" stroke-width="1"/>
<rect x="332.2" y="407" width="4.6" height="4.6" fill="#111" stroke="none" stroke-width="1"/>
<rect x="374.2" y="406" width="4.6" height="4.6" fill="#111" stroke="none" stroke-width="1"/>
<polygon points="268.8,402.6 274.2,402.6 271.5,397.6" stroke="none" stroke-width="1" fill="#8a8a8a"/>
<polygon points="289.8,401.6 295.2,401.6 292.5,396.6" stroke="none" stroke-width="1" fill="#8a8a8a"/>
<polygon points="310.8,404.4 316.2,404.4 313.5,399.4" stroke="none" stroke-width="1" fill="#8a8a8a"/>
<polygon points="331.8,411.6 337.2,411.6 334.5,406.6" stroke="none" stroke-width="1" fill="#8a8a8a"/>
<polygon points="373.8,415.1 379.2,415.1 376.5,410.1" stroke="none" stroke-width="1" fill="#8a8a8a"/>
<rect x="269.2" y="405.6" width="4.6" height="4.6" fill="#1010f0" stroke="none" stroke-width="1"/>
<rect x="290.2" y="403.1" width="4.6" height="4.6" fill="#1010f0" stroke="none" stroke-width="1"/>
<rect x="311.2" y="393.2" width="4.6" height="4.6" fill="#1010f0" stroke="none" stroke-width="1"/>
<rect x="332.2" y="387" width="4.6" height="4.6" fill="#1010f0" stroke="none" stroke-width="1"/>
<rect x="374.2" y="367.6" width="4.6" height="4.6" fill="#1010f0" stroke="none" stroke-width="1"/>
<rect x="393.4" y="382.2" width="3.3" height="3.3" fill="white" stroke="#1010f0" stroke-width="1.1"/>
<rect x="393.4" y="390" width="3.3" height="3.3" fill="white" stroke="#111" stroke-width="1.1"/>
<polygon points="392.5,409.2 397.5,409.2 395,404.8" stroke="#8a8a8a" stroke-width="0.9" fill="white"/>
<line x1="309.2" y1="328.6" x2="321.8" y2="328.6" stroke="#111" stroke-width="0.9" stroke-dasharray="2.2,1.2"/>
<rect x="314.2" y="326.3" width="4.6" height="4.6" fill="#111" stroke="none" stroke-width="1"/>
<line x1="309.2" y1="346" x2="321.8" y2="346" stroke="#1010f0" stroke-width="0.9" stroke-dasharray="2.2,1.2"/>
<rect x="314.2" y="343.7" width="4.6" height="4.6" fill="#1010f0" stroke="none" stroke-width="1"/>
<line x1="309.2" y1="365.8" x2="321.8" y2="365.8" stroke="#8a8a8a" stroke-width="0.9" stroke-dasharray="2.2,1.2"/>
<polygon points="313.6,368.1 319.4,368.1 316.5,362.9" stroke="none" stroke-width="1" fill="#8a8a8a"/>
<text x="327.3" y="333.6" font-size="13.2" fill="#1a1a1a">FP</text>
<text x="327.3" y="349.6" font-size="12.6" fill="#1a1a1a">ν<tspan font-size="9" dy="3">OH</tspan></text>
<text x="327.3" y="369.4" font-size="12.6" fill="#1a1a1a">ν<tspan font-size="9" dy="3">CH</tspan></text>
<text x="269.3" y="314.4" font-size="12.3" fill="#1a1a1a">×10<tspan font-size="8.5" dy="-4.6">4</tspan></text>
<text x="209.9" y="313.9" font-size="14.4" fill="#000" font-weight="bold">d</text>
<text x="229.6" y="368" font-size="12.6" fill="#1a1a1a" text-anchor="middle" transform="rotate(-90 229.6 368)">Area (counts cm<tspan font-size="8.5" dy="-4.5">−1</tspan><tspan dy="4.5">)</tspan></text>
<text x="337.8" y="446.2" font-size="12.6" fill="#1a1a1a" text-anchor="middle">Potential (V)</text>
<line x1="503.6" y1="318" x2="503.6" y2="416.4" stroke="#333" stroke-width="1"/>
<line x1="503.1" y1="415.9" x2="617.8" y2="415.9" stroke="#333" stroke-width="1"/>
<line x1="637.8" y1="415.9" x2="649.4" y2="415.9" stroke="#333" stroke-width="1"/>
<line x1="648.9" y1="318" x2="648.9" y2="416.4" stroke="#333" stroke-width="1"/>
<line x1="503.6" y1="318" x2="618" y2="318" stroke="#7a7a7a" stroke-width="1.3"/>
<line x1="637.6" y1="318" x2="649.4" y2="318" stroke="#7a7a7a" stroke-width="1.3"/>
<line x1="500.6" y1="411.5" x2="503.6" y2="411.5" stroke="#333" stroke-width="1"/>
<line x1="648.9" y1="411.5" x2="651.9" y2="411.5" stroke="#333" stroke-width="1"/>
<text x="497.6" y="410.5" font-size="12.9" fill="#1a1a1a" text-anchor="end" transform="rotate(-45 497.6 410.5)">3200</text>
<text x="661" y="420.4" font-size="12.9" fill="#1a1a1a" transform="rotate(-45 661 420.4)">3200</text>
<line x1="500.6" y1="377.4" x2="503.6" y2="377.4" stroke="#333" stroke-width="1"/>
<line x1="648.9" y1="377.4" x2="651.9" y2="377.4" stroke="#333" stroke-width="1"/>
<text x="497.6" y="376.4" font-size="12.9" fill="#1a1a1a" text-anchor="end" transform="rotate(-45 497.6 376.4)">3400</text>
<text x="661" y="386.3" font-size="12.9" fill="#1a1a1a" transform="rotate(-45 661 386.3)">3400</text>
<line x1="500.6" y1="343.2" x2="503.6" y2="343.2" stroke="#333" stroke-width="1"/>
<line x1="648.9" y1="343.2" x2="651.9" y2="343.2" stroke="#333" stroke-width="1"/>
<text x="497.6" y="342.2" font-size="12.9" fill="#1a1a1a" text-anchor="end" transform="rotate(-45 497.6 342.2)">3600</text>
<text x="661" y="352.1" font-size="12.9" fill="#1a1a1a" transform="rotate(-45 661 352.1)">3600</text>
<line x1="508.3" y1="415.9" x2="508.3" y2="418.9" stroke="#333" stroke-width="1"/>
<text x="508.3" y="432" font-size="12.6" fill="#1a1a1a" text-anchor="middle">0</text>
<line x1="560.5" y1="415.9" x2="560.5" y2="418.9" stroke="#333" stroke-width="1"/>
<text x="560.5" y="432" font-size="12.6" fill="#1a1a1a" text-anchor="middle">−1</text>
<line x1="612.8" y1="415.9" x2="612.8" y2="418.9" stroke="#333" stroke-width="1"/>
<text x="612.8" y="432" font-size="12.6" fill="#1a1a1a" text-anchor="middle">−2</text>
<line x1="643" y1="415.9" x2="643" y2="418.9" stroke="#333" stroke-width="1"/>
<text x="643" y="432" font-size="12.6" fill="#1a1a1a" text-anchor="middle">0</text>
<line x1="534.4" y1="415.9" x2="534.4" y2="417.9" stroke="#333" stroke-width="1"/>
<line x1="586.7" y1="415.9" x2="586.7" y2="417.9" stroke="#333" stroke-width="1"/>
<polyline points="508.3,361.3 529.2,364.9 550.1,367.9 571,377.6 612.8,376.6" stroke="#1e9ef5" stroke-width="0.9" fill="none" stroke-dasharray="4,1.6,1.2,1.6"/>
<polyline points="508.3,387.3 529.2,387.7 550.1,394 571,401.3 612.8,407.3" stroke="#f31010" stroke-width="0.9" fill="none" stroke-dasharray="4,1.6,1.2,1.6"/>
<rect x="506" y="359" width="4.6" height="4.6" fill="#1e9ef5" stroke="none" stroke-width="1"/>
<rect x="526.9" y="362.6" width="4.6" height="4.6" fill="#1e9ef5" stroke="none" stroke-width="1"/>
<rect x="547.8" y="365.6" width="4.6" height="4.6" fill="#1e9ef5" stroke="none" stroke-width="1"/>
<rect x="568.7" y="375.3" width="4.6" height="4.6" fill="#1e9ef5" stroke="none" stroke-width="1"/>
<rect x="610.5" y="374.3" width="4.6" height="4.6" fill="#1e9ef5" stroke="none" stroke-width="1"/>
<rect x="506" y="385" width="4.6" height="4.6" fill="#f31010" stroke="none" stroke-width="1"/>
<rect x="526.9" y="385.4" width="4.6" height="4.6" fill="#f31010" stroke="none" stroke-width="1"/>
<rect x="547.8" y="391.7" width="4.6" height="4.6" fill="#f31010" stroke="none" stroke-width="1"/>
<rect x="568.7" y="399" width="4.6" height="4.6" fill="#f31010" stroke="none" stroke-width="1"/>
<rect x="610.5" y="405" width="4.6" height="4.6" fill="#f31010" stroke="none" stroke-width="1"/>
<rect x="601.3" y="394.2" width="3.2" height="3.2" fill="white" stroke="#f31010" stroke-width="1"/>
<rect x="601.3" y="348.2" width="3.2" height="3.2" fill="white" stroke="#1e9ef5" stroke-width="1"/>
<polygon points="612.6,324.3 615.7,327.4 612.6,330.5 609.5,327.4" stroke="none" stroke-width="1" fill="#8a1be6"/>
<polygon points="609.5,339.1 615.7,339.1 612.6,344.7" stroke="none" stroke-width="1" fill="#f58220"/>
<polygon points="609.5,357.2 615.7,357.2 612.6,351.6" stroke="none" stroke-width="1" fill="#18c818"/>
<text x="579.7" y="331" font-size="11.2" fill="#1a1a1a">OH-5</text>
<text x="579.7" y="345.3" font-size="11.2" fill="#1a1a1a">OH-4</text>
<text x="579.7" y="360.2" font-size="11.2" fill="#1a1a1a">OH-3</text>
<text x="534.9" y="362.3" font-size="11.2" fill="#1a1a1a">OH-2</text>
<text x="516.9" y="403.4" font-size="11.2" fill="#1a1a1a">OH-1</text>
<polygon points="643,325.3 645.4,327.7 643,330.1 640.6,327.7" stroke="#8a1be6" stroke-width="1" fill="white"/>
<polygon points="640.7,332 645.3,332 643,336.1" stroke="#f58220" stroke-width="1" fill="white"/>
<polygon points="640.7,344.7 645.3,344.7 643,340.6" stroke="#18c818" stroke-width="1" fill="white"/>
<rect x="641.4" y="356.8" width="3.2" height="3.2" fill="white" stroke="#1e9ef5" stroke-width="1"/>
<rect x="641.4" y="388.7" width="3.2" height="3.2" fill="white" stroke="#f31010" stroke-width="1"/>
<text x="442.2" y="316.9" font-size="14.6" fill="#000" font-weight="bold">e</text>
<text x="465.4" y="366.3" font-size="12.6" fill="#1a1a1a" text-anchor="middle" transform="rotate(-90 465.4 366.3)">Raman shift (cm<tspan font-size="8.5" dy="-4.5">−1</tspan><tspan dy="4.5">)</tspan></text>
<text x="578.6" y="446.2" font-size="12.6" fill="#1a1a1a" text-anchor="middle">Potential (V)</text>
<line x1="50.8" y1="467.5" x2="50.8" y2="566.3" stroke="#333" stroke-width="1"/>
<line x1="50.3" y1="565.8" x2="165" y2="565.8" stroke="#333" stroke-width="1"/>
<line x1="176.2" y1="565.8" x2="186.5" y2="565.8" stroke="#333" stroke-width="1"/>
<line x1="186" y1="467.5" x2="186" y2="566.3" stroke="#333" stroke-width="1"/>
<line x1="50.8" y1="467.5" x2="165" y2="467.5" stroke="#7a7a7a" stroke-width="1.3"/>
<line x1="176.2" y1="467.5" x2="186.5" y2="467.5" stroke="#7a7a7a" stroke-width="1.3"/>
<line x1="47.8" y1="565.8" x2="50.8" y2="565.8" stroke="#333" stroke-width="1"/>
<line x1="186" y1="565.8" x2="189" y2="565.8" stroke="#333" stroke-width="1"/>
<text x="45.2" y="570.2" font-size="12.6" fill="#1a1a1a" text-anchor="end">0</text>
<text x="191.4" y="570.2" font-size="12.6" fill="#1a1a1a">0</text>
<line x1="47.8" y1="541.2" x2="50.8" y2="541.2" stroke="#333" stroke-width="1"/>
<line x1="186" y1="541.2" x2="189" y2="541.2" stroke="#333" stroke-width="1"/>
<text x="45.2" y="545.6" font-size="12.6" fill="#1a1a1a" text-anchor="end">100</text>
<text x="191.4" y="545.6" font-size="12.6" fill="#1a1a1a">100</text>
<line x1="47.8" y1="516.6" x2="50.8" y2="516.6" stroke="#333" stroke-width="1"/>
<line x1="186" y1="516.6" x2="189" y2="516.6" stroke="#333" stroke-width="1"/>
<text x="45.2" y="521" font-size="12.6" fill="#1a1a1a" text-anchor="end">200</text>
<text x="191.4" y="521" font-size="12.6" fill="#1a1a1a">200</text>
<line x1="47.8" y1="492.1" x2="50.8" y2="492.1" stroke="#333" stroke-width="1"/>
<line x1="186" y1="492.1" x2="189" y2="492.1" stroke="#333" stroke-width="1"/>
<text x="45.2" y="496.5" font-size="12.6" fill="#1a1a1a" text-anchor="end">300</text>
<text x="191.4" y="496.5" font-size="12.6" fill="#1a1a1a">300</text>
<line x1="47.8" y1="467.5" x2="50.8" y2="467.5" stroke="#333" stroke-width="1"/>
<line x1="186" y1="467.5" x2="189" y2="467.5" stroke="#333" stroke-width="1"/>
<text x="45.2" y="471.9" font-size="12.6" fill="#1a1a1a" text-anchor="end">400</text>
<text x="191.4" y="471.9" font-size="12.6" fill="#1a1a1a">400</text>
<line x1="55.2" y1="565.8" x2="55.2" y2="568.8" stroke="#333" stroke-width="1"/>
<text x="55.2" y="582.6" font-size="12.6" fill="#1a1a1a" text-anchor="middle">0</text>
<line x1="107.4" y1="565.8" x2="107.4" y2="568.8" stroke="#333" stroke-width="1"/>
<text x="107.4" y="582.6" font-size="12.6" fill="#1a1a1a" text-anchor="middle">−1</text>
<line x1="159.6" y1="565.8" x2="159.6" y2="568.8" stroke="#333" stroke-width="1"/>
<text x="159.6" y="582.6" font-size="12.6" fill="#1a1a1a" text-anchor="middle">−2</text>
<line x1="180.6" y1="565.8" x2="180.6" y2="568.8" stroke="#333" stroke-width="1"/>
<text x="180.6" y="582.6" font-size="12.6" fill="#1a1a1a" text-anchor="middle">0</text>
<line x1="81.3" y1="565.8" x2="81.3" y2="567.8" stroke="#333" stroke-width="1"/>
<line x1="133.5" y1="565.8" x2="133.5" y2="567.8" stroke="#333" stroke-width="1"/>
<polyline points="55.2,514.2 76.1,530.1 97,515.6 117.8,504.4 159.6,514.9" stroke="#f31010" stroke-width="0.9" fill="none" stroke-dasharray="4,1.6,1.2,1.6"/>
<polyline points="55.2,531.7 76.1,526.6 97,519.6 117.8,496.7 159.6,514.9" stroke="#1e9ef5" stroke-width="0.9" fill="none" stroke-dasharray="4,1.6,1.2,1.6"/>
<rect x="52.9" y="511.9" width="4.6" height="4.6" fill="#f31010" stroke="none" stroke-width="1"/>
<rect x="73.8" y="527.8" width="4.6" height="4.6" fill="#f31010" stroke="none" stroke-width="1"/>
<rect x="94.7" y="513.3" width="4.6" height="4.6" fill="#f31010" stroke="none" stroke-width="1"/>
<rect x="115.5" y="502.1" width="4.6" height="4.6" fill="#f31010" stroke="none" stroke-width="1"/>
<rect x="157.3" y="512.6" width="4.6" height="4.6" fill="#f31010" stroke="none" stroke-width="1"/>
<rect x="52.9" y="529.4" width="4.6" height="4.6" fill="#1e9ef5" stroke="none" stroke-width="1"/>
<rect x="73.8" y="524.3" width="4.6" height="4.6" fill="#1e9ef5" stroke="none" stroke-width="1"/>
<rect x="94.7" y="517.3" width="4.6" height="4.6" fill="#1e9ef5" stroke="none" stroke-width="1"/>
<rect x="115.5" y="494.4" width="4.6" height="4.6" fill="#1e9ef5" stroke="none" stroke-width="1"/>
<rect x="157.3" y="512.6" width="4.6" height="4.6" fill="#1e9ef5" stroke="none" stroke-width="1"/>
<polygon points="159.6,540.3 162.7,543.4 159.6,546.5 156.5,543.4" stroke="none" stroke-width="1" fill="#8a1be6"/>
<polygon points="156.5,551.3 162.7,551.3 159.6,545.7" stroke="none" stroke-width="1" fill="#18c818"/>
<polygon points="156.5,555.6 162.7,555.6 159.6,561.2" stroke="none" stroke-width="1" fill="#f58220"/>
<text x="122.9" y="491.5" font-size="11.2" fill="#1a1a1a">OH-2</text>
<text x="117.8" y="520.3" font-size="11.2" fill="#1a1a1a">OH-1</text>
<text x="120.6" y="538.7" font-size="11.2" fill="#1a1a1a">OH-5</text>
<text x="119.9" y="550.6" font-size="11.2" fill="#1a1a1a">OH-3</text>
<text x="120.6" y="562.3" font-size="11.2" fill="#1a1a1a">OH-4</text>
<line x1="146.3" y1="535.9" x2="152.8" y2="539.1" stroke="#111" stroke-width="0.8"/>
<polygon points="155.4,540.4 151.6,540.1 152.8,537.5" stroke="none" stroke-width="1" fill="#111"/>
<line x1="146.2" y1="548.4" x2="152.3" y2="548.5" stroke="#111" stroke-width="0.8"/>
<polygon points="155.2,548.6 151.6,549.9 151.6,547.1" stroke="none" stroke-width="1" fill="#111"/>
<line x1="146.2" y1="560.2" x2="152.3" y2="559.7" stroke="#111" stroke-width="0.8"/>
<polygon points="155.2,559.4 151.7,561.1 151.5,558.3" stroke="none" stroke-width="1" fill="#111"/>
<rect x="179" y="477.1" width="3.2" height="3.2" fill="white" stroke="#f31010" stroke-width="1"/>
<rect x="179" y="529.6" width="3.2" height="3.2" fill="white" stroke="#1e9ef5" stroke-width="1"/>
<polygon points="178.3,552.4 182.9,552.4 180.6,548.3" stroke="#18c818" stroke-width="1" fill="white"/>
<polygon points="180.6,552.9 183,555.3 180.6,557.7 178.2,555.3" stroke="#8a1be6" stroke-width="1" fill="white"/>
<polygon points="178.3,558.2 182.9,558.2 180.6,562.3" stroke="#f58220" stroke-width="1" fill="white"/>
<text x="4.2" y="469.7" font-size="14.4" fill="#000" font-weight="bold">f</text>
<text x="16.2" y="515.5" font-size="12.6" fill="#1a1a1a" text-anchor="middle" transform="rotate(-90 16.2 515.5)">FWHM (cm<tspan font-size="8.5" dy="-4.5">−1</tspan><tspan dy="4.5">)</tspan></text>
<text x="118.5" y="597.1" font-size="12.6" fill="#1a1a1a" text-anchor="middle">Potential (V)</text>
<line x1="266.6" y1="467.9" x2="266.6" y2="566.9" stroke="#333" stroke-width="1"/>
<line x1="266.1" y1="566.4" x2="381.7" y2="566.4" stroke="#333" stroke-width="1"/>
<line x1="390.2" y1="566.4" x2="401.2" y2="566.4" stroke="#333" stroke-width="1"/>
<line x1="400.7" y1="467.9" x2="400.7" y2="566.9" stroke="#333" stroke-width="1"/>
<line x1="266.6" y1="467.9" x2="381.7" y2="467.9" stroke="#7a7a7a" stroke-width="1.3"/>
<line x1="390.2" y1="467.9" x2="401.2" y2="467.9" stroke="#7a7a7a" stroke-width="1.3"/>
<line x1="263.6" y1="561.7" x2="266.6" y2="561.7" stroke="#333" stroke-width="1"/>
<line x1="400.7" y1="561.7" x2="403.7" y2="561.7" stroke="#333" stroke-width="1"/>
<text x="261" y="566.1" font-size="12.6" fill="#1a1a1a" text-anchor="end">0.0</text>
<text x="406.1" y="566.1" font-size="12.6" fill="#1a1a1a">0.0</text>
<line x1="263.6" y1="542.9" x2="266.6" y2="542.9" stroke="#333" stroke-width="1"/>
<line x1="400.7" y1="542.9" x2="403.7" y2="542.9" stroke="#333" stroke-width="1"/>
<text x="261" y="547.3" font-size="12.6" fill="#1a1a1a" text-anchor="end">0.2</text>
<text x="406.1" y="547.3" font-size="12.6" fill="#1a1a1a">0.2</text>
<line x1="263.6" y1="524.2" x2="266.6" y2="524.2" stroke="#333" stroke-width="1"/>
<line x1="400.7" y1="524.2" x2="403.7" y2="524.2" stroke="#333" stroke-width="1"/>
<text x="261" y="528.6" font-size="12.6" fill="#1a1a1a" text-anchor="end">0.4</text>
<text x="406.1" y="528.6" font-size="12.6" fill="#1a1a1a">0.4</text>
<line x1="263.6" y1="505.4" x2="266.6" y2="505.4" stroke="#333" stroke-width="1"/>
<line x1="400.7" y1="505.4" x2="403.7" y2="505.4" stroke="#333" stroke-width="1"/>
<text x="261" y="509.8" font-size="12.6" fill="#1a1a1a" text-anchor="end">0.6</text>
<text x="406.1" y="509.8" font-size="12.6" fill="#1a1a1a">0.6</text>
<line x1="263.6" y1="486.7" x2="266.6" y2="486.7" stroke="#333" stroke-width="1"/>
<line x1="400.7" y1="486.7" x2="403.7" y2="486.7" stroke="#333" stroke-width="1"/>
<text x="261" y="491.1" font-size="12.6" fill="#1a1a1a" text-anchor="end">0.8</text>
<text x="406.1" y="491.1" font-size="12.6" fill="#1a1a1a">0.8</text>
<line x1="263.6" y1="467.9" x2="266.6" y2="467.9" stroke="#333" stroke-width="1"/>
<line x1="400.7" y1="467.9" x2="403.7" y2="467.9" stroke="#333" stroke-width="1"/>
<text x="261" y="472.3" font-size="12.6" fill="#1a1a1a" text-anchor="end">1.0</text>
<text x="406.1" y="472.3" font-size="12.6" fill="#1a1a1a">1.0</text>
<line x1="271.7" y1="566.4" x2="271.7" y2="569.4" stroke="#333" stroke-width="1"/>
<text x="271.7" y="583" font-size="12.6" fill="#1a1a1a" text-anchor="middle">0</text>
<line x1="323.9" y1="566.4" x2="323.9" y2="569.4" stroke="#333" stroke-width="1"/>
<text x="323.9" y="583" font-size="12.6" fill="#1a1a1a" text-anchor="middle">−1</text>
<line x1="376.1" y1="566.4" x2="376.1" y2="569.4" stroke="#333" stroke-width="1"/>
<text x="376.1" y="583" font-size="12.6" fill="#1a1a1a" text-anchor="middle">−2</text>
<line x1="395.3" y1="566.4" x2="395.3" y2="569.4" stroke="#333" stroke-width="1"/>
<text x="395.3" y="583" font-size="12.6" fill="#1a1a1a" text-anchor="middle">0</text>
<line x1="297.8" y1="566.4" x2="297.8" y2="568.4" stroke="#333" stroke-width="1"/>
<line x1="350" y1="566.4" x2="350" y2="568.4" stroke="#333" stroke-width="1"/>
<polyline points="271.7,503.4 292.6,482.1 313.5,496.8 334.3,492.6 376.1,516.3" stroke="#1e9ef5" stroke-width="0.9" fill="none" stroke-dasharray="4,1.6,1.2,1.6"/>
<polyline points="271.7,526.4 292.6,547.4 313.5,532.8 334.3,536.6 376.1,534.7" stroke="#f31010" stroke-width="0.9" fill="none" stroke-dasharray="4,1.6,1.2,1.6"/>
<rect x="269.4" y="501.1" width="4.6" height="4.6" fill="#1e9ef5" stroke="none" stroke-width="1"/>
<rect x="290.3" y="479.8" width="4.6" height="4.6" fill="#1e9ef5" stroke="none" stroke-width="1"/>
<rect x="311.2" y="494.5" width="4.6" height="4.6" fill="#1e9ef5" stroke="none" stroke-width="1"/>
<rect x="332" y="490.3" width="4.6" height="4.6" fill="#1e9ef5" stroke="none" stroke-width="1"/>
<rect x="373.8" y="514" width="4.6" height="4.6" fill="#1e9ef5" stroke="none" stroke-width="1"/>
<rect x="269.4" y="524.1" width="4.6" height="4.6" fill="#f31010" stroke="none" stroke-width="1"/>
<rect x="290.3" y="545.1" width="4.6" height="4.6" fill="#f31010" stroke="none" stroke-width="1"/>
<rect x="311.2" y="530.5" width="4.6" height="4.6" fill="#f31010" stroke="none" stroke-width="1"/>
<rect x="332" y="534.3" width="4.6" height="4.6" fill="#f31010" stroke="none" stroke-width="1"/>
<rect x="373.8" y="532.4" width="4.6" height="4.6" fill="#f31010" stroke="none" stroke-width="1"/>
<polygon points="372.9,555.6 379.1,555.6 376,550" stroke="none" stroke-width="1" fill="#18c818"/>
<polygon points="372.9,549.3 379.1,549.3 376,554.9" stroke="none" stroke-width="1" fill="#f58220"/>
<polygon points="376,555.3 379.1,558.4 376,561.5 372.9,558.4" stroke="none" stroke-width="1" fill="#8a1be6"/>
<rect x="393.7" y="517.4" width="3.2" height="3.2" fill="white" stroke="#1e9ef5" stroke-width="1"/>
<rect x="393.7" y="526.1" width="3.2" height="3.2" fill="white" stroke="#f31010" stroke-width="1"/>
<polygon points="392.9,549.9 397.7,549.9 395.3,545.6" stroke="#18c818" stroke-width="1" fill="white"/>
<polygon points="393,555.7 397.6,555.7 395.3,559.8" stroke="#f58220" stroke-width="1" fill="white"/>
<polygon points="395.3,557.5 397.8,560 395.3,562.5 392.8,560" stroke="#8a1be6" stroke-width="1" fill="white"/>
<text x="343.7" y="493.5" font-size="11.2" fill="#1a1a1a">OH-2</text>
<text x="338.4" y="530.9" font-size="11.2" fill="#1a1a1a">OH-1</text>
<rect x="369.7" y="542.9" width="30" height="21.6" fill="none" stroke="#b5714a" stroke-width="0.9" stroke-dasharray="1,0.9"/>
<line x1="400" y1="541.7" x2="472.6" y2="469.3" stroke="#b87350" stroke-width="0.8"/>
<line x1="400.5" y1="563.9" x2="475" y2="571.3" stroke="#b87350" stroke-width="0.8" stroke-dasharray="1.2,0.8"/>
<text x="227" y="469.4" font-size="14.4" fill="#000" font-weight="bold">g</text>
<text x="234.9" y="517" font-size="12.6" fill="#1a1a1a" text-anchor="middle" transform="rotate(-90 234.9 517)">Area fraction</text>
<text x="330.2" y="596.6" font-size="12.6" fill="#1a1a1a" text-anchor="middle">Potential (V)</text>
<line x1="507.6" y1="470.9" x2="507.6" y2="566.5" stroke="#7a7a7a" stroke-width="1.3"/>
<line x1="507.6" y1="566" x2="557.5" y2="566" stroke="#7a7a7a" stroke-width="1.3"/>
<line x1="577.9" y1="566" x2="628.1" y2="566" stroke="#7a7a7a" stroke-width="1.3"/>
<line x1="627.6" y1="470.9" x2="627.6" y2="566.5" stroke="#7a7a7a" stroke-width="1.3"/>
<line x1="507.6" y1="470.9" x2="557.5" y2="470.9" stroke="#7a7a7a" stroke-width="1.3"/>
<line x1="577.9" y1="470.9" x2="628.1" y2="470.9" stroke="#7a7a7a" stroke-width="1.3"/>
<line x1="504.1" y1="566" x2="507.6" y2="566" stroke="#7a7a7a" stroke-width="1.1"/>
<line x1="627.6" y1="566" x2="631.1" y2="566" stroke="#7a7a7a" stroke-width="1.1"/>
<text x="500.9" y="570.4" font-size="12.6" fill="#1a1a1a" text-anchor="end">0.00</text>
<text x="633.4" y="570.4" font-size="12.6" fill="#1a1a1a">0.00</text>
<line x1="504.1" y1="542.2" x2="507.6" y2="542.2" stroke="#7a7a7a" stroke-width="1.1"/>
<line x1="627.6" y1="542.2" x2="631.1" y2="542.2" stroke="#7a7a7a" stroke-width="1.1"/>
<text x="500.9" y="546.6" font-size="12.6" fill="#1a1a1a" text-anchor="end">0.05</text>
<text x="633.4" y="546.6" font-size="12.6" fill="#1a1a1a">0.05</text>
<line x1="504.1" y1="518.5" x2="507.6" y2="518.5" stroke="#7a7a7a" stroke-width="1.1"/>
<line x1="627.6" y1="518.5" x2="631.1" y2="518.5" stroke="#7a7a7a" stroke-width="1.1"/>
<text x="500.9" y="522.9" font-size="12.6" fill="#1a1a1a" text-anchor="end">0.10</text>
<text x="633.4" y="522.9" font-size="12.6" fill="#1a1a1a">0.10</text>
<line x1="504.1" y1="494.7" x2="507.6" y2="494.7" stroke="#7a7a7a" stroke-width="1.1"/>
<line x1="627.6" y1="494.7" x2="631.1" y2="494.7" stroke="#7a7a7a" stroke-width="1.1"/>
<text x="500.9" y="499.1" font-size="12.6" fill="#1a1a1a" text-anchor="end">0.15</text>
<text x="633.4" y="499.1" font-size="12.6" fill="#1a1a1a">0.15</text>
<line x1="504.1" y1="470.9" x2="507.6" y2="470.9" stroke="#7a7a7a" stroke-width="1.1"/>
<line x1="627.6" y1="470.9" x2="631.1" y2="470.9" stroke="#7a7a7a" stroke-width="1.1"/>
<text x="500.9" y="475.3" font-size="12.6" fill="#1a1a1a" text-anchor="end">0.20</text>
<text x="633.4" y="475.3" font-size="12.6" fill="#1a1a1a">0.20</text>
<line x1="531.9" y1="566" x2="531.9" y2="569" stroke="#7a7a7a" stroke-width="1.1"/>
<text x="531.9" y="582.8" font-size="12.6" fill="#1a1a1a" text-anchor="middle">−2</text>
<line x1="602.9" y1="566" x2="602.9" y2="569" stroke="#7a7a7a" stroke-width="1.1"/>
<text x="602.9" y="582.8" font-size="12.6" fill="#1a1a1a" text-anchor="middle">0</text>
<polygon points="528.8,514.1 535,514.1 531.9,519.7" stroke="none" stroke-width="1" fill="#f58220"/>
<polygon points="528.8,523.9 535,523.9 531.9,518.3" stroke="none" stroke-width="1" fill="#18c818"/>
<polygon points="531.9,548 535,551.1 531.9,554.2 528.8,551.1" stroke="none" stroke-width="1" fill="#8a1be6"/>
<polygon points="600.5,503.3 605.3,503.3 602.9,499" stroke="#18c818" stroke-width="1" fill="white"/>
<polygon points="600.5,546.5 605.3,546.5 602.9,550.8" stroke="#f58220" stroke-width="1" fill="white"/>
<polygon points="602.9,556.9 605.4,559.4 602.9,561.9 600.4,559.4" stroke="#8a1be6" stroke-width="1" fill="white"/>
<text x="546.5" y="511.7" font-size="11.2" fill="#1a1a1a">OH-4</text>
<line x1="544.8" y1="507.6" x2="538.7" y2="512.3" stroke="#111" stroke-width="0.8"/>
<polygon points="536.4,514.1 538.4,510.8 540.1,513" stroke="none" stroke-width="1" fill="#111"/>
<text x="547.4" y="530.8" font-size="11.2" fill="#1a1a1a">OH-3</text>
<line x1="545.3" y1="527.1" x2="539.3" y2="524.2" stroke="#111" stroke-width="0.8"/>
<polygon points="536.7,523 540.6,523.3 539.3,525.8" stroke="none" stroke-width="1" fill="#111"/>
<text x="537.7" y="554.1" font-size="11.2" fill="#1a1a1a">OH-5</text>
<text x="568.8" y="597.1" font-size="12.6" fill="#1a1a1a" text-anchor="middle">Potential (V)</text>
<defs>
<radialGradient id="gell" cx="50%" cy="50%" r="55%"><stop offset="0" stop-color="#d6d6d6"/><stop offset="0.6" stop-color="#a8a8a8"/><stop offset="1" stop-color="#6e6e6e"/></radialGradient>
<linearGradient id="garR" x1="0" x2="1" y1="0" y2="0"><stop offset="0" stop-color="#efefef"/><stop offset="1" stop-color="#9c9c9c"/></linearGradient>
<linearGradient id="garL" x1="1" x2="0" y1="0" y2="0"><stop offset="0" stop-color="#efefef"/><stop offset="1" stop-color="#9c9c9c"/></linearGradient>
<filter id="glow" x="-50%" y="-50%" width="200%" height="200%"><feGaussianBlur stdDeviation="1.15"/></filter>
</defs>
<text x="21.6" y="631.3" font-size="14.4" fill="#000" font-weight="bold">h</text>
<text x="55.5" y="632.2" font-size="14" fill="#1a1a1a">State 2: OCP, steady</text>
<text x="245.2" y="630.9" font-size="13.8" fill="#1a1a1a">State 3: neg. potential, steady</text>
<text x="503.2" y="631.6" font-size="14" fill="#1a1a1a">State 1: OCP, transient</text>
<rect x="52.1" y="732" width="127.4" height="8.6" fill="#7f7f7f" stroke="none" stroke-width="1"/>
<rect x="275.7" y="731.9" width="126.7" height="8.7" fill="#7f7f7f" stroke="none" stroke-width="1"/>
<line x1="278.5" y1="734.4" x2="402" y2="734.4" stroke="#e8e8e8" stroke-width="1" stroke-dasharray="3,6.2"/>
<rect x="513.6" y="731.9" width="126.3" height="8.7" fill="#7f7f7f" stroke="none" stroke-width="1"/>
<path d="M113.6 744.5 L113.6 752.4 L575.1 752.4 L575.1 740.6" stroke="#222" stroke-width="0.9" fill="none" stroke-dasharray="2,1.4"/>
<polygon points="113.6,741.3 115.2,744.9 112,744.9" stroke="none" stroke-width="1" fill="#111"/>
<text x="322.7" y="768.3" font-size="14.1" fill="#1a1a1a">Aging</text>
<ellipse cx="102.2" cy="659.4" rx="14.9" ry="6.2" transform="rotate(40.8 102.2 659.4)" fill="url(#gell)" stroke="#111" stroke-width="1"/>
<ellipse cx="64.8" cy="690.7" rx="15.5" ry="6.4" transform="rotate(18 64.8 690.7)" fill="url(#gell)" stroke="#111" stroke-width="1"/>
<ellipse cx="101" cy="690.7" rx="15.8" ry="6.4" transform="rotate(-33 101 690.7)" fill="url(#gell)" stroke="#111" stroke-width="1"/>
<ellipse cx="127.2" cy="690.7" rx="15.2" ry="6.4" transform="rotate(-38 127.2 690.7)" fill="url(#gell)" stroke="#111" stroke-width="1"/>
<ellipse cx="166" cy="685.4" rx="15.4" ry="6.4" transform="rotate(-55.8 166 685.4)" fill="url(#gell)" stroke="#111" stroke-width="1"/>
<ellipse cx="64.4" cy="716" rx="15.4" ry="6.4" transform="rotate(-21.4 64.4 716)" fill="url(#gell)" stroke="#111" stroke-width="1"/>
<ellipse cx="100.6" cy="715.6" rx="15.3" ry="6.4" transform="rotate(25.7 100.6 715.6)" fill="url(#gell)" stroke="#111" stroke-width="1"/>
<ellipse cx="134.9" cy="715.2" rx="15.6" ry="6.4" transform="rotate(-23.2 134.9 715.2)" fill="url(#gell)" stroke="#111" stroke-width="1"/>
<ellipse cx="166.2" cy="715.6" rx="15.5" ry="6.4" transform="rotate(-19.3 166.2 715.6)" fill="url(#gell)" stroke="#111" stroke-width="1"/>
<ellipse cx="594.3" cy="666.5" rx="15.2" ry="6.1" transform="rotate(39.6 594.3 666.5)" fill="url(#gell)" stroke="#111" stroke-width="1"/>
<g filter="url(#glow)" opacity="0.95"><circle cx="63.4" cy="673.7" r="6.2" fill="#35aef5"/><circle cx="79.7" cy="662.1" r="6.2" fill="#ff4a4a"/><circle cx="84.9" cy="681.9" r="6.2" fill="#2ed62e"/><circle cx="121.6" cy="649.2" r="6.2" fill="#35aef5"/><circle cx="133.9" cy="666.6" r="6.2" fill="#35aef5"/><circle cx="151.3" cy="659.4" r="6.2" fill="#ff4a4a"/><circle cx="147.2" cy="679.9" r="6.2" fill="#35aef5"/><circle cx="172.1" cy="659.4" r="6.2" fill="#35aef5"/></g>
<path d="M59.4 673.8L48.9 674.2M62 669.9L58.4 660.1M67.1 672.2L76.8 668.3M78 658.5L73.6 649M82.3 659L89 651M75.9 663.5L66.1 667.1M79 666L77.2 676.4M84.2 678L82.4 667.6M88.8 680.9L98.9 678.1M120.2 645.4L116.6 635.6M120.2 653L116.6 662.8M125.2 650.9L134.7 655.3M130.8 669.2L122.8 675.9M137.4 664.6L146.5 659.4M137 669.2L145 675.9M151 655.4L150 645M147.5 660.8L137.7 664.4M155.3 659.4L165.8 659.4M150.6 663.3L148.8 673.7M144.4 677.1L136.9 669.6M148.9 676.3L153.3 666.8M147.1 683.9L146.7 694.4M170.4 655.8L166 646.3M168.1 659.4L157.6 659.4M176.1 659.1L186.5 658.1" stroke="#2b4a2b" stroke-width="1.8" stroke-dasharray="2.8,1.8" fill="none"/>
<circle cx="63.4" cy="673.7" r="4.2" fill="#ee0000" stroke="#800" stroke-width="0.35"/><circle cx="65.9" cy="675.8" r="2.15" fill="#fff" stroke="#222" stroke-width="0.45"/><circle cx="60.7" cy="675.6" r="2.15" fill="#fff" stroke="#222" stroke-width="0.45"/><circle cx="79.7" cy="662.1" r="4.2" fill="#ee0000" stroke="#800" stroke-width="0.35"/><circle cx="76.6" cy="661" r="2.15" fill="#fff" stroke="#222" stroke-width="0.45"/><circle cx="81.6" cy="659.4" r="2.15" fill="#fff" stroke="#222" stroke-width="0.45"/><circle cx="84.9" cy="681.9" r="4.2" fill="#ee0000" stroke="#800" stroke-width="0.35"/><circle cx="82" cy="680.2" r="2.15" fill="#fff" stroke="#222" stroke-width="0.45"/><circle cx="87.2" cy="679.6" r="2.15" fill="#fff" stroke="#222" stroke-width="0.45"/><circle cx="121.6" cy="649.2" r="4.2" fill="#ee0000" stroke="#800" stroke-width="0.35"/><circle cx="121" cy="652.4" r="2.15" fill="#fff" stroke="#222" stroke-width="0.45"/><circle cx="118.6" cy="647.8" r="2.15" fill="#fff" stroke="#222" stroke-width="0.45"/><circle cx="133.9" cy="666.6" r="4.2" fill="#ee0000" stroke="#800" stroke-width="0.35"/><circle cx="131" cy="668.2" r="2.15" fill="#fff" stroke="#222" stroke-width="0.45"/><circle cx="133" cy="663.4" r="2.15" fill="#fff" stroke="#222" stroke-width="0.45"/><circle cx="151.3" cy="659.4" r="4.2" fill="#ee0000" stroke="#800" stroke-width="0.35"/><circle cx="148.2" cy="660.5" r="2.15" fill="#fff" stroke="#222" stroke-width="0.45"/><circle cx="151" cy="656.1" r="2.15" fill="#fff" stroke="#222" stroke-width="0.45"/><circle cx="147.2" cy="679.9" r="4.2" fill="#ee0000" stroke="#800" stroke-width="0.35"/><circle cx="145.5" cy="682.8" r="2.15" fill="#fff" stroke="#222" stroke-width="0.45"/><circle cx="144.9" cy="677.6" r="2.15" fill="#fff" stroke="#222" stroke-width="0.45"/><circle cx="172.1" cy="659.4" r="4.2" fill="#ee0000" stroke="#800" stroke-width="0.35"/><circle cx="170.4" cy="662.3" r="2.15" fill="#fff" stroke="#222" stroke-width="0.45"/><circle cx="169.8" cy="657.1" r="2.15" fill="#fff" stroke="#222" stroke-width="0.45"/>
<line x1="63.8" y1="694.3" x2="63.8" y2="712.9" stroke="#111" stroke-width="1"/>
<polygon points="63.8,691.8 65.3,695.2 62.3,695.2" stroke="none" stroke-width="1" fill="#111"/>
<polygon points="63.8,715.4 62.3,712 65.3,712" stroke="none" stroke-width="1" fill="#111"/>
<text x="21.4" y="708.5" font-size="13.9" fill="#1a1a1a">4–5 Å</text>
<g filter="url(#glow)" opacity="0.95"><circle cx="289.4" cy="672.6" r="6.2" fill="#35aef5"/><circle cx="322.1" cy="661.3" r="6.2" fill="#ff4a4a"/><circle cx="349.7" cy="667.1" r="6.2" fill="#35aef5"/><circle cx="383.4" cy="672.6" r="6.2" fill="#ff4a4a"/><circle cx="283.9" cy="701.2" r="6.2" fill="#ff4a4a"/><circle cx="303.7" cy="701.8" r="6.2" fill="#ff4a4a"/><circle cx="322.1" cy="703.2" r="6.2" fill="#35aef5"/><circle cx="335.8" cy="704.7" r="6.2" fill="#35aef5"/><circle cx="353.8" cy="703.2" r="6.2" fill="#ff4a4a"/><circle cx="372.2" cy="702.8" r="6.2" fill="#35aef5"/><circle cx="392.6" cy="702.8" r="6.2" fill="#ff4a4a"/><circle cx="283.3" cy="723.7" r="6.2" fill="#9a2cf0"/><circle cx="302.3" cy="721" r="6.2" fill="#2ed62e"/><circle cx="320.1" cy="723.1" r="6.2" fill="#9a2cf0"/><circle cx="338.5" cy="723.3" r="6.2" fill="#f89a48"/><circle cx="353.8" cy="722.3" r="6.2" fill="#f89a48"/><circle cx="373.8" cy="722.3" r="6.2" fill="#2ed62e"/><circle cx="392.6" cy="721.6" r="6.2" fill="#2ed62e"/></g>
<path d="M286.3 670L278.3 663.3M285.8 674.3L276.3 678.7M292.9 674.6L302 679.9M320.1 657.8L314.9 648.7M324.9 658.5L332.4 651M319.5 664.4L312.8 672.4M324.4 664.6L330.4 673.2M349.7 663.1L349.7 652.6M347.4 670.4L341.4 679M352 670.4L358 679M379.4 672.6L368.9 672.6M382.4 668.7L379.6 658.6M387.4 672.3L397.8 671.3M384.1 676.5L385.9 686.9M283.9 697.2L283.9 686.7M279.9 701.2L269.4 701.2M286.7 704L294.2 711.5M305.7 698.3L310.9 689.2M299.7 701.8L289.2 701.8M303.7 705.8L303.7 716.3M324.4 699.9L330.4 691.3M318.1 703.2L307.6 703.2M322.1 707.2L322.1 717.7M332.3 706.7L323.2 712M339.8 704.7L350.3 704.7M335.8 708.7L335.8 719.2M353.5 699.2L352.5 688.8M349.8 703.2L339.3 703.2M357.8 703.2L368.3 703.2M353.8 707.2L353.8 717.7M368.2 702.8L357.7 702.8M376.2 702.8L386.7 702.8M372.2 706.8L372.2 717.3M391.6 698.9L388.8 688.8M395.9 700.5L404.5 694.5M388.6 702.8L378.1 702.8M392.6 706.8L392.6 717.3M287.3 723.7L297.8 723.7M302.3 717L302.3 706.5M298.3 721L287.8 721M320.1 719.1L320.1 708.6M338.5 719.3L338.5 708.8M353.8 718.3L353.8 707.8M373.8 718.3L373.8 707.8M377.7 723.3L387.8 726.1M392.6 717.6L392.6 707.1M388.6 721.6L378.1 721.6" stroke="#2b4a2b" stroke-width="1.8" stroke-dasharray="2.8,1.8" fill="none"/>
<circle cx="289.4" cy="672.6" r="4.2" fill="#ee0000" stroke="#800" stroke-width="0.35"/><circle cx="287.8" cy="675.5" r="2.15" fill="#fff" stroke="#222" stroke-width="0.45"/><circle cx="287.1" cy="670.3" r="2.15" fill="#fff" stroke="#222" stroke-width="0.45"/><circle cx="322.1" cy="661.3" r="4.2" fill="#ee0000" stroke="#800" stroke-width="0.35"/><circle cx="325" cy="662.9" r="2.15" fill="#fff" stroke="#222" stroke-width="0.45"/><circle cx="319.8" cy="663.6" r="2.15" fill="#fff" stroke="#222" stroke-width="0.45"/><circle cx="349.7" cy="667.1" r="4.2" fill="#ee0000" stroke="#800" stroke-width="0.35"/><circle cx="348.6" cy="670.2" r="2.15" fill="#fff" stroke="#222" stroke-width="0.45"/><circle cx="347" cy="665.2" r="2.15" fill="#fff" stroke="#222" stroke-width="0.45"/><circle cx="383.4" cy="672.6" r="4.2" fill="#ee0000" stroke="#800" stroke-width="0.35"/><circle cx="380.5" cy="674.2" r="2.15" fill="#fff" stroke="#222" stroke-width="0.45"/><circle cx="382.5" cy="669.4" r="2.15" fill="#fff" stroke="#222" stroke-width="0.45"/><circle cx="283.9" cy="701.2" r="4.2" fill="#ee0000" stroke="#800" stroke-width="0.35"/><circle cx="286.4" cy="703.3" r="2.15" fill="#fff" stroke="#222" stroke-width="0.45"/><circle cx="281.2" cy="703.1" r="2.15" fill="#fff" stroke="#222" stroke-width="0.45"/><circle cx="303.7" cy="701.8" r="4.2" fill="#ee0000" stroke="#800" stroke-width="0.35"/><circle cx="306.6" cy="703.4" r="2.15" fill="#fff" stroke="#222" stroke-width="0.45"/><circle cx="301.4" cy="704.1" r="2.15" fill="#fff" stroke="#222" stroke-width="0.45"/><circle cx="322.1" cy="703.2" r="4.2" fill="#ee0000" stroke="#800" stroke-width="0.35"/><circle cx="320" cy="705.7" r="2.15" fill="#fff" stroke="#222" stroke-width="0.45"/><circle cx="320.2" cy="700.5" r="2.15" fill="#fff" stroke="#222" stroke-width="0.45"/><circle cx="335.8" cy="704.7" r="4.2" fill="#ee0000" stroke="#800" stroke-width="0.35"/><circle cx="332.9" cy="706.4" r="2.15" fill="#fff" stroke="#222" stroke-width="0.45"/><circle cx="334.9" cy="701.5" r="2.15" fill="#fff" stroke="#222" stroke-width="0.45"/><circle cx="353.8" cy="703.2" r="4.2" fill="#ee0000" stroke="#800" stroke-width="0.35"/><circle cx="356.3" cy="705.3" r="2.15" fill="#fff" stroke="#222" stroke-width="0.45"/><circle cx="351.1" cy="705.1" r="2.15" fill="#fff" stroke="#222" stroke-width="0.45"/><circle cx="372.2" cy="702.8" r="4.2" fill="#ee0000" stroke="#800" stroke-width="0.35"/><circle cx="370.6" cy="705.7" r="2.15" fill="#fff" stroke="#222" stroke-width="0.45"/><circle cx="369.9" cy="700.5" r="2.15" fill="#fff" stroke="#222" stroke-width="0.45"/><circle cx="392.6" cy="702.8" r="4.2" fill="#ee0000" stroke="#800" stroke-width="0.35"/><circle cx="395.1" cy="704.9" r="2.15" fill="#fff" stroke="#222" stroke-width="0.45"/><circle cx="389.9" cy="704.7" r="2.15" fill="#fff" stroke="#222" stroke-width="0.45"/><circle cx="283.3" cy="723.7" r="4.2" fill="#ee0000" stroke="#800" stroke-width="0.35"/><circle cx="282.2" cy="726.8" r="2.15" fill="#fff" stroke="#222" stroke-width="0.45"/><circle cx="280.6" cy="721.8" r="2.15" fill="#fff" stroke="#222" stroke-width="0.45"/><circle cx="302.3" cy="721" r="4.2" fill="#ee0000" stroke="#800" stroke-width="0.35"/><circle cx="299.2" cy="722.1" r="2.15" fill="#fff" stroke="#222" stroke-width="0.45"/><circle cx="302" cy="717.7" r="2.15" fill="#fff" stroke="#222" stroke-width="0.45"/><circle cx="320.1" cy="723.1" r="4.2" fill="#ee0000" stroke="#800" stroke-width="0.35"/><circle cx="318.5" cy="726" r="2.15" fill="#fff" stroke="#222" stroke-width="0.45"/><circle cx="317.8" cy="720.8" r="2.15" fill="#fff" stroke="#222" stroke-width="0.45"/><circle cx="338.5" cy="723.3" r="4.2" fill="#ee0000" stroke="#800" stroke-width="0.35"/><circle cx="336" cy="725.4" r="2.15" fill="#fff" stroke="#222" stroke-width="0.45"/><circle cx="337.1" cy="720.3" r="2.15" fill="#fff" stroke="#222" stroke-width="0.45"/><circle cx="353.8" cy="722.3" r="4.2" fill="#ee0000" stroke="#800" stroke-width="0.35"/><circle cx="350.7" cy="723.4" r="2.15" fill="#fff" stroke="#222" stroke-width="0.45"/><circle cx="353.5" cy="719" r="2.15" fill="#fff" stroke="#222" stroke-width="0.45"/><circle cx="373.8" cy="722.3" r="4.2" fill="#ee0000" stroke="#800" stroke-width="0.35"/><circle cx="372.2" cy="725.2" r="2.15" fill="#fff" stroke="#222" stroke-width="0.45"/><circle cx="371.5" cy="720" r="2.15" fill="#fff" stroke="#222" stroke-width="0.45"/><circle cx="392.6" cy="721.6" r="4.2" fill="#ee0000" stroke="#800" stroke-width="0.35"/><circle cx="389.5" cy="720.5" r="2.15" fill="#fff" stroke="#222" stroke-width="0.45"/><circle cx="394.5" cy="718.9" r="2.15" fill="#fff" stroke="#222" stroke-width="0.45"/>
<line x1="280.2" y1="706.8" x2="280.2" y2="717.1" stroke="#111" stroke-width="1"/>
<polygon points="280.2,704.3 281.7,707.7 278.7,707.7" stroke="none" stroke-width="1" fill="#111"/>
<polygon points="280.2,719.6 278.7,716.2 281.7,716.2" stroke="none" stroke-width="1" fill="#111"/>
<text x="245.6" y="717.6" font-size="14.2" fill="#1a1a1a">≈3 Å</text>
<g filter="url(#glow)" opacity="0.95"><circle cx="529.1" cy="670.5" r="6.2" fill="#35aef5"/><circle cx="565.3" cy="665.4" r="6.2" fill="#ff4a4a"/><circle cx="627.6" cy="672.6" r="6.2" fill="#35aef5"/><circle cx="514.8" cy="703.2" r="6.2" fill="#ff4a4a"/><circle cx="534.6" cy="700.6" r="6.2" fill="#ff4a4a"/><circle cx="553" cy="705.3" r="6.2" fill="#35aef5"/><circle cx="569.4" cy="705.3" r="6.2" fill="#35aef5"/><circle cx="588.4" cy="700.2" r="6.2" fill="#35aef5"/><circle cx="609.6" cy="699.8" r="6.2" fill="#35aef5"/><circle cx="636.8" cy="704.3" r="6.2" fill="#35aef5"/><circle cx="520.9" cy="721" r="6.2" fill="#2ed62e"/><circle cx="539.7" cy="721" r="6.2" fill="#ff4a4a"/><circle cx="558.5" cy="722.7" r="6.2" fill="#2ed62e"/><circle cx="574.5" cy="725.1" r="6.2" fill="#9a2cf0"/><circle cx="592.5" cy="717.6" r="6.2" fill="#f89a48"/><circle cx="610.3" cy="719.6" r="6.2" fill="#2ed62e"/><circle cx="628.6" cy="724.3" r="6.2" fill="#35aef5"/></g>
<path d="M529.1 666.5L529.1 656M526.8 673.8L520.8 682.4M531.4 673.8L537.4 682.4M563.3 661.9L558 652.8M567.6 662.1L573.6 653.5M562.7 668.5L556 676.5M567.9 668.5L574.6 676.5M627.9 668.6L628.9 658.2M624 670.9L614.5 666.5M631.2 674.3L640.7 678.7M514.8 699.2L514.8 688.7M510.8 703.2L500.3 703.2M518.8 703.2L529.3 703.2M515.8 707.1L518.6 717.2M533.6 696.7L530.8 686.6M538.1 698.6L547.2 693.4M530.6 700.6L520.1 700.6M535.3 704.5L537.1 714.9M550.7 702L544.7 693.4M552.7 709.3L551.7 719.7M550.7 708.6L544.7 717.2M568.7 701.4L566.9 691M570.1 709.2L571.9 719.6M573.3 704.3L583.4 701.5M589.4 696.3L592.2 686.2M584.5 701.2L574.4 704M588.4 704.2L588.4 714.7M608.6 695.9L605.8 685.8M612.7 697.2L620.7 690.5M609.6 703.8L609.6 714.3M634.8 700.8L629.5 691.7M640.1 702L648.7 696M636.1 708.2L634.3 718.6M524.9 721L535.4 721M535.7 721L525.2 721M543.7 721L554.2 721M541.7 717.5L547 708.4M554.5 722.7L544 722.7M574.2 721.1L573.2 710.7M592.5 713.6L592.5 703.1M613.9 721.3L623.4 725.7M610.3 715.6L610.3 705.1M624.6 724.3L614.1 724.3M632.6 724.3L643.1 724.3M629.3 720.4L631.1 710" stroke="#2b4a2b" stroke-width="1.8" stroke-dasharray="2.8,1.8" fill="none"/>
<circle cx="529.1" cy="670.5" r="4.2" fill="#ee0000" stroke="#800" stroke-width="0.35"/><circle cx="527.5" cy="673.4" r="2.15" fill="#fff" stroke="#222" stroke-width="0.45"/><circle cx="526.8" cy="668.2" r="2.15" fill="#fff" stroke="#222" stroke-width="0.45"/><circle cx="565.3" cy="665.4" r="4.2" fill="#ee0000" stroke="#800" stroke-width="0.35"/><circle cx="568.2" cy="667" r="2.15" fill="#fff" stroke="#222" stroke-width="0.45"/><circle cx="563" cy="667.7" r="2.15" fill="#fff" stroke="#222" stroke-width="0.45"/><circle cx="627.6" cy="672.6" r="4.2" fill="#ee0000" stroke="#800" stroke-width="0.35"/><circle cx="626" cy="675.5" r="2.15" fill="#fff" stroke="#222" stroke-width="0.45"/><circle cx="625.3" cy="670.3" r="2.15" fill="#fff" stroke="#222" stroke-width="0.45"/><circle cx="514.8" cy="703.2" r="4.2" fill="#ee0000" stroke="#800" stroke-width="0.35"/><circle cx="517.7" cy="704.9" r="2.15" fill="#fff" stroke="#222" stroke-width="0.45"/><circle cx="512.5" cy="705.5" r="2.15" fill="#fff" stroke="#222" stroke-width="0.45"/><circle cx="534.6" cy="700.6" r="4.2" fill="#ee0000" stroke="#800" stroke-width="0.35"/><circle cx="537.5" cy="702.2" r="2.15" fill="#fff" stroke="#222" stroke-width="0.45"/><circle cx="532.3" cy="702.9" r="2.15" fill="#fff" stroke="#222" stroke-width="0.45"/><circle cx="553" cy="705.3" r="4.2" fill="#ee0000" stroke="#800" stroke-width="0.35"/><circle cx="550.1" cy="706.9" r="2.15" fill="#fff" stroke="#222" stroke-width="0.45"/><circle cx="552.1" cy="702.1" r="2.15" fill="#fff" stroke="#222" stroke-width="0.45"/><circle cx="569.4" cy="705.3" r="4.2" fill="#ee0000" stroke="#800" stroke-width="0.35"/><circle cx="568.3" cy="708.4" r="2.15" fill="#fff" stroke="#222" stroke-width="0.45"/><circle cx="566.7" cy="703.4" r="2.15" fill="#fff" stroke="#222" stroke-width="0.45"/><circle cx="588.4" cy="700.2" r="4.2" fill="#ee0000" stroke="#800" stroke-width="0.35"/><circle cx="590.9" cy="702.3" r="2.15" fill="#fff" stroke="#222" stroke-width="0.45"/><circle cx="585.7" cy="702.1" r="2.15" fill="#fff" stroke="#222" stroke-width="0.45"/><circle cx="609.6" cy="699.8" r="4.2" fill="#ee0000" stroke="#800" stroke-width="0.35"/><circle cx="607.5" cy="702.3" r="2.15" fill="#fff" stroke="#222" stroke-width="0.45"/><circle cx="607.7" cy="697.1" r="2.15" fill="#fff" stroke="#222" stroke-width="0.45"/><circle cx="636.8" cy="704.3" r="4.2" fill="#ee0000" stroke="#800" stroke-width="0.35"/><circle cx="639.3" cy="706.4" r="2.15" fill="#fff" stroke="#222" stroke-width="0.45"/><circle cx="634.1" cy="706.2" r="2.15" fill="#fff" stroke="#222" stroke-width="0.45"/><circle cx="520.9" cy="721" r="4.2" fill="#ee0000" stroke="#800" stroke-width="0.35"/><circle cx="518.8" cy="723.5" r="2.15" fill="#fff" stroke="#222" stroke-width="0.45"/><circle cx="519" cy="718.3" r="2.15" fill="#fff" stroke="#222" stroke-width="0.45"/><circle cx="539.7" cy="721" r="4.2" fill="#ee0000" stroke="#800" stroke-width="0.35"/><circle cx="537.6" cy="718.5" r="2.15" fill="#fff" stroke="#222" stroke-width="0.45"/><circle cx="542.7" cy="719.6" r="2.15" fill="#fff" stroke="#222" stroke-width="0.45"/><circle cx="558.5" cy="722.7" r="4.2" fill="#ee0000" stroke="#800" stroke-width="0.35"/><circle cx="560.1" cy="725.6" r="2.15" fill="#fff" stroke="#222" stroke-width="0.45"/><circle cx="555.3" cy="723.6" r="2.15" fill="#fff" stroke="#222" stroke-width="0.45"/><circle cx="574.5" cy="725.1" r="4.2" fill="#ee0000" stroke="#800" stroke-width="0.35"/><circle cx="572.9" cy="728" r="2.15" fill="#fff" stroke="#222" stroke-width="0.45"/><circle cx="572.2" cy="722.8" r="2.15" fill="#fff" stroke="#222" stroke-width="0.45"/><circle cx="592.5" cy="717.6" r="4.2" fill="#ee0000" stroke="#800" stroke-width="0.35"/><circle cx="589.6" cy="719.2" r="2.15" fill="#fff" stroke="#222" stroke-width="0.45"/><circle cx="591.6" cy="714.4" r="2.15" fill="#fff" stroke="#222" stroke-width="0.45"/><circle cx="610.3" cy="719.6" r="4.2" fill="#ee0000" stroke="#800" stroke-width="0.35"/><circle cx="607.2" cy="720.7" r="2.15" fill="#fff" stroke="#222" stroke-width="0.45"/><circle cx="610" cy="716.3" r="2.15" fill="#fff" stroke="#222" stroke-width="0.45"/><circle cx="628.6" cy="724.3" r="4.2" fill="#ee0000" stroke="#800" stroke-width="0.35"/><circle cx="626.1" cy="726.4" r="2.15" fill="#fff" stroke="#222" stroke-width="0.45"/><circle cx="627.2" cy="721.3" r="2.15" fill="#fff" stroke="#222" stroke-width="0.45"/>
<line x1="508.1" y1="708.8" x2="508.1" y2="719.1" stroke="#111" stroke-width="1"/>
<polygon points="508.1,706.3 509.6,709.7 506.6,709.7" stroke="none" stroke-width="1" fill="#111"/>
<polygon points="508.1,721.6 506.6,718.2 509.6,718.2" stroke="none" stroke-width="1" fill="#111"/>
<text x="474.4" y="719.8" font-size="13.8" fill="#1a1a1a">≈3 Å</text>
<polygon points="213.2,692.6 228.6,692.6 228.6,690.3 236.8,695.6 228.6,700.9 228.6,698.6 213.2,698.6" stroke="#555" stroke-width="0.8" fill="url(#garR)"/>
<text x="211" y="686.6" font-size="13.4" fill="#1a1a1a">Bias</text>
<polygon points="439.6,683.6 455.4,683.6 455.4,681.3 463.6,686.6 455.4,691.9 455.4,689.6 439.6,689.6" stroke="#555" stroke-width="0.8" fill="url(#garR)"/>
<polygon points="462.2,714.5 446.6,714.5 446.6,712.2 438.4,717.5 446.6,722.8 446.6,720.5 462.2,720.5" stroke="#555" stroke-width="0.8" fill="url(#garL)"/>
<text x="450.9" y="662.6" font-size="13.4" fill="#1a1a1a" text-anchor="middle">Remove</text>
<text x="451" y="678.4" font-size="13.4" fill="#1a1a1a" text-anchor="middle">bias</text>
<text x="452.4" y="736.1" font-size="13.4" fill="#1a1a1a" text-anchor="middle">Bias</text>
<ellipse cx="134" cy="792.6" rx="15.6" ry="6" transform="rotate(0 134 792.6)" fill="url(#gell)" stroke="#111" stroke-width="1"/>
<text x="153.8" y="796.6" font-size="11.7" fill="#1a1a1a">Hydrocarbon</text>
<g filter="url(#glow)" opacity="0.95"><circle cx="243.3" cy="792" r="6.2" fill="#ff4a4a"/><circle cx="300.7" cy="792" r="6.2" fill="#35aef5"/><circle cx="357.6" cy="792" r="6.2" fill="#2ed62e"/><circle cx="414" cy="792" r="6.2" fill="#f89a48"/><circle cx="469.4" cy="792" r="6.2" fill="#9a2cf0"/></g>
<circle cx="243.3" cy="792" r="4.2" fill="#ee0000" stroke="#800" stroke-width="0.35"/><circle cx="245.8" cy="794.1" r="2.15" fill="#fff" stroke="#222" stroke-width="0.45"/><circle cx="240.6" cy="793.9" r="2.15" fill="#fff" stroke="#222" stroke-width="0.45"/><circle cx="300.7" cy="792" r="4.2" fill="#ee0000" stroke="#800" stroke-width="0.35"/><circle cx="303.2" cy="794.1" r="2.15" fill="#fff" stroke="#222" stroke-width="0.45"/><circle cx="298" cy="793.9" r="2.15" fill="#fff" stroke="#222" stroke-width="0.45"/><circle cx="357.6" cy="792" r="4.2" fill="#ee0000" stroke="#800" stroke-width="0.35"/><circle cx="360.1" cy="794.1" r="2.15" fill="#fff" stroke="#222" stroke-width="0.45"/><circle cx="354.9" cy="793.9" r="2.15" fill="#fff" stroke="#222" stroke-width="0.45"/><circle cx="414" cy="792" r="4.2" fill="#ee0000" stroke="#800" stroke-width="0.35"/><circle cx="416.5" cy="794.1" r="2.15" fill="#fff" stroke="#222" stroke-width="0.45"/><circle cx="411.3" cy="793.9" r="2.15" fill="#fff" stroke="#222" stroke-width="0.45"/><circle cx="469.4" cy="792" r="4.2" fill="#ee0000" stroke="#800" stroke-width="0.35"/><circle cx="471.9" cy="794.1" r="2.15" fill="#fff" stroke="#222" stroke-width="0.45"/><circle cx="466.7" cy="793.9" r="2.15" fill="#fff" stroke="#222" stroke-width="0.45"/>
<text x="255" y="796.6" font-size="11.7" fill="#1a1a1a">OH-1</text>
<text x="312.4" y="796.6" font-size="11.7" fill="#1a1a1a">OH-2</text>
<text x="367.7" y="796.6" font-size="11.7" fill="#1a1a1a">OH-3</text>
<text x="424.1" y="796.6" font-size="11.7" fill="#1a1a1a">OH-4</text>
<text x="479.5" y="796.6" font-size="11.7" fill="#1a1a1a">OH-5</text>
<line x1="518.8" y1="792.3" x2="529" y2="792.3" stroke="#2b4a2b" stroke-width="1.7" stroke-dasharray="3.6,2.0"/>
<text x="532" y="796.6" font-size="11.7" fill="#1a1a1a">HB</text>
</svg></body></html>
